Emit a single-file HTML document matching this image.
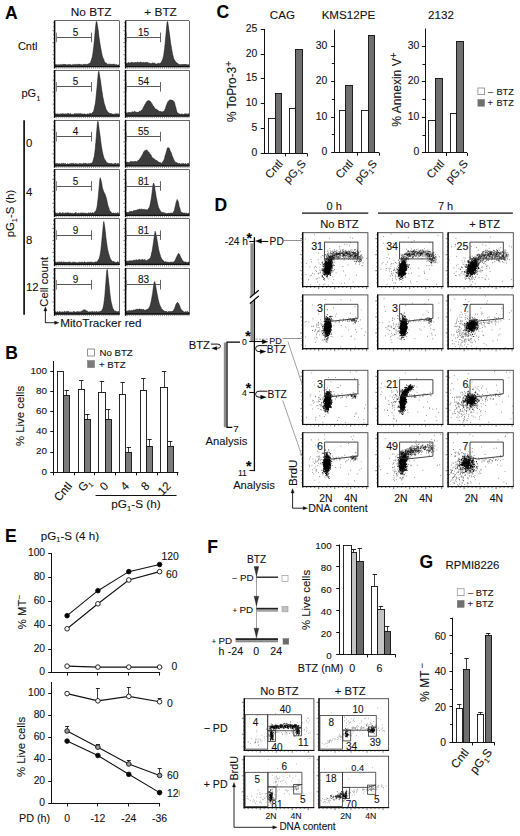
<!DOCTYPE html>
<html><head><meta charset="utf-8"><title>Figure</title>
<style>html,body{margin:0;padding:0;background:#fff;}svg{display:block;}text{font-family:"Liberation Sans", sans-serif;stroke:#111;stroke-width:0.1px;}</style>
</head><body>
<svg width="520" height="836" viewBox="0 0 520 836" font-family="Liberation Sans, sans-serif">
<rect x="0" y="0" width="520" height="836" fill="#fff"/>
<text x="5" y="18.7" font-size="17.5" font-weight="bold" fill="#000">A</text>
<text x="91.15" y="16.3" font-size="11.8" text-anchor="middle" fill="#111">No BTZ</text>
<text x="160.6" y="16.3" font-size="11.8" text-anchor="middle" fill="#111">+ BTZ</text>
<text x="27.7" y="50.2" font-size="11" text-anchor="middle" fill="#111">Cntl</text>
<text x="21.5" y="97.3" font-size="11" fill="#111">pG</text>
<text x="36.4" y="100.5" font-size="7" fill="#111">1</text>
<line x1="24.1" y1="120.2" x2="24.1" y2="314.8" stroke="#111" stroke-width="1.7"/>
<text x="25.9" y="147.2" font-size="11.4" fill="#111">0</text>
<text x="25.9" y="196.3" font-size="11.4" fill="#111">4</text>
<text x="25.9" y="244.4" font-size="11.4" fill="#111">8</text>
<text x="25.9" y="291.1" font-size="11.4" fill="#111">12</text>
<text transform="translate(14.4 213.5) rotate(-90)" font-size="11.3" text-anchor="middle" fill="#111">pG<tspan font-size="7.5" dy="2.6">1</tspan><tspan dy="-2.6">-S (h)</tspan></text>
<text transform="translate(48.2 281.8) rotate(-90)" font-size="11.2" text-anchor="middle" fill="#111">Cell count</text>
<path d="M45.4 323 L45.4 309.5" fill="none" stroke="#111" stroke-width="0.9"/>
<path d="M45.4 306.8 L43.8 311 L47 311 Z" fill="#111" stroke="#111" stroke-width="0.3"/>
<path d="M45.4 322.7 L56 322.7" fill="none" stroke="#111" stroke-width="0.9"/>
<path d="M59 322.7 L54.6 321 L54.6 324.4 Z" fill="#111" stroke="#111" stroke-width="0.3"/>
<text x="60.2" y="326.7" font-size="11.7" fill="#111">MitoTracker red</text>
<path d="M54.6 66.7 L54.6 64.7L55.1 64.9L55.6 64.4L56.1 65.0L56.6 64.5L57.1 64.7L57.6 65.0L58.1 64.5L58.6 65.1L59.1 64.6L59.6 65.0L60.1 65.0L60.6 64.6L61.1 64.2L61.6 65.0L62.1 64.9L62.6 64.4L63.1 64.1L63.6 64.5L64.1 64.7L64.6 64.0L65.1 65.0L65.7 64.2L66.2 64.8L66.7 64.9L67.2 65.0L67.7 64.8L68.2 64.2L68.7 64.9L69.2 64.5L69.7 64.4L70.2 64.7L70.7 64.5L71.2 65.0L71.7 65.0L72.2 64.9L72.7 64.4L73.2 64.6L73.7 64.8L74.2 64.5L74.7 64.6L75.2 64.8L75.7 64.2L76.2 64.3L76.7 64.8L77.2 64.5L77.7 64.5L78.2 64.1L78.7 64.3L79.2 64.8L79.7 64.0L80.2 65.0L80.7 64.6L81.2 64.3L81.7 64.9L82.2 64.6L82.7 65.1L83.2 64.4L83.7 64.3L84.2 64.5L84.7 64.1L85.2 64.7L85.7 64.3L86.2 64.4L86.7 64.4L87.3 64.5L87.8 63.9L88.3 63.7L88.8 64.0L89.3 63.5L89.8 63.7L90.3 62.4L90.8 61.6L91.3 60.0L91.8 58.5L92.3 56.9L92.8 53.9L93.3 50.1L93.8 46.5L94.3 41.0L94.8 35.8L95.3 30.0L95.8 24.7L96.3 21.4L96.8 21.7L97.3 24.4L97.8 27.7L98.3 31.0L98.8 35.7L99.3 39.1L99.8 42.5L100.3 45.5L100.8 48.5L101.3 51.1L101.8 54.0L102.3 55.8L102.8 57.5L103.3 58.4L103.8 59.5L104.3 61.3L104.8 62.1L105.3 62.6L105.8 63.1L106.3 63.2L106.8 63.4L107.3 64.0L107.8 64.5L108.3 64.2L108.9 64.4L109.4 64.2L109.9 63.9L110.4 64.2L110.9 64.4L111.4 64.4L111.9 64.3L112.4 65.0L112.9 64.1L113.4 64.2L113.9 64.1L114.4 64.2L114.9 64.7L115.4 64.7L115.9 65.0L116.4 64.4L116.9 65.0L117.4 65.0L117.9 64.9L118.4 64.9L118.9 64.7L119.4 65.0 L119.4 66.7 Z" fill="#3d3d3d" stroke="#111" stroke-width="0.5"/>
<line x1="54.6" y1="20.5" x2="119.4" y2="20.5" stroke="#555" stroke-width="0.9"/>
<line x1="119.5" y1="20.9" x2="119.5" y2="66.7" stroke="#555" stroke-width="0.9"/>
<line x1="54.6" y1="20.6" x2="54.6" y2="68.5" stroke="#000" stroke-width="1.5"/>
<line x1="54.1" y1="66.7" x2="119.9" y2="66.7" stroke="#111" stroke-width="1.3"/>
<path d="M53.2 62.7h1.4M53.2 58.7h1.4M52.4 54.7h2.2M53.2 50.7h1.4M53.2 46.7h1.4M52.4 42.7h2.2M53.2 38.7h1.4M53.2 34.7h1.4M52.4 30.7h2.2M53.2 26.7h1.4M53.2 22.7h1.4" stroke="#222" stroke-width="0.6"/>
<path d="M56.6 67.2v1.6M58.7 67.2v1.6M60.8 67.2v1.6M62.8 67.2v1.6M64.8 67.2v1.6M66.9 67.2v1.6M69.0 67.2v1.6M71.0 67.2v1.6M73.0 67.2v1.6M75.1 67.2v1.6M77.2 67.2v1.6M79.2 67.2v1.6M81.2 67.2v1.6M83.3 67.2v1.6M85.3 67.2v1.6M87.4 67.2v1.6M89.4 67.2v1.6M91.5 67.2v1.6M93.5 67.2v1.6M95.6 67.2v1.6M97.7 67.2v1.6M99.7 67.2v1.6M101.8 67.2v1.6M103.8 67.2v1.6M105.8 67.2v1.6M107.9 67.2v1.6M109.9 67.2v1.6M112.0 67.2v1.6M114.0 67.2v1.6M116.1 67.2v1.6M118.2 67.2v1.6" stroke="#444" stroke-width="0.55"/>
<line x1="56.4" y1="37.5" x2="91.5" y2="37.5" stroke="#444" stroke-width="0.9"/>
<line x1="56.5" y1="32.6" x2="56.5" y2="42.2" stroke="#777" stroke-width="0.9"/>
<line x1="91.5" y1="32.6" x2="91.5" y2="42.2" stroke="#555" stroke-width="0.9"/>
<text x="75.6" y="35.9" font-size="10" text-anchor="middle" fill="#111">5</text>
<path d="M125.6 66.7 L125.6 63.6L126.1 63.4L126.6 63.4L127.1 63.0L127.6 63.4L128.1 62.4L128.6 62.6L129.1 63.1L129.6 63.0L130.1 62.8L130.6 62.8L131.1 63.0L131.6 62.2L132.1 62.0L132.6 62.5L133.1 62.5L133.6 62.9L134.1 62.9L134.6 62.6L135.1 62.6L135.6 62.0L136.1 62.7L136.6 62.9L137.1 61.9L137.6 62.3L138.1 62.7L138.6 62.3L139.1 62.9L139.6 62.3L140.1 61.9L140.6 62.0L141.1 62.2L141.6 62.7L142.1 62.6L142.6 62.9L143.1 62.2L143.6 62.5L144.1 62.3L144.6 62.8L145.1 62.9L145.6 62.3L146.1 62.2L146.6 62.4L147.1 62.5L147.6 62.5L148.1 62.6L148.6 63.2L149.1 63.0L149.6 63.2L150.1 63.6L150.6 63.6L151.1 63.4L151.6 63.5L152.1 63.1L152.6 62.8L153.1 63.4L153.6 62.9L154.1 62.9L154.6 63.0L155.1 63.7L155.6 63.9L156.1 63.9L156.6 64.0L157.1 64.0L157.6 63.6L158.1 63.3L158.6 63.3L159.1 63.7L159.6 63.4L160.1 63.0L160.6 63.6L161.1 62.5L161.6 61.6L162.1 60.8L162.6 59.5L163.1 58.0L163.6 56.0L164.1 52.2L164.6 48.9L165.1 43.7L165.6 38.1L166.1 33.0L166.6 27.2L167.1 21.9L167.6 21.4L168.1 24.2L168.6 27.7L169.1 31.6L169.6 34.8L170.1 38.8L170.6 43.2L171.1 45.8L171.6 48.7L172.1 51.8L172.6 54.4L173.1 56.2L173.6 58.3L174.1 59.8L174.6 59.9L175.1 61.1L175.6 62.0L176.1 62.1L176.6 63.1L177.1 63.0L177.6 63.3L178.1 64.2L178.6 64.3L179.1 64.4L179.6 64.6L180.1 64.3L180.6 64.7L181.1 64.5L181.6 64.9L182.1 64.0L182.6 64.7L183.1 64.6L183.6 64.4L184.1 64.1L184.6 64.6L185.1 64.1L185.6 64.5L186.1 64.5L186.6 64.5L187.1 65.1L187.6 64.6L188.1 64.9L188.6 65.1L189.1 64.2 L189.1 66.7 Z" fill="#3d3d3d" stroke="#111" stroke-width="0.5"/>
<line x1="125.6" y1="20.5" x2="189.1" y2="20.5" stroke="#555" stroke-width="0.9"/>
<line x1="189.5" y1="20.9" x2="189.5" y2="66.7" stroke="#555" stroke-width="0.9"/>
<line x1="125.6" y1="20.6" x2="125.6" y2="68.5" stroke="#000" stroke-width="1.5"/>
<line x1="125.1" y1="66.7" x2="189.6" y2="66.7" stroke="#111" stroke-width="1.3"/>
<path d="M124.2 62.7h1.4M124.2 58.7h1.4M123.4 54.7h2.2M124.2 50.7h1.4M124.2 46.7h1.4M123.4 42.7h2.2M124.2 38.7h1.4M124.2 34.7h1.4M123.4 30.7h2.2M124.2 26.7h1.4M124.2 22.7h1.4" stroke="#222" stroke-width="0.6"/>
<path d="M127.6 67.2v1.6M129.7 67.2v1.6M131.8 67.2v1.6M133.8 67.2v1.6M135.8 67.2v1.6M137.9 67.2v1.6M139.9 67.2v1.6M142.0 67.2v1.6M144.0 67.2v1.6M146.1 67.2v1.6M148.1 67.2v1.6M150.2 67.2v1.6M152.2 67.2v1.6M154.3 67.2v1.6M156.3 67.2v1.6M158.4 67.2v1.6M160.4 67.2v1.6M162.5 67.2v1.6M164.5 67.2v1.6M166.6 67.2v1.6M168.6 67.2v1.6M170.7 67.2v1.6M172.8 67.2v1.6M174.8 67.2v1.6M176.8 67.2v1.6M178.9 67.2v1.6M180.9 67.2v1.6M183.0 67.2v1.6M185.0 67.2v1.6M187.1 67.2v1.6M189.1 67.2v1.6" stroke="#444" stroke-width="0.55"/>
<line x1="126.8" y1="37.5" x2="160.7" y2="37.5" stroke="#444" stroke-width="0.9"/>
<line x1="126.5" y1="32.6" x2="126.5" y2="42.2" stroke="#777" stroke-width="0.9"/>
<line x1="160.5" y1="32.6" x2="160.5" y2="42.2" stroke="#555" stroke-width="0.9"/>
<text x="143.6" y="35.9" font-size="10" text-anchor="middle" fill="#111">15</text>
<path d="M54.6 116.1 L54.6 114.3L55.1 114.0L55.6 113.7L56.1 113.9L56.6 114.1L57.1 113.9L57.6 113.9L58.1 113.6L58.6 114.4L59.1 113.9L59.6 114.2L60.1 114.2L60.6 113.7L61.1 113.9L61.6 113.9L62.1 113.7L62.6 113.5L63.1 114.0L63.6 113.8L64.1 113.9L64.6 113.9L65.1 113.7L65.7 114.0L66.2 113.9L66.7 114.0L67.2 113.5L67.7 113.7L68.2 113.5L68.7 113.5L69.2 114.2L69.7 113.9L70.2 113.5L70.7 113.6L71.2 114.3L71.7 114.4L72.2 114.0L72.7 114.4L73.2 114.2L73.7 114.4L74.2 113.8L74.7 113.6L75.2 113.5L75.7 114.3L76.2 113.7L76.7 113.8L77.2 114.3L77.7 113.5L78.2 113.4L78.7 114.3L79.2 113.5L79.7 114.1L80.2 114.0L80.7 113.4L81.2 113.6L81.7 114.3L82.2 114.0L82.7 113.9L83.2 114.1L83.7 114.3L84.2 114.1L84.7 113.7L85.2 114.5L85.7 113.9L86.2 114.0L86.7 114.5L87.3 114.1L87.8 113.8L88.3 113.9L88.8 114.4L89.3 113.4L89.8 113.5L90.3 113.3L90.8 114.1L91.3 113.8L91.8 113.8L92.3 112.6L92.8 112.6L93.3 112.0L93.8 110.5L94.3 108.3L94.8 106.1L95.3 103.8L95.8 100.1L96.3 94.6L96.8 89.5L97.3 83.4L97.8 78.1L98.3 73.0L98.8 71.2L99.3 73.6L99.8 76.9L100.3 79.4L100.8 83.2L101.3 86.6L101.8 90.8L102.3 93.1L102.8 96.9L103.3 98.7L103.8 101.5L104.3 103.7L104.8 105.3L105.3 106.4L105.8 108.5L106.3 109.7L106.8 110.2L107.3 111.3L107.8 112.0L108.3 112.5L108.9 113.0L109.4 113.2L109.9 113.3L110.4 113.5L110.9 113.2L111.4 113.8L111.9 113.7L112.4 114.1L112.9 114.0L113.4 114.4L113.9 114.1L114.4 114.4L114.9 113.6L115.4 113.9L115.9 114.3L116.4 114.0L116.9 113.5L117.4 114.4L117.9 113.6L118.4 114.0L118.9 114.0L119.4 113.6 L119.4 116.1 Z" fill="#3d3d3d" stroke="#111" stroke-width="0.5"/>
<line x1="54.6" y1="70.5" x2="119.4" y2="70.5" stroke="#555" stroke-width="0.9"/>
<line x1="119.5" y1="70.3" x2="119.5" y2="116.1" stroke="#555" stroke-width="0.9"/>
<line x1="54.6" y1="70" x2="54.6" y2="117.9" stroke="#000" stroke-width="1.5"/>
<line x1="54.1" y1="116.1" x2="119.9" y2="116.1" stroke="#111" stroke-width="1.3"/>
<path d="M53.2 112.1h1.4M53.2 108.1h1.4M52.4 104.1h2.2M53.2 100.1h1.4M53.2 96.1h1.4M52.4 92.1h2.2M53.2 88.1h1.4M53.2 84.1h1.4M52.4 80.1h2.2M53.2 76.1h1.4M53.2 72.1h1.4" stroke="#222" stroke-width="0.6"/>
<path d="M56.6 116.6v1.6M58.7 116.6v1.6M60.8 116.6v1.6M62.8 116.6v1.6M64.8 116.6v1.6M66.9 116.6v1.6M69.0 116.6v1.6M71.0 116.6v1.6M73.0 116.6v1.6M75.1 116.6v1.6M77.2 116.6v1.6M79.2 116.6v1.6M81.2 116.6v1.6M83.3 116.6v1.6M85.3 116.6v1.6M87.4 116.6v1.6M89.4 116.6v1.6M91.5 116.6v1.6M93.5 116.6v1.6M95.6 116.6v1.6M97.7 116.6v1.6M99.7 116.6v1.6M101.8 116.6v1.6M103.8 116.6v1.6M105.8 116.6v1.6M107.9 116.6v1.6M109.9 116.6v1.6M112.0 116.6v1.6M114.0 116.6v1.6M116.1 116.6v1.6M118.2 116.6v1.6" stroke="#444" stroke-width="0.55"/>
<line x1="56.4" y1="86.5" x2="91.5" y2="86.5" stroke="#444" stroke-width="0.9"/>
<line x1="56.5" y1="82" x2="56.5" y2="91.6" stroke="#777" stroke-width="0.9"/>
<line x1="91.5" y1="82" x2="91.5" y2="91.6" stroke="#555" stroke-width="0.9"/>
<text x="75.6" y="85.3" font-size="10" text-anchor="middle" fill="#111">5</text>
<path d="M125.6 116.1 L125.6 113.5L126.1 113.2L126.6 112.9L127.1 112.5L127.6 113.1L128.1 112.4L128.6 112.4L129.1 112.3L129.6 112.5L130.1 112.4L130.6 112.6L131.1 112.4L131.6 112.4L132.1 111.6L132.6 112.1L133.1 112.1L133.6 112.2L134.1 111.4L134.6 111.4L135.1 111.6L135.6 112.1L136.1 112.2L136.6 112.2L137.1 112.1L137.6 112.5L138.1 112.1L138.6 112.3L139.1 111.5L139.6 111.3L140.1 111.6L140.6 111.6L141.1 110.3L141.6 110.5L142.1 109.8L142.6 109.5L143.1 108.2L143.6 107.1L144.1 106.1L144.6 105.4L145.1 104.0L145.6 103.6L146.1 102.4L146.6 101.9L147.1 101.0L147.6 101.0L148.1 100.8L148.6 100.6L149.1 100.9L149.6 100.8L150.1 101.4L150.6 101.7L151.1 102.5L151.6 103.2L152.1 103.8L152.6 105.2L153.1 106.1L153.6 106.1L154.1 107.7L154.6 107.7L155.1 108.4L155.6 109.5L156.1 109.1L156.6 109.3L157.1 110.0L157.6 110.1L158.1 110.3L158.6 111.3L159.1 111.1L159.6 111.4L160.1 111.2L160.6 111.5L161.1 111.6L161.6 112.0L162.1 111.7L162.6 111.8L163.1 111.5L163.6 111.6L164.1 111.1L164.6 110.2L165.1 108.9L165.6 108.0L166.1 105.9L166.6 104.9L167.1 103.6L167.6 102.4L168.1 101.4L168.6 100.9L169.1 100.9L169.6 99.8L170.1 99.8L170.6 100.1L171.1 100.2L171.6 100.1L172.1 100.7L172.6 100.0L173.1 100.7L173.6 101.2L174.1 101.7L174.6 102.7L175.1 105.2L175.6 106.8L176.1 108.7L176.6 110.9L177.1 112.3L177.6 113.0L178.1 113.3L178.6 113.4L179.1 113.7L179.6 113.8L180.1 114.4L180.6 114.3L181.1 114.2L181.6 113.7L182.1 114.2L182.6 113.9L183.1 114.5L183.6 114.4L184.1 114.2L184.6 113.8L185.1 113.7L185.6 113.8L186.1 114.2L186.6 113.9L187.1 114.0L187.6 114.0L188.1 114.4L188.6 113.5L189.1 114.3 L189.1 116.1 Z" fill="#3d3d3d" stroke="#111" stroke-width="0.5"/>
<line x1="125.6" y1="70.5" x2="189.1" y2="70.5" stroke="#555" stroke-width="0.9"/>
<line x1="189.5" y1="70.3" x2="189.5" y2="116.1" stroke="#555" stroke-width="0.9"/>
<line x1="125.6" y1="70" x2="125.6" y2="117.9" stroke="#000" stroke-width="1.5"/>
<line x1="125.1" y1="116.1" x2="189.6" y2="116.1" stroke="#111" stroke-width="1.3"/>
<path d="M124.2 112.1h1.4M124.2 108.1h1.4M123.4 104.1h2.2M124.2 100.1h1.4M124.2 96.1h1.4M123.4 92.1h2.2M124.2 88.1h1.4M124.2 84.1h1.4M123.4 80.1h2.2M124.2 76.1h1.4M124.2 72.1h1.4" stroke="#222" stroke-width="0.6"/>
<path d="M127.6 116.6v1.6M129.7 116.6v1.6M131.8 116.6v1.6M133.8 116.6v1.6M135.8 116.6v1.6M137.9 116.6v1.6M139.9 116.6v1.6M142.0 116.6v1.6M144.0 116.6v1.6M146.1 116.6v1.6M148.1 116.6v1.6M150.2 116.6v1.6M152.2 116.6v1.6M154.3 116.6v1.6M156.3 116.6v1.6M158.4 116.6v1.6M160.4 116.6v1.6M162.5 116.6v1.6M164.5 116.6v1.6M166.6 116.6v1.6M168.6 116.6v1.6M170.7 116.6v1.6M172.8 116.6v1.6M174.8 116.6v1.6M176.8 116.6v1.6M178.9 116.6v1.6M180.9 116.6v1.6M183.0 116.6v1.6M185.0 116.6v1.6M187.1 116.6v1.6M189.1 116.6v1.6" stroke="#444" stroke-width="0.55"/>
<line x1="126.8" y1="86.5" x2="160.7" y2="86.5" stroke="#444" stroke-width="0.9"/>
<line x1="126.5" y1="82" x2="126.5" y2="91.6" stroke="#777" stroke-width="0.9"/>
<line x1="160.5" y1="82" x2="160.5" y2="91.6" stroke="#555" stroke-width="0.9"/>
<text x="143.6" y="85.3" font-size="10" text-anchor="middle" fill="#111">54</text>
<path d="M54.6 165.9 L54.6 163.2L55.1 163.3L55.6 164.3L56.1 163.8L56.6 163.4L57.1 163.2L57.6 163.8L58.1 164.0L58.6 164.1L59.1 163.3L59.6 164.1L60.1 163.7L60.6 164.1L61.1 163.7L61.6 163.3L62.1 164.2L62.6 163.4L63.1 163.7L63.6 163.3L64.1 163.5L64.6 164.0L65.1 163.3L65.7 163.8L66.2 164.3L66.7 164.3L67.2 163.8L67.7 163.8L68.2 164.0L68.7 164.1L69.2 163.9L69.7 164.0L70.2 163.4L70.7 164.3L71.2 163.5L71.7 163.4L72.2 164.2L72.7 163.3L73.2 163.5L73.7 163.3L74.2 164.0L74.7 163.9L75.2 163.9L75.7 163.2L76.2 163.7L76.7 163.9L77.2 163.8L77.7 164.0L78.2 164.2L78.7 164.2L79.2 163.4L79.7 164.0L80.2 163.3L80.7 164.0L81.2 164.0L81.7 163.7L82.2 164.1L82.7 163.9L83.2 163.2L83.7 163.3L84.2 163.4L84.7 163.6L85.2 163.3L85.7 163.3L86.2 163.7L86.7 163.5L87.3 164.2L87.8 163.5L88.3 163.8L88.8 163.4L89.3 163.5L89.8 163.9L90.3 164.1L90.8 163.0L91.3 163.6L91.8 162.9L92.3 162.5L92.8 161.7L93.3 160.0L93.8 158.0L94.3 156.2L94.8 152.4L95.3 148.4L95.8 142.7L96.3 136.5L96.8 130.1L97.3 124.0L97.8 121.2L98.3 122.7L98.8 126.4L99.3 130.5L99.8 133.7L100.3 137.5L100.8 141.8L101.3 145.6L101.8 148.6L102.3 151.4L102.8 153.5L103.3 155.8L103.8 157.3L104.3 158.7L104.8 159.5L105.3 160.1L105.8 161.0L106.3 161.9L106.8 162.4L107.3 162.6L107.8 163.1L108.3 163.3L108.9 163.8L109.4 163.7L109.9 163.0L110.4 164.0L110.9 163.6L111.4 163.5L111.9 163.3L112.4 164.0L112.9 164.0L113.4 164.0L113.9 163.8L114.4 163.8L114.9 163.2L115.4 163.4L115.9 163.3L116.4 164.3L116.9 164.3L117.4 163.5L117.9 163.3L118.4 163.8L118.9 163.7L119.4 164.3 L119.4 165.9 Z" fill="#3d3d3d" stroke="#111" stroke-width="0.5"/>
<line x1="54.6" y1="120.5" x2="119.4" y2="120.5" stroke="#555" stroke-width="0.9"/>
<line x1="119.5" y1="120.1" x2="119.5" y2="165.9" stroke="#555" stroke-width="0.9"/>
<line x1="54.6" y1="119.8" x2="54.6" y2="167.7" stroke="#000" stroke-width="1.5"/>
<line x1="54.1" y1="165.9" x2="119.9" y2="165.9" stroke="#111" stroke-width="1.3"/>
<path d="M53.2 161.9h1.4M53.2 157.9h1.4M52.4 153.9h2.2M53.2 149.9h1.4M53.2 145.9h1.4M52.4 141.9h2.2M53.2 137.9h1.4M53.2 133.9h1.4M52.4 129.9h2.2M53.2 125.9h1.4M53.2 121.9h1.4" stroke="#222" stroke-width="0.6"/>
<path d="M56.6 166.4v1.6M58.7 166.4v1.6M60.8 166.4v1.6M62.8 166.4v1.6M64.8 166.4v1.6M66.9 166.4v1.6M69.0 166.4v1.6M71.0 166.4v1.6M73.0 166.4v1.6M75.1 166.4v1.6M77.2 166.4v1.6M79.2 166.4v1.6M81.2 166.4v1.6M83.3 166.4v1.6M85.3 166.4v1.6M87.4 166.4v1.6M89.4 166.4v1.6M91.5 166.4v1.6M93.5 166.4v1.6M95.6 166.4v1.6M97.7 166.4v1.6M99.7 166.4v1.6M101.8 166.4v1.6M103.8 166.4v1.6M105.8 166.4v1.6M107.9 166.4v1.6M109.9 166.4v1.6M112.0 166.4v1.6M114.0 166.4v1.6M116.1 166.4v1.6M118.2 166.4v1.6" stroke="#444" stroke-width="0.55"/>
<line x1="56.4" y1="136.5" x2="91.5" y2="136.5" stroke="#444" stroke-width="0.9"/>
<line x1="56.5" y1="131.8" x2="56.5" y2="141.4" stroke="#777" stroke-width="0.9"/>
<line x1="91.5" y1="131.8" x2="91.5" y2="141.4" stroke="#555" stroke-width="0.9"/>
<text x="75.6" y="135.1" font-size="10" text-anchor="middle" fill="#111">4</text>
<path d="M125.6 165.9 L125.6 163.1L126.1 162.4L126.6 162.4L127.1 162.3L127.6 162.0L128.1 162.7L128.6 162.7L129.1 162.6L129.6 162.0L130.1 161.8L130.6 161.4L131.1 161.6L131.6 161.6L132.1 161.4L132.6 161.7L133.1 161.6L133.6 162.1L134.1 161.3L134.6 161.9L135.1 161.1L135.6 161.4L136.1 161.7L136.6 161.7L137.1 161.4L137.6 160.7L138.1 160.3L138.6 160.6L139.1 160.1L139.6 159.0L140.1 158.3L140.6 157.8L141.1 157.1L141.6 155.8L142.1 155.6L142.6 154.3L143.1 153.3L143.6 151.9L144.1 151.5L144.6 150.7L145.1 150.6L145.6 150.6L146.1 150.5L146.6 149.7L147.1 150.2L147.6 151.0L148.1 151.8L148.6 151.9L149.1 152.4L149.6 153.4L150.1 154.3L150.6 154.6L151.1 155.1L151.6 156.6L152.1 157.5L152.6 157.8L153.1 158.2L153.6 158.4L154.1 159.4L154.6 159.1L155.1 159.5L155.6 160.1L156.1 160.7L156.6 160.2L157.1 161.2L157.6 161.0L158.1 162.0L158.6 162.3L159.1 162.0L159.6 162.7L160.1 162.2L160.6 162.9L161.1 163.3L161.6 163.2L162.1 162.8L162.6 162.1L163.1 161.1L163.6 161.1L164.1 159.6L164.6 158.2L165.1 155.6L165.6 154.5L166.1 152.7L166.6 150.9L167.1 149.1L167.6 147.7L168.1 147.5L168.6 147.9L169.1 148.1L169.6 149.0L170.1 150.6L170.6 151.9L171.1 152.4L171.6 153.9L172.1 156.0L172.6 156.6L173.1 158.1L173.6 159.2L174.1 160.2L174.6 161.2L175.1 162.0L175.6 162.3L176.1 162.7L176.6 162.3L177.1 163.5L177.6 162.8L178.1 163.8L178.6 163.7L179.1 163.3L179.6 163.3L180.1 163.8L180.6 164.2L181.1 163.8L181.6 163.9L182.1 163.3L182.6 164.1L183.1 163.9L183.6 163.3L184.1 164.3L184.6 163.8L185.1 163.4L185.6 163.5L186.1 164.3L186.6 164.3L187.1 164.2L187.6 163.3L188.1 164.0L188.6 163.5L189.1 163.3 L189.1 165.9 Z" fill="#3d3d3d" stroke="#111" stroke-width="0.5"/>
<line x1="125.6" y1="120.5" x2="189.1" y2="120.5" stroke="#555" stroke-width="0.9"/>
<line x1="189.5" y1="120.1" x2="189.5" y2="165.9" stroke="#555" stroke-width="0.9"/>
<line x1="125.6" y1="119.8" x2="125.6" y2="167.7" stroke="#000" stroke-width="1.5"/>
<line x1="125.1" y1="165.9" x2="189.6" y2="165.9" stroke="#111" stroke-width="1.3"/>
<path d="M124.2 161.9h1.4M124.2 157.9h1.4M123.4 153.9h2.2M124.2 149.9h1.4M124.2 145.9h1.4M123.4 141.9h2.2M124.2 137.9h1.4M124.2 133.9h1.4M123.4 129.9h2.2M124.2 125.9h1.4M124.2 121.9h1.4" stroke="#222" stroke-width="0.6"/>
<path d="M127.6 166.4v1.6M129.7 166.4v1.6M131.8 166.4v1.6M133.8 166.4v1.6M135.8 166.4v1.6M137.9 166.4v1.6M139.9 166.4v1.6M142.0 166.4v1.6M144.0 166.4v1.6M146.1 166.4v1.6M148.1 166.4v1.6M150.2 166.4v1.6M152.2 166.4v1.6M154.3 166.4v1.6M156.3 166.4v1.6M158.4 166.4v1.6M160.4 166.4v1.6M162.5 166.4v1.6M164.5 166.4v1.6M166.6 166.4v1.6M168.6 166.4v1.6M170.7 166.4v1.6M172.8 166.4v1.6M174.8 166.4v1.6M176.8 166.4v1.6M178.9 166.4v1.6M180.9 166.4v1.6M183.0 166.4v1.6M185.0 166.4v1.6M187.1 166.4v1.6M189.1 166.4v1.6" stroke="#444" stroke-width="0.55"/>
<line x1="126.8" y1="136.5" x2="160.7" y2="136.5" stroke="#444" stroke-width="0.9"/>
<line x1="126.5" y1="131.8" x2="126.5" y2="141.4" stroke="#777" stroke-width="0.9"/>
<line x1="160.5" y1="131.8" x2="160.5" y2="141.4" stroke="#555" stroke-width="0.9"/>
<text x="143.6" y="135.1" font-size="10" text-anchor="middle" fill="#111">55</text>
<path d="M54.6 215.3 L54.6 213.3L55.1 213.4L55.6 212.6L56.1 213.0L56.6 213.4L57.1 212.9L57.6 213.4L58.1 213.4L58.6 213.7L59.1 212.9L59.6 212.7L60.1 213.0L60.6 212.7L61.1 213.7L61.6 213.4L62.1 213.2L62.6 212.6L63.1 212.7L63.6 213.3L64.1 213.4L64.6 213.2L65.1 213.2L65.7 212.7L66.2 213.5L66.7 212.8L67.2 212.9L67.7 212.8L68.2 212.8L68.7 213.0L69.2 213.3L69.7 213.3L70.2 213.3L70.7 212.8L71.2 213.6L71.7 213.5L72.2 212.9L72.7 213.4L73.2 213.6L73.7 213.7L74.2 213.1L74.7 213.3L75.2 212.6L75.7 212.7L76.2 212.6L76.7 213.4L77.2 213.6L77.7 213.6L78.2 213.2L78.7 212.9L79.2 213.2L79.7 213.4L80.2 213.2L80.7 213.0L81.2 213.0L81.7 212.9L82.2 212.8L82.7 213.0L83.2 213.6L83.7 212.8L84.2 213.4L84.7 213.1L85.2 213.3L85.7 212.9L86.2 213.5L86.7 213.4L87.3 213.4L87.8 213.5L88.3 212.7L88.8 213.1L89.3 213.3L89.8 213.3L90.3 212.6L90.8 213.1L91.3 213.4L91.8 212.8L92.3 212.9L92.8 212.5L93.3 213.4L93.8 212.9L94.3 212.3L94.8 211.9L95.3 211.2L95.8 211.3L96.3 209.7L96.8 207.9L97.3 205.1L97.8 200.7L98.3 196.5L98.8 190.8L99.3 185.5L99.8 179.6L100.3 177.7L100.8 179.7L101.3 181.5L101.8 184.0L102.3 187.3L102.8 188.9L103.3 190.5L103.8 192.1L104.3 192.8L104.8 193.9L105.3 195.0L105.8 196.6L106.3 198.1L106.8 200.1L107.3 202.7L107.8 205.1L108.3 206.7L108.9 208.0L109.4 210.0L109.9 210.9L110.4 211.8L110.9 211.7L111.4 212.4L111.9 213.2L112.4 213.3L112.9 213.1L113.4 213.0L113.9 212.9L114.4 213.5L114.9 213.5L115.4 212.9L115.9 213.2L116.4 213.4L116.9 213.4L117.4 212.6L117.9 213.4L118.4 213.1L118.9 213.3L119.4 213.2 L119.4 215.3 Z" fill="#3d3d3d" stroke="#111" stroke-width="0.5"/>
<line x1="54.6" y1="169.5" x2="119.4" y2="169.5" stroke="#555" stroke-width="0.9"/>
<line x1="119.5" y1="169.5" x2="119.5" y2="215.3" stroke="#555" stroke-width="0.9"/>
<line x1="54.6" y1="169.2" x2="54.6" y2="217.1" stroke="#000" stroke-width="1.5"/>
<line x1="54.1" y1="215.3" x2="119.9" y2="215.3" stroke="#111" stroke-width="1.3"/>
<path d="M53.2 211.3h1.4M53.2 207.3h1.4M52.4 203.3h2.2M53.2 199.3h1.4M53.2 195.3h1.4M52.4 191.3h2.2M53.2 187.3h1.4M53.2 183.3h1.4M52.4 179.3h2.2M53.2 175.3h1.4M53.2 171.3h1.4" stroke="#222" stroke-width="0.6"/>
<path d="M56.6 215.8v1.6M58.7 215.8v1.6M60.8 215.8v1.6M62.8 215.8v1.6M64.8 215.8v1.6M66.9 215.8v1.6M69.0 215.8v1.6M71.0 215.8v1.6M73.0 215.8v1.6M75.1 215.8v1.6M77.2 215.8v1.6M79.2 215.8v1.6M81.2 215.8v1.6M83.3 215.8v1.6M85.3 215.8v1.6M87.4 215.8v1.6M89.4 215.8v1.6M91.5 215.8v1.6M93.5 215.8v1.6M95.6 215.8v1.6M97.7 215.8v1.6M99.7 215.8v1.6M101.8 215.8v1.6M103.8 215.8v1.6M105.8 215.8v1.6M107.9 215.8v1.6M109.9 215.8v1.6M112.0 215.8v1.6M114.0 215.8v1.6M116.1 215.8v1.6M118.2 215.8v1.6" stroke="#444" stroke-width="0.55"/>
<line x1="56.4" y1="186.5" x2="91.5" y2="186.5" stroke="#444" stroke-width="0.9"/>
<line x1="56.5" y1="181.2" x2="56.5" y2="190.8" stroke="#777" stroke-width="0.9"/>
<line x1="91.5" y1="181.2" x2="91.5" y2="190.8" stroke="#555" stroke-width="0.9"/>
<text x="75.6" y="184.5" font-size="10" text-anchor="middle" fill="#111">5</text>
<path d="M125.6 215.3 L125.6 212.2L126.1 212.0L126.6 212.6L127.1 212.7L127.6 212.1L128.1 212.6L128.6 212.7L129.1 211.6L129.6 212.0L130.1 211.4L130.6 211.8L131.1 211.1L131.6 211.5L132.1 211.6L132.6 211.7L133.1 210.9L133.6 210.7L134.1 210.3L134.6 211.0L135.1 210.3L135.6 210.4L136.1 210.1L136.6 210.4L137.1 210.1L137.6 209.8L138.1 209.2L138.6 210.0L139.1 209.5L139.6 209.1L140.1 208.9L140.6 209.7L141.1 209.8L141.6 208.9L142.1 208.8L142.6 209.4L143.1 209.9L143.6 209.1L144.1 209.7L144.6 209.3L145.1 209.7L145.6 209.5L146.1 210.3L146.6 209.6L147.1 210.2L147.6 209.8L148.1 208.9L148.6 208.3L149.1 208.1L149.6 206.7L150.1 204.8L150.6 202.3L151.1 199.6L151.6 196.5L152.1 192.6L152.6 188.1L153.1 184.4L153.6 183.1L154.1 184.2L154.6 186.6L155.1 190.5L155.6 192.8L156.1 196.6L156.6 198.9L157.1 201.5L157.6 203.7L158.1 205.9L158.6 207.4L159.1 208.5L159.6 209.8L160.1 210.3L160.6 211.2L161.1 211.7L161.6 212.6L162.1 212.2L162.6 212.6L163.1 213.0L163.6 212.6L164.1 212.6L164.6 213.1L165.1 213.4L165.6 213.1L166.1 213.5L166.6 213.5L167.1 213.2L167.6 213.6L168.1 213.2L168.6 213.1L169.1 213.7L169.6 213.0L170.1 213.6L170.6 212.9L171.1 212.8L171.6 213.1L172.1 213.6L172.6 212.9L173.1 212.8L173.6 211.6L174.1 211.5L174.6 209.2L175.1 207.0L175.6 204.9L176.1 202.4L176.6 201.2L177.1 199.4L177.6 200.3L178.1 201.0L178.6 202.9L179.1 206.0L179.6 207.4L180.1 209.1L180.6 211.4L181.1 212.1L181.6 212.2L182.1 213.2L182.6 212.6L183.1 213.3L183.6 212.8L184.1 213.5L184.6 213.1L185.1 212.7L185.6 213.5L186.1 213.4L186.6 213.1L187.1 213.3L187.6 213.7L188.1 213.5L188.6 213.5L189.1 212.7 L189.1 215.3 Z" fill="#3d3d3d" stroke="#111" stroke-width="0.5"/>
<line x1="125.6" y1="169.5" x2="189.1" y2="169.5" stroke="#555" stroke-width="0.9"/>
<line x1="189.5" y1="169.5" x2="189.5" y2="215.3" stroke="#555" stroke-width="0.9"/>
<line x1="125.6" y1="169.2" x2="125.6" y2="217.1" stroke="#000" stroke-width="1.5"/>
<line x1="125.1" y1="215.3" x2="189.6" y2="215.3" stroke="#111" stroke-width="1.3"/>
<path d="M124.2 211.3h1.4M124.2 207.3h1.4M123.4 203.3h2.2M124.2 199.3h1.4M124.2 195.3h1.4M123.4 191.3h2.2M124.2 187.3h1.4M124.2 183.3h1.4M123.4 179.3h2.2M124.2 175.3h1.4M124.2 171.3h1.4" stroke="#222" stroke-width="0.6"/>
<path d="M127.6 215.8v1.6M129.7 215.8v1.6M131.8 215.8v1.6M133.8 215.8v1.6M135.8 215.8v1.6M137.9 215.8v1.6M139.9 215.8v1.6M142.0 215.8v1.6M144.0 215.8v1.6M146.1 215.8v1.6M148.1 215.8v1.6M150.2 215.8v1.6M152.2 215.8v1.6M154.3 215.8v1.6M156.3 215.8v1.6M158.4 215.8v1.6M160.4 215.8v1.6M162.5 215.8v1.6M164.5 215.8v1.6M166.6 215.8v1.6M168.6 215.8v1.6M170.7 215.8v1.6M172.8 215.8v1.6M174.8 215.8v1.6M176.8 215.8v1.6M178.9 215.8v1.6M180.9 215.8v1.6M183.0 215.8v1.6M185.0 215.8v1.6M187.1 215.8v1.6M189.1 215.8v1.6" stroke="#444" stroke-width="0.55"/>
<line x1="126.8" y1="186.5" x2="160.7" y2="186.5" stroke="#444" stroke-width="0.9"/>
<line x1="126.5" y1="181.2" x2="126.5" y2="190.8" stroke="#777" stroke-width="0.9"/>
<line x1="160.5" y1="181.2" x2="160.5" y2="190.8" stroke="#555" stroke-width="0.9"/>
<text x="143.6" y="184.5" font-size="10" text-anchor="middle" fill="#111">81</text>
<path d="M54.6 264.4 L54.6 262.1L55.1 261.8L55.6 262.6L56.1 261.9L56.6 262.7L57.1 262.2L57.6 262.1L58.1 262.4L58.6 261.8L59.1 262.2L59.6 262.2L60.1 261.8L60.6 262.7L61.1 261.7L61.6 262.1L62.1 262.4L62.6 261.9L63.1 262.5L63.6 261.7L64.1 262.2L64.6 262.4L65.1 262.0L65.7 262.3L66.2 262.6L66.7 262.0L67.2 262.7L67.7 261.9L68.2 262.5L68.7 262.1L69.2 261.7L69.7 262.2L70.2 262.1L70.7 262.5L71.2 262.8L71.7 262.8L72.2 262.6L72.7 262.1L73.2 262.3L73.7 262.2L74.2 261.8L74.7 262.7L75.2 262.6L75.7 262.1L76.2 262.8L76.7 262.8L77.2 262.4L77.7 262.7L78.2 262.4L78.7 262.6L79.2 262.2L79.7 262.2L80.2 262.6L80.7 262.1L81.2 262.3L81.7 262.7L82.2 261.8L82.7 262.5L83.2 262.6L83.7 262.7L84.2 262.1L84.7 261.8L85.2 261.9L85.7 262.4L86.2 262.5L86.7 262.8L87.3 262.1L87.8 262.2L88.3 262.4L88.8 262.1L89.3 262.3L89.8 261.8L90.3 262.0L90.8 262.5L91.3 261.8L91.8 262.7L92.3 262.2L92.8 262.3L93.3 262.5L93.8 262.7L94.3 261.9L94.8 262.7L95.3 262.1L95.8 261.6L96.3 262.3L96.8 262.1L97.3 261.3L97.8 261.0L98.3 260.1L98.8 259.0L99.3 258.3L99.8 256.2L100.3 253.7L100.8 250.7L101.3 245.7L101.8 240.9L102.3 235.5L102.8 230.5L103.3 224.4L103.8 221.5L104.3 224.0L104.8 227.3L105.3 231.7L105.8 236.2L106.3 240.4L106.8 244.0L107.3 247.6L107.8 250.2L108.3 252.3L108.9 254.4L109.4 256.0L109.9 257.5L110.4 259.1L110.9 259.6L111.4 260.4L111.9 260.6L112.4 261.2L112.9 261.8L113.4 261.6L113.9 261.4L114.4 262.3L114.9 261.7L115.4 262.7L115.9 262.4L116.4 262.5L116.9 261.9L117.4 261.7L117.9 262.0L118.4 262.4L118.9 261.8L119.4 262.4 L119.4 264.4 Z" fill="#3d3d3d" stroke="#111" stroke-width="0.5"/>
<line x1="54.6" y1="218.5" x2="119.4" y2="218.5" stroke="#555" stroke-width="0.9"/>
<line x1="119.5" y1="218.6" x2="119.5" y2="264.4" stroke="#555" stroke-width="0.9"/>
<line x1="54.6" y1="218.3" x2="54.6" y2="266.2" stroke="#000" stroke-width="1.5"/>
<line x1="54.1" y1="264.4" x2="119.9" y2="264.4" stroke="#111" stroke-width="1.3"/>
<path d="M53.2 260.4h1.4M53.2 256.4h1.4M52.4 252.4h2.2M53.2 248.4h1.4M53.2 244.4h1.4M52.4 240.4h2.2M53.2 236.4h1.4M53.2 232.4h1.4M52.4 228.4h2.2M53.2 224.4h1.4M53.2 220.4h1.4" stroke="#222" stroke-width="0.6"/>
<path d="M56.6 264.9v1.6M58.7 264.9v1.6M60.8 264.9v1.6M62.8 264.9v1.6M64.8 264.9v1.6M66.9 264.9v1.6M69.0 264.9v1.6M71.0 264.9v1.6M73.0 264.9v1.6M75.1 264.9v1.6M77.2 264.9v1.6M79.2 264.9v1.6M81.2 264.9v1.6M83.3 264.9v1.6M85.3 264.9v1.6M87.4 264.9v1.6M89.4 264.9v1.6M91.5 264.9v1.6M93.5 264.9v1.6M95.6 264.9v1.6M97.7 264.9v1.6M99.7 264.9v1.6M101.8 264.9v1.6M103.8 264.9v1.6M105.8 264.9v1.6M107.9 264.9v1.6M109.9 264.9v1.6M112.0 264.9v1.6M114.0 264.9v1.6M116.1 264.9v1.6M118.2 264.9v1.6" stroke="#444" stroke-width="0.55"/>
<line x1="56.4" y1="235.5" x2="91.5" y2="235.5" stroke="#444" stroke-width="0.9"/>
<line x1="56.5" y1="230.3" x2="56.5" y2="239.9" stroke="#777" stroke-width="0.9"/>
<line x1="91.5" y1="230.3" x2="91.5" y2="239.9" stroke="#555" stroke-width="0.9"/>
<text x="75.6" y="233.6" font-size="10" text-anchor="middle" fill="#111">9</text>
<path d="M125.6 264.4 L125.6 262.0L126.1 261.2L126.6 261.4L127.1 261.3L127.6 261.3L128.1 260.8L128.6 261.3L129.1 260.8L129.6 260.9L130.1 260.6L130.6 261.0L131.1 260.6L131.6 260.7L132.1 260.9L132.6 260.9L133.1 260.3L133.6 260.8L134.1 259.8L134.6 260.6L135.1 260.6L135.6 260.5L136.1 259.5L136.6 260.1L137.1 260.3L137.6 260.3L138.1 260.3L138.6 259.6L139.1 259.6L139.6 259.5L140.1 259.5L140.6 260.2L141.1 259.7L141.6 260.0L142.1 259.5L142.6 259.6L143.1 259.5L143.6 260.5L144.1 259.7L144.6 259.7L145.1 259.7L145.6 260.7L146.1 260.6L146.6 260.7L147.1 260.8L147.6 259.8L148.1 259.7L148.6 259.6L149.1 259.0L149.6 258.6L150.1 258.2L150.6 257.2L151.1 255.7L151.6 253.0L152.1 251.3L152.6 248.3L153.1 244.8L153.6 241.6L154.1 237.6L154.6 234.2L155.1 231.3L155.6 232.6L156.1 234.9L156.6 237.0L157.1 240.5L157.6 243.1L158.1 246.2L158.6 249.4L159.1 251.3L159.6 253.3L160.1 254.7L160.6 256.7L161.1 257.5L161.6 258.7L162.1 259.8L162.6 259.8L163.1 261.1L163.6 260.7L164.1 261.7L164.6 262.1L165.1 262.1L165.6 261.6L166.1 261.5L166.6 262.6L167.1 262.1L167.6 262.2L168.1 261.9L168.6 262.6L169.1 262.2L169.6 262.4L170.1 261.9L170.6 262.5L171.1 261.7L171.6 262.5L172.1 262.5L172.6 261.9L173.1 262.1L173.6 262.3L174.1 261.4L174.6 261.6L175.1 260.1L175.6 259.3L176.1 258.0L176.6 257.0L177.1 256.0L177.6 254.9L178.1 254.1L178.6 253.3L179.1 254.4L179.6 254.2L180.1 256.0L180.6 257.0L181.1 258.1L181.6 258.5L182.1 259.9L182.6 260.8L183.1 260.8L183.6 261.9L184.1 261.9L184.6 262.0L185.1 261.9L185.6 261.9L186.1 262.1L186.6 262.4L187.1 262.4L187.6 262.6L188.1 261.9L188.6 262.1L189.1 262.0 L189.1 264.4 Z" fill="#3d3d3d" stroke="#111" stroke-width="0.5"/>
<line x1="125.6" y1="218.5" x2="189.1" y2="218.5" stroke="#555" stroke-width="0.9"/>
<line x1="189.5" y1="218.6" x2="189.5" y2="264.4" stroke="#555" stroke-width="0.9"/>
<line x1="125.6" y1="218.3" x2="125.6" y2="266.2" stroke="#000" stroke-width="1.5"/>
<line x1="125.1" y1="264.4" x2="189.6" y2="264.4" stroke="#111" stroke-width="1.3"/>
<path d="M124.2 260.4h1.4M124.2 256.4h1.4M123.4 252.4h2.2M124.2 248.4h1.4M124.2 244.4h1.4M123.4 240.4h2.2M124.2 236.4h1.4M124.2 232.4h1.4M123.4 228.4h2.2M124.2 224.4h1.4M124.2 220.4h1.4" stroke="#222" stroke-width="0.6"/>
<path d="M127.6 264.9v1.6M129.7 264.9v1.6M131.8 264.9v1.6M133.8 264.9v1.6M135.8 264.9v1.6M137.9 264.9v1.6M139.9 264.9v1.6M142.0 264.9v1.6M144.0 264.9v1.6M146.1 264.9v1.6M148.1 264.9v1.6M150.2 264.9v1.6M152.2 264.9v1.6M154.3 264.9v1.6M156.3 264.9v1.6M158.4 264.9v1.6M160.4 264.9v1.6M162.5 264.9v1.6M164.5 264.9v1.6M166.6 264.9v1.6M168.6 264.9v1.6M170.7 264.9v1.6M172.8 264.9v1.6M174.8 264.9v1.6M176.8 264.9v1.6M178.9 264.9v1.6M180.9 264.9v1.6M183.0 264.9v1.6M185.0 264.9v1.6M187.1 264.9v1.6M189.1 264.9v1.6" stroke="#444" stroke-width="0.55"/>
<line x1="126.8" y1="235.5" x2="160.7" y2="235.5" stroke="#444" stroke-width="0.9"/>
<line x1="126.5" y1="230.3" x2="126.5" y2="239.9" stroke="#777" stroke-width="0.9"/>
<line x1="160.5" y1="230.3" x2="160.5" y2="239.9" stroke="#555" stroke-width="0.9"/>
<text x="143.6" y="233.6" font-size="10" text-anchor="middle" fill="#111">81</text>
<path d="M54.6 314 L54.6 312.2L55.1 311.9L55.6 311.5L56.1 311.8L56.6 312.3L57.1 311.9L57.6 311.4L58.1 312.1L58.6 312.2L59.1 312.1L59.6 311.6L60.1 311.5L60.6 312.2L61.1 312.2L61.6 312.1L62.1 312.0L62.6 311.8L63.1 312.2L63.6 312.0L64.1 312.2L64.6 311.3L65.1 311.6L65.7 312.3L66.2 311.3L66.7 312.3L67.2 312.0L67.7 311.3L68.2 311.5L68.7 311.6L69.2 311.9L69.7 312.2L70.2 311.7L70.7 312.3L71.2 312.2L71.7 312.0L72.2 312.4L72.7 312.0L73.2 311.5L73.7 311.6L74.2 311.8L74.7 311.7L75.2 311.9L75.7 312.2L76.2 311.7L76.7 312.0L77.2 311.6L77.7 311.4L78.2 311.9L78.7 311.8L79.2 311.6L79.7 311.9L80.2 312.1L80.7 311.5L81.2 311.3L81.7 311.2L82.2 311.0L82.7 310.5L83.2 310.2L83.7 309.8L84.2 309.8L84.7 309.9L85.2 309.7L85.7 310.6L86.2 310.7L86.7 310.8L87.3 311.2L87.8 311.5L88.3 312.0L88.8 311.9L89.3 311.9L89.8 311.7L90.3 311.9L90.8 311.7L91.3 311.4L91.8 312.2L92.3 311.7L92.8 311.5L93.3 312.0L93.8 311.9L94.3 311.3L94.8 312.4L95.3 311.8L95.8 312.2L96.3 311.5L96.8 311.4L97.3 311.8L97.8 312.3L98.3 311.7L98.8 311.8L99.3 311.5L99.8 311.7L100.3 311.5L100.8 311.1L101.3 311.1L101.8 310.7L102.3 309.3L102.8 308.9L103.3 306.6L103.8 304.3L104.3 300.3L104.8 296.3L105.3 289.4L105.8 283.3L106.3 276.5L106.8 270.2L107.3 269.4L107.8 273.7L108.3 278.2L108.9 283.5L109.4 288.2L109.9 293.2L110.4 297.3L110.9 300.7L111.4 302.9L111.9 304.9L112.4 307.1L112.9 308.7L113.4 309.1L113.9 310.2L114.4 311.0L114.9 311.4L115.4 311.0L115.9 311.1L116.4 311.5L116.9 311.7L117.4 311.7L117.9 312.1L118.4 311.3L118.9 312.0L119.4 311.7 L119.4 314 Z" fill="#3d3d3d" stroke="#111" stroke-width="0.5"/>
<line x1="54.6" y1="268.5" x2="119.4" y2="268.5" stroke="#555" stroke-width="0.9"/>
<line x1="119.5" y1="268.2" x2="119.5" y2="314" stroke="#555" stroke-width="0.9"/>
<line x1="54.6" y1="267.9" x2="54.6" y2="315.8" stroke="#000" stroke-width="1.5"/>
<line x1="54.1" y1="314" x2="119.9" y2="314" stroke="#111" stroke-width="1.3"/>
<path d="M53.2 310.0h1.4M53.2 306.0h1.4M52.4 302.0h2.2M53.2 298.0h1.4M53.2 294.0h1.4M52.4 290.0h2.2M53.2 286.0h1.4M53.2 282.0h1.4M52.4 278.0h2.2M53.2 274.0h1.4M53.2 270.0h1.4" stroke="#222" stroke-width="0.6"/>
<path d="M56.6 314.5v1.6M58.7 314.5v1.6M60.8 314.5v1.6M62.8 314.5v1.6M64.8 314.5v1.6M66.9 314.5v1.6M69.0 314.5v1.6M71.0 314.5v1.6M73.0 314.5v1.6M75.1 314.5v1.6M77.2 314.5v1.6M79.2 314.5v1.6M81.2 314.5v1.6M83.3 314.5v1.6M85.3 314.5v1.6M87.4 314.5v1.6M89.4 314.5v1.6M91.5 314.5v1.6M93.5 314.5v1.6M95.6 314.5v1.6M97.7 314.5v1.6M99.7 314.5v1.6M101.8 314.5v1.6M103.8 314.5v1.6M105.8 314.5v1.6M107.9 314.5v1.6M109.9 314.5v1.6M112.0 314.5v1.6M114.0 314.5v1.6M116.1 314.5v1.6M118.2 314.5v1.6" stroke="#444" stroke-width="0.55"/>
<line x1="56.4" y1="284.5" x2="91.5" y2="284.5" stroke="#444" stroke-width="0.9"/>
<line x1="56.5" y1="279.9" x2="56.5" y2="289.5" stroke="#777" stroke-width="0.9"/>
<line x1="91.5" y1="279.9" x2="91.5" y2="289.5" stroke="#555" stroke-width="0.9"/>
<text x="75.6" y="283.2" font-size="10" text-anchor="middle" fill="#111">9</text>
<path d="M125.6 314 L125.6 311.0L126.1 310.9L126.6 311.2L127.1 311.3L127.6 311.0L128.1 311.4L128.6 310.5L129.1 311.0L129.6 310.3L130.1 310.9L130.6 310.7L131.1 310.7L131.6 310.4L132.1 310.6L132.6 310.7L133.1 309.8L133.6 310.2L134.1 310.2L134.6 310.0L135.1 309.7L135.6 309.7L136.1 309.4L136.6 309.3L137.1 309.6L137.6 309.0L138.1 309.0L138.6 309.9L139.1 309.0L139.6 308.9L140.1 309.0L140.6 309.8L141.1 309.0L141.6 309.3L142.1 310.0L142.6 310.0L143.1 309.1L143.6 309.4L144.1 309.9L144.6 310.2L145.1 310.2L145.6 310.1L146.1 309.5L146.6 309.9L147.1 310.0L147.6 309.0L148.1 308.8L148.6 309.0L149.1 307.6L149.6 306.9L150.1 305.5L150.6 304.0L151.1 301.6L151.6 299.2L152.1 296.2L152.6 293.5L153.1 289.3L153.6 285.9L154.1 282.5L154.6 281.6L155.1 282.7L155.6 285.4L156.1 288.4L156.6 291.2L157.1 294.1L157.6 296.3L158.1 299.2L158.6 300.9L159.1 303.1L159.6 304.4L160.1 305.8L160.6 307.0L161.1 307.6L161.6 309.4L162.1 309.1L162.6 310.1L163.1 310.4L163.6 310.6L164.1 310.7L164.6 311.4L165.1 311.5L165.6 311.0L166.1 312.1L166.6 311.5L167.1 311.6L167.6 312.3L168.1 311.7L168.6 311.6L169.1 311.3L169.6 312.0L170.1 311.3L170.6 311.8L171.1 311.8L171.6 311.3L172.1 312.1L172.6 311.1L173.1 310.8L173.6 310.5L174.1 309.0L174.6 308.4L175.1 307.0L175.6 305.5L176.1 303.9L176.6 303.4L177.1 302.5L177.6 302.5L178.1 302.7L178.6 303.2L179.1 304.8L179.6 305.5L180.1 307.2L180.6 308.2L181.1 309.5L181.6 310.0L182.1 310.2L182.6 310.9L183.1 311.1L183.6 311.8L184.1 311.9L184.6 312.0L185.1 311.7L185.6 311.7L186.1 311.5L186.6 312.4L187.1 311.6L187.6 311.4L188.1 311.8L188.6 312.3L189.1 312.1 L189.1 314 Z" fill="#3d3d3d" stroke="#111" stroke-width="0.5"/>
<line x1="125.6" y1="268.5" x2="189.1" y2="268.5" stroke="#555" stroke-width="0.9"/>
<line x1="189.5" y1="268.2" x2="189.5" y2="314" stroke="#555" stroke-width="0.9"/>
<line x1="125.6" y1="267.9" x2="125.6" y2="315.8" stroke="#000" stroke-width="1.5"/>
<line x1="125.1" y1="314" x2="189.6" y2="314" stroke="#111" stroke-width="1.3"/>
<path d="M124.2 310.0h1.4M124.2 306.0h1.4M123.4 302.0h2.2M124.2 298.0h1.4M124.2 294.0h1.4M123.4 290.0h2.2M124.2 286.0h1.4M124.2 282.0h1.4M123.4 278.0h2.2M124.2 274.0h1.4M124.2 270.0h1.4" stroke="#222" stroke-width="0.6"/>
<path d="M127.6 314.5v1.6M129.7 314.5v1.6M131.8 314.5v1.6M133.8 314.5v1.6M135.8 314.5v1.6M137.9 314.5v1.6M139.9 314.5v1.6M142.0 314.5v1.6M144.0 314.5v1.6M146.1 314.5v1.6M148.1 314.5v1.6M150.2 314.5v1.6M152.2 314.5v1.6M154.3 314.5v1.6M156.3 314.5v1.6M158.4 314.5v1.6M160.4 314.5v1.6M162.5 314.5v1.6M164.5 314.5v1.6M166.6 314.5v1.6M168.6 314.5v1.6M170.7 314.5v1.6M172.8 314.5v1.6M174.8 314.5v1.6M176.8 314.5v1.6M178.9 314.5v1.6M180.9 314.5v1.6M183.0 314.5v1.6M185.0 314.5v1.6M187.1 314.5v1.6M189.1 314.5v1.6" stroke="#444" stroke-width="0.55"/>
<line x1="126.8" y1="284.5" x2="160.7" y2="284.5" stroke="#444" stroke-width="0.9"/>
<line x1="126.5" y1="279.9" x2="126.5" y2="289.5" stroke="#777" stroke-width="0.9"/>
<line x1="160.5" y1="279.9" x2="160.5" y2="289.5" stroke="#555" stroke-width="0.9"/>
<text x="143.6" y="283.2" font-size="10" text-anchor="middle" fill="#111">83</text>
<text x="5.2" y="358.7" font-size="17.5" font-weight="bold" fill="#000">B</text>
<line x1="53.5" y1="361" x2="53.5" y2="472.3" stroke="#111" stroke-width="1"/>
<line x1="50.3" y1="472.5" x2="53.3" y2="472.5" stroke="#111" stroke-width="1"/>
<text x="47" y="474.65" font-size="9.9" text-anchor="end" fill="#111">0</text>
<line x1="50.3" y1="452.5" x2="53.3" y2="452.5" stroke="#111" stroke-width="1"/>
<text x="47" y="454.43" font-size="9.9" text-anchor="end" fill="#111">20</text>
<line x1="50.3" y1="431.5" x2="53.3" y2="431.5" stroke="#111" stroke-width="1"/>
<text x="47" y="434.21" font-size="9.9" text-anchor="end" fill="#111">40</text>
<line x1="50.3" y1="411.5" x2="53.3" y2="411.5" stroke="#111" stroke-width="1"/>
<text x="47" y="413.99" font-size="9.9" text-anchor="end" fill="#111">60</text>
<line x1="50.3" y1="391.5" x2="53.3" y2="391.5" stroke="#111" stroke-width="1"/>
<text x="47" y="393.77" font-size="9.9" text-anchor="end" fill="#111">80</text>
<line x1="50.3" y1="371.5" x2="53.3" y2="371.5" stroke="#111" stroke-width="1"/>
<text x="47" y="373.55" font-size="9.9" text-anchor="end" fill="#111">100</text>
<text transform="translate(24.3 416) rotate(-90)" font-size="11.4" text-anchor="middle" fill="#111">% Live cells</text>
<line x1="53.3" y1="472.5" x2="178.4" y2="472.5" stroke="#111" stroke-width="1"/>
<line x1="53.5" y1="472.3" x2="53.5" y2="475.3" stroke="#111" stroke-width="1"/>
<line x1="74.5" y1="472.3" x2="74.5" y2="475.3" stroke="#111" stroke-width="1"/>
<line x1="94.5" y1="472.3" x2="94.5" y2="475.3" stroke="#111" stroke-width="1"/>
<line x1="115.5" y1="472.3" x2="115.5" y2="475.3" stroke="#111" stroke-width="1"/>
<line x1="136.5" y1="472.3" x2="136.5" y2="475.3" stroke="#111" stroke-width="1"/>
<line x1="157.5" y1="472.3" x2="157.5" y2="475.3" stroke="#111" stroke-width="1"/>
<line x1="177.5" y1="472.3" x2="177.5" y2="475.3" stroke="#111" stroke-width="1"/>
<rect x="57.5" y="371.5" width="6" height="101" fill="#fff" stroke="#111" stroke-width="0.9"/>
<rect x="63.5" y="395.5" width="6" height="77" fill="#7b7b7b" stroke="#111" stroke-width="0.9"/>
<line x1="66.5" y1="395.46" x2="66.5" y2="390.41" stroke="#111" stroke-width="0.8"/>
<line x1="64.5" y1="390.5" x2="68.9" y2="390.5" stroke="#111" stroke-width="0.9"/>
<rect x="78.5" y="389.5" width="6" height="83" fill="#fff" stroke="#111" stroke-width="0.9"/>
<rect x="84.5" y="419.5" width="6" height="53" fill="#7b7b7b" stroke="#111" stroke-width="0.9"/>
<line x1="81.5" y1="389.4" x2="81.5" y2="380.8" stroke="#111" stroke-width="0.8"/>
<line x1="79.05" y1="380.5" x2="83.45" y2="380.5" stroke="#111" stroke-width="0.9"/>
<line x1="87.5" y1="419.73" x2="87.5" y2="414.17" stroke="#111" stroke-width="0.8"/>
<line x1="85.2" y1="414.5" x2="89.6" y2="414.5" stroke="#111" stroke-width="0.9"/>
<rect x="98.5" y="392.5" width="7" height="80" fill="#fff" stroke="#111" stroke-width="0.9"/>
<rect x="105.5" y="419.5" width="6" height="53" fill="#7b7b7b" stroke="#111" stroke-width="0.9"/>
<line x1="101.5" y1="392.43" x2="101.5" y2="381.31" stroke="#111" stroke-width="0.8"/>
<line x1="99.75" y1="381.5" x2="104.15" y2="381.5" stroke="#111" stroke-width="0.9"/>
<line x1="108.5" y1="419.73" x2="108.5" y2="409.92" stroke="#111" stroke-width="0.8"/>
<line x1="105.9" y1="409.5" x2="110.3" y2="409.5" stroke="#111" stroke-width="0.9"/>
<rect x="119.5" y="394.5" width="6" height="78" fill="#fff" stroke="#111" stroke-width="0.9"/>
<rect x="125.5" y="452.5" width="6" height="20" fill="#7b7b7b" stroke="#111" stroke-width="0.9"/>
<line x1="122.5" y1="394.45" x2="122.5" y2="382.62" stroke="#111" stroke-width="0.8"/>
<line x1="120.45" y1="382.5" x2="124.85" y2="382.5" stroke="#111" stroke-width="0.9"/>
<line x1="128.5" y1="452.08" x2="128.5" y2="447.03" stroke="#111" stroke-width="0.8"/>
<line x1="126.6" y1="447.5" x2="131" y2="447.5" stroke="#111" stroke-width="0.9"/>
<rect x="140.5" y="390.5" width="6" height="82" fill="#fff" stroke="#111" stroke-width="0.9"/>
<rect x="146.5" y="446.5" width="6" height="26" fill="#7b7b7b" stroke="#111" stroke-width="0.9"/>
<line x1="143.5" y1="390.41" x2="143.5" y2="378.88" stroke="#111" stroke-width="0.8"/>
<line x1="141.15" y1="378.5" x2="145.55" y2="378.5" stroke="#111" stroke-width="0.9"/>
<line x1="149.5" y1="446.01" x2="149.5" y2="439.24" stroke="#111" stroke-width="0.8"/>
<line x1="147.3" y1="439.5" x2="151.7" y2="439.5" stroke="#111" stroke-width="0.9"/>
<rect x="160.5" y="387.5" width="7" height="85" fill="#fff" stroke="#111" stroke-width="0.9"/>
<rect x="167.5" y="446.5" width="6" height="26" fill="#7b7b7b" stroke="#111" stroke-width="0.9"/>
<line x1="164.5" y1="387.38" x2="164.5" y2="371.6" stroke="#111" stroke-width="0.8"/>
<line x1="161.85" y1="371.5" x2="166.25" y2="371.5" stroke="#111" stroke-width="0.9"/>
<line x1="170.5" y1="446.01" x2="170.5" y2="441.26" stroke="#111" stroke-width="0.8"/>
<line x1="168" y1="441.5" x2="172.4" y2="441.5" stroke="#111" stroke-width="0.9"/>
<rect x="87.6" y="349" width="6.9" height="7" fill="#fff" stroke="#777" stroke-width="0.8"/>
<rect x="87.6" y="360.6" width="6.9" height="7" fill="#7b7b7b" stroke="#777" stroke-width="0.6"/>
<text x="99.4" y="355.8" font-size="9.7" fill="#111">No BTZ</text>
<text x="99" y="367.7" font-size="9.7" fill="#111">+ BTZ</text>
<text transform="translate(72.6 486.3) rotate(-50)" font-size="11.6" text-anchor="end" fill="#111">Cntl</text>
<text transform="translate(92 483.1) rotate(-45)" font-size="11.6" text-anchor="end" fill="#111">G<tspan font-size="7" dy="2.5">1</tspan></text>
<text transform="translate(109 486.8) rotate(-45)" font-size="11.6" text-anchor="end" fill="#111">0</text>
<text transform="translate(129.7 486.8) rotate(-45)" font-size="11.6" text-anchor="end" fill="#111">4</text>
<text transform="translate(150.4 486.8) rotate(-45)" font-size="11.6" text-anchor="end" fill="#111">8</text>
<text transform="translate(171.6 486.8) rotate(-45)" font-size="11.6" text-anchor="end" fill="#111">12</text>
<line x1="95.6" y1="495.5" x2="176.5" y2="495.5" stroke="#111" stroke-width="1.1"/>
<text x="136" y="508.2" font-size="11.8" text-anchor="middle" fill="#111">pG<tspan font-size="7.5" dy="2.5">1</tspan><tspan dy="-2.5">-S (h)</tspan></text>
<text x="4.9" y="542" font-size="17.5" font-weight="bold" fill="#000">E</text>
<text x="40.8" y="539.8" font-size="11.6" fill="#111">pG<tspan font-size="7.5" dy="2.6">1</tspan><tspan dy="-2.6">-S (4 h)</tspan></text>
<line x1="51.5" y1="553" x2="51.5" y2="672.8" stroke="#111" stroke-width="1"/>
<line x1="48.2" y1="672.5" x2="51.2" y2="672.5" stroke="#111" stroke-width="1"/>
<text x="45.1" y="675.3" font-size="10.3" text-anchor="end" fill="#111">0</text>
<line x1="48.2" y1="649.5" x2="51.2" y2="649.5" stroke="#111" stroke-width="1"/>
<text x="45.1" y="651.5" font-size="10.3" text-anchor="end" fill="#111">20</text>
<line x1="48.2" y1="625.5" x2="51.2" y2="625.5" stroke="#111" stroke-width="1"/>
<text x="45.1" y="627.7" font-size="10.3" text-anchor="end" fill="#111">40</text>
<line x1="48.2" y1="601.5" x2="51.2" y2="601.5" stroke="#111" stroke-width="1"/>
<text x="45.1" y="603.9" font-size="10.3" text-anchor="end" fill="#111">60</text>
<line x1="48.2" y1="577.5" x2="51.2" y2="577.5" stroke="#111" stroke-width="1"/>
<text x="45.1" y="580.1" font-size="10.3" text-anchor="end" fill="#111">80</text>
<line x1="48.2" y1="553.5" x2="51.2" y2="553.5" stroke="#111" stroke-width="1"/>
<text x="45.1" y="556.3" font-size="10.3" text-anchor="end" fill="#111">100</text>
<line x1="51.2" y1="672.5" x2="160.1" y2="672.5" stroke="#111" stroke-width="1"/>
<line x1="67.5" y1="672.8" x2="67.5" y2="675.6" stroke="#111" stroke-width="1"/>
<line x1="97.5" y1="672.8" x2="97.5" y2="675.6" stroke="#111" stroke-width="1"/>
<line x1="128.5" y1="672.8" x2="128.5" y2="675.6" stroke="#111" stroke-width="1"/>
<line x1="159.5" y1="672.8" x2="159.5" y2="675.6" stroke="#111" stroke-width="1"/>
<text transform="translate(25.8 612) rotate(-90)" font-size="11.4" text-anchor="middle" fill="#111">% MT<tspan font-size="8" dy="-4">−</tspan></text>
<path d="M67.1 666.14 L97.9 667.09 L128.8 667.09 L159.6 667.09" fill="none" stroke="#111" stroke-width="1.1"/>
<circle cx="67.1" cy="666.14" r="2.3" fill="#fff" stroke="#111" stroke-width="0.9"/>
<circle cx="97.9" cy="667.09" r="2.3" fill="#fff" stroke="#111" stroke-width="0.9"/>
<circle cx="128.8" cy="667.09" r="2.3" fill="#fff" stroke="#111" stroke-width="0.9"/>
<circle cx="159.6" cy="667.09" r="2.3" fill="#fff" stroke="#111" stroke-width="0.9"/>
<path d="M67.1 628.77 L97.9 603.78 L128.8 579.98 L159.6 571.65" fill="none" stroke="#111" stroke-width="1.1"/>
<circle cx="67.1" cy="628.77" r="2.3" fill="#fff" stroke="#111" stroke-width="0.9"/>
<circle cx="97.9" cy="603.78" r="2.3" fill="#fff" stroke="#111" stroke-width="0.9"/>
<circle cx="128.8" cy="579.98" r="2.3" fill="#fff" stroke="#111" stroke-width="0.9"/>
<circle cx="159.6" cy="571.65" r="2.3" fill="#fff" stroke="#111" stroke-width="0.9"/>
<path d="M67.1 615.68 L97.9 590.69 L128.8 571.65 L159.6 564.51" fill="none" stroke="#111" stroke-width="1.1"/>
<circle cx="67.1" cy="615.68" r="2.3" fill="#000" stroke="#111" stroke-width="0.9"/>
<circle cx="97.9" cy="590.69" r="2.3" fill="#000" stroke="#111" stroke-width="0.9"/>
<circle cx="128.8" cy="571.65" r="2.3" fill="#000" stroke="#111" stroke-width="0.9"/>
<circle cx="159.6" cy="564.51" r="2.3" fill="#000" stroke="#111" stroke-width="0.9"/>
<text x="161.5" y="560.4" font-size="10.4" fill="#111">120</text>
<text x="166" y="578.4" font-size="10.4" fill="#111">60</text>
<text x="171.4" y="670" font-size="10.4" fill="#111">0</text>
<line x1="51.5" y1="682" x2="51.5" y2="803.6" stroke="#111" stroke-width="1"/>
<line x1="48.2" y1="803.5" x2="51.2" y2="803.5" stroke="#111" stroke-width="1"/>
<text x="45.1" y="806.1" font-size="10.3" text-anchor="end" fill="#111">0</text>
<line x1="48.2" y1="781.5" x2="51.2" y2="781.5" stroke="#111" stroke-width="1"/>
<text x="45.1" y="784.1" font-size="10.3" text-anchor="end" fill="#111">20</text>
<line x1="48.2" y1="759.5" x2="51.2" y2="759.5" stroke="#111" stroke-width="1"/>
<text x="45.1" y="762.1" font-size="10.3" text-anchor="end" fill="#111">40</text>
<line x1="48.2" y1="737.5" x2="51.2" y2="737.5" stroke="#111" stroke-width="1"/>
<text x="45.1" y="740.1" font-size="10.3" text-anchor="end" fill="#111">60</text>
<line x1="48.2" y1="715.5" x2="51.2" y2="715.5" stroke="#111" stroke-width="1"/>
<text x="45.1" y="718.1" font-size="10.3" text-anchor="end" fill="#111">80</text>
<line x1="48.2" y1="693.5" x2="51.2" y2="693.5" stroke="#111" stroke-width="1"/>
<text x="45.1" y="696.1" font-size="10.3" text-anchor="end" fill="#111">100</text>
<line x1="51.2" y1="803.5" x2="160.1" y2="803.5" stroke="#111" stroke-width="1"/>
<line x1="67.5" y1="803.6" x2="67.5" y2="806.4" stroke="#111" stroke-width="1"/>
<line x1="97.5" y1="803.6" x2="97.5" y2="806.4" stroke="#111" stroke-width="1"/>
<line x1="128.5" y1="803.6" x2="128.5" y2="806.4" stroke="#111" stroke-width="1"/>
<line x1="159.5" y1="803.6" x2="159.5" y2="806.4" stroke="#111" stroke-width="1"/>
<text transform="translate(25 747) rotate(-90)" font-size="11.4" text-anchor="middle" fill="#111">% Live cells</text>
<path d="M67.1 693.6 L97.9 700.86 L128.8 696.35 L159.6 701.74" fill="none" stroke="#111" stroke-width="1.1"/>
<line x1="97.5" y1="700.86" x2="97.5" y2="688.1" stroke="#111" stroke-width="0.8"/>
<line x1="95.9" y1="688.5" x2="99.9" y2="688.5" stroke="#111" stroke-width="0.9"/>
<line x1="128.5" y1="696.35" x2="128.5" y2="687.44" stroke="#111" stroke-width="0.8"/>
<line x1="126.8" y1="687.5" x2="130.8" y2="687.5" stroke="#111" stroke-width="0.9"/>
<line x1="159.5" y1="701.74" x2="159.5" y2="698.44" stroke="#111" stroke-width="0.8"/>
<line x1="157.6" y1="698.5" x2="161.6" y2="698.5" stroke="#111" stroke-width="0.9"/>
<circle cx="67.1" cy="693.6" r="2.3" fill="#fff" stroke="#111" stroke-width="0.9"/>
<circle cx="97.9" cy="700.86" r="2.3" fill="#fff" stroke="#111" stroke-width="0.9"/>
<circle cx="128.8" cy="696.35" r="2.3" fill="#fff" stroke="#111" stroke-width="0.9"/>
<circle cx="159.6" cy="701.74" r="2.3" fill="#fff" stroke="#111" stroke-width="0.9"/>
<path d="M67.1 731 L97.9 747.17 L128.8 764 L159.6 775.44" fill="none" stroke="#111" stroke-width="1.1"/>
<line x1="67.5" y1="731" x2="67.5" y2="726.6" stroke="#111" stroke-width="0.8"/>
<line x1="65.1" y1="726.5" x2="69.1" y2="726.5" stroke="#111" stroke-width="0.9"/>
<line x1="97.5" y1="747.17" x2="97.5" y2="744.75" stroke="#111" stroke-width="0.8"/>
<line x1="95.9" y1="744.5" x2="99.9" y2="744.5" stroke="#111" stroke-width="0.9"/>
<line x1="128.5" y1="764" x2="128.5" y2="760.37" stroke="#111" stroke-width="0.8"/>
<line x1="126.8" y1="760.5" x2="130.8" y2="760.5" stroke="#111" stroke-width="0.9"/>
<line x1="159.5" y1="775.44" x2="159.5" y2="768.84" stroke="#111" stroke-width="0.8"/>
<line x1="157.6" y1="768.5" x2="161.6" y2="768.5" stroke="#111" stroke-width="0.9"/>
<circle cx="67.1" cy="731" r="2.3" fill="#999" stroke="#111" stroke-width="0.9"/>
<circle cx="97.9" cy="747.17" r="2.3" fill="#999" stroke="#111" stroke-width="0.9"/>
<circle cx="128.8" cy="764" r="2.3" fill="#999" stroke="#111" stroke-width="0.9"/>
<circle cx="159.6" cy="775.44" r="2.3" fill="#999" stroke="#111" stroke-width="0.9"/>
<path d="M67.1 741.12 L97.9 755.53 L128.8 774.34 L159.6 792.6" fill="none" stroke="#111" stroke-width="1.1"/>
<circle cx="67.1" cy="741.12" r="2.3" fill="#000" stroke="#111" stroke-width="0.9"/>
<circle cx="97.9" cy="755.53" r="2.3" fill="#000" stroke="#111" stroke-width="0.9"/>
<circle cx="128.8" cy="774.34" r="2.3" fill="#000" stroke="#111" stroke-width="0.9"/>
<circle cx="159.6" cy="792.6" r="2.3" fill="#000" stroke="#111" stroke-width="0.9"/>
<text x="167" y="706.7" font-size="10.4" fill="#111">0</text>
<text x="167" y="779.4" font-size="10.4" fill="#111">60</text>
<svg x="0" y="0" width="179.5" height="836" overflow="hidden"><text x="167" y="796.6" font-size="10.4" fill="#111">120</text></svg>
<text x="19" y="822.3" font-size="10.8" fill="#111">PD (h)</text>
<text x="67.1" y="822.3" font-size="10.4" text-anchor="middle" fill="#111">0</text>
<text x="97.9" y="822.3" font-size="10.4" text-anchor="middle" fill="#111">-12</text>
<text x="128.8" y="822.3" font-size="10.4" text-anchor="middle" fill="#111">-24</text>
<text x="159.6" y="822.3" font-size="10.4" text-anchor="middle" fill="#111">-36</text>
<text x="216.4" y="17.6" font-size="17.5" font-weight="bold" fill="#000">C</text>
<line x1="264.5" y1="29" x2="264.5" y2="153.4" stroke="#111" stroke-width="1"/>
<line x1="260.8" y1="153.5" x2="264" y2="153.5" stroke="#111" stroke-width="1"/>
<text x="257.4" y="155.97" font-size="10.4" text-anchor="end" fill="#111">0</text>
<line x1="260.8" y1="128.5" x2="264" y2="128.5" stroke="#111" stroke-width="1"/>
<text x="257.4" y="131.12" font-size="10.4" text-anchor="end" fill="#111">5</text>
<line x1="260.8" y1="103.5" x2="264" y2="103.5" stroke="#111" stroke-width="1"/>
<text x="257.4" y="106.27" font-size="10.4" text-anchor="end" fill="#111">10</text>
<line x1="260.8" y1="78.5" x2="264" y2="78.5" stroke="#111" stroke-width="1"/>
<text x="257.4" y="81.42" font-size="10.4" text-anchor="end" fill="#111">15</text>
<line x1="260.8" y1="54.5" x2="264" y2="54.5" stroke="#111" stroke-width="1"/>
<text x="257.4" y="56.57" font-size="10.4" text-anchor="end" fill="#111">20</text>
<line x1="260.8" y1="29.5" x2="264" y2="29.5" stroke="#111" stroke-width="1"/>
<text x="257.4" y="31.72" font-size="10.4" text-anchor="end" fill="#111">25</text>
<line x1="264" y1="153.5" x2="307" y2="153.5" stroke="#111" stroke-width="1"/>
<line x1="285.5" y1="153.4" x2="285.5" y2="156.4" stroke="#111" stroke-width="1"/>
<line x1="307.5" y1="153.4" x2="307.5" y2="156.4" stroke="#111" stroke-width="1"/>
<rect x="268.5" y="118.5" width="7" height="35" fill="#fff" stroke="#111" stroke-width="0.9"/>
<rect x="275.5" y="93.5" width="6" height="60" fill="#6f6f6f" stroke="#111" stroke-width="0.9"/>
<rect x="289.5" y="108.5" width="6" height="45" fill="#fff" stroke="#111" stroke-width="0.9"/>
<rect x="295.5" y="49.5" width="7" height="104" fill="#6f6f6f" stroke="#111" stroke-width="0.9"/>
<text x="282.4" y="18.7" font-size="11.6" text-anchor="middle" fill="#111">CAG</text>
<line x1="334.5" y1="29.6" x2="334.5" y2="152.6" stroke="#111" stroke-width="1"/>
<line x1="331.2" y1="152.5" x2="334.4" y2="152.5" stroke="#111" stroke-width="1"/>
<text x="327.3" y="155.17" font-size="10.4" text-anchor="end" fill="#111">0</text>
<line x1="331.2" y1="117.5" x2="334.4" y2="117.5" stroke="#111" stroke-width="1"/>
<text x="327.3" y="119.72" font-size="10.4" text-anchor="end" fill="#111">10</text>
<line x1="331.2" y1="81.5" x2="334.4" y2="81.5" stroke="#111" stroke-width="1"/>
<text x="327.3" y="84.27" font-size="10.4" text-anchor="end" fill="#111">20</text>
<line x1="331.2" y1="46.5" x2="334.4" y2="46.5" stroke="#111" stroke-width="1"/>
<text x="327.3" y="48.82" font-size="10.4" text-anchor="end" fill="#111">30</text>
<line x1="331.8" y1="134.5" x2="334.4" y2="134.5" stroke="#111" stroke-width="1"/>
<line x1="331.8" y1="99.5" x2="334.4" y2="99.5" stroke="#111" stroke-width="1"/>
<line x1="331.8" y1="63.5" x2="334.4" y2="63.5" stroke="#111" stroke-width="1"/>
<line x1="334.4" y1="152.5" x2="379" y2="152.5" stroke="#111" stroke-width="1"/>
<line x1="357.5" y1="152.6" x2="357.5" y2="155.6" stroke="#111" stroke-width="1"/>
<line x1="379.5" y1="152.6" x2="379.5" y2="155.6" stroke="#111" stroke-width="1"/>
<rect x="339.5" y="110.5" width="6" height="42" fill="#fff" stroke="#111" stroke-width="0.9"/>
<rect x="345.5" y="85.5" width="7" height="67" fill="#6f6f6f" stroke="#111" stroke-width="0.9"/>
<rect x="361.5" y="110.5" width="7" height="42" fill="#fff" stroke="#111" stroke-width="0.9"/>
<rect x="368.5" y="35.5" width="6" height="117" fill="#6f6f6f" stroke="#111" stroke-width="0.9"/>
<text x="348.4" y="18.7" font-size="11.6" text-anchor="middle" fill="#111">KMS12PE</text>
<line x1="425.5" y1="28.5" x2="425.5" y2="152.9" stroke="#111" stroke-width="1"/>
<line x1="421.9" y1="152.5" x2="425.1" y2="152.5" stroke="#111" stroke-width="1"/>
<text x="419.4" y="155.47" font-size="10.4" text-anchor="end" fill="#111">0</text>
<line x1="421.9" y1="117.5" x2="425.1" y2="117.5" stroke="#111" stroke-width="1"/>
<text x="419.4" y="119.97" font-size="10.4" text-anchor="end" fill="#111">10</text>
<line x1="421.9" y1="81.5" x2="425.1" y2="81.5" stroke="#111" stroke-width="1"/>
<text x="419.4" y="84.47" font-size="10.4" text-anchor="end" fill="#111">20</text>
<line x1="421.9" y1="46.5" x2="425.1" y2="46.5" stroke="#111" stroke-width="1"/>
<text x="419.4" y="48.97" font-size="10.4" text-anchor="end" fill="#111">30</text>
<line x1="422.5" y1="135.5" x2="425.1" y2="135.5" stroke="#111" stroke-width="1"/>
<line x1="422.5" y1="99.5" x2="425.1" y2="99.5" stroke="#111" stroke-width="1"/>
<line x1="422.5" y1="64.5" x2="425.1" y2="64.5" stroke="#111" stroke-width="1"/>
<line x1="425.1" y1="152.5" x2="467" y2="152.5" stroke="#111" stroke-width="1"/>
<line x1="446.5" y1="152.9" x2="446.5" y2="155.9" stroke="#111" stroke-width="1"/>
<line x1="467.5" y1="152.9" x2="467.5" y2="155.9" stroke="#111" stroke-width="1"/>
<rect x="428.5" y="120.5" width="7" height="32" fill="#fff" stroke="#111" stroke-width="0.9"/>
<rect x="435.5" y="78.5" width="7" height="74" fill="#6f6f6f" stroke="#111" stroke-width="0.9"/>
<rect x="450.5" y="113.5" width="6" height="39" fill="#fff" stroke="#111" stroke-width="0.9"/>
<rect x="456.5" y="41.5" width="7" height="111" fill="#6f6f6f" stroke="#111" stroke-width="0.9"/>
<text x="441" y="18.7" font-size="11.6" text-anchor="middle" fill="#111">2132</text>
<text transform="translate(236.4 91.5) rotate(-90)" font-size="11.9" text-anchor="middle" fill="#111">% ToPro-3<tspan font-size="10" dy="-4.2">+</tspan></text>
<text transform="translate(401.4 89.6) rotate(-90)" font-size="12.1" text-anchor="middle" fill="#111">% Annexin V<tspan font-size="10" dy="-4.2">+</tspan></text>
<text transform="translate(283.5 164.2) rotate(-48)" font-size="11.3" text-anchor="end" fill="#111">Cntl</text>
<text transform="translate(306.5 164.2) rotate(-48)" font-size="11.3" text-anchor="end" fill="#111">pG<tspan font-size="7.5" dy="2.8">1</tspan><tspan dy="-2.8">S</tspan></text>
<text transform="translate(354 164.2) rotate(-48)" font-size="11.3" text-anchor="end" fill="#111">Cntl</text>
<text transform="translate(377.5 164.2) rotate(-48)" font-size="11.3" text-anchor="end" fill="#111">pG<tspan font-size="7.5" dy="2.8">1</tspan><tspan dy="-2.8">S</tspan></text>
<text transform="translate(445 164.2) rotate(-48)" font-size="11.3" text-anchor="end" fill="#111">Cntl</text>
<text transform="translate(468.5 164.2) rotate(-48)" font-size="11.3" text-anchor="end" fill="#111">pG<tspan font-size="7.5" dy="2.8">1</tspan><tspan dy="-2.8">S</tspan></text>
<rect x="477.9" y="88" width="6.6" height="6.6" fill="#fff" stroke="#888" stroke-width="0.8"/>
<rect x="477.9" y="99.6" width="6.6" height="6.6" fill="#6f6f6f" stroke="#777" stroke-width="0.6"/>
<text x="488" y="94.8" font-size="9.2" fill="#111">–</text>
<text x="496.4" y="94.8" font-size="9.2" fill="#111">BTZ</text>
<text x="487.6" y="106" font-size="9.2" fill="#111">+</text>
<text x="496.4" y="106" font-size="9.2" fill="#111">BTZ</text>
<text x="214.6" y="210.6" font-size="17.5" font-weight="bold" fill="#000">D</text>
<text x="334.2" y="209.6" font-size="11" text-anchor="middle" fill="#111">0 h</text>
<line x1="302" y1="213.1" x2="368.3" y2="213.1" stroke="#111" stroke-width="1.3"/>
<text x="445.6" y="209.6" font-size="11" text-anchor="middle" fill="#111">7 h</text>
<line x1="378" y1="213.1" x2="512.8" y2="213.1" stroke="#111" stroke-width="1.3"/>
<text x="339.4" y="228.1" font-size="11.2" text-anchor="middle" fill="#111">No BTZ</text>
<text x="414.8" y="228.1" font-size="11.2" text-anchor="middle" fill="#111">No BTZ</text>
<text x="484.6" y="228.1" font-size="11.2" text-anchor="middle" fill="#111">+ BTZ</text>
<path d="M362.4 265.6h.75M345.2 275.3h.75M361.6 265.7h.75M342.5 266.5h.75M347.7 264.9h.75M346.7 244.2h.75M345.8 257.4h.75M352.1 238.2h.75M314.1 234.7h.75M352.8 282.1h.75M345.1 252.6h.75M356.0 275.2h.75M339.0 246.6h.75M322.0 255.5h.75M323.1 256.0h.75M344.2 283.1h.75M305.9 263.3h.75M304.9 239.1h.75M355.2 263.8h.75M362.2 256.8h.75M340.9 283.3h.75M366.3 258.4h.75M329.2 238.2h.75M344.3 244.2h.75M310.3 284.9h.75M308.1 279.7h.75M349.2 245.8h.75M350.2 242.8h.75M305.6 274.5h.75M348.8 278.9h.75M349.9 237.3h.75M343.3 271.0h.75M332.4 283.0h.75M318.9 284.8h.75M322.0 265.0h.75M328.4 285.2h.75M332.4 276.7h.75M319.5 273.2h.75M322.1 276.6h.75M326.3 268.5h.75M326.1 263.8h.75M327.7 278.9h.75M319.9 272.5h.75M311.0 275.1h.75M328.3 261.8h.75M334.2 269.5h.75M310.6 259.4h.75M328.3 266.9h.75M329.8 258.2h.75M321.7 275.3h.75M317.7 273.3h.75M319.9 271.0h.75M324.5 283.9h.75M313.9 274.0h.75M331.3 261.1h.75M322.9 284.4h.75M329.5 248.5h.75M320.7 257.1h.75M324.4 263.8h.75M318.5 263.0h.75M324.3 265.5h.75M316.2 267.2h.75M325.1 262.9h.75M329.9 257.4h.75M325.1 266.1h.75M333.0 264.3h.75M317.8 259.6h.75M335.8 272.9h.75M314.9 266.4h.75M315.8 279.1h.75M325.2 254.9h.75M323.8 274.9h.75M322.3 271.9h.75M321.6 270.1h.75M323.8 263.9h.75M324.7 269.8h.75M322.1 264.1h.75M315.4 270.4h.75M327.9 252.3h.75M318.7 277.9h.75M328.6 263.9h.75M331.5 262.0h.75M317.0 281.9h.75M319.4 267.2h.75M311.1 261.8h.75M314.3 267.8h.75M309.8 275.9h.75M319.9 264.6h.75M318.0 273.8h.75M332.8 265.9h.75M333.3 279.7h.75M331.5 270.7h.75M312.2 273.3h.75M319.5 270.0h.75M309.5 266.8h.75M323.9 262.3h.75M324.3 280.1h.75M323.9 264.0h.75M338.6 254.0h.75M316.1 271.5h.75M318.3 253.1h.75M324.1 274.4h.75M316.9 278.7h.75M325.7 276.8h.75" stroke="#333" stroke-width="0.75" stroke-opacity="0.85"/>
<path d="M332.1 259.9h.9M327.5 261.4h.9M357.0 250.2h.9M329.4 262.8h.9M354.0 255.1h.9M333.6 255.2h.9M330.7 259.0h.9M359.5 258.4h.9M329.9 256.3h.9M353.4 257.5h.9M346.0 255.6h.9M346.1 253.2h.9M338.7 253.9h.9M352.6 256.0h.9M336.4 254.6h.9M342.2 255.8h.9M342.8 254.4h.9M347.2 253.6h.9M356.0 253.9h.9M350.7 255.7h.9M343.6 253.8h.9M339.1 254.9h.9M360.9 260.7h.9M358.0 261.2h.9M339.9 255.7h.9M333.0 252.9h.9M361.6 258.5h.9M336.2 251.9h.9M337.7 254.2h.9M355.0 252.4h.9M349.4 254.2h.9M349.0 252.1h.9M349.9 256.2h.9M347.6 252.5h.9M347.5 253.9h.9M348.0 259.3h.9M342.9 251.4h.9M343.7 255.5h.9M355.4 257.6h.9M346.0 252.6h.9M333.6 253.0h.9M351.8 250.0h.9M359.4 257.0h.9M356.7 254.4h.9M331.9 256.6h.9M340.0 251.6h.9M344.6 255.4h.9M356.9 258.2h.9M344.7 250.5h.9M330.8 253.6h.9M345.3 256.4h.9M338.2 254.5h.9M332.8 254.7h.9M332.4 253.5h.9M338.1 258.6h.9M327.3 253.6h.9M329.9 256.9h.9M348.2 254.8h.9M339.8 256.9h.9M334.1 256.0h.9M354.3 256.8h.9M348.6 253.5h.9M357.4 257.5h.9M350.0 255.2h.9M351.7 256.5h.9M347.4 252.0h.9M326.7 257.5h.9M344.3 252.2h.9M345.3 252.6h.9M339.8 253.9h.9M350.5 252.1h.9M327.9 255.9h.9M354.4 253.5h.9M338.0 256.8h.9M333.8 258.7h.9M350.0 255.4h.9M351.3 254.6h.9M348.7 256.0h.9M359.7 256.4h.9M330.2 258.0h.9M330.2 259.4h.9M335.0 256.0h.9M354.4 255.2h.9M343.3 254.8h.9M358.7 252.0h.9M335.7 255.1h.9M343.9 256.0h.9M342.1 253.1h.9M357.0 259.7h.9M348.3 254.8h.9M343.1 255.8h.9M337.3 258.3h.9M335.7 250.2h.9M342.6 255.7h.9M342.9 253.7h.9M341.5 253.6h.9M359.9 257.6h.9M335.4 253.9h.9M351.9 254.8h.9M350.3 255.9h.9M359.5 259.7h.9M334.6 255.6h.9M357.0 253.9h.9M350.0 259.4h.9M351.6 255.1h.9M355.8 255.6h.9M337.1 257.2h.9M336.5 253.7h.9M356.2 261.4h.9M333.8 249.4h.9M342.6 254.7h.9M350.0 257.2h.9M326.7 257.8h.9M341.3 253.2h.9M359.9 259.1h.9M360.4 259.5h.9M334.5 257.3h.9M345.2 253.8h.9M345.8 251.9h.9M346.9 254.9h.9M339.5 251.5h.9M335.0 254.5h.9M350.1 253.8h.9M357.6 258.1h.9M336.6 254.7h.9M355.0 258.2h.9M339.6 255.4h.9M326.5 255.6h.9M347.3 254.4h.9M347.6 256.1h.9M329.3 254.8h.9M339.1 253.0h.9M334.3 254.6h.9M358.4 253.9h.9M335.6 258.2h.9M328.0 256.3h.9M329.5 256.5h.9M343.5 254.1h.9M332.1 255.9h.9M331.3 260.6h.9M344.7 253.9h.9M354.0 258.9h.9M346.3 252.7h.9M354.6 256.1h.9M326.8 260.5h.9M337.5 253.6h.9M347.6 257.3h.9M354.6 253.9h.9M329.8 250.7h.9M326.6 256.1h.9M353.4 258.6h.9M343.3 254.0h.9M356.1 259.8h.9M330.3 260.9h.9M352.1 256.1h.9M331.9 257.2h.9M346.0 253.0h.9M352.4 255.0h.9M357.8 252.6h.9M350.4 257.4h.9M356.9 254.9h.9M351.5 255.6h.9M356.2 256.1h.9M333.8 251.0h.9M358.1 252.9h.9M353.3 253.5h.9M357.0 250.8h.9M339.7 253.5h.9M362.5 262.8h.9M354.8 259.1h.9M335.4 257.1h.9M329.8 254.9h.9M350.6 252.2h.9M355.7 251.3h.9M359.1 256.5h.9M327.7 253.6h.9M334.9 251.7h.9M357.8 254.8h.9M331.8 261.9h.9M339.4 252.6h.9M338.8 256.3h.9M355.2 254.5h.9M329.7 260.7h.9M340.0 250.7h.9M330.6 255.5h.9M356.7 257.0h.9M356.9 260.4h.9M354.1 253.8h.9M334.7 254.2h.9M346.1 254.1h.9M357.7 257.9h.9M330.8 264.6h.9M343.3 252.6h.9M341.3 255.9h.9M354.9 256.0h.9M360.8 256.0h.9M328.1 255.7h.9M355.8 261.8h.9M347.2 256.3h.9M353.1 252.9h.9M340.1 254.1h.9M355.1 252.9h.9M342.5 249.4h.9M352.8 253.9h.9M341.7 258.5h.9M359.8 259.3h.9M349.4 254.9h.9M352.3 253.1h.9M353.2 257.4h.9M344.8 253.7h.9M354.5 252.9h.9M357.1 255.9h.9M337.8 256.8h.9M356.6 253.3h.9M326.7 255.2h.9M332.1 254.0h.9M339.3 254.8h.9M345.8 253.0h.9M331.0 260.3h.9M332.3 257.3h.9M330.5 258.8h.9M341.9 253.8h.9M335.7 253.6h.9M353.8 252.6h.9M339.8 257.4h.9M340.1 253.0h.9M353.3 256.8h.9M356.3 257.4h.9M348.9 258.3h.9M330.5 255.9h.9M340.7 253.5h.9M337.6 255.8h.9M352.6 252.5h.9M357.1 256.2h.9M352.9 253.7h.9M351.8 252.2h.9M358.0 256.4h.9M341.2 252.2h.9M334.9 253.1h.9M342.7 249.9h.9M330.7 256.5h.9M336.7 254.1h.9M348.5 253.3h.9M346.4 258.6h.9M355.6 253.6h.9M350.7 251.7h.9M361.2 254.8h.9M353.1 251.5h.9M330.1 252.4h.9M348.4 255.1h.9M349.0 252.6h.9M334.1 255.9h.9M354.9 253.8h.9M338.9 253.4h.9M356.3 255.8h.9M350.3 255.7h.9M326.8 258.9h.9M359.7 256.0h.9M331.2 259.7h.9M337.1 256.8h.9M334.5 253.3h.9M357.5 253.0h.9M329.0 258.3h.9M343.8 254.6h.9M348.6 251.3h.9M337.6 254.0h.9M339.5 249.1h.9M357.4 254.4h.9M360.2 261.3h.9M327.9 256.8h.9M350.0 255.1h.9M331.6 256.2h.9M333.0 252.3h.9M343.3 257.6h.9M333.1 258.0h.9M355.5 253.8h.9M361.2 257.0h.9M353.8 255.1h.9M330.9 256.5h.9M349.0 256.5h.9M327.4 250.2h.9M338.6 254.6h.9M342.4 251.7h.9M343.6 254.9h.9M332.3 253.0h.9M361.3 258.2h.9M344.0 253.1h.9M328.1 255.4h.9M333.8 255.4h.9M356.9 252.0h.9M354.4 261.4h.9M341.8 250.1h.9M332.8 255.9h.9M347.3 254.4h.9M356.8 253.0h.9M331.4 256.6h.9M328.4 260.5h.9M354.5 257.1h.9M333.9 260.0h.9M342.5 256.1h.9M331.8 258.4h.9M345.1 251.5h.9M345.5 255.7h.9M327.1 258.5h.9M350.3 252.8h.9M348.9 251.9h.9M334.1 254.0h.9M330.1 264.6h.9M331.3 257.3h.9M353.5 252.5h.9M334.3 262.1h.9M356.1 255.0h.9M336.4 253.9h.9M353.6 253.0h.9M358.1 259.1h.9M328.7 258.1h.9M357.5 258.3h.9M357.0 257.3h.9M331.7 251.9h.9M362.7 257.7h.9M347.6 251.8h.9M345.3 252.0h.9M332.7 258.4h.9M336.5 254.4h.9M357.6 255.2h.9M354.5 255.3h.9M350.5 256.7h.9M333.5 256.0h.9M342.1 256.3h.9M357.3 255.1h.9M338.2 257.9h.9M326.7 251.6h.9M355.1 254.7h.9M329.7 253.5h.9M342.8 254.8h.9M345.4 250.2h.9M354.4 249.7h.9M356.3 255.1h.9M352.4 252.5h.9M359.9 261.6h.9M341.8 252.5h.9M335.9 255.9h.9M324.3 259.2h.9M353.6 252.8h.9M360.2 255.5h.9M336.1 256.6h.9M329.3 263.8h.9M356.3 261.3h.9M357.6 252.0h.9M348.9 256.8h.9M336.0 252.6h.9M347.1 253.9h.9M343.8 251.9h.9M353.8 261.2h.9M352.3 254.3h.9M332.8 259.8h.9M328.3 262.9h.9M358.9 262.5h.9M349.8 250.9h.9M353.7 256.4h.9M328.3 257.4h.9M338.8 253.7h.9M346.0 251.6h.9M351.2 255.3h.9M331.9 257.9h.9M333.5 257.4h.9M357.2 257.9h.9M354.7 255.6h.9M334.2 256.1h.9M342.2 253.2h.9M355.7 261.9h.9M329.7 257.3h.9M358.0 252.8h.9M337.7 254.3h.9M360.1 260.1h.9M346.8 253.0h.9M336.9 259.4h.9M338.4 251.8h.9M334.7 254.9h.9M360.9 260.3h.9M339.2 253.0h.9M354.9 256.9h.9M346.5 255.3h.9M354.7 256.9h.9M354.3 256.1h.9M332.5 256.3h.9M345.0 255.2h.9M327.1 254.5h.9M337.1 255.1h.9M327.3 257.2h.9M332.3 258.7h.9M332.9 257.8h.9M332.8 257.1h.9M345.9 253.1h.9M330.5 261.3h.9M350.7 249.9h.9M361.2 259.6h.9M345.4 255.6h.9M357.4 257.2h.9M338.1 253.2h.9M355.1 255.7h.9M338.6 257.5h.9M344.1 258.7h.9M343.8 254.5h.9M349.5 254.3h.9M343.1 251.4h.9M331.5 254.7h.9M352.4 257.6h.9M357.8 254.2h.9M340.7 253.4h.9M330.4 251.9h.9M330.2 257.9h.9M343.1 255.4h.9M348.8 251.9h.9M340.6 253.9h.9M358.3 261.4h.9M347.3 253.3h.9M356.6 259.3h.9M359.0 264.2h.9M343.6 260.0h.9M336.1 255.4h.9M352.8 254.7h.9M332.2 255.4h.9M348.2 256.8h.9M346.3 253.0h.9M339.2 258.6h.9M333.5 257.7h.9M347.9 253.7h.9M336.2 257.3h.9M338.6 256.8h.9M354.0 250.0h.9M338.1 253.5h.9M330.3 257.6h.9M328.2 261.0h.9M359.6 257.8h.9M347.9 250.8h.9M348.8 254.3h.9M333.4 252.0h.9M360.1 251.3h.9M337.6 257.4h.9M348.4 257.4h.9M335.6 256.6h.9M344.8 253.4h.9M351.4 252.7h.9M350.8 254.1h.9M341.9 250.9h.9M352.2 259.6h.9M355.1 257.1h.9M358.6 261.4h.9M359.3 258.3h.9M350.8 257.2h.9M355.3 255.8h.9M333.9 255.5h.9M329.2 257.0h.9M325.2 254.7h.9M345.0 257.0h.9M343.3 256.6h.9M328.0 258.0h.9M343.4 253.3h.9M354.3 253.1h.9M353.4 254.2h.9M353.6 256.3h.9M352.3 252.6h.9M356.2 255.7h.9M325.0 258.5h.9M336.2 254.4h.9M332.5 255.1h.9M334.2 258.3h.9M358.9 260.4h.9M359.4 258.1h.9M336.3 253.9h.9M339.6 254.4h.9M330.6 258.8h.9M327.7 254.5h.9M336.7 250.8h.9M337.1 254.3h.9M357.4 257.8h.9M331.1 253.4h.9M352.8 258.6h.9M357.9 256.5h.9M332.1 251.1h.9M355.2 255.7h.9M349.2 253.9h.9M332.3 254.6h.9M349.4 256.1h.9M337.9 253.4h.9M328.7 257.2h.9M334.4 251.5h.9M349.8 253.4h.9M336.5 252.7h.9M332.6 259.4h.9M354.9 249.7h.9M354.4 256.6h.9M355.4 255.6h.9M332.8 257.9h.9M336.1 253.6h.9M343.3 255.3h.9M342.5 253.9h.9M348.4 253.8h.9M332.6 257.6h.9M343.7 257.6h.9M333.2 257.2h.9M352.4 252.3h.9M347.2 251.8h.9M350.7 255.8h.9M349.3 255.0h.9M358.9 259.4h.9M341.7 252.9h.9M329.8 253.7h.9M344.0 255.4h.9M331.0 256.8h.9M336.7 253.0h.9M331.8 257.2h.9M346.2 253.0h.9M332.8 252.9h.9M339.7 255.4h.9M359.2 260.9h.9M357.1 251.4h.9M346.4 253.4h.9M333.1 255.0h.9" stroke="#000" stroke-width="0.9" stroke-opacity="0.55"/>
<path d="M330.1 268.1h.95M328.1 265.5h.95M325.1 272.9h.95M328.0 274.4h.95M326.8 267.0h.95M325.1 270.6h.95M324.5 268.8h.95M328.4 273.2h.95M324.9 271.1h.95M326.8 263.6h.95M324.1 271.3h.95M331.1 265.2h.95M326.4 265.3h.95M331.4 272.1h.95M328.0 259.4h.95M325.3 271.6h.95M331.2 266.6h.95M326.7 264.6h.95M323.3 270.0h.95M324.6 271.0h.95M325.4 261.1h.95M328.7 264.0h.95M329.0 267.3h.95M324.8 269.1h.95M330.7 259.4h.95M330.5 269.7h.95M330.5 259.6h.95M326.5 265.3h.95M330.7 261.4h.95M327.6 258.3h.95M326.8 268.3h.95M324.9 263.9h.95M327.2 273.7h.95M329.0 266.0h.95M326.1 262.7h.95M326.2 267.4h.95M326.0 273.8h.95M329.0 262.7h.95M329.6 271.5h.95M328.3 264.1h.95M324.9 262.1h.95M329.9 264.0h.95M324.9 267.3h.95M327.5 269.6h.95M327.6 273.0h.95M325.1 270.7h.95M325.1 269.5h.95M327.7 268.1h.95M329.3 267.3h.95M328.9 271.0h.95M328.3 264.7h.95M326.6 264.5h.95M327.2 266.8h.95M332.5 270.8h.95M329.7 263.7h.95M326.5 265.4h.95M328.7 262.8h.95M331.0 265.3h.95M331.5 257.8h.95M327.3 268.1h.95M327.4 269.5h.95M327.9 267.8h.95M324.6 263.3h.95M322.6 268.7h.95M328.3 266.3h.95M326.5 264.3h.95M329.5 274.8h.95M326.3 272.3h.95M326.2 258.4h.95M327.4 263.2h.95M326.3 267.6h.95M333.7 265.4h.95M327.4 268.2h.95M326.7 270.8h.95M331.9 262.6h.95M328.0 266.0h.95M329.5 260.8h.95M326.2 256.8h.95M328.3 268.0h.95M329.6 257.3h.95M327.5 263.8h.95M325.7 262.7h.95M328.4 269.5h.95M327.1 269.1h.95M326.3 267.1h.95M327.1 269.3h.95M327.5 266.4h.95M327.8 264.3h.95M331.3 270.0h.95M326.4 276.6h.95M331.4 261.1h.95M328.1 270.7h.95M329.9 273.1h.95M329.9 262.4h.95M325.7 267.8h.95M329.3 263.0h.95M327.1 265.2h.95M327.4 268.4h.95M328.0 261.8h.95M328.5 274.0h.95M326.5 271.2h.95M327.8 269.9h.95M329.1 264.0h.95M327.8 271.4h.95M324.2 274.8h.95M329.9 275.3h.95M330.6 270.8h.95M327.4 264.4h.95M325.9 267.2h.95M326.9 269.7h.95M321.8 275.8h.95M331.8 267.7h.95M328.4 269.2h.95M328.2 266.2h.95M328.0 263.6h.95M327.9 267.0h.95M328.8 263.6h.95M327.6 267.2h.95M329.5 262.9h.95M327.5 271.2h.95M328.9 265.7h.95M326.8 265.8h.95M327.6 273.7h.95M327.8 264.3h.95M328.1 268.0h.95M326.4 263.6h.95M326.8 269.7h.95M326.2 262.4h.95M329.5 262.1h.95M327.4 268.5h.95M328.2 262.8h.95M327.7 265.6h.95M328.9 263.7h.95M331.0 260.5h.95M327.2 267.0h.95M329.8 264.9h.95M329.0 264.9h.95M327.4 274.4h.95M326.4 268.7h.95M325.0 270.7h.95M329.8 267.6h.95M325.1 268.2h.95M328.8 271.9h.95M330.6 259.8h.95M325.1 272.6h.95M324.3 271.2h.95M330.4 270.8h.95M329.9 266.1h.95M325.3 266.1h.95M327.2 266.7h.95M328.9 266.7h.95M327.5 268.8h.95M326.0 274.6h.95M328.3 267.5h.95M327.7 264.3h.95M329.9 268.1h.95M326.0 264.3h.95M327.6 265.1h.95M330.5 262.6h.95M328.3 267.8h.95M325.3 266.8h.95M326.9 269.0h.95M326.4 268.1h.95M325.3 261.9h.95M328.1 271.6h.95M328.0 264.5h.95M331.3 258.8h.95M325.5 269.5h.95M329.6 263.0h.95M322.8 272.3h.95M328.6 263.4h.95M326.9 270.7h.95M321.8 270.6h.95M330.6 258.7h.95M330.4 260.0h.95M329.3 269.1h.95M332.2 265.3h.95M326.7 271.3h.95M326.9 263.9h.95M326.9 266.6h.95M325.1 268.6h.95M328.5 267.5h.95M331.0 266.3h.95M330.4 265.2h.95M330.5 259.3h.95M328.0 266.4h.95M327.1 264.3h.95M327.5 263.9h.95M323.9 263.7h.95M326.9 264.6h.95M325.7 266.0h.95M329.2 266.3h.95M325.5 272.4h.95M328.6 271.2h.95M329.9 266.1h.95M326.4 271.5h.95M326.6 266.3h.95M327.9 268.7h.95M326.2 270.9h.95M326.6 269.9h.95M329.0 270.1h.95M329.9 262.5h.95M325.6 264.0h.95M327.2 273.4h.95M325.0 267.8h.95M326.5 263.7h.95M326.4 269.7h.95M326.9 271.9h.95M324.9 270.3h.95M329.2 267.6h.95M328.9 264.9h.95M325.8 264.9h.95M323.9 278.7h.95M325.2 273.6h.95M327.6 268.4h.95M329.6 264.1h.95M328.9 268.9h.95M324.2 268.9h.95M328.2 269.1h.95M330.8 265.9h.95M327.9 270.3h.95M324.8 271.6h.95M325.9 261.1h.95M329.4 262.7h.95M328.7 260.2h.95M328.6 262.4h.95M329.4 260.8h.95M328.6 266.1h.95M327.7 266.7h.95M328.9 261.6h.95M322.7 266.2h.95M326.2 264.8h.95M330.0 259.0h.95M326.6 264.2h.95M325.3 267.9h.95M327.9 263.6h.95M325.0 270.0h.95M325.8 269.2h.95M329.9 259.4h.95M325.5 266.6h.95M327.5 270.3h.95M328.2 271.6h.95M327.0 266.0h.95M329.3 265.5h.95M330.8 260.9h.95M328.9 266.5h.95M323.0 270.3h.95M328.1 267.2h.95M325.9 264.7h.95M331.0 264.2h.95M321.8 262.2h.95M325.4 266.0h.95M327.6 263.1h.95M325.1 271.0h.95M323.2 274.5h.95M327.4 262.3h.95M328.5 269.6h.95M325.0 269.7h.95M324.9 262.5h.95M329.8 266.4h.95M324.7 268.6h.95M329.3 267.3h.95M324.4 264.9h.95M327.7 270.3h.95M331.2 266.7h.95M326.7 266.7h.95M330.6 263.6h.95M332.2 256.2h.95M329.6 264.5h.95M327.8 270.0h.95M325.4 266.2h.95M327.5 269.5h.95M326.6 262.6h.95M321.8 276.7h.95M327.4 266.0h.95M324.0 270.3h.95M325.3 272.7h.95M329.1 267.4h.95M329.8 262.7h.95M327.4 264.5h.95M325.1 266.6h.95M326.1 272.9h.95M321.8 263.0h.95M326.2 264.7h.95M328.0 268.8h.95M328.0 265.1h.95M328.1 268.7h.95M324.3 265.2h.95M326.0 261.6h.95M327.7 267.3h.95M328.5 263.4h.95M327.9 263.2h.95M327.7 270.0h.95M329.7 272.9h.95M326.4 264.8h.95M325.5 267.9h.95M330.6 270.7h.95M324.5 261.0h.95M324.7 268.6h.95M327.3 268.2h.95M331.5 264.3h.95M324.3 274.8h.95M328.8 263.9h.95M325.0 260.0h.95M322.9 266.4h.95M326.8 271.1h.95M327.8 264.1h.95M324.6 274.5h.95M324.1 267.0h.95M327.1 269.5h.95M326.4 268.9h.95M329.2 266.7h.95M326.8 266.1h.95M325.9 265.8h.95M326.8 267.8h.95M328.9 272.9h.95M326.2 269.3h.95M327.4 270.2h.95M327.3 268.1h.95M327.3 263.6h.95M328.1 272.7h.95M328.4 269.0h.95M328.4 265.2h.95M323.7 269.1h.95M328.4 264.8h.95M324.7 271.9h.95M322.7 273.6h.95M326.7 277.0h.95M326.2 266.6h.95M326.5 267.4h.95M327.8 263.8h.95M330.2 264.2h.95M326.1 269.1h.95M326.9 265.0h.95M328.5 265.6h.95M325.3 266.1h.95M325.7 273.9h.95M324.7 270.6h.95M326.4 265.2h.95M326.7 268.0h.95M327.7 274.5h.95M325.2 272.2h.95M328.7 270.7h.95M325.4 270.4h.95M327.0 268.4h.95M326.5 269.6h.95M328.7 272.1h.95M326.3 271.0h.95M331.0 263.7h.95M331.4 262.1h.95M328.0 269.6h.95M330.1 268.7h.95M327.3 263.5h.95M324.6 269.7h.95M327.7 264.0h.95M329.2 264.1h.95M327.1 264.9h.95M329.4 273.6h.95M328.5 260.5h.95M328.0 267.4h.95M327.7 269.5h.95M326.2 270.7h.95M328.9 268.2h.95M327.2 264.9h.95M329.7 262.7h.95M327.9 263.9h.95M324.4 269.0h.95M327.4 267.1h.95M330.4 261.2h.95M327.2 268.2h.95M330.0 262.8h.95M328.7 268.2h.95M329.1 272.2h.95M326.8 276.1h.95M327.9 265.3h.95M327.7 263.0h.95M329.0 259.3h.95M327.0 268.7h.95M329.7 265.9h.95M330.7 264.8h.95M328.8 259.2h.95M326.8 263.5h.95M329.8 269.7h.95M325.1 268.7h.95M328.6 266.2h.95M327.8 265.8h.95M328.0 259.7h.95M326.3 272.1h.95M330.4 266.4h.95M326.3 265.9h.95M328.9 268.7h.95M326.2 268.2h.95M326.7 269.0h.95M328.0 260.9h.95M327.0 270.1h.95M325.6 266.2h.95M329.4 265.8h.95M324.7 274.9h.95M328.2 271.4h.95M324.5 273.2h.95M324.9 264.3h.95M327.8 272.6h.95M326.4 264.0h.95M329.4 259.3h.95M328.2 269.5h.95M326.3 269.0h.95M328.7 268.5h.95M327.2 273.2h.95M326.5 267.5h.95M325.7 270.9h.95M326.4 268.7h.95M327.7 267.3h.95M330.7 267.3h.95M329.4 270.8h.95M330.0 266.8h.95M328.6 270.4h.95M326.2 267.8h.95M327.3 266.8h.95M330.4 264.6h.95M325.9 259.5h.95M327.2 264.3h.95M327.1 269.3h.95M330.4 268.9h.95M328.9 264.3h.95M327.5 272.6h.95M331.5 259.7h.95M327.9 273.6h.95M330.2 261.4h.95M326.5 269.2h.95M328.9 263.9h.95M325.2 270.5h.95M324.0 272.2h.95M327.3 268.2h.95M325.6 264.2h.95M329.9 261.4h.95M332.4 262.2h.95M325.3 266.7h.95M327.8 270.1h.95M327.0 266.0h.95M327.6 264.6h.95M322.1 269.9h.95M327.8 267.7h.95M326.2 267.8h.95M327.6 266.7h.95M330.9 260.6h.95M328.8 262.9h.95M325.8 272.8h.95M325.7 266.2h.95M325.7 270.5h.95M327.1 260.0h.95M328.7 265.8h.95M326.1 271.2h.95M326.2 265.2h.95M327.5 268.7h.95M325.8 270.9h.95M331.9 266.2h.95M332.6 259.3h.95M330.3 266.1h.95M328.0 265.7h.95M327.4 261.7h.95M325.8 272.0h.95M329.8 266.0h.95M327.1 264.0h.95M323.9 273.7h.95M328.6 267.7h.95M327.5 262.8h.95M329.3 270.6h.95M325.0 270.6h.95M325.0 269.1h.95M326.1 265.0h.95M328.1 268.9h.95M330.0 264.1h.95M329.3 272.9h.95M327.1 268.8h.95M326.3 266.1h.95M325.1 266.9h.95M326.8 272.4h.95M328.6 270.6h.95M327.1 266.0h.95M326.7 267.8h.95M323.5 269.3h.95M325.1 264.4h.95M328.0 265.0h.95M330.6 267.2h.95M329.4 272.2h.95M326.3 268.4h.95M330.1 266.2h.95M328.1 264.8h.95M327.9 265.6h.95M326.9 271.0h.95M329.9 268.0h.95M327.2 270.5h.95M327.9 262.7h.95M330.3 263.7h.95M330.0 263.5h.95M331.6 263.5h.95M327.8 273.2h.95M324.6 272.5h.95M327.5 259.7h.95M328.3 270.0h.95M329.2 256.9h.95M327.7 265.8h.95M327.1 265.7h.95M324.8 264.1h.95M329.5 273.8h.95M327.4 264.1h.95M327.4 271.3h.95M329.8 262.6h.95M327.7 267.6h.95M329.1 272.2h.95M327.5 272.0h.95M325.6 272.9h.95M326.4 268.4h.95M329.9 263.7h.95M327.7 259.8h.95M327.9 266.8h.95M326.5 268.9h.95M323.8 266.1h.95M327.9 266.0h.95M327.5 274.2h.95M327.5 263.1h.95M326.4 267.1h.95M329.3 263.8h.95M330.1 263.3h.95M328.7 269.0h.95M326.6 275.7h.95M327.2 266.3h.95M327.7 270.6h.95M324.9 267.6h.95M325.7 269.2h.95M329.9 267.7h.95M327.2 267.7h.95M321.6 269.0h.95M328.4 267.9h.95M327.4 264.0h.95M326.2 271.7h.95M326.3 272.3h.95M323.3 264.3h.95M328.0 267.0h.95M325.1 263.8h.95M330.8 262.3h.95M326.6 262.3h.95M326.0 269.3h.95M330.2 259.2h.95M330.6 265.2h.95M325.1 273.4h.95M328.4 262.1h.95M327.0 263.9h.95M326.0 265.3h.95M328.8 268.7h.95M322.8 277.5h.95M325.7 267.1h.95M327.0 270.0h.95M326.6 268.7h.95M331.2 268.1h.95M325.3 267.9h.95M326.4 265.2h.95M327.6 268.4h.95M326.3 270.2h.95M328.2 261.8h.95M329.4 265.9h.95M330.2 264.9h.95M328.3 268.5h.95M323.9 260.1h.95M324.4 272.2h.95M323.4 269.9h.95M329.1 269.4h.95M329.1 265.3h.95M327.3 267.9h.95M327.7 269.9h.95M327.7 264.2h.95M326.2 268.4h.95M325.6 261.4h.95M327.2 264.7h.95M329.2 256.4h.95M327.1 265.9h.95M330.5 259.5h.95M326.6 268.8h.95M327.4 271.9h.95M330.3 263.2h.95M328.9 265.9h.95M324.9 272.8h.95M327.1 263.4h.95M327.5 263.5h.95M329.0 268.9h.95M329.7 269.1h.95M325.6 270.9h.95M326.7 264.9h.95M327.2 267.1h.95M330.2 265.0h.95M328.2 267.0h.95M326.1 262.2h.95M326.8 268.5h.95M327.7 269.0h.95M328.0 265.2h.95M329.1 263.2h.95M325.4 265.2h.95M325.4 264.4h.95M326.6 264.5h.95M328.1 263.8h.95M328.1 260.1h.95M328.5 263.6h.95M330.5 255.9h.95M325.9 267.7h.95M323.4 264.7h.95M327.6 267.4h.95M324.7 267.4h.95M328.6 263.2h.95M328.9 267.1h.95M327.9 265.2h.95M328.4 267.6h.95M329.2 269.2h.95M326.6 265.9h.95M329.5 265.9h.95M327.8 269.2h.95M329.1 257.7h.95M327.6 267.9h.95M328.4 264.0h.95M329.8 266.9h.95M327.0 263.9h.95M329.1 262.8h.95M324.1 274.6h.95M329.0 271.7h.95M329.5 269.9h.95M323.5 271.1h.95M329.4 269.4h.95M323.0 271.2h.95M330.4 265.5h.95M327.1 270.1h.95M326.5 271.3h.95M327.1 269.8h.95M328.9 261.1h.95M323.2 279.3h.95M327.0 272.3h.95M328.2 274.3h.95M329.0 264.8h.95M329.1 259.3h.95M326.5 270.5h.95M323.5 267.0h.95M327.9 272.6h.95M326.4 264.1h.95M325.0 262.2h.95M326.8 275.5h.95M324.3 272.1h.95M328.7 265.2h.95M333.5 257.7h.95M327.2 267.9h.95M329.9 275.0h.95M331.5 268.4h.95M328.2 272.8h.95" stroke="#000" stroke-width="0.95" stroke-opacity="0.9"/>
<rect x="302.7" y="232.7" width="65.2" height="54" fill="none" stroke="#444" stroke-width="0.9"/>
<line x1="302.7" y1="232.3" x2="302.7" y2="287.5" stroke="#000" stroke-width="1.3"/>
<line x1="302.2" y1="286.5" x2="368.4" y2="286.5" stroke="#111" stroke-width="1.2"/>
<path d="M301.4 282.7h1.3M301.4 278.7h1.3M301.4 274.7h1.3M300.3 270.7h2.4M301.4 266.7h1.3M301.4 262.7h1.3M301.4 258.7h1.3M300.3 254.7h2.4M301.4 250.7h1.3M301.4 246.7h1.3M301.4 242.7h1.3M300.3 238.7h2.4M301.4 234.7h1.3M306.7 286.7v1.3M310.7 286.7v1.3M314.7 286.7v1.3M318.7 286.7v2.4M322.7 286.7v1.3M326.7 286.7v1.3M330.7 286.7v1.3M334.7 286.7v2.4M338.7 286.7v1.3M342.7 286.7v1.3M346.7 286.7v1.3M350.7 286.7v2.4M354.7 286.7v1.3M358.7 286.7v1.3M362.7 286.7v1.3M366.7 286.7v2.4" stroke="#222" stroke-width="0.6"/>
<rect x="324.6" y="242.1" width="33.3" height="16.8" fill="none" stroke="#333" stroke-width="0.9"/>
<text x="323" y="250" font-size="10.6" text-anchor="end" fill="#111">31</text>
<path d="M409.9 268.8h.75M386.7 284.4h.75M429.2 242.6h.75M436.7 262.5h.75M426.8 279.6h.75M400.9 282.6h.75M390.8 234.0h.75M410.1 281.2h.75M436.0 284.3h.75M410.6 283.1h.75M413.8 240.5h.75M418.5 276.1h.75M405.0 265.2h.75M394.2 247.6h.75M404.7 260.4h.75M407.9 237.7h.75M424.1 273.1h.75M392.8 246.5h.75M411.0 242.2h.75M416.6 281.5h.75M390.5 264.3h.75M424.3 273.2h.75M423.8 271.1h.75M395.1 278.0h.75M437.6 235.5h.75M438.9 256.6h.75M383.0 236.5h.75M429.3 269.3h.75M386.6 257.5h.75M399.2 274.1h.75M393.3 243.4h.75M387.8 254.8h.75M417.6 249.1h.75M387.9 244.5h.75M382.9 243.1h.75M397.9 259.9h.75M389.3 258.6h.75M393.7 260.4h.75M418.4 268.3h.75M397.8 265.2h.75M392.9 263.6h.75M402.4 267.3h.75M395.5 270.8h.75M389.1 271.1h.75M395.3 272.3h.75M394.0 269.9h.75M399.4 275.4h.75M392.2 275.5h.75M390.5 268.6h.75M397.1 270.6h.75M381.5 263.9h.75M395.2 275.2h.75M392.1 278.7h.75M385.6 270.2h.75M399.5 269.8h.75M397.9 275.2h.75M391.5 273.2h.75M402.6 268.3h.75M382.6 262.6h.75M391.3 263.4h.75M398.9 264.9h.75M411.0 273.1h.75M388.6 268.0h.75M405.4 273.7h.75M390.3 275.8h.75M393.5 282.8h.75M393.1 273.2h.75M399.7 267.1h.75M395.4 276.6h.75M399.3 269.3h.75M399.0 280.1h.75M401.9 272.5h.75M398.3 260.4h.75M397.1 266.8h.75M400.7 266.1h.75M399.0 263.5h.75M401.6 265.4h.75M396.2 273.1h.75M394.4 269.7h.75M402.6 280.2h.75M385.6 264.3h.75M400.3 275.3h.75M393.5 270.3h.75M395.2 283.2h.75M395.1 262.6h.75M387.1 262.1h.75M404.1 267.4h.75M407.9 273.5h.75M398.6 273.5h.75M401.0 275.2h.75M390.5 266.4h.75M393.1 270.3h.75M394.8 262.4h.75M392.2 280.3h.75M408.9 264.6h.75M398.6 269.5h.75M391.3 273.9h.75M395.9 279.6h.75M399.0 267.9h.75M380.6 269.1h.75M401.4 265.5h.75M401.6 273.7h.75M385.9 268.5h.75M398.2 274.2h.75M397.2 269.6h.75M394.3 268.0h.75M396.3 263.4h.75M400.1 267.8h.75M399.4 266.7h.75M398.8 270.5h.75M401.6 272.4h.75M401.9 268.7h.75M396.0 268.2h.75M388.9 269.0h.75M402.8 274.3h.75M391.3 271.5h.75M400.8 261.6h.75" stroke="#333" stroke-width="0.75" stroke-opacity="0.85"/>
<path d="M420.3 250.7h.9M429.1 255.2h.9M430.7 260.7h.9M410.9 248.9h.9M422.3 249.4h.9M427.7 255.7h.9M429.0 255.3h.9M424.4 251.9h.9M427.3 253.1h.9M403.1 256.8h.9M433.3 260.7h.9M429.4 254.4h.9M431.1 262.4h.9M419.4 253.7h.9M417.5 252.9h.9M432.3 254.4h.9M407.7 256.9h.9M413.2 251.5h.9M406.2 249.2h.9M407.1 255.5h.9M406.4 259.0h.9M429.7 251.6h.9M429.1 255.3h.9M401.7 262.3h.9M426.3 254.5h.9M411.8 253.7h.9M404.0 254.2h.9M425.1 255.2h.9M435.7 257.5h.9M405.8 257.9h.9M413.4 252.0h.9M431.9 261.5h.9M413.0 256.9h.9M422.4 255.7h.9M427.1 258.1h.9M422.2 253.2h.9M414.1 252.3h.9M429.0 259.8h.9M421.2 252.8h.9M432.9 260.9h.9M435.6 259.4h.9M401.0 257.5h.9M407.4 255.6h.9M424.4 253.4h.9M407.4 250.9h.9M431.4 254.5h.9M418.2 254.6h.9M431.8 258.1h.9M430.1 254.6h.9M404.8 254.2h.9M406.9 254.2h.9M421.6 252.9h.9M412.7 254.6h.9M410.1 251.0h.9M405.6 254.8h.9M406.8 252.9h.9M411.3 253.5h.9M412.4 254.8h.9M434.1 258.5h.9M427.1 251.8h.9M428.6 265.6h.9M430.2 262.6h.9M428.0 251.6h.9M409.9 256.5h.9M407.8 253.3h.9M407.6 251.5h.9M405.4 253.7h.9M412.5 254.7h.9M425.9 255.5h.9M407.2 257.2h.9M432.5 258.9h.9M431.8 255.9h.9M404.2 261.7h.9M430.2 259.2h.9M402.4 261.9h.9M429.3 251.7h.9M419.9 252.2h.9M413.8 255.2h.9M429.1 255.9h.9M412.1 251.5h.9M414.7 256.6h.9M428.6 261.3h.9M432.0 259.2h.9M400.9 257.8h.9M399.7 258.7h.9M415.2 256.1h.9M431.1 259.4h.9M424.2 248.8h.9M424.5 256.0h.9M408.1 254.5h.9M435.6 256.7h.9M419.2 253.1h.9M428.7 256.4h.9M415.9 253.5h.9M432.6 255.2h.9M432.0 259.9h.9M416.5 254.1h.9M430.3 254.7h.9M430.9 263.9h.9M411.6 251.4h.9M429.7 259.1h.9M406.9 258.8h.9M416.7 255.2h.9M414.2 255.2h.9M408.7 254.7h.9M419.3 254.0h.9M409.2 253.7h.9M429.2 261.4h.9M404.7 261.3h.9M431.2 254.1h.9M427.5 255.9h.9M421.1 253.5h.9M425.0 251.8h.9M432.2 258.0h.9M401.0 258.2h.9M410.4 255.5h.9M403.1 257.5h.9M408.6 254.3h.9M408.2 259.0h.9M416.6 251.5h.9M428.1 254.1h.9M413.3 253.0h.9M429.4 259.4h.9M426.1 254.6h.9M408.4 254.4h.9M419.2 250.7h.9M427.3 255.4h.9M426.2 257.1h.9M413.0 250.9h.9M432.9 255.9h.9M434.7 262.5h.9M401.3 260.0h.9M429.1 256.0h.9M426.7 254.0h.9M422.0 254.2h.9M407.7 254.9h.9M407.5 251.1h.9M421.3 254.7h.9M426.5 256.2h.9M422.8 251.9h.9M410.7 254.4h.9M412.4 250.9h.9M406.0 254.7h.9M429.7 254.9h.9M407.4 254.2h.9M433.6 257.7h.9M428.2 251.6h.9M414.1 252.6h.9M402.1 262.8h.9M403.0 257.2h.9M404.1 259.3h.9M404.3 260.2h.9M409.1 256.4h.9M405.4 258.7h.9M420.5 253.8h.9M420.5 250.0h.9M415.8 251.8h.9M419.6 253.5h.9M407.2 254.8h.9M408.3 256.1h.9M402.8 259.0h.9M421.4 251.6h.9M418.2 252.2h.9M418.8 256.2h.9M406.5 254.9h.9M410.7 254.7h.9M421.8 256.6h.9M401.4 255.2h.9M405.6 260.5h.9M419.5 252.6h.9M416.7 253.0h.9M431.8 260.5h.9M421.8 252.9h.9M432.3 253.7h.9M427.3 256.4h.9M405.2 254.6h.9M410.7 251.7h.9M433.8 255.5h.9M415.0 251.3h.9M430.0 258.5h.9M402.3 260.8h.9M431.1 255.5h.9M435.6 260.0h.9M403.2 255.4h.9M428.0 253.8h.9M413.3 251.3h.9M414.5 254.8h.9M410.8 254.3h.9M430.2 261.1h.9M407.7 254.4h.9M423.8 254.8h.9M433.2 260.7h.9M404.7 259.6h.9M432.8 258.1h.9M402.6 257.8h.9M420.1 255.3h.9M433.4 258.8h.9M415.6 255.0h.9M415.7 251.2h.9M429.4 258.4h.9M430.5 262.7h.9M411.6 254.6h.9M420.3 254.5h.9M420.7 251.1h.9M428.4 252.3h.9M429.0 256.6h.9M423.0 252.0h.9M414.3 250.2h.9M431.6 262.8h.9M404.0 254.3h.9M425.4 251.1h.9M424.2 251.8h.9M423.2 252.3h.9M428.3 253.8h.9M414.0 254.5h.9M420.1 254.8h.9M412.1 257.5h.9M407.6 258.7h.9M412.0 254.4h.9M413.6 253.9h.9M433.8 257.3h.9M417.2 254.0h.9M432.7 257.3h.9M407.9 250.7h.9M416.6 254.4h.9M433.1 252.4h.9M399.6 254.1h.9M426.5 254.3h.9M403.7 258.7h.9M429.5 253.8h.9M434.5 257.4h.9M402.6 256.8h.9M412.0 252.9h.9M405.1 259.1h.9M420.9 255.2h.9M432.2 259.1h.9M416.9 251.9h.9M411.1 253.0h.9M413.2 251.4h.9M413.6 253.8h.9M422.3 254.8h.9M425.8 251.9h.9M407.7 253.4h.9M430.9 256.4h.9M417.5 252.8h.9M407.8 256.5h.9M409.3 255.8h.9M413.0 253.8h.9M431.6 253.5h.9M431.4 265.5h.9M419.1 251.4h.9M412.6 257.2h.9M412.5 251.4h.9M420.4 254.6h.9M411.2 251.2h.9M402.2 259.4h.9M403.8 260.6h.9M429.3 255.7h.9M408.5 256.0h.9M413.7 250.0h.9M429.3 251.9h.9M405.9 257.8h.9M405.4 253.5h.9M421.0 253.9h.9M430.6 260.1h.9M405.1 259.8h.9M434.0 259.1h.9M414.5 252.4h.9M405.6 261.6h.9M428.6 259.4h.9M410.0 254.7h.9M433.3 262.9h.9M413.7 255.7h.9M431.3 261.3h.9M422.8 251.4h.9M407.1 254.9h.9M406.3 258.3h.9M414.8 252.3h.9M431.2 258.8h.9M433.1 256.8h.9M402.2 254.2h.9M403.8 260.9h.9M429.1 255.8h.9M429.3 256.1h.9M424.9 254.7h.9M404.9 256.5h.9M411.8 252.7h.9M415.3 252.6h.9M415.9 251.9h.9M431.7 257.1h.9M429.2 254.8h.9M412.7 256.7h.9M409.5 255.1h.9M403.4 254.4h.9M431.7 254.2h.9M405.4 253.1h.9M413.1 254.6h.9M427.6 257.5h.9M411.4 255.9h.9M430.3 252.8h.9M423.4 256.2h.9M427.5 253.7h.9M412.6 251.4h.9M412.2 254.4h.9M434.5 262.3h.9M417.7 252.4h.9M414.5 253.2h.9M432.4 260.4h.9M423.5 250.8h.9M427.4 253.6h.9M403.2 264.9h.9M401.9 255.4h.9M401.1 255.3h.9M427.0 255.6h.9M413.5 252.9h.9M425.1 257.0h.9M419.0 251.5h.9M431.1 256.1h.9M422.4 250.8h.9M435.3 261.4h.9M423.5 254.2h.9M403.5 259.0h.9M426.4 261.2h.9M426.0 253.9h.9M402.4 258.1h.9M408.6 254.4h.9M433.0 257.0h.9M415.7 256.1h.9M417.9 252.8h.9M428.5 253.3h.9M404.2 258.0h.9M419.8 253.1h.9M431.1 262.6h.9M403.0 261.5h.9M419.1 256.3h.9M420.0 252.2h.9M427.2 251.0h.9M416.1 253.8h.9M400.6 260.8h.9M409.4 252.2h.9M432.9 255.0h.9M405.8 259.1h.9M430.7 262.3h.9M411.3 255.9h.9M405.7 256.0h.9M430.8 260.8h.9M409.0 255.1h.9M433.6 257.4h.9M433.3 253.6h.9M399.1 263.3h.9M421.9 252.8h.9M404.7 260.2h.9M419.7 255.4h.9M435.3 258.8h.9M409.4 253.9h.9M417.1 252.9h.9M412.2 252.8h.9M426.9 253.2h.9M434.4 261.1h.9M413.3 254.3h.9M431.0 260.4h.9M435.0 254.5h.9M419.9 255.8h.9M430.1 258.9h.9M429.3 258.4h.9M433.1 261.1h.9M400.5 260.2h.9M407.2 255.2h.9M404.2 257.0h.9M417.0 253.5h.9M428.7 255.2h.9M433.5 252.5h.9M409.7 255.8h.9M422.7 253.6h.9M416.4 256.2h.9M430.8 262.8h.9M428.0 254.8h.9M418.3 253.3h.9M410.2 253.8h.9M414.4 251.7h.9M430.7 256.4h.9M419.6 254.8h.9M404.4 254.7h.9M415.7 255.6h.9M427.0 254.7h.9M424.8 252.4h.9M404.0 256.1h.9M434.5 258.7h.9M412.5 256.5h.9M428.6 257.3h.9M426.4 265.8h.9M414.0 250.0h.9M403.8 260.2h.9M403.0 261.5h.9M425.6 250.6h.9M426.6 253.7h.9M402.9 260.5h.9M419.1 252.2h.9M427.4 260.1h.9M411.3 251.8h.9M409.5 253.9h.9M407.1 258.3h.9M420.7 253.7h.9M423.8 252.4h.9M427.9 256.6h.9M409.8 255.9h.9M434.5 258.0h.9M427.4 254.3h.9M429.9 253.9h.9M410.8 258.4h.9M422.2 253.5h.9M418.1 256.0h.9M431.8 258.9h.9M418.2 255.7h.9M431.6 252.3h.9M405.7 257.3h.9M432.8 254.7h.9M409.1 253.8h.9M417.8 253.7h.9M416.0 249.7h.9M425.9 252.9h.9M432.2 259.7h.9M429.4 256.0h.9M413.3 253.6h.9M421.3 258.7h.9M418.0 250.9h.9M428.5 256.4h.9M427.6 249.9h.9M413.2 250.9h.9M419.7 254.7h.9M405.5 259.9h.9M408.0 258.1h.9M427.3 253.1h.9M429.3 251.4h.9M406.2 253.9h.9M412.1 257.4h.9M425.5 253.0h.9M408.7 254.0h.9M408.6 253.1h.9M429.0 257.9h.9M422.9 251.3h.9M406.5 261.2h.9M406.0 258.0h.9M425.7 254.0h.9M420.4 253.4h.9M414.2 253.7h.9M409.4 256.0h.9M414.3 254.9h.9M404.9 258.1h.9M420.2 253.4h.9M430.4 259.3h.9M431.8 255.5h.9M418.0 252.9h.9M409.3 251.5h.9M422.7 252.1h.9M407.9 259.6h.9M432.9 257.1h.9M430.6 256.4h.9M409.6 252.3h.9M427.7 260.0h.9M406.5 252.8h.9M407.6 255.3h.9M430.8 256.5h.9M408.1 251.5h.9M422.1 250.5h.9M406.2 254.8h.9M409.2 255.2h.9M415.2 251.6h.9M404.8 261.2h.9M421.1 253.4h.9M421.0 252.7h.9M429.9 257.6h.9M417.4 257.6h.9M412.4 254.7h.9M435.1 256.6h.9M419.9 250.3h.9M434.4 260.5h.9M405.7 254.0h.9M408.6 253.2h.9M425.2 254.1h.9" stroke="#000" stroke-width="0.9" stroke-opacity="0.55"/>
<path d="M397.1 272.0h.95M397.7 268.9h.95M400.9 269.0h.95M401.5 267.4h.95M402.3 270.1h.95M402.2 258.6h.95M400.4 270.6h.95M400.4 270.1h.95M402.0 264.9h.95M403.2 275.5h.95M402.0 268.5h.95M404.6 263.8h.95M399.9 272.9h.95M404.0 267.0h.95M400.6 269.9h.95M399.9 266.4h.95M403.2 259.0h.95M402.7 271.8h.95M404.9 263.4h.95M400.3 265.2h.95M398.6 276.4h.95M400.6 267.2h.95M402.2 270.5h.95M405.3 264.8h.95M403.6 269.5h.95M400.0 269.0h.95M398.7 274.7h.95M400.2 272.5h.95M404.8 266.6h.95M400.5 269.0h.95M399.7 272.0h.95M402.9 265.8h.95M400.5 271.4h.95M398.6 274.9h.95M400.9 267.7h.95M399.5 274.8h.95M402.8 274.0h.95M403.2 269.2h.95M404.7 271.8h.95M402.6 271.1h.95M403.3 270.0h.95M402.8 262.4h.95M406.5 264.1h.95M398.7 265.3h.95M404.8 274.0h.95M400.9 269.6h.95M403.3 260.9h.95M401.4 269.8h.95M404.9 264.3h.95M399.1 261.9h.95M402.7 269.1h.95M402.3 269.3h.95M402.3 263.2h.95M402.7 270.3h.95M402.4 273.8h.95M401.3 259.1h.95M397.7 276.7h.95M400.3 270.0h.95M401.7 271.6h.95M408.1 267.5h.95M402.2 266.3h.95M402.3 270.8h.95M399.6 273.6h.95M403.9 270.8h.95M402.1 267.7h.95M398.8 270.9h.95M400.7 266.5h.95M404.4 265.3h.95M400.7 272.0h.95M405.8 266.5h.95M404.5 266.4h.95M402.5 270.7h.95M399.5 272.4h.95M405.3 269.4h.95M403.3 264.1h.95M405.3 269.4h.95M399.4 271.4h.95M399.9 265.6h.95M397.5 273.6h.95M406.4 266.8h.95M401.3 266.2h.95M400.8 270.7h.95M405.3 265.1h.95M404.0 261.7h.95M404.9 268.8h.95M400.0 274.6h.95M401.1 274.1h.95M403.0 275.5h.95M400.7 268.7h.95M402.9 268.0h.95M405.3 266.3h.95M403.1 274.4h.95M399.2 264.3h.95M400.8 266.3h.95M402.9 268.1h.95M402.5 266.9h.95M401.7 270.6h.95M403.9 265.8h.95M402.4 265.7h.95M402.7 263.0h.95M403.4 271.6h.95M402.3 266.0h.95M401.7 265.9h.95M398.4 274.7h.95M408.7 264.7h.95M399.7 270.7h.95M404.1 262.6h.95M398.4 270.3h.95M397.7 273.8h.95M401.2 268.9h.95M402.5 266.5h.95M402.1 267.5h.95M404.4 268.7h.95M402.4 266.6h.95M401.4 265.6h.95M401.0 276.0h.95M404.0 269.9h.95M404.5 273.2h.95M402.6 268.1h.95M400.0 269.4h.95M402.5 262.3h.95M398.7 276.0h.95M402.2 270.7h.95M402.8 266.9h.95M402.3 273.1h.95M401.3 270.6h.95M404.2 267.1h.95M402.9 265.8h.95M403.4 267.4h.95M404.6 266.0h.95M405.3 267.9h.95M401.2 264.9h.95M403.8 265.5h.95M404.6 274.3h.95M403.9 263.2h.95M402.5 265.8h.95M398.6 269.9h.95M406.4 267.2h.95M402.8 274.0h.95M400.6 267.1h.95M402.3 270.6h.95M400.0 269.2h.95M401.4 272.4h.95M399.6 266.0h.95M401.4 267.3h.95M403.8 266.4h.95M407.4 266.6h.95M403.0 273.0h.95M404.0 268.2h.95M400.8 267.5h.95M403.2 269.4h.95M402.8 271.1h.95M401.1 264.8h.95M405.0 267.2h.95M398.2 275.6h.95M401.2 264.8h.95M404.5 264.5h.95M399.9 272.6h.95M399.2 278.4h.95M400.7 279.3h.95M402.3 269.0h.95M401.1 267.6h.95M401.2 268.5h.95M404.3 263.9h.95M401.7 260.2h.95M404.8 268.8h.95M402.1 268.5h.95M403.7 270.2h.95M403.7 268.3h.95M401.9 268.4h.95M398.2 272.5h.95M399.9 264.3h.95M403.3 269.1h.95M402.6 275.7h.95M404.6 274.7h.95M400.5 276.7h.95M400.6 268.1h.95M404.0 268.1h.95M402.1 267.3h.95M406.0 259.3h.95M403.8 273.2h.95M401.7 270.9h.95M399.7 272.8h.95M408.1 265.9h.95M404.6 268.9h.95M401.8 266.7h.95M402.5 263.7h.95M398.7 274.9h.95M401.8 270.9h.95M402.4 270.7h.95M400.0 264.5h.95M402.7 272.8h.95M400.4 266.1h.95M399.8 271.0h.95M402.7 268.9h.95M400.8 269.9h.95M402.6 265.8h.95M403.1 266.2h.95M403.4 271.4h.95M400.6 270.8h.95M402.7 265.9h.95M401.5 261.9h.95M399.9 269.8h.95M404.6 266.5h.95M402.2 270.1h.95M403.2 270.7h.95M403.9 272.1h.95M400.5 270.1h.95M398.1 267.4h.95M401.8 271.0h.95M401.1 271.9h.95M405.0 265.7h.95M401.0 269.6h.95M402.9 269.4h.95M404.3 264.2h.95M402.8 273.5h.95M403.8 270.7h.95M401.5 270.2h.95M402.9 262.4h.95M401.1 268.4h.95M401.8 264.9h.95M401.9 267.2h.95M402.3 268.5h.95M401.8 272.7h.95M402.1 270.3h.95M401.7 256.7h.95M401.0 271.3h.95M401.9 266.1h.95M399.4 271.9h.95M401.0 269.5h.95M403.8 271.1h.95M406.2 268.8h.95M403.4 271.7h.95M400.9 268.7h.95M401.7 264.5h.95M403.1 265.7h.95M405.6 266.2h.95M401.1 268.9h.95M401.2 268.8h.95M401.9 262.9h.95M398.6 262.9h.95M404.6 270.9h.95M402.7 266.9h.95M401.7 269.8h.95M400.1 265.2h.95M399.8 273.4h.95M399.5 273.1h.95M399.7 279.4h.95M402.0 268.8h.95M404.0 272.5h.95M404.4 264.7h.95M403.1 275.6h.95M402.2 266.8h.95M399.6 272.4h.95M402.6 268.8h.95M399.0 274.8h.95M403.7 268.9h.95M405.3 265.3h.95M404.3 265.0h.95M404.8 268.0h.95M404.6 267.4h.95M402.2 273.3h.95M400.5 268.8h.95M400.1 271.8h.95M401.3 267.1h.95M401.1 273.3h.95M400.3 268.3h.95M401.9 266.4h.95M400.8 267.9h.95M403.4 262.6h.95M403.2 264.1h.95M400.8 277.7h.95M400.4 268.2h.95M401.1 272.5h.95M402.3 261.5h.95M399.2 269.0h.95M401.9 273.0h.95M400.8 271.2h.95M399.5 273.5h.95M402.4 266.0h.95M401.4 275.6h.95M401.4 263.6h.95M401.0 263.9h.95M401.8 270.1h.95M401.7 269.4h.95M404.4 267.9h.95M401.3 259.3h.95M403.0 266.1h.95M401.4 270.3h.95M403.9 262.6h.95M400.4 268.7h.95M401.2 273.2h.95M402.5 260.4h.95M405.2 262.5h.95M400.2 270.0h.95M398.8 278.3h.95M402.2 270.9h.95M400.0 277.3h.95M403.5 266.0h.95M405.4 262.4h.95M400.9 269.7h.95M402.9 264.9h.95M404.1 274.9h.95M400.2 269.9h.95M401.3 266.8h.95M403.8 269.5h.95M401.9 269.1h.95M399.3 273.2h.95M400.0 273.7h.95M401.6 266.8h.95M404.7 269.9h.95M401.3 266.4h.95M402.1 276.3h.95M403.5 267.3h.95M400.5 265.7h.95M401.8 269.6h.95M400.2 273.6h.95M400.8 265.6h.95M402.7 270.7h.95M400.9 272.4h.95M398.6 274.8h.95M404.8 277.0h.95M401.2 276.5h.95M401.4 274.0h.95M401.7 269.4h.95M404.1 261.9h.95M400.7 275.4h.95M396.7 269.4h.95M403.6 270.2h.95M401.6 274.2h.95M403.9 261.3h.95M400.6 267.3h.95M402.6 267.0h.95M400.9 275.3h.95M396.2 272.5h.95M403.4 271.3h.95M402.1 269.0h.95M402.6 269.8h.95M400.4 271.6h.95M400.7 268.3h.95M402.2 264.1h.95M403.2 268.6h.95M400.1 268.1h.95M398.8 274.0h.95M401.9 276.7h.95M400.7 271.3h.95M400.9 265.1h.95M401.7 270.3h.95M403.9 267.9h.95M403.5 272.8h.95M400.7 267.8h.95M399.5 275.2h.95M400.6 272.0h.95M403.9 267.9h.95M401.1 269.9h.95M401.5 263.5h.95M400.2 269.8h.95M401.4 275.7h.95M398.6 270.2h.95M399.4 272.9h.95M403.3 269.4h.95M405.0 267.6h.95M401.8 264.4h.95M400.9 269.0h.95M402.6 273.9h.95M402.1 265.8h.95M401.8 266.9h.95M401.5 267.0h.95M400.6 268.3h.95M401.3 267.9h.95M399.6 268.9h.95M402.8 271.4h.95M401.8 264.1h.95M400.5 263.7h.95M401.2 267.3h.95M398.6 270.9h.95M399.8 265.6h.95M400.4 271.8h.95M405.6 267.8h.95M401.9 267.1h.95M401.9 268.0h.95M407.1 265.1h.95M402.4 265.6h.95M403.1 266.8h.95M403.8 264.6h.95M405.7 270.1h.95M398.6 271.0h.95M402.0 264.1h.95M403.2 266.8h.95M403.7 266.8h.95M403.6 269.5h.95M402.7 269.4h.95M401.7 267.2h.95M402.5 271.6h.95M400.1 277.3h.95M405.8 264.7h.95M404.1 268.7h.95M403.0 265.7h.95M405.5 265.9h.95M402.4 265.9h.95M404.8 274.1h.95M400.1 266.6h.95M403.0 267.1h.95M402.1 264.4h.95M403.2 264.5h.95M402.2 278.3h.95M400.6 275.0h.95M403.2 266.2h.95M402.1 264.9h.95M401.9 271.5h.95M403.9 267.9h.95M400.1 268.1h.95M404.9 270.2h.95M403.2 260.6h.95M401.0 270.7h.95M399.7 273.7h.95M401.6 265.2h.95M401.2 268.2h.95M404.2 266.8h.95M399.0 267.9h.95M402.1 274.8h.95M399.3 274.2h.95M403.0 270.7h.95M401.3 265.1h.95M399.9 272.1h.95M401.9 272.9h.95M405.3 269.3h.95M400.9 276.1h.95M400.1 266.6h.95M401.7 267.1h.95M402.9 265.5h.95M405.0 263.7h.95M401.7 261.9h.95M399.3 270.6h.95M403.3 268.1h.95M403.2 271.3h.95M401.1 268.4h.95M401.6 276.6h.95M401.1 270.0h.95M402.4 273.6h.95M402.2 273.0h.95M400.4 267.4h.95M398.8 268.0h.95M406.1 270.3h.95M402.1 269.8h.95M403.2 263.6h.95M401.0 267.9h.95M402.9 265.4h.95M402.4 265.9h.95M400.2 265.8h.95M400.2 271.8h.95M404.1 271.3h.95M402.1 266.5h.95M399.7 266.3h.95M404.2 273.6h.95M402.7 267.8h.95M401.9 270.4h.95M401.9 270.4h.95M400.7 268.7h.95M400.9 272.8h.95M399.2 273.4h.95M402.3 266.8h.95M402.1 269.2h.95M401.5 270.3h.95M402.1 262.0h.95M403.4 268.8h.95M404.8 270.7h.95M397.9 273.0h.95M400.6 270.7h.95M405.4 273.5h.95M400.3 268.1h.95M398.9 270.9h.95M403.7 264.9h.95M402.4 272.5h.95M403.9 266.4h.95M401.6 264.2h.95M399.7 269.6h.95M401.4 273.8h.95M402.8 267.6h.95M398.7 274.3h.95M402.4 268.7h.95M401.0 264.4h.95M403.8 265.2h.95M402.8 271.3h.95M402.4 262.4h.95M402.0 274.3h.95M401.4 263.7h.95M403.9 269.6h.95M400.3 273.3h.95M401.4 270.4h.95M401.9 265.7h.95M403.0 265.5h.95M399.3 266.2h.95M403.6 273.3h.95M405.3 273.1h.95M404.8 270.1h.95M401.1 270.4h.95M400.0 271.3h.95M401.2 269.6h.95M400.7 268.0h.95M404.0 268.2h.95M400.8 269.6h.95M403.8 268.3h.95M401.0 262.4h.95M399.2 272.5h.95M401.7 270.6h.95M403.8 270.1h.95M403.3 266.9h.95M398.9 270.7h.95M401.6 270.9h.95M400.3 267.9h.95M406.1 266.1h.95M401.5 273.8h.95M401.6 269.2h.95M398.0 271.2h.95M400.6 273.6h.95M402.2 267.3h.95M403.0 267.9h.95M400.3 274.5h.95M403.8 269.4h.95M403.1 272.1h.95M403.1 269.1h.95M402.0 270.3h.95M402.9 270.3h.95M401.2 268.3h.95M403.5 265.1h.95M401.7 271.6h.95M402.6 267.7h.95M402.4 266.9h.95M404.0 267.6h.95M399.9 263.7h.95M402.5 269.6h.95M402.0 263.6h.95M402.3 265.5h.95M401.0 268.6h.95M400.6 269.7h.95M401.1 266.8h.95M400.9 274.2h.95M404.3 272.8h.95M400.8 268.6h.95M403.2 272.1h.95M399.3 268.1h.95M400.4 271.4h.95M403.5 266.9h.95M406.0 268.3h.95M406.5 268.8h.95M400.9 275.9h.95M401.5 266.8h.95M404.7 269.0h.95M403.7 264.1h.95M404.7 273.0h.95M402.3 271.5h.95M401.5 266.8h.95M399.2 269.7h.95M403.8 272.3h.95M403.3 271.7h.95M401.3 263.6h.95M403.1 269.6h.95M404.0 268.0h.95M400.3 270.2h.95M402.1 262.4h.95M401.6 265.3h.95M400.5 266.4h.95M402.4 277.9h.95M405.4 267.7h.95M404.1 268.8h.95M403.2 266.3h.95M402.9 262.4h.95M405.7 266.4h.95M403.5 266.7h.95M403.3 264.4h.95M400.9 272.1h.95M404.3 261.6h.95M404.3 264.0h.95M402.3 270.8h.95M401.2 267.4h.95M401.5 270.2h.95M402.9 274.1h.95M401.6 276.4h.95M399.5 275.2h.95M401.2 271.6h.95M401.8 269.0h.95M400.3 270.0h.95M405.6 269.9h.95M402.1 268.8h.95M403.5 268.2h.95M402.0 269.6h.95M403.8 272.7h.95M400.6 266.1h.95M401.7 272.0h.95M403.9 268.2h.95M405.9 268.7h.95M403.8 274.5h.95M404.8 269.9h.95M404.0 263.2h.95M399.4 266.0h.95M402.8 273.0h.95M401.3 272.6h.95M402.3 274.6h.95M399.8 265.2h.95" stroke="#000" stroke-width="0.95" stroke-opacity="0.9"/>
<rect x="377.7" y="232.7" width="65.2" height="54" fill="none" stroke="#444" stroke-width="0.9"/>
<line x1="377.7" y1="232.3" x2="377.7" y2="287.5" stroke="#000" stroke-width="1.3"/>
<line x1="377.2" y1="286.5" x2="443.4" y2="286.5" stroke="#111" stroke-width="1.2"/>
<path d="M376.4 282.7h1.3M376.4 278.7h1.3M376.4 274.7h1.3M375.3 270.7h2.4M376.4 266.7h1.3M376.4 262.7h1.3M376.4 258.7h1.3M375.3 254.7h2.4M376.4 250.7h1.3M376.4 246.7h1.3M376.4 242.7h1.3M375.3 238.7h2.4M376.4 234.7h1.3M381.7 286.7v1.3M385.7 286.7v1.3M389.7 286.7v1.3M393.7 286.7v2.4M397.7 286.7v1.3M401.7 286.7v1.3M405.7 286.7v1.3M409.7 286.7v2.4M413.7 286.7v1.3M417.7 286.7v1.3M421.7 286.7v1.3M425.7 286.7v2.4M429.7 286.7v1.3M433.7 286.7v1.3M437.7 286.7v1.3M441.7 286.7v2.4" stroke="#222" stroke-width="0.6"/>
<rect x="399.6" y="242.1" width="33.3" height="16.8" fill="none" stroke="#333" stroke-width="0.9"/>
<text x="398" y="250" font-size="10.6" text-anchor="end" fill="#111">34</text>
<path d="M455.6 238.4h.75M451.1 246.9h.75M489.2 285.0h.75M510.9 279.4h.75M455.8 275.5h.75M497.4 258.2h.75M455.4 244.4h.75M456.2 265.7h.75M488.4 279.0h.75M511.1 246.9h.75M465.0 279.5h.75M455.0 275.5h.75M506.2 263.1h.75M487.3 265.8h.75M498.0 260.6h.75M455.2 244.7h.75M490.3 237.0h.75M454.7 246.2h.75M499.6 262.2h.75M471.0 284.7h.75M485.6 245.6h.75M484.6 278.9h.75M471.8 256.2h.75M489.4 242.5h.75M485.7 250.1h.75M478.6 271.2h.75M449.0 260.1h.75M468.2 265.0h.75M501.2 257.9h.75M488.8 248.3h.75M464.4 260.2h.75M482.4 244.8h.75M497.6 259.7h.75M470.9 246.4h.75M502.3 281.4h.75M508.9 246.1h.75M481.8 270.6h.75M480.6 270.1h.75M464.4 261.9h.75M474.9 283.6h.75M486.2 266.2h.75M491.2 259.9h.75M465.0 276.1h.75M459.7 275.9h.75M474.5 273.7h.75M462.2 271.7h.75M479.0 268.3h.75M479.6 268.9h.75M474.3 266.2h.75M461.0 267.4h.75M475.5 262.7h.75M456.3 256.4h.75M481.9 266.9h.75M465.6 278.6h.75M470.2 256.7h.75M468.2 261.7h.75M470.2 261.4h.75M472.1 272.3h.75M467.1 267.1h.75M470.4 275.3h.75M466.0 274.7h.75M481.4 267.2h.75M464.0 266.2h.75M457.7 264.4h.75M462.2 267.3h.75M468.7 272.8h.75M472.5 272.1h.75M471.2 270.9h.75M462.7 274.0h.75M481.8 277.6h.75M461.0 272.0h.75M458.8 274.7h.75M470.0 265.0h.75M465.7 266.8h.75M471.6 261.0h.75M472.1 270.8h.75M475.7 268.3h.75M479.5 271.3h.75M460.7 273.6h.75M476.1 247.5h.75M470.3 271.8h.75M471.9 269.5h.75M470.4 279.8h.75M474.6 266.4h.75M469.8 285.4h.75M464.8 264.5h.75M474.2 269.9h.75M474.0 279.5h.75M480.6 272.1h.75M472.0 268.2h.75M469.8 276.7h.75M461.7 260.4h.75M468.0 261.0h.75M465.8 278.3h.75M453.9 273.3h.75M461.3 266.8h.75M467.1 260.8h.75M459.9 269.3h.75M468.5 277.5h.75M486.2 266.4h.75M465.3 266.4h.75M475.3 276.2h.75M464.1 272.5h.75M471.4 277.8h.75M468.4 267.0h.75M464.9 258.1h.75M473.8 274.4h.75M480.5 270.8h.75M468.0 261.4h.75M462.5 262.9h.75M474.3 269.4h.75M453.5 267.9h.75M469.4 260.3h.75M471.5 272.9h.75M463.5 257.9h.75M469.1 270.8h.75M469.6 281.1h.75M472.8 260.7h.75M477.8 263.5h.75M477.1 269.5h.75M481.4 260.7h.75M477.3 272.1h.75M464.5 274.3h.75M489.6 271.6h.75M465.6 267.5h.75M481.9 270.7h.75M483.3 263.5h.75M482.0 256.1h.75M470.3 266.3h.75M467.8 278.5h.75M466.9 271.5h.75M486.3 275.3h.75M468.4 262.9h.75M455.8 271.7h.75M478.7 277.6h.75M477.8 250.2h.75M464.7 275.1h.75M468.5 275.4h.75M492.0 262.6h.75M489.2 268.1h.75M460.0 269.5h.75M478.8 264.1h.75M484.2 261.7h.75M470.1 276.1h.75M470.0 264.2h.75M471.5 273.9h.75M485.4 279.6h.75M486.5 268.5h.75M458.5 268.4h.75M468.4 260.7h.75M467.6 268.2h.75M472.1 276.0h.75M464.4 277.9h.75M472.0 274.6h.75M481.6 258.8h.75M484.4 263.0h.75M474.9 277.4h.75M479.0 256.2h.75M473.0 277.8h.75M470.7 268.1h.75M472.3 281.8h.75M467.4 261.2h.75M462.9 264.5h.75" stroke="#333" stroke-width="0.75" stroke-opacity="0.85"/>
<path d="M475.5 259.8h.9M492.5 255.8h.9M493.7 253.7h.9M493.6 252.6h.9M488.0 255.4h.9M485.2 261.5h.9M485.5 252.5h.9M496.0 254.9h.9M502.0 256.4h.9M470.3 262.5h.9M506.6 255.7h.9M491.6 257.3h.9M491.7 259.1h.9M474.8 264.3h.9M506.8 259.1h.9M495.8 259.7h.9M473.3 264.4h.9M503.8 257.5h.9M506.6 254.8h.9M472.3 261.7h.9M476.1 263.8h.9M492.5 255.8h.9M478.2 259.2h.9M494.2 253.2h.9M478.3 259.6h.9M490.5 252.3h.9M496.1 254.2h.9M495.3 253.5h.9M490.6 258.0h.9M488.0 252.0h.9M501.5 255.3h.9M505.6 255.0h.9M476.2 259.8h.9M506.7 254.7h.9M500.9 254.1h.9M492.1 255.2h.9M495.9 254.7h.9M490.4 256.3h.9M498.7 252.7h.9M497.2 256.0h.9M483.3 258.5h.9M500.9 259.3h.9M482.5 258.0h.9M494.4 261.7h.9M494.4 257.9h.9M504.2 259.5h.9M485.7 257.5h.9M487.4 254.2h.9M471.6 258.3h.9M491.5 256.9h.9M473.4 262.6h.9M488.6 254.1h.9M490.1 254.6h.9M505.2 256.3h.9M490.9 253.6h.9M496.8 250.6h.9M496.0 253.1h.9M497.5 260.1h.9M502.9 253.9h.9M480.3 254.9h.9M471.1 260.5h.9M494.4 257.0h.9M494.1 256.8h.9M500.7 258.0h.9M488.9 253.1h.9M478.2 259.2h.9M479.7 258.6h.9M496.2 254.5h.9M483.5 255.2h.9M502.7 255.9h.9M473.5 264.3h.9M495.1 256.4h.9M477.0 255.6h.9M489.1 251.1h.9M473.3 258.3h.9M499.8 253.6h.9M501.3 258.9h.9M474.0 260.1h.9M484.4 255.0h.9M477.9 254.4h.9M473.4 267.1h.9M480.1 260.1h.9M490.7 253.5h.9M476.4 261.1h.9M485.7 258.7h.9M502.6 255.8h.9M475.2 261.2h.9M483.4 258.2h.9M507.2 256.7h.9M495.9 256.4h.9M503.1 254.6h.9M480.3 256.4h.9M501.0 255.9h.9M472.9 257.7h.9M486.3 256.5h.9M503.9 256.0h.9M485.0 250.3h.9M485.3 264.2h.9M483.9 255.9h.9M499.3 253.8h.9M498.9 256.8h.9M503.3 254.1h.9M498.4 249.0h.9M501.8 256.3h.9M470.5 262.1h.9M474.8 262.6h.9M505.9 256.6h.9M496.8 251.4h.9M492.0 257.4h.9M494.6 254.9h.9M496.4 255.0h.9M487.6 250.8h.9M483.1 253.9h.9M490.8 257.4h.9M504.3 254.1h.9M480.2 257.5h.9M468.0 260.3h.9M476.9 259.1h.9M504.9 253.7h.9M496.4 255.0h.9M503.9 252.5h.9M475.7 257.8h.9M480.9 256.1h.9M500.3 252.4h.9M504.8 259.7h.9M481.7 253.9h.9M495.8 257.9h.9M484.5 253.0h.9M495.6 253.8h.9M475.2 260.7h.9M496.2 249.3h.9M486.9 255.5h.9M497.7 252.1h.9M484.1 256.9h.9M485.8 254.6h.9M506.1 254.4h.9M492.2 257.9h.9M499.6 257.5h.9M478.8 262.7h.9M490.2 255.0h.9M480.0 258.3h.9M492.4 257.1h.9M482.1 260.5h.9M483.4 251.8h.9M488.8 256.7h.9M487.0 252.6h.9M490.5 254.3h.9M502.8 255.4h.9M505.5 253.8h.9M471.1 260.7h.9M491.7 253.1h.9M500.0 257.0h.9M475.2 263.0h.9M490.9 254.0h.9M478.7 259.4h.9M482.7 254.8h.9M470.3 259.7h.9M479.8 260.6h.9M477.8 259.4h.9M476.3 259.3h.9M472.0 264.7h.9M503.0 252.3h.9M487.8 254.0h.9M484.5 257.6h.9M478.4 258.8h.9M503.1 259.2h.9M485.6 257.7h.9M499.8 257.4h.9M477.2 254.9h.9M474.2 260.0h.9M492.9 252.3h.9M478.4 259.7h.9M505.5 252.5h.9M483.1 256.0h.9M488.1 254.6h.9M486.4 260.1h.9M480.8 256.8h.9M490.8 253.5h.9M496.3 252.2h.9M479.2 256.9h.9M503.2 253.6h.9M486.4 257.4h.9M499.0 255.3h.9M490.7 254.6h.9M490.4 254.8h.9M479.0 255.7h.9M488.3 251.5h.9M499.7 257.9h.9M489.6 254.2h.9M498.2 255.4h.9M497.2 253.9h.9M493.0 250.4h.9M473.4 262.6h.9M493.4 254.5h.9M477.7 262.2h.9M486.5 255.1h.9M489.4 255.7h.9M475.7 263.4h.9M475.7 259.0h.9M498.4 252.7h.9M475.6 260.7h.9M493.9 251.0h.9M504.7 258.8h.9M506.7 252.9h.9M481.3 254.8h.9M484.2 256.4h.9M481.9 262.4h.9M477.8 262.0h.9M494.2 254.3h.9M482.2 261.8h.9M487.6 254.9h.9M474.7 261.0h.9M497.0 253.6h.9M493.8 258.2h.9M496.0 252.4h.9M482.7 252.0h.9M497.8 254.4h.9M498.2 255.5h.9M473.3 260.7h.9M493.7 259.4h.9M495.4 254.9h.9M482.0 252.1h.9M502.1 256.1h.9M493.0 250.4h.9M500.6 251.6h.9M504.1 259.3h.9M495.7 254.6h.9M491.5 259.4h.9M477.9 257.3h.9M502.1 261.5h.9M490.9 251.6h.9M502.0 252.4h.9M474.5 265.2h.9M474.4 258.1h.9M486.6 251.3h.9M494.3 255.4h.9M508.3 255.9h.9M475.4 260.3h.9M474.9 258.5h.9M496.9 253.0h.9M506.5 255.8h.9M506.0 254.7h.9M503.5 253.6h.9M472.2 263.5h.9M485.2 258.3h.9M475.3 259.5h.9M497.9 259.9h.9M473.1 257.5h.9M475.9 255.8h.9M493.7 256.7h.9M499.0 253.9h.9M483.3 255.7h.9M485.0 254.6h.9M476.5 265.6h.9M486.1 257.6h.9M478.2 263.7h.9M498.4 256.5h.9M473.5 263.6h.9M492.6 254.2h.9M504.9 257.4h.9M475.7 258.3h.9M503.4 256.0h.9M502.9 259.4h.9M493.6 255.7h.9M483.5 251.5h.9M496.6 256.4h.9M504.2 258.1h.9M493.2 254.0h.9M492.3 254.6h.9M503.3 257.1h.9M482.2 252.6h.9M487.9 258.7h.9M491.8 252.3h.9M504.2 260.5h.9M498.8 260.2h.9M485.2 255.7h.9M508.1 254.3h.9M480.7 256.7h.9M494.7 257.5h.9M477.3 257.6h.9M477.1 259.3h.9M489.1 252.6h.9M495.4 253.7h.9M474.7 261.1h.9M477.7 257.7h.9M489.2 256.8h.9M504.7 249.8h.9M498.6 261.4h.9M497.4 256.7h.9M490.0 253.6h.9M500.7 252.7h.9M483.3 257.1h.9M492.4 255.5h.9M502.2 255.7h.9M505.5 260.8h.9M485.2 255.8h.9M485.2 254.7h.9M471.8 267.4h.9M497.3 256.9h.9M485.0 253.3h.9M481.6 256.0h.9M485.9 252.2h.9M472.3 264.0h.9M476.8 259.7h.9M485.8 260.6h.9M475.3 260.5h.9M487.9 253.7h.9M494.6 252.5h.9M475.9 266.1h.9M492.1 251.7h.9M481.2 253.4h.9M504.3 257.9h.9M497.6 252.3h.9M501.4 257.0h.9M481.8 254.4h.9M477.2 262.2h.9M498.2 252.7h.9M475.1 259.3h.9M493.5 254.3h.9M474.1 266.1h.9M490.4 251.9h.9M489.8 254.5h.9M484.1 255.3h.9M503.6 258.1h.9M478.5 259.0h.9M482.9 260.1h.9M498.9 257.2h.9M475.9 262.1h.9M478.3 256.3h.9M472.3 258.7h.9M478.4 259.4h.9M502.7 252.8h.9M471.6 264.6h.9M483.4 257.4h.9M471.5 258.7h.9M471.4 262.4h.9M478.0 256.8h.9M488.6 255.9h.9M500.2 247.7h.9M480.4 256.8h.9M498.9 258.2h.9M475.5 257.9h.9M498.9 260.6h.9M489.1 257.0h.9M501.9 251.9h.9M489.8 253.4h.9M497.9 252.3h.9M481.9 253.6h.9M486.5 256.3h.9M496.9 250.5h.9M489.6 254.2h.9M491.9 254.9h.9M477.5 258.6h.9M487.4 255.1h.9M471.7 263.3h.9M490.2 256.8h.9M501.5 256.3h.9M474.4 260.0h.9M487.5 255.3h.9M473.3 262.2h.9M479.1 257.0h.9M476.7 254.9h.9M506.9 258.6h.9M475.0 261.9h.9M474.2 260.1h.9M498.9 250.2h.9M469.1 259.6h.9M491.1 252.3h.9M497.6 254.5h.9M486.7 255.0h.9M496.5 250.6h.9M469.4 264.8h.9M472.4 259.4h.9M489.5 254.9h.9M497.4 256.9h.9M489.1 253.4h.9M504.8 252.1h.9M477.2 255.8h.9M494.8 251.5h.9M501.5 257.7h.9M499.2 258.4h.9M483.7 255.4h.9M474.4 258.7h.9M487.6 258.9h.9M496.4 253.0h.9M473.0 261.0h.9M490.6 252.4h.9M497.1 251.1h.9M488.5 255.5h.9M493.9 250.9h.9M483.5 256.2h.9M488.0 260.5h.9M503.5 250.1h.9M487.8 257.5h.9M484.8 257.6h.9M481.5 257.1h.9M481.9 255.3h.9M496.1 256.7h.9M487.5 259.6h.9M505.2 255.8h.9M469.5 263.6h.9M497.3 252.6h.9M494.8 256.3h.9M471.1 263.7h.9M483.3 259.4h.9M501.8 254.7h.9M486.6 259.7h.9M480.7 257.0h.9M474.8 259.0h.9M478.3 255.8h.9M480.9 254.4h.9M496.4 253.7h.9M490.3 251.9h.9M475.2 260.8h.9M473.4 259.3h.9M487.5 254.0h.9M475.9 258.9h.9M495.0 255.1h.9M499.3 256.6h.9M486.4 252.4h.9M500.5 253.9h.9M488.8 251.7h.9M486.2 257.1h.9M502.4 256.1h.9M470.2 257.9h.9M479.9 255.6h.9M495.4 257.4h.9M502.9 255.6h.9M489.4 256.7h.9M490.3 252.8h.9M475.0 264.5h.9M485.4 251.4h.9M482.6 255.1h.9M491.3 252.6h.9M498.7 258.9h.9M493.5 252.7h.9M478.3 254.4h.9M482.7 251.8h.9M496.2 260.1h.9M497.7 258.2h.9M504.5 258.9h.9M478.2 257.5h.9M479.4 257.1h.9M489.2 256.2h.9M478.4 257.5h.9M474.6 260.5h.9M483.6 255.8h.9M491.6 256.5h.9M503.8 251.4h.9M503.2 256.8h.9M474.3 257.0h.9M483.5 254.2h.9M491.1 254.8h.9M500.1 258.7h.9M495.2 255.5h.9M480.8 260.9h.9M481.7 254.9h.9M482.6 260.8h.9M489.0 259.3h.9M477.0 260.4h.9M490.7 253.8h.9M502.0 251.7h.9M484.6 255.6h.9M481.7 255.7h.9M505.5 250.8h.9M472.2 261.5h.9M481.9 257.1h.9M488.0 254.0h.9M479.1 256.1h.9M500.4 252.8h.9M474.3 258.6h.9M474.7 257.1h.9M480.6 261.1h.9M501.2 258.7h.9M475.6 258.5h.9M479.2 254.8h.9M475.7 263.4h.9M473.4 258.2h.9M495.5 251.7h.9M501.9 257.9h.9M499.6 253.7h.9M488.9 255.0h.9M486.8 250.5h.9M496.4 255.0h.9M486.6 256.1h.9M490.2 252.7h.9M473.1 260.5h.9M499.7 254.7h.9M489.5 252.8h.9M505.6 257.3h.9M490.3 251.1h.9M503.6 256.9h.9M488.3 256.5h.9M486.3 254.1h.9M493.5 253.0h.9M502.9 258.0h.9M476.7 254.4h.9M486.2 258.2h.9M479.3 255.1h.9M477.1 264.0h.9M503.0 256.3h.9M486.9 253.3h.9M508.9 259.8h.9M468.8 257.3h.9M498.4 252.9h.9M505.9 255.7h.9M499.6 253.7h.9M485.1 252.3h.9M500.7 257.2h.9M476.4 263.7h.9M483.8 254.5h.9M490.9 254.4h.9M478.8 254.3h.9M503.4 262.7h.9M482.6 259.1h.9M498.9 253.1h.9M476.3 261.9h.9M475.9 257.2h.9M480.4 256.1h.9M475.9 262.8h.9" stroke="#000" stroke-width="0.9" stroke-opacity="0.55"/>
<path d="M473.1 271.3h.95M475.1 271.0h.95M472.4 264.4h.95M467.6 268.0h.95M471.2 271.1h.95M475.2 262.9h.95M471.2 266.4h.95M470.5 270.5h.95M474.0 270.3h.95M469.3 261.8h.95M468.6 262.6h.95M468.7 267.2h.95M469.1 271.3h.95M474.7 267.4h.95M473.6 268.8h.95M470.0 272.9h.95M469.4 266.2h.95M476.3 266.8h.95M471.8 268.4h.95M473.2 262.7h.95M472.0 263.5h.95M473.4 269.8h.95M475.3 264.4h.95M472.4 268.8h.95M475.2 266.4h.95M470.7 273.3h.95M477.1 266.6h.95M472.0 261.4h.95M472.5 270.8h.95M474.0 265.1h.95M471.2 274.7h.95M471.8 267.2h.95M473.1 270.8h.95M475.2 267.8h.95M473.0 266.9h.95M471.0 266.0h.95M470.1 269.1h.95M470.9 267.6h.95M472.2 262.6h.95M476.4 265.9h.95M473.6 273.0h.95M468.1 262.9h.95M470.7 267.3h.95M472.4 265.4h.95M474.5 268.7h.95M474.9 266.4h.95M467.7 271.5h.95M473.1 263.6h.95M469.3 271.1h.95M472.6 265.1h.95M471.1 271.8h.95M471.8 266.4h.95M465.8 276.6h.95M468.0 273.5h.95M470.6 268.9h.95M467.1 266.0h.95M472.3 266.7h.95M473.3 262.6h.95M468.2 266.6h.95M470.5 266.7h.95M472.2 265.8h.95M466.6 273.3h.95M470.3 264.7h.95M473.2 263.4h.95M468.0 269.6h.95M473.3 269.2h.95M476.8 274.2h.95M475.7 266.3h.95M470.7 274.7h.95M467.4 273.5h.95M472.1 262.9h.95M473.0 264.9h.95M475.0 264.6h.95M475.5 261.1h.95M469.6 271.3h.95M470.5 268.5h.95M476.0 265.2h.95M468.8 266.5h.95M472.7 267.1h.95M467.3 270.8h.95M469.7 265.5h.95M470.2 270.1h.95M472.2 264.4h.95M477.4 267.1h.95M473.6 268.1h.95M470.7 267.0h.95M470.5 268.5h.95M466.4 264.7h.95M473.6 264.5h.95M466.4 275.3h.95M474.3 272.0h.95M472.7 266.9h.95M475.4 267.7h.95M468.6 269.1h.95M471.1 263.9h.95M477.6 263.8h.95M471.3 268.0h.95M474.9 263.0h.95M471.8 266.3h.95M473.7 273.3h.95M468.4 269.8h.95M473.2 268.1h.95M471.6 266.5h.95M469.6 263.8h.95M470.9 273.7h.95M476.2 268.5h.95M477.4 260.2h.95M473.4 263.1h.95M476.4 263.0h.95M471.5 262.7h.95M470.9 271.0h.95M466.3 272.8h.95M473.5 265.0h.95M472.4 268.1h.95M472.7 269.8h.95M474.0 274.2h.95M468.8 269.7h.95M475.1 265.1h.95M471.6 264.1h.95M465.3 267.1h.95M468.9 271.7h.95M470.3 267.3h.95M471.3 271.8h.95M474.2 264.5h.95M474.6 273.2h.95M471.4 274.8h.95M473.8 270.7h.95M471.4 270.4h.95M467.0 268.8h.95M468.8 268.0h.95M468.2 269.0h.95M466.0 275.7h.95M471.1 269.7h.95M470.3 265.7h.95M472.1 266.7h.95M472.4 264.2h.95M473.9 267.3h.95M469.3 268.0h.95M470.3 266.2h.95M472.3 264.0h.95M472.7 264.6h.95M468.4 267.5h.95M473.8 262.4h.95M470.5 267.9h.95M471.8 269.5h.95M471.0 270.0h.95M472.1 264.4h.95M473.7 267.0h.95M470.4 270.0h.95M471.3 273.0h.95M470.9 265.7h.95M475.5 263.4h.95M467.9 268.4h.95M472.1 263.9h.95M472.3 270.4h.95M474.2 267.6h.95M471.7 266.2h.95M476.0 261.1h.95M468.9 269.3h.95M470.1 266.6h.95M470.9 269.6h.95M472.8 263.3h.95M478.2 268.1h.95M478.5 263.6h.95M472.2 267.2h.95M471.8 276.8h.95M475.6 265.4h.95M471.4 264.2h.95M470.1 268.0h.95M470.5 266.0h.95M472.0 274.3h.95M469.6 262.4h.95M468.5 271.7h.95M467.4 273.9h.95M469.7 273.0h.95M470.4 265.7h.95M472.7 270.8h.95M468.3 264.7h.95M470.8 270.1h.95M467.1 272.9h.95M469.3 272.8h.95M472.3 268.5h.95M473.2 263.4h.95M472.0 271.3h.95M474.3 267.5h.95M470.3 265.3h.95M471.0 267.3h.95M475.4 265.7h.95M469.4 269.5h.95M469.4 276.3h.95M474.3 265.4h.95M471.0 263.8h.95M471.3 268.7h.95M472.6 265.6h.95M471.4 267.2h.95M472.7 268.7h.95M472.1 262.8h.95M474.9 269.1h.95M471.3 267.4h.95M474.6 267.9h.95M472.4 267.1h.95M474.7 264.9h.95M470.2 271.4h.95M472.9 271.2h.95M469.3 273.4h.95M470.5 273.3h.95M471.2 262.6h.95M473.8 267.7h.95M472.5 264.0h.95M476.9 265.3h.95M474.5 263.1h.95M467.1 275.2h.95M477.6 268.8h.95M466.5 272.1h.95M473.2 260.7h.95M474.4 264.4h.95M466.6 269.9h.95M472.1 263.3h.95M472.3 267.3h.95M473.8 269.3h.95M472.8 273.4h.95M473.2 273.5h.95M470.8 269.7h.95M474.6 262.5h.95M467.8 268.9h.95M468.3 262.3h.95M469.1 266.1h.95M469.0 267.4h.95M472.1 265.9h.95M474.0 259.2h.95M474.2 263.4h.95M470.4 268.7h.95M472.5 271.3h.95M477.3 264.6h.95M470.1 273.8h.95M474.5 264.4h.95M473.4 266.4h.95M468.3 270.6h.95M473.4 263.7h.95M466.6 273.6h.95M468.7 269.1h.95M469.9 271.9h.95M472.8 264.2h.95M472.2 263.5h.95M476.6 271.3h.95M468.7 271.6h.95M473.3 267.8h.95M472.4 269.3h.95M470.9 274.6h.95M471.1 267.3h.95M469.0 271.7h.95M471.0 270.8h.95M474.7 266.6h.95M469.4 272.6h.95M472.1 271.5h.95M471.7 266.2h.95M470.4 265.8h.95M474.2 262.8h.95M475.5 266.4h.95M471.1 270.1h.95M473.9 261.0h.95M472.9 270.2h.95M469.0 271.3h.95M475.3 265.5h.95M474.8 261.7h.95M468.5 272.2h.95M468.4 269.6h.95M469.1 265.0h.95M470.4 274.6h.95M471.2 270.8h.95M479.7 261.4h.95M464.6 272.2h.95M475.6 272.5h.95M471.3 268.7h.95M472.9 265.7h.95M471.9 267.3h.95M471.8 270.8h.95M472.6 270.8h.95M467.1 271.4h.95M465.9 265.1h.95M473.3 266.3h.95M477.5 266.1h.95M470.2 264.7h.95M471.0 270.9h.95M470.6 270.1h.95M471.3 264.9h.95M474.4 263.3h.95M472.8 266.6h.95M474.9 265.1h.95M471.6 265.2h.95M472.8 263.9h.95M473.6 262.9h.95M471.5 270.6h.95M472.0 267.1h.95M471.6 263.5h.95M472.9 264.4h.95M468.9 267.0h.95M472.4 266.3h.95M470.1 266.6h.95M471.0 265.5h.95M470.7 270.4h.95M474.3 266.5h.95M476.3 265.2h.95M468.9 272.0h.95M476.3 270.8h.95M471.6 266.1h.95M469.4 265.9h.95M472.2 264.7h.95M475.5 266.4h.95M473.6 272.5h.95M474.1 266.4h.95M474.3 260.4h.95M472.7 267.1h.95M473.7 265.9h.95M475.4 263.2h.95M466.3 266.9h.95M479.7 258.3h.95M474.9 268.0h.95M474.2 262.3h.95M468.3 269.0h.95M470.2 266.8h.95M467.7 274.3h.95M475.9 264.2h.95M472.8 263.3h.95M470.1 263.9h.95M473.8 269.1h.95M473.3 268.0h.95M470.6 267.5h.95M467.9 274.2h.95M474.6 271.0h.95M476.6 261.6h.95M467.0 275.7h.95M468.5 269.6h.95M474.9 267.7h.95M472.0 265.9h.95M473.2 268.7h.95M472.5 273.4h.95M466.8 276.5h.95M472.2 265.3h.95M472.8 264.5h.95M470.9 267.0h.95M476.4 263.3h.95M470.2 263.5h.95M470.2 268.9h.95M467.3 272.0h.95M471.0 266.4h.95M469.6 271.8h.95M472.2 268.1h.95M470.2 267.7h.95M473.1 267.0h.95M475.0 261.4h.95M468.4 271.1h.95M474.7 269.1h.95M463.9 271.6h.95M466.5 276.3h.95M468.9 270.7h.95M467.8 271.7h.95M476.0 265.4h.95M469.0 278.9h.95M473.4 263.4h.95M473.0 266.7h.95M470.6 262.5h.95M475.0 262.8h.95M473.0 270.4h.95M468.7 272.3h.95M468.5 269.0h.95M469.5 265.1h.95M473.9 266.6h.95M470.2 269.8h.95M472.3 273.8h.95M473.1 267.3h.95M465.5 272.0h.95M479.5 262.5h.95M473.5 268.5h.95M472.5 269.6h.95M471.3 267.5h.95M469.4 271.6h.95M472.1 265.6h.95M471.8 270.6h.95M472.0 269.2h.95M472.6 273.1h.95M472.5 267.2h.95M476.5 262.1h.95M471.9 264.7h.95M472.7 266.6h.95M475.3 273.0h.95M468.3 275.8h.95M472.2 266.6h.95M472.6 271.9h.95M471.3 272.9h.95M472.1 265.1h.95M470.0 267.3h.95M475.6 265.2h.95M473.1 262.6h.95M474.2 272.7h.95M474.4 263.8h.95M470.8 264.4h.95M474.1 263.4h.95M468.9 271.6h.95M471.5 268.1h.95M467.9 264.5h.95M472.6 265.2h.95M469.0 265.9h.95M470.6 264.7h.95M468.6 265.6h.95M475.1 265.8h.95M475.1 262.9h.95M471.8 270.2h.95M469.2 270.3h.95M469.8 266.9h.95M475.1 269.5h.95M467.2 270.4h.95M473.2 267.4h.95M471.5 259.3h.95M465.8 271.1h.95M473.8 265.1h.95M471.2 274.0h.95M469.0 268.4h.95M467.6 267.2h.95M478.0 264.9h.95M472.9 265.6h.95M471.3 267.9h.95M470.5 271.1h.95M470.7 271.9h.95M471.6 272.6h.95M469.5 268.4h.95M472.5 264.4h.95M475.1 270.9h.95M475.7 260.6h.95M469.7 270.1h.95M472.3 265.6h.95M475.2 268.3h.95M471.2 267.0h.95M469.2 271.1h.95M472.9 268.1h.95M471.3 266.5h.95M475.6 268.5h.95M475.9 263.0h.95M471.0 270.4h.95M473.6 270.2h.95M472.2 269.5h.95M470.0 275.9h.95M473.6 265.1h.95M473.1 268.0h.95M471.5 271.1h.95M472.8 266.4h.95M474.6 263.8h.95M473.9 265.0h.95M472.3 268.6h.95M473.5 263.4h.95M473.0 265.4h.95M470.1 269.9h.95M476.0 264.4h.95M471.0 273.4h.95M473.4 269.9h.95M468.2 273.6h.95M473.9 262.1h.95M471.3 268.8h.95M471.8 262.4h.95M475.4 270.3h.95M474.3 266.6h.95M468.9 265.4h.95M475.6 266.9h.95M468.4 265.1h.95M471.1 267.5h.95M470.1 265.5h.95M468.9 270.1h.95M470.3 270.9h.95M475.5 260.3h.95M466.7 267.4h.95M471.8 271.7h.95M474.8 261.5h.95M469.9 268.6h.95M475.1 268.1h.95M472.0 264.4h.95M472.1 271.8h.95M465.7 269.9h.95M472.5 261.7h.95M469.8 263.5h.95M471.5 279.0h.95M470.4 264.0h.95M471.2 269.3h.95M473.7 261.8h.95M472.1 264.9h.95M467.8 266.2h.95M471.9 260.2h.95M472.9 272.6h.95M474.3 269.7h.95M471.0 267.0h.95M467.5 268.8h.95M472.8 267.0h.95M468.1 265.3h.95M472.2 274.5h.95M474.1 267.5h.95M470.9 269.8h.95M470.1 271.5h.95M474.7 259.0h.95M468.5 261.9h.95M467.6 268.5h.95M473.8 268.9h.95M472.6 268.6h.95M472.9 266.3h.95M468.6 271.3h.95M471.2 267.3h.95M472.2 272.4h.95M470.4 268.2h.95M469.4 267.1h.95M472.3 268.1h.95M471.3 269.1h.95M468.1 262.1h.95M472.7 266.1h.95M470.1 265.8h.95M475.3 268.7h.95M471.2 265.4h.95M468.3 268.1h.95M468.0 269.8h.95M472.4 270.7h.95M473.9 268.6h.95M468.2 265.6h.95M475.8 263.1h.95M467.1 270.1h.95M470.0 272.8h.95M472.9 268.7h.95M470.9 271.1h.95M472.0 267.0h.95M472.9 267.0h.95M478.0 267.7h.95M471.0 261.6h.95M474.5 267.5h.95M472.4 267.2h.95M474.9 263.0h.95M472.9 265.8h.95M472.7 271.0h.95M470.9 263.0h.95M470.6 272.4h.95M473.5 268.0h.95M478.3 260.9h.95M472.4 263.8h.95M468.5 268.5h.95M471.7 269.0h.95M470.2 269.7h.95M474.3 266.6h.95M475.3 265.6h.95M477.7 265.2h.95M473.1 263.7h.95M469.3 272.3h.95M466.8 273.0h.95M473.8 270.6h.95M468.8 270.2h.95M467.3 261.9h.95M473.7 268.6h.95M478.0 268.2h.95M469.4 265.5h.95M469.6 274.2h.95M467.8 266.3h.95M475.5 266.8h.95M473.0 263.0h.95M471.7 271.4h.95M472.4 269.2h.95M473.9 268.4h.95" stroke="#000" stroke-width="0.95" stroke-opacity="0.9"/>
<rect x="448.1" y="232.7" width="65.2" height="54" fill="none" stroke="#444" stroke-width="0.9"/>
<line x1="448.1" y1="232.3" x2="448.1" y2="287.5" stroke="#000" stroke-width="1.3"/>
<line x1="447.6" y1="286.5" x2="513.8" y2="286.5" stroke="#111" stroke-width="1.2"/>
<path d="M446.8 282.7h1.3M446.8 278.7h1.3M446.8 274.7h1.3M445.7 270.7h2.4M446.8 266.7h1.3M446.8 262.7h1.3M446.8 258.7h1.3M445.7 254.7h2.4M446.8 250.7h1.3M446.8 246.7h1.3M446.8 242.7h1.3M445.7 238.7h2.4M446.8 234.7h1.3M452.1 286.7v1.3M456.1 286.7v1.3M460.1 286.7v1.3M464.1 286.7v2.4M468.1 286.7v1.3M472.1 286.7v1.3M476.1 286.7v1.3M480.1 286.7v2.4M484.1 286.7v1.3M488.1 286.7v1.3M492.1 286.7v1.3M496.1 286.7v2.4M500.1 286.7v1.3M504.1 286.7v1.3M508.1 286.7v1.3M512.1 286.7v2.4" stroke="#222" stroke-width="0.6"/>
<rect x="470" y="242.1" width="33.3" height="16.8" fill="none" stroke="#333" stroke-width="0.9"/>
<text x="468.4" y="250" font-size="10.6" text-anchor="end" fill="#111">25</text>
<path d="M324.9 299.5h.75M350.7 336.6h.75M330.7 336.5h.75M356.3 332.2h.75M355.0 347.1h.75M304.9 345.8h.75M331.8 336.9h.75M350.4 300.2h.75M340.6 299.7h.75M350.0 313.2h.75M326.9 309.6h.75M355.1 329.5h.75M321.8 334.9h.75M314.4 338.2h.75M341.7 336.3h.75M347.6 319.9h.75M340.8 325.5h.75M320.9 311.4h.75M354.4 339.1h.75M365.3 332.0h.75M335.2 316.2h.75M348.3 329.9h.75M363.8 335.3h.75M327.3 309.9h.75M305.3 337.0h.75M330.2 316.2h.75M305.8 321.6h.75M360.9 309.9h.75M350.8 335.9h.75M345.4 327.1h.75M318.6 331.3h.75M340.4 347.1h.75M335.9 314.0h.75M361.4 328.6h.75M324.6 330.0h.75M312.3 305.1h.75M360.0 319.9h.75M354.6 306.5h.75M333.0 307.7h.75M331.2 318.8h.75M327.2 333.0h.75M319.2 327.9h.75M319.0 334.8h.75M314.3 331.2h.75M328.8 331.0h.75M318.2 325.2h.75M308.5 322.0h.75M327.7 322.4h.75M311.3 326.4h.75M312.2 330.4h.75M315.9 333.2h.75M320.4 319.8h.75M316.5 324.1h.75M316.1 334.8h.75M315.1 329.9h.75M317.6 331.1h.75M312.6 318.9h.75M324.2 335.9h.75M312.8 326.0h.75M318.1 322.5h.75M326.9 328.1h.75M312.8 326.6h.75M329.1 323.8h.75M318.0 323.1h.75M322.1 324.7h.75M326.5 323.1h.75M312.4 330.4h.75M322.8 329.2h.75M317.7 325.3h.75M316.3 326.8h.75M318.4 330.9h.75M321.2 330.9h.75M330.9 326.3h.75M319.4 329.9h.75M333.7 325.8h.75M331.2 334.5h.75M304.7 322.2h.75M315.3 330.0h.75M329.1 328.1h.75M322.1 340.1h.75M323.3 340.0h.75M315.8 337.1h.75M318.1 314.1h.75M316.2 325.1h.75M320.9 332.1h.75M325.3 330.8h.75M316.7 337.9h.75M328.3 328.0h.75M317.7 327.5h.75M319.8 323.9h.75M321.1 324.0h.75M325.0 324.1h.75M324.1 329.6h.75M322.1 330.8h.75M315.0 342.4h.75M317.0 332.0h.75M321.3 325.3h.75M333.1 320.2h.75M335.4 322.3h.75M353.5 319.9h.75M342.2 321.4h.75M338.8 322.4h.75M331.4 321.9h.75M332.5 320.6h.75M347.0 321.0h.75M351.6 319.6h.75M350.9 320.1h.75M346.9 321.5h.75M351.3 320.2h.75M343.2 320.2h.75M348.7 321.0h.75M335.6 321.4h.75M339.7 319.5h.75M347.1 320.1h.75M337.4 320.9h.75M339.1 321.3h.75M354.9 317.0h.75M338.6 321.0h.75M343.0 318.9h.75M353.4 318.5h.75M330.8 321.0h.75M353.1 318.8h.75M349.6 318.7h.75M343.1 320.1h.75M345.2 320.4h.75M348.8 319.7h.75M331.8 319.8h.75" stroke="#333" stroke-width="0.75" stroke-opacity="0.85"/>
<path d="M355.0 323.3h.9M354.4 320.3h.9M351.3 319.8h.9M352.8 321.0h.9M352.8 324.0h.9M355.6 317.3h.9M351.1 320.4h.9M355.0 321.0h.9M348.3 318.1h.9M355.7 321.3h.9M357.9 321.6h.9M354.1 322.6h.9M352.4 319.6h.9M351.4 320.8h.9M354.0 321.8h.9M355.9 321.3h.9M355.5 320.1h.9M351.5 321.5h.9M355.1 322.3h.9M352.9 319.7h.9M352.6 320.9h.9M353.2 320.2h.9M353.7 320.0h.9M353.9 319.6h.9M350.5 320.0h.9M356.7 319.3h.9M354.9 322.3h.9M352.3 320.8h.9M349.1 321.2h.9M356.0 320.7h.9M349.7 319.6h.9M351.9 320.6h.9M353.8 319.8h.9M352.7 319.2h.9M354.3 320.7h.9M353.9 319.7h.9M354.1 320.0h.9M353.8 320.2h.9M352.0 318.8h.9M349.9 318.5h.9" stroke="#000" stroke-width="0.9" stroke-opacity="0.55"/>
<path d="M328.1 321.8h.95M325.7 329.8h.95M327.2 330.1h.95M326.8 323.7h.95M328.2 329.9h.95M322.4 330.7h.95M325.7 330.0h.95M329.7 326.1h.95M325.5 328.2h.95M327.1 329.6h.95M324.8 328.1h.95M328.4 330.3h.95M327.8 332.4h.95M325.5 332.4h.95M327.7 322.9h.95M326.6 328.3h.95M327.3 333.0h.95M327.6 325.0h.95M330.7 326.0h.95M325.6 331.1h.95M326.7 323.8h.95M325.1 332.2h.95M325.4 327.5h.95M326.4 326.3h.95M325.8 327.8h.95M327.8 331.8h.95M326.8 322.2h.95M324.7 327.1h.95M322.8 332.7h.95M327.1 327.7h.95M325.1 324.3h.95M325.8 330.0h.95M326.3 329.8h.95M328.4 319.0h.95M326.4 332.6h.95M326.3 327.7h.95M327.2 321.9h.95M330.7 326.9h.95M328.3 325.4h.95M329.1 332.3h.95M328.8 331.4h.95M327.9 333.3h.95M327.7 327.8h.95M328.7 323.5h.95M322.8 330.5h.95M327.5 324.2h.95M326.9 323.1h.95M325.7 328.0h.95M327.1 330.8h.95M326.8 329.9h.95M328.4 324.3h.95M324.6 324.1h.95M326.9 324.9h.95M330.8 324.5h.95M328.1 324.0h.95M328.6 321.9h.95M328.6 328.1h.95M326.8 322.1h.95M329.9 324.9h.95M330.1 317.0h.95M324.7 334.9h.95M330.0 327.5h.95M328.6 329.9h.95M326.5 327.8h.95M325.6 321.4h.95M327.1 330.4h.95M327.7 322.0h.95M328.5 327.7h.95M328.4 326.1h.95M326.4 331.7h.95M329.6 322.2h.95M325.1 331.3h.95M327.7 327.5h.95M325.3 331.5h.95M327.4 328.2h.95M327.9 325.0h.95M327.7 327.9h.95M328.2 328.9h.95M325.3 324.1h.95M326.4 332.2h.95M325.8 332.0h.95M328.6 331.1h.95M330.7 327.4h.95M327.3 332.5h.95M327.5 331.6h.95M326.5 333.3h.95M328.2 319.1h.95M328.9 326.5h.95M325.8 325.9h.95M326.4 332.1h.95M327.7 327.0h.95M327.3 323.4h.95M326.2 325.2h.95M327.1 322.2h.95M326.2 331.5h.95M327.8 327.3h.95M327.7 326.3h.95M325.0 330.9h.95M330.6 329.7h.95M327.6 337.9h.95M325.0 329.4h.95M326.6 326.0h.95M324.5 326.8h.95M328.2 320.5h.95M326.9 325.1h.95M325.4 329.9h.95M329.6 329.2h.95M328.6 330.6h.95M326.9 329.7h.95M329.4 325.6h.95M327.2 321.4h.95M324.3 323.6h.95M328.5 328.9h.95M327.2 332.9h.95M323.9 333.0h.95M327.1 330.6h.95M329.5 323.9h.95M325.6 328.9h.95M327.2 324.8h.95M327.1 324.2h.95M327.4 325.6h.95M330.1 323.0h.95M328.0 327.6h.95M329.9 323.3h.95M325.9 334.6h.95M326.2 325.6h.95M326.7 323.1h.95M328.7 333.8h.95M327.1 324.0h.95M324.8 329.9h.95M326.1 329.5h.95M323.4 325.2h.95M328.0 329.1h.95M322.5 328.2h.95M327.3 327.2h.95M326.7 325.3h.95M327.2 329.4h.95M322.1 326.9h.95M328.7 326.4h.95M329.3 323.4h.95M329.9 331.5h.95M325.8 338.9h.95M329.0 334.1h.95M325.2 326.7h.95M327.6 331.8h.95M327.6 321.7h.95M329.1 326.7h.95M327.9 325.9h.95M327.3 321.4h.95M328.4 324.7h.95M324.2 328.8h.95M326.8 331.3h.95M328.7 322.2h.95M326.8 327.2h.95M327.5 322.8h.95M327.0 331.4h.95M328.7 333.6h.95M329.0 316.6h.95M326.8 324.9h.95M322.1 333.5h.95M328.6 327.3h.95M327.6 329.4h.95M326.4 333.1h.95M329.8 330.9h.95M326.2 328.3h.95M328.5 330.4h.95M325.8 331.2h.95M328.1 329.8h.95M326.5 327.1h.95M324.1 326.9h.95M326.5 325.9h.95M326.8 325.9h.95M327.2 327.7h.95M326.2 326.6h.95M326.9 329.3h.95M327.9 325.8h.95M326.2 320.2h.95M325.0 328.9h.95M325.2 334.0h.95M327.0 325.6h.95M327.0 324.9h.95M326.1 327.5h.95M324.8 327.7h.95M327.2 323.4h.95M328.7 328.9h.95M329.0 324.5h.95M325.4 322.1h.95M325.1 319.1h.95M329.8 325.4h.95M327.6 325.0h.95M326.5 333.9h.95M324.6 322.9h.95M327.6 323.4h.95M327.9 332.8h.95M328.4 330.5h.95M326.6 331.5h.95M326.1 322.1h.95M326.8 326.2h.95M329.3 323.2h.95M329.2 324.1h.95M325.5 319.9h.95M327.4 321.1h.95M327.5 327.5h.95M327.0 319.0h.95M326.2 329.1h.95M324.1 330.0h.95M327.3 324.9h.95M327.3 330.0h.95M327.3 323.9h.95M328.6 324.4h.95M327.5 331.4h.95M328.8 334.1h.95M328.7 327.9h.95M326.8 328.0h.95M327.2 340.0h.95M328.4 323.8h.95M330.0 320.6h.95M329.1 321.9h.95M325.5 325.0h.95M327.0 321.5h.95M328.1 326.8h.95M329.5 323.0h.95M324.0 330.0h.95M326.5 331.3h.95M323.7 321.7h.95M326.8 335.5h.95M325.6 319.0h.95M326.0 333.2h.95M330.0 321.6h.95M326.6 319.4h.95M326.0 323.1h.95M327.5 332.1h.95M331.0 325.9h.95M328.4 328.2h.95M326.8 335.4h.95M327.9 333.9h.95M327.4 330.9h.95M328.0 326.9h.95M326.1 325.4h.95M327.2 325.6h.95M326.8 324.2h.95M328.6 326.3h.95M327.0 326.3h.95M329.4 325.1h.95M329.6 323.7h.95M329.4 330.0h.95M326.2 329.1h.95M329.2 323.3h.95M326.7 328.5h.95M326.9 326.0h.95M327.1 328.6h.95M328.0 333.6h.95M325.9 339.7h.95M326.1 334.7h.95M327.3 321.0h.95M326.5 325.7h.95M329.4 318.8h.95M326.1 326.6h.95M328.1 329.0h.95M328.5 326.6h.95M326.4 332.3h.95M329.8 329.0h.95M327.6 323.6h.95M330.4 329.1h.95M328.5 320.5h.95M327.5 337.6h.95M326.9 326.3h.95M329.6 326.6h.95M328.0 335.5h.95M325.5 323.6h.95M328.2 327.8h.95M327.2 326.5h.95M327.2 328.7h.95M326.4 326.0h.95M327.8 322.6h.95M328.4 317.9h.95M328.2 326.8h.95M324.9 332.8h.95M324.7 335.9h.95M325.7 332.3h.95M326.6 334.1h.95M326.5 331.6h.95M327.1 319.2h.95M327.6 329.3h.95M327.3 334.4h.95M326.3 321.1h.95M327.7 324.3h.95M327.0 327.2h.95M325.5 331.8h.95M326.5 334.8h.95M327.3 331.7h.95M326.8 324.4h.95M326.5 323.4h.95M327.8 327.9h.95M325.8 320.6h.95M326.2 319.4h.95M326.1 320.7h.95M328.5 322.4h.95M326.2 326.6h.95M327.1 329.0h.95M328.2 330.0h.95M326.3 332.5h.95M327.9 324.2h.95M329.8 322.3h.95M327.6 332.6h.95M327.2 328.7h.95M327.2 330.1h.95M327.5 327.3h.95M328.7 319.2h.95M327.6 326.0h.95M330.2 328.6h.95M325.9 329.9h.95M326.8 322.1h.95M326.6 329.3h.95M328.7 331.8h.95M327.5 326.6h.95M327.1 332.4h.95M326.6 332.1h.95M325.9 327.1h.95M328.2 330.3h.95M327.6 325.0h.95M324.4 325.2h.95M325.9 325.4h.95M329.8 324.1h.95M328.5 327.2h.95M325.4 327.6h.95M328.6 322.2h.95M325.4 325.5h.95M328.4 324.7h.95M327.7 329.2h.95M327.0 329.1h.95M329.2 326.5h.95M327.9 322.7h.95M326.0 326.7h.95M328.6 324.4h.95M324.7 331.0h.95M331.5 316.5h.95M325.4 327.6h.95M328.1 323.2h.95M327.4 331.9h.95M326.5 330.3h.95M327.6 323.3h.95M326.3 324.6h.95M328.9 332.2h.95M327.9 320.6h.95M326.5 325.5h.95M324.1 326.9h.95M327.9 321.6h.95M326.6 325.2h.95M329.9 330.2h.95M328.3 327.6h.95M324.9 331.0h.95M326.6 319.0h.95M328.4 325.8h.95M327.0 329.4h.95M326.7 328.9h.95M329.2 326.0h.95M326.6 327.2h.95M328.2 325.6h.95M327.4 324.3h.95M326.9 329.5h.95M325.9 326.4h.95M325.0 324.1h.95M327.1 329.5h.95M325.5 326.7h.95M325.6 328.5h.95M327.4 329.1h.95M327.2 321.2h.95M326.6 321.5h.95M326.1 326.9h.95M329.0 324.6h.95M325.9 328.0h.95M323.4 335.4h.95M324.5 331.4h.95M328.4 331.4h.95M326.8 330.3h.95M326.3 331.2h.95M326.3 323.7h.95M327.8 325.3h.95M328.4 323.6h.95M327.8 323.1h.95M326.4 336.3h.95M325.8 321.9h.95M324.7 326.1h.95M329.8 325.5h.95M328.6 326.5h.95M325.6 335.6h.95M329.3 319.5h.95M325.5 328.9h.95M328.2 326.3h.95M327.5 329.5h.95M326.3 331.4h.95M325.6 330.3h.95M328.5 328.1h.95M326.6 327.1h.95M323.6 328.1h.95M325.4 318.6h.95M328.5 323.4h.95M327.7 327.4h.95M324.6 323.2h.95M326.6 329.2h.95M327.6 321.9h.95M326.3 327.6h.95M325.3 325.2h.95M326.8 318.2h.95M329.6 331.1h.95M326.2 331.2h.95M325.1 333.6h.95M326.5 327.8h.95M326.2 327.5h.95M327.6 327.4h.95M325.7 330.3h.95M328.0 327.3h.95M328.9 324.2h.95M329.1 326.7h.95M329.6 325.5h.95M326.7 328.1h.95M328.5 333.4h.95M326.6 324.1h.95M328.0 332.5h.95M328.3 325.9h.95M329.1 327.2h.95M327.2 329.8h.95M326.8 317.6h.95M327.3 330.3h.95M327.7 329.5h.95M327.1 331.6h.95M326.9 333.5h.95M327.0 330.6h.95M326.2 328.4h.95M327.7 327.8h.95M329.5 327.5h.95M328.8 328.8h.95M329.0 323.5h.95M326.3 331.3h.95M325.8 328.8h.95M328.0 328.1h.95M327.7 329.5h.95M326.7 328.9h.95M326.4 325.2h.95M324.7 326.6h.95M324.5 327.2h.95M327.7 322.6h.95M327.2 328.4h.95M326.8 323.3h.95M326.9 328.9h.95M328.1 335.5h.95M324.0 328.5h.95M328.0 324.6h.95M327.1 336.1h.95M327.0 333.0h.95M328.9 325.4h.95M323.3 331.9h.95M330.0 319.9h.95M327.0 324.2h.95M327.4 327.5h.95M329.0 324.8h.95M330.5 320.2h.95M326.8 338.6h.95M326.8 329.9h.95M325.6 341.1h.95M328.6 325.8h.95M324.1 327.9h.95M328.8 318.6h.95M326.2 329.5h.95M323.5 326.2h.95M325.0 321.4h.95M327.5 332.1h.95M329.1 324.5h.95M328.4 319.7h.95M324.7 329.4h.95M326.8 322.8h.95M324.3 326.0h.95M331.1 318.9h.95M325.2 331.9h.95M324.3 324.4h.95M326.9 332.0h.95M326.5 334.9h.95M327.1 326.7h.95M327.7 328.7h.95M325.0 323.0h.95M326.7 328.6h.95M325.4 324.1h.95M325.9 328.6h.95M326.3 329.7h.95M328.0 323.4h.95M327.0 321.9h.95M327.1 330.7h.95M326.0 319.6h.95M328.0 326.0h.95M327.0 329.2h.95M327.5 331.2h.95M327.0 317.8h.95M326.4 325.9h.95M326.4 328.8h.95M326.4 332.7h.95M326.1 327.1h.95M326.0 336.2h.95M325.9 322.9h.95M326.3 330.4h.95M327.2 326.5h.95M325.4 318.2h.95M326.9 326.2h.95M329.8 329.0h.95M327.5 331.4h.95M326.1 321.9h.95M326.2 333.5h.95M328.8 324.8h.95M325.0 331.0h.95M329.1 322.6h.95M329.8 324.1h.95M328.3 326.4h.95M326.8 324.6h.95M328.0 329.9h.95M328.5 326.1h.95M325.3 336.3h.95M329.8 326.5h.95M325.0 333.5h.95M327.3 327.5h.95M328.4 328.8h.95M326.8 335.7h.95M324.0 329.8h.95M325.6 327.4h.95M326.8 328.3h.95M323.2 329.9h.95M330.9 325.7h.95M328.4 330.0h.95M327.7 325.1h.95M328.0 328.4h.95M329.2 330.9h.95M326.8 314.7h.95M329.4 329.4h.95M327.6 324.6h.95M330.7 333.2h.95M327.4 325.6h.95M327.7 333.1h.95M327.7 331.3h.95M327.4 328.7h.95M325.1 327.6h.95M327.2 326.9h.95M326.7 328.5h.95M326.3 326.3h.95M324.5 337.0h.95M326.0 322.0h.95M326.4 325.4h.95M326.1 316.7h.95M329.4 331.7h.95M326.4 329.6h.95M325.8 320.2h.95M327.5 329.7h.95M326.0 327.1h.95M322.3 326.4h.95M328.7 328.0h.95M327.3 329.7h.95M324.2 321.5h.95M325.1 328.1h.95M326.6 319.1h.95M328.6 326.5h.95M328.2 335.9h.95M324.8 321.6h.95M328.5 333.3h.95M327.7 328.8h.95M328.1 330.1h.95M324.9 330.3h.95M328.8 325.6h.95M325.8 325.0h.95M326.1 329.4h.95M328.3 327.4h.95M327.1 319.6h.95M326.7 322.9h.95M326.2 328.6h.95M326.5 342.2h.95M325.9 324.8h.95M325.4 326.0h.95M326.4 331.5h.95M323.8 330.9h.95M328.3 325.0h.95M326.0 328.0h.95M328.0 326.6h.95M326.9 327.3h.95M325.3 328.3h.95M328.0 327.5h.95M325.3 327.1h.95M326.9 328.5h.95M326.2 330.7h.95M328.6 330.8h.95M327.2 332.4h.95M327.1 326.5h.95M324.8 327.1h.95M329.3 323.3h.95M328.7 321.9h.95M327.1 335.0h.95M327.5 322.2h.95M327.6 326.6h.95M328.5 325.1h.95M324.5 325.0h.95M327.8 331.6h.95M327.6 327.3h.95M328.3 326.4h.95M326.3 328.1h.95M329.0 325.2h.95M328.1 324.5h.95M325.9 327.9h.95M325.2 323.5h.95M325.4 324.6h.95M325.1 337.0h.95M328.1 327.6h.95M325.6 317.1h.95M328.0 324.6h.95M328.9 325.6h.95M325.2 324.4h.95M325.1 321.1h.95M328.4 325.0h.95M328.3 324.9h.95M326.9 324.9h.95M326.4 324.4h.95M329.5 327.1h.95M323.6 334.2h.95M328.8 332.0h.95M327.0 326.5h.95M326.3 327.7h.95M327.9 327.2h.95M326.1 323.1h.95M329.3 334.5h.95M325.3 324.4h.95M326.9 329.7h.95M326.9 328.2h.95M327.4 332.0h.95M324.8 331.7h.95M327.7 329.5h.95M324.8 326.1h.95M326.5 329.9h.95M328.0 330.2h.95M324.7 332.3h.95M327.0 331.1h.95M327.3 324.3h.95M331.1 330.2h.95M328.4 325.4h.95M326.5 331.8h.95M327.4 334.6h.95M329.3 322.8h.95M324.4 331.9h.95M328.1 326.2h.95M326.8 324.9h.95M330.0 326.7h.95M324.7 330.9h.95M326.9 328.7h.95M326.5 327.0h.95M324.0 329.3h.95M326.1 325.6h.95M327.3 332.6h.95M323.7 326.5h.95M327.7 331.5h.95M325.6 328.5h.95M327.5 331.1h.95M326.2 326.4h.95M326.0 331.9h.95M328.9 325.5h.95M326.8 328.1h.95M325.7 326.7h.95M328.3 330.5h.95M326.2 324.5h.95M327.3 321.1h.95M327.6 327.8h.95M325.0 326.1h.95M326.1 326.0h.95M325.4 332.8h.95M325.4 330.3h.95M327.1 333.2h.95M327.0 327.2h.95M327.7 319.5h.95M331.0 326.6h.95M326.9 322.6h.95M326.5 333.8h.95M325.8 329.0h.95M328.5 331.2h.95M326.9 320.0h.95M327.6 329.6h.95M326.7 325.4h.95M330.3 320.9h.95M326.4 324.7h.95M324.8 324.3h.95M325.5 332.3h.95M324.7 321.4h.95M327.9 320.9h.95M324.1 324.5h.95M325.4 323.1h.95M326.7 329.1h.95M326.1 326.1h.95M328.3 326.7h.95M328.4 324.9h.95M327.6 332.5h.95M324.2 339.3h.95M326.7 325.8h.95M326.7 329.1h.95M325.2 327.3h.95M325.8 333.0h.95M324.2 329.7h.95M326.8 324.2h.95M327.4 326.3h.95M327.1 328.2h.95M329.1 325.7h.95M330.4 316.4h.95M329.7 332.4h.95M329.5 328.2h.95M327.8 323.1h.95M329.5 322.7h.95M325.8 327.2h.95M327.4 328.7h.95M325.3 325.7h.95M327.6 332.1h.95M328.2 329.0h.95M326.8 325.0h.95M326.3 326.8h.95M328.1 325.3h.95M330.6 323.4h.95M328.4 326.5h.95M327.0 325.7h.95M329.6 326.2h.95M327.9 327.8h.95M328.1 329.7h.95M329.9 324.4h.95M325.4 334.1h.95M329.1 327.7h.95M326.6 328.3h.95M329.4 324.3h.95M329.4 327.2h.95M326.6 325.6h.95M323.7 328.4h.95M325.1 324.9h.95M325.6 328.1h.95M328.2 327.5h.95M327.3 328.9h.95M329.5 329.8h.95M329.6 327.2h.95M327.8 324.7h.95M328.2 323.8h.95M328.0 324.7h.95M326.2 332.2h.95M327.1 330.5h.95M327.2 319.7h.95M329.5 326.7h.95M325.8 331.0h.95M325.5 324.1h.95M329.1 324.6h.95M329.0 326.1h.95M326.7 327.5h.95M326.0 331.6h.95M328.8 327.6h.95M327.9 329.5h.95" stroke="#000" stroke-width="0.95" stroke-opacity="0.9"/>
<rect x="302.7" y="294.9" width="65.2" height="54" fill="none" stroke="#444" stroke-width="0.9"/>
<line x1="302.7" y1="294.5" x2="302.7" y2="349.7" stroke="#000" stroke-width="1.3"/>
<line x1="302.2" y1="348.5" x2="368.4" y2="348.5" stroke="#111" stroke-width="1.2"/>
<path d="M301.4 344.9h1.3M301.4 340.9h1.3M301.4 336.9h1.3M300.3 332.9h2.4M301.4 328.9h1.3M301.4 324.9h1.3M301.4 320.9h1.3M300.3 316.9h2.4M301.4 312.9h1.3M301.4 308.9h1.3M301.4 304.9h1.3M300.3 300.9h2.4M301.4 296.9h1.3M306.7 348.9v1.3M310.7 348.9v1.3M314.7 348.9v1.3M318.7 348.9v2.4M322.7 348.9v1.3M326.7 348.9v1.3M330.7 348.9v1.3M334.7 348.9v2.4M338.7 348.9v1.3M342.7 348.9v1.3M346.7 348.9v1.3M350.7 348.9v2.4M354.7 348.9v1.3M358.7 348.9v1.3M362.7 348.9v1.3M366.7 348.9v2.4" stroke="#222" stroke-width="0.6"/>
<path d="M324.6 304.3 L357.9 304.3 L357.9 318.4 L331.7 321.2 L328.7 320.5 L324.6 320.5 Z" fill="none" stroke="#333" stroke-width="0.9"/>
<text x="323" y="312.2" font-size="10.6" text-anchor="end" fill="#111">3</text>
<path d="M414.5 338.6h.75M424.3 320.3h.75M391.5 342.4h.75M435.0 335.3h.75M424.4 304.0h.75M431.4 333.5h.75M383.7 298.6h.75M383.9 306.7h.75M427.2 336.3h.75M422.6 314.8h.75M438.5 303.1h.75M392.2 318.7h.75M394.3 334.6h.75M431.7 335.1h.75M398.4 326.2h.75M397.9 324.5h.75M411.9 303.1h.75M432.4 338.8h.75M428.0 299.8h.75M392.6 335.4h.75M430.0 328.2h.75M438.2 317.9h.75M392.1 320.5h.75M397.0 315.5h.75M428.3 312.4h.75M423.8 326.9h.75M378.7 322.5h.75M433.9 329.9h.75M432.8 329.4h.75M405.1 305.6h.75M426.6 310.8h.75M420.7 330.3h.75M378.4 328.1h.75M398.8 308.6h.75M419.4 329.0h.75M391.3 333.3h.75M382.4 322.8h.75M393.2 325.0h.75M406.2 336.6h.75M396.9 331.3h.75M387.5 326.0h.75M395.2 326.9h.75M398.7 318.9h.75M390.8 339.8h.75M386.7 328.0h.75M401.2 330.5h.75M397.3 318.6h.75M394.2 318.9h.75M408.6 329.7h.75M401.2 328.9h.75M394.6 334.4h.75M402.2 331.3h.75M400.4 331.9h.75M395.3 330.1h.75M397.4 326.3h.75M400.8 339.8h.75M384.9 335.8h.75M394.4 334.5h.75M390.9 326.7h.75M403.0 327.3h.75M399.0 320.9h.75M390.2 337.1h.75M397.9 327.2h.75M388.8 321.9h.75M390.8 327.4h.75M396.3 324.3h.75M393.0 328.3h.75M403.9 319.8h.75M388.5 334.1h.75M388.5 325.4h.75M397.6 338.0h.75M384.9 311.3h.75M396.5 333.8h.75M397.8 323.1h.75M398.1 316.1h.75M401.8 336.1h.75M395.7 332.3h.75M390.7 336.1h.75M393.1 323.2h.75M392.4 317.7h.75M400.9 339.0h.75M388.5 326.6h.75M399.6 324.5h.75M387.7 329.6h.75M402.9 328.3h.75M390.6 326.0h.75M385.5 327.4h.75M404.1 334.0h.75M396.4 330.2h.75M393.9 328.4h.75M393.4 328.6h.75M393.9 328.8h.75M401.0 327.6h.75M389.3 330.5h.75M395.5 324.9h.75M400.3 323.0h.75M406.1 321.4h.75M414.3 319.8h.75M427.5 319.0h.75M405.8 321.4h.75M415.5 321.8h.75M408.8 321.7h.75M428.3 320.7h.75M420.9 318.6h.75M419.9 319.3h.75M425.3 319.8h.75M430.1 319.5h.75M407.2 319.8h.75M409.2 320.2h.75M426.9 320.2h.75M416.6 319.6h.75M418.3 321.4h.75M408.0 321.6h.75M423.0 320.8h.75M429.4 318.7h.75M427.1 318.2h.75M428.8 319.0h.75M406.6 321.5h.75M419.4 320.2h.75M407.9 321.4h.75M428.8 318.9h.75M420.5 321.1h.75M413.4 321.5h.75M410.2 321.8h.75M419.4 319.7h.75M405.2 320.5h.75" stroke="#333" stroke-width="0.75" stroke-opacity="0.85"/>
<path d="M428.7 321.9h.9M430.5 319.7h.9M428.1 320.0h.9M425.6 319.8h.9M430.3 318.5h.9M433.3 321.8h.9M431.3 320.7h.9M424.2 321.0h.9M431.1 319.6h.9M430.5 321.5h.9M429.6 321.5h.9M429.3 321.3h.9M430.4 321.0h.9M429.4 321.0h.9M428.5 319.2h.9M425.1 319.0h.9M426.1 318.3h.9M429.5 319.9h.9M430.5 324.8h.9M429.6 319.7h.9M428.9 320.1h.9M428.8 323.4h.9M431.1 322.2h.9M428.8 322.9h.9M429.7 321.7h.9M426.2 319.5h.9M428.6 320.1h.9M427.3 317.6h.9M426.9 320.3h.9M428.8 318.9h.9M428.0 323.0h.9M428.5 317.6h.9M427.9 320.4h.9M430.5 320.7h.9M430.7 320.9h.9M430.3 322.3h.9M431.0 320.7h.9M429.4 326.0h.9M426.1 320.7h.9M429.1 319.4h.9" stroke="#000" stroke-width="0.9" stroke-opacity="0.55"/>
<path d="M403.3 327.9h.95M406.0 321.0h.95M408.0 322.9h.95M403.0 321.6h.95M400.9 326.1h.95M407.0 323.5h.95M401.8 328.3h.95M401.3 326.0h.95M404.7 318.2h.95M402.4 326.0h.95M402.0 326.7h.95M400.1 325.2h.95M402.2 322.9h.95M404.3 335.6h.95M404.3 323.7h.95M405.0 329.4h.95M401.4 329.6h.95M401.8 329.5h.95M404.0 332.1h.95M401.2 326.6h.95M403.1 322.1h.95M403.3 330.1h.95M400.8 324.8h.95M401.4 321.8h.95M400.8 332.8h.95M401.9 325.5h.95M404.1 331.6h.95M405.6 318.7h.95M404.5 320.0h.95M401.9 325.4h.95M401.4 335.3h.95M402.3 332.1h.95M402.6 326.9h.95M403.5 329.1h.95M404.1 320.0h.95M403.6 328.6h.95M403.8 327.0h.95M403.8 321.8h.95M404.9 322.3h.95M404.8 331.6h.95M402.8 326.0h.95M404.1 326.0h.95M400.9 328.2h.95M401.0 325.2h.95M405.5 330.7h.95M402.1 326.9h.95M401.8 327.1h.95M400.3 329.9h.95M403.0 324.7h.95M401.2 338.1h.95M402.2 325.2h.95M402.0 325.1h.95M404.7 330.2h.95M403.4 328.8h.95M401.6 317.0h.95M405.1 330.3h.95M403.1 328.4h.95M403.1 327.3h.95M403.0 317.9h.95M403.7 327.5h.95M404.3 328.6h.95M402.2 329.7h.95M403.2 325.4h.95M402.3 325.4h.95M402.5 325.3h.95M403.7 339.5h.95M402.4 331.9h.95M400.5 313.5h.95M402.1 326.5h.95M402.0 321.4h.95M401.6 325.0h.95M403.2 325.8h.95M401.0 325.5h.95M405.5 323.7h.95M402.7 331.4h.95M401.7 324.7h.95M407.1 332.6h.95M401.9 327.8h.95M402.9 327.8h.95M403.6 326.0h.95M399.5 323.0h.95M403.4 321.5h.95M401.9 333.4h.95M403.4 324.5h.95M402.8 331.6h.95M400.4 321.8h.95M401.9 325.3h.95M402.8 324.8h.95M403.0 327.6h.95M401.1 324.5h.95M400.8 328.3h.95M403.1 330.0h.95M401.6 324.9h.95M399.3 327.0h.95M400.2 328.5h.95M404.4 329.2h.95M403.8 328.2h.95M403.2 331.2h.95M404.3 335.7h.95M402.2 330.6h.95M404.1 329.1h.95M403.6 322.0h.95M404.8 323.6h.95M402.0 323.6h.95M404.0 323.2h.95M403.4 329.6h.95M403.1 325.8h.95M403.4 332.7h.95M402.4 322.8h.95M402.1 323.5h.95M402.5 326.5h.95M398.8 333.1h.95M401.6 325.3h.95M400.2 318.8h.95M401.1 328.1h.95M404.6 319.7h.95M402.8 333.5h.95M402.1 331.0h.95M403.6 323.4h.95M404.6 324.8h.95M403.5 325.6h.95M402.4 327.8h.95M405.4 320.3h.95M401.0 327.5h.95M404.4 326.5h.95M402.4 329.4h.95M405.6 323.6h.95M400.4 325.9h.95M404.4 321.8h.95M404.4 331.2h.95M404.3 323.8h.95M400.6 329.8h.95M403.1 330.1h.95M401.4 314.8h.95M404.4 331.5h.95M402.4 327.1h.95M403.4 330.4h.95M402.7 325.0h.95M401.0 331.4h.95M403.8 313.0h.95M403.5 324.9h.95M400.9 324.9h.95M400.9 325.2h.95M401.8 329.3h.95M401.7 319.5h.95M402.2 321.4h.95M404.1 326.4h.95M400.4 323.4h.95M402.8 327.0h.95M399.9 326.5h.95M403.0 331.3h.95M404.6 326.8h.95M400.8 325.5h.95M404.1 323.4h.95M405.1 323.3h.95M400.8 330.5h.95M402.6 328.5h.95M402.3 327.3h.95M401.4 335.0h.95M403.9 326.7h.95M403.4 330.7h.95M401.9 327.9h.95M403.3 324.9h.95M401.6 326.3h.95M402.4 325.5h.95M399.7 327.3h.95M403.8 327.6h.95M405.3 330.9h.95M402.4 324.4h.95M403.7 325.7h.95M400.2 327.5h.95M402.4 326.2h.95M403.8 328.1h.95M406.2 324.3h.95M402.6 328.5h.95M402.3 325.0h.95M406.0 321.3h.95M403.8 319.9h.95M403.8 319.3h.95M400.7 331.8h.95M405.2 327.9h.95M398.2 331.1h.95M403.5 322.6h.95M402.6 321.7h.95M402.7 326.8h.95M402.8 330.5h.95M402.3 318.0h.95M401.3 321.9h.95M402.3 325.3h.95M402.4 332.9h.95M403.1 322.7h.95M402.6 323.5h.95M402.3 329.6h.95M400.8 330.0h.95M405.3 333.7h.95M405.4 327.7h.95M400.2 335.4h.95M402.7 328.1h.95M402.5 323.3h.95M404.2 321.5h.95M400.5 329.3h.95M402.4 323.7h.95M403.3 333.1h.95M402.4 326.6h.95M403.5 331.1h.95M404.3 330.1h.95M401.6 329.3h.95M403.3 320.2h.95M404.6 329.7h.95M405.0 327.1h.95M404.0 327.0h.95M402.9 331.0h.95M402.8 329.7h.95M402.5 332.3h.95M404.3 320.4h.95M405.4 329.2h.95M402.2 324.6h.95M406.0 327.8h.95M403.5 329.7h.95M401.4 334.4h.95M406.4 324.2h.95M405.0 320.6h.95M402.3 327.4h.95M402.8 329.6h.95M403.4 328.8h.95M402.5 328.4h.95M401.5 335.3h.95M402.6 332.3h.95M403.0 326.6h.95M402.9 321.9h.95M406.0 329.1h.95M403.1 325.3h.95M404.9 326.0h.95M402.2 324.9h.95M405.2 328.6h.95M402.8 324.5h.95M404.8 328.5h.95M402.1 330.9h.95M404.5 323.2h.95M404.4 331.8h.95M402.8 321.7h.95M404.6 325.9h.95M402.6 326.0h.95M402.2 330.6h.95M401.0 329.3h.95M404.4 331.7h.95M403.9 328.4h.95M402.6 326.7h.95M401.0 334.0h.95M402.9 323.1h.95M403.8 333.5h.95M403.4 325.9h.95M400.9 329.7h.95M402.6 324.5h.95M404.1 322.0h.95M404.6 317.3h.95M402.2 321.3h.95M402.3 330.5h.95M400.4 332.7h.95M401.9 325.2h.95M404.6 324.3h.95M405.2 326.5h.95M402.9 323.3h.95M404.7 327.1h.95M402.3 323.3h.95M401.9 326.8h.95M401.5 330.4h.95M402.9 324.7h.95M403.2 333.1h.95M399.5 328.5h.95M404.5 327.9h.95M404.5 321.0h.95M401.4 331.3h.95M402.7 327.5h.95M403.7 328.8h.95M403.7 325.2h.95M402.1 332.5h.95M402.4 321.3h.95M402.1 330.8h.95M405.6 328.0h.95M401.7 329.6h.95M403.0 332.1h.95M403.5 330.3h.95M403.5 329.0h.95M401.5 326.5h.95M405.0 332.8h.95M404.3 328.9h.95M402.6 328.6h.95M402.1 331.6h.95M402.5 324.1h.95M400.0 333.4h.95M401.9 323.6h.95M403.0 334.6h.95M404.0 325.9h.95M403.9 323.9h.95M402.5 327.3h.95M402.7 330.4h.95M403.2 334.9h.95M404.2 326.1h.95M403.5 323.8h.95M402.0 325.8h.95M404.6 324.5h.95M400.7 323.0h.95M401.0 326.4h.95M402.7 322.4h.95M401.7 325.5h.95M403.3 329.7h.95M405.0 326.3h.95M403.8 327.6h.95M401.3 324.5h.95M406.3 326.8h.95M405.2 330.7h.95M405.5 326.6h.95M404.4 326.1h.95M401.4 322.4h.95M403.9 320.7h.95M403.7 323.7h.95M403.8 321.7h.95M404.3 326.4h.95M400.9 321.2h.95M403.4 320.6h.95M403.3 329.2h.95M401.5 332.8h.95M405.0 328.6h.95M403.5 329.2h.95M402.2 332.5h.95M402.7 317.0h.95M402.8 329.0h.95M404.4 322.8h.95M405.2 324.0h.95M403.7 330.2h.95M402.9 331.8h.95M401.6 335.5h.95M403.7 325.6h.95M406.9 327.4h.95M400.0 332.8h.95M405.4 325.0h.95M401.1 331.7h.95M403.2 323.3h.95M402.1 327.4h.95M404.0 333.7h.95M401.6 333.4h.95M400.4 330.0h.95M402.6 329.0h.95M402.4 324.3h.95M403.1 331.8h.95M399.5 327.2h.95M402.5 322.8h.95M400.7 329.2h.95M403.6 329.9h.95M400.2 320.8h.95M402.0 325.4h.95M405.7 325.8h.95M402.8 331.3h.95M405.4 328.9h.95M402.9 335.1h.95M402.7 319.9h.95M401.8 325.9h.95M404.8 328.6h.95M404.7 327.7h.95M403.1 324.9h.95M400.9 329.2h.95M403.3 329.6h.95M402.2 325.5h.95M403.3 329.7h.95M406.2 323.9h.95M404.2 330.9h.95M402.5 327.7h.95M402.4 333.4h.95M406.7 328.8h.95M402.3 331.1h.95M403.7 326.5h.95M403.8 330.8h.95M402.1 330.6h.95M399.7 321.8h.95M402.4 327.8h.95M400.3 333.1h.95M402.3 327.8h.95M402.6 330.3h.95M401.8 330.2h.95M402.0 321.1h.95M403.6 327.9h.95M404.7 319.4h.95M403.2 324.6h.95M402.7 325.6h.95M402.5 324.5h.95M404.9 320.3h.95M400.2 328.5h.95M406.2 324.3h.95M401.8 322.4h.95M401.0 332.2h.95M403.7 330.9h.95M403.4 328.2h.95M402.2 323.2h.95M403.2 337.4h.95M402.0 332.3h.95M401.8 327.3h.95M405.5 327.1h.95M404.0 325.0h.95M406.1 322.4h.95M403.8 326.3h.95M403.1 328.7h.95M404.7 330.9h.95M404.4 328.8h.95M400.9 332.6h.95M405.1 329.3h.95M404.2 326.3h.95M400.4 331.1h.95M401.3 334.9h.95M404.0 327.2h.95M401.9 327.6h.95M401.4 325.6h.95M405.4 326.2h.95M405.8 327.0h.95M403.8 323.5h.95M402.5 325.4h.95M400.3 335.0h.95M403.8 326.9h.95M401.2 327.2h.95M401.5 323.2h.95M402.1 336.0h.95M400.1 329.3h.95M402.8 315.3h.95M400.7 326.5h.95M403.2 324.1h.95M405.5 329.6h.95M402.3 320.4h.95M403.3 324.5h.95M404.7 323.0h.95M404.8 325.4h.95M403.3 326.1h.95M403.6 332.0h.95M402.3 323.5h.95M405.6 331.3h.95M405.6 331.3h.95M402.7 333.9h.95M402.0 325.4h.95M402.1 330.0h.95M401.6 326.4h.95M401.6 326.2h.95M404.3 331.9h.95M401.9 337.6h.95M401.7 329.0h.95M402.7 318.1h.95M400.7 332.2h.95M399.6 339.0h.95M402.6 328.3h.95M404.8 327.5h.95M402.0 324.7h.95M401.3 329.4h.95M402.0 329.3h.95M400.7 325.3h.95M406.0 328.9h.95M402.4 332.1h.95M402.9 333.5h.95M400.9 330.2h.95M401.1 329.9h.95M406.3 333.7h.95M401.4 328.9h.95M403.8 324.3h.95M403.5 322.9h.95M404.2 331.0h.95M402.5 330.0h.95M406.6 326.8h.95M399.9 328.4h.95M402.4 324.0h.95M404.0 331.4h.95M403.4 334.0h.95M402.0 325.4h.95M404.2 316.2h.95M398.5 328.4h.95M402.5 327.4h.95M401.3 328.1h.95M404.7 324.7h.95M403.8 326.6h.95M402.6 327.7h.95M405.1 329.5h.95M403.9 327.9h.95M399.3 330.9h.95M402.8 327.6h.95M402.5 320.8h.95M404.7 334.9h.95M405.8 319.8h.95M404.0 322.4h.95M402.7 325.1h.95M402.1 324.0h.95M401.9 330.3h.95M405.1 331.2h.95M402.9 326.6h.95M402.5 327.1h.95M401.9 326.4h.95M404.2 326.4h.95M401.6 326.6h.95M403.0 326.9h.95M402.3 330.1h.95M403.0 323.1h.95M403.9 324.3h.95M403.9 330.6h.95M403.5 328.5h.95M400.8 326.3h.95M402.9 329.8h.95M401.1 326.5h.95M400.4 327.8h.95M402.9 327.7h.95M405.3 330.4h.95M402.7 324.8h.95M402.0 330.4h.95M404.4 325.2h.95M402.8 325.4h.95M403.9 328.1h.95M401.9 323.5h.95M405.2 321.6h.95M400.8 314.4h.95M406.2 325.2h.95M404.1 329.6h.95M403.9 332.0h.95M402.1 327.1h.95M404.3 329.6h.95M401.9 324.0h.95M400.5 328.1h.95M402.4 320.8h.95M401.9 328.5h.95M403.2 326.3h.95M402.9 329.9h.95M401.2 323.7h.95M404.2 330.3h.95M400.8 324.1h.95M404.9 330.4h.95M402.4 331.4h.95M404.7 333.1h.95M401.0 321.8h.95M402.1 327.0h.95M402.2 328.2h.95M404.9 331.9h.95M404.4 327.3h.95M405.3 329.2h.95M403.2 327.2h.95M399.4 335.9h.95M402.6 330.9h.95M406.5 326.6h.95M400.8 331.3h.95M403.5 323.4h.95M404.4 327.4h.95M402.0 316.7h.95M401.2 328.7h.95M401.0 331.1h.95M406.2 328.7h.95M403.2 326.9h.95M404.2 327.4h.95M404.1 333.1h.95M404.4 323.3h.95M404.0 326.2h.95M403.1 331.2h.95M401.8 328.0h.95M405.4 323.9h.95M402.4 330.2h.95M402.2 331.4h.95M401.6 321.0h.95M403.5 326.7h.95M403.1 331.2h.95M404.6 325.9h.95M402.7 319.2h.95M401.3 328.1h.95M403.6 321.2h.95M404.1 327.1h.95M404.7 325.9h.95M404.6 322.8h.95M400.1 323.7h.95M403.9 329.0h.95M399.8 327.6h.95M403.5 334.1h.95M404.0 329.4h.95M400.3 328.6h.95M399.8 325.8h.95M402.5 323.2h.95M401.3 326.5h.95M403.9 324.6h.95M403.2 330.1h.95M402.3 335.0h.95M402.5 324.2h.95M399.6 331.4h.95M404.0 326.5h.95M403.4 326.7h.95M404.2 327.3h.95M403.2 326.9h.95M402.0 318.1h.95M404.0 322.2h.95M403.3 329.9h.95M406.0 324.4h.95M402.9 331.1h.95M401.9 324.8h.95M403.1 335.7h.95M404.3 331.2h.95M401.2 329.8h.95M405.0 322.2h.95M402.9 326.4h.95M404.3 320.2h.95M404.0 327.3h.95M402.9 318.6h.95M399.7 324.8h.95M403.8 329.0h.95M404.5 320.4h.95M402.8 332.7h.95M400.2 329.7h.95M401.6 329.4h.95M403.4 320.6h.95M400.9 332.3h.95M402.4 332.2h.95M403.2 330.9h.95M402.2 328.1h.95M402.0 330.9h.95M401.7 331.7h.95M405.6 322.4h.95M402.4 329.4h.95M405.4 332.1h.95M403.4 320.2h.95M404.3 324.9h.95M403.1 328.9h.95M400.4 331.4h.95M404.2 329.6h.95M403.7 328.7h.95M400.8 325.0h.95M404.2 325.9h.95M402.8 328.7h.95M402.9 328.3h.95M403.6 327.3h.95M401.2 326.0h.95M404.5 324.6h.95M403.5 328.5h.95M402.1 315.7h.95M403.0 324.1h.95M401.6 330.9h.95M401.6 328.6h.95M403.0 328.0h.95M406.5 319.4h.95M404.4 326.7h.95M402.6 324.5h.95M402.9 327.4h.95M401.0 333.8h.95M401.7 326.6h.95M400.8 327.7h.95M403.1 331.6h.95M404.5 325.3h.95M405.4 326.9h.95M404.9 334.3h.95M402.5 322.8h.95M403.4 333.1h.95M403.2 331.7h.95M403.6 330.9h.95M405.0 326.1h.95M400.6 326.6h.95M401.9 322.3h.95M402.4 330.1h.95M400.3 320.9h.95M404.3 323.7h.95M401.9 332.6h.95M404.5 328.8h.95M404.4 316.3h.95M403.6 328.8h.95M400.6 327.8h.95M403.6 326.8h.95M403.9 330.9h.95M403.0 326.2h.95M400.7 331.7h.95M401.9 328.4h.95M405.1 330.5h.95M400.9 326.7h.95M402.1 320.5h.95M401.4 329.5h.95M403.4 326.4h.95M403.4 322.5h.95M401.7 326.5h.95M404.2 326.0h.95M402.5 328.5h.95M405.5 322.2h.95M403.6 328.0h.95M402.7 328.2h.95M399.7 327.1h.95M402.8 322.2h.95M404.2 326.8h.95M402.1 330.2h.95M401.6 324.2h.95M403.9 330.8h.95M406.1 325.5h.95M400.9 321.1h.95M400.9 327.5h.95M402.6 324.5h.95M401.4 324.3h.95M402.0 332.0h.95M403.5 332.8h.95M403.9 330.4h.95M404.6 329.1h.95M405.0 331.9h.95M405.6 328.3h.95M401.0 337.3h.95M402.3 329.3h.95M402.4 324.4h.95M403.8 322.7h.95M402.2 332.9h.95M402.8 330.5h.95M403.8 328.8h.95M402.9 329.7h.95M401.2 329.5h.95M401.3 324.1h.95M402.2 321.8h.95M399.6 328.6h.95M403.5 329.9h.95M406.3 328.1h.95M404.2 324.3h.95M404.2 322.7h.95M406.2 323.5h.95M402.0 330.2h.95M399.1 332.4h.95M401.3 327.9h.95M404.3 327.9h.95M404.4 325.3h.95M404.3 318.5h.95M405.4 324.7h.95M401.5 327.2h.95M405.7 324.5h.95M402.9 325.7h.95M401.7 321.8h.95M403.6 330.1h.95M401.6 328.1h.95M403.4 328.8h.95M402.6 327.4h.95M403.5 322.9h.95M402.4 330.4h.95M401.6 332.5h.95M402.7 322.7h.95M402.7 321.7h.95M404.2 320.8h.95M402.9 326.3h.95M402.3 328.9h.95M403.4 325.0h.95M404.2 325.5h.95M403.9 332.7h.95M403.2 331.0h.95M400.6 329.4h.95M400.5 326.4h.95M404.6 316.4h.95M401.8 324.0h.95M401.3 327.2h.95M404.1 322.6h.95M402.3 319.6h.95M402.2 318.7h.95M400.3 329.0h.95M404.4 324.0h.95M403.6 324.1h.95M404.1 334.4h.95" stroke="#000" stroke-width="0.95" stroke-opacity="0.9"/>
<rect x="377.7" y="294.9" width="65.2" height="54" fill="none" stroke="#444" stroke-width="0.9"/>
<line x1="377.7" y1="294.5" x2="377.7" y2="349.7" stroke="#000" stroke-width="1.3"/>
<line x1="377.2" y1="348.5" x2="443.4" y2="348.5" stroke="#111" stroke-width="1.2"/>
<path d="M376.4 344.9h1.3M376.4 340.9h1.3M376.4 336.9h1.3M375.3 332.9h2.4M376.4 328.9h1.3M376.4 324.9h1.3M376.4 320.9h1.3M375.3 316.9h2.4M376.4 312.9h1.3M376.4 308.9h1.3M376.4 304.9h1.3M375.3 300.9h2.4M376.4 296.9h1.3M381.7 348.9v1.3M385.7 348.9v1.3M389.7 348.9v1.3M393.7 348.9v2.4M397.7 348.9v1.3M401.7 348.9v1.3M405.7 348.9v1.3M409.7 348.9v2.4M413.7 348.9v1.3M417.7 348.9v1.3M421.7 348.9v1.3M425.7 348.9v2.4M429.7 348.9v1.3M433.7 348.9v1.3M437.7 348.9v1.3M441.7 348.9v2.4" stroke="#222" stroke-width="0.6"/>
<path d="M399.6 304.3 L432.9 304.3 L432.9 318.4 L406.7 321.2 L403.7 320.5 L399.6 320.5 Z" fill="none" stroke="#333" stroke-width="0.9"/>
<text x="398" y="312.2" font-size="10.6" text-anchor="end" fill="#111">3</text>
<path d="M511.1 310.8h.75M450.1 310.0h.75M471.7 327.1h.75M452.1 343.8h.75M498.4 335.2h.75M492.5 341.1h.75M459.4 317.1h.75M460.7 344.9h.75M478.4 339.7h.75M464.2 327.4h.75M496.4 313.4h.75M465.2 299.5h.75M488.7 317.0h.75M460.8 312.2h.75M468.5 301.6h.75M486.4 303.3h.75M461.8 314.4h.75M461.6 340.5h.75M508.9 312.7h.75M499.7 328.9h.75M483.8 343.7h.75M491.5 329.9h.75M508.8 319.5h.75M494.9 320.3h.75M504.9 347.4h.75M464.3 305.7h.75M485.1 296.0h.75M454.3 298.9h.75M467.1 318.7h.75M460.5 332.0h.75M497.2 339.9h.75M483.4 335.6h.75M499.6 334.2h.75M468.4 326.0h.75M501.5 308.2h.75M486.9 301.1h.75M473.3 326.9h.75M468.9 340.6h.75M465.3 333.8h.75M469.4 321.8h.75M468.5 327.3h.75M464.6 334.2h.75M471.1 323.0h.75M464.6 328.9h.75M459.6 333.7h.75M465.0 324.6h.75M473.2 329.9h.75M458.1 329.8h.75M465.1 333.0h.75M482.6 335.2h.75M476.8 329.1h.75M469.8 334.7h.75M465.7 332.6h.75M463.2 336.4h.75M459.9 345.0h.75M465.5 333.6h.75M467.5 316.9h.75M469.5 323.1h.75M467.9 327.0h.75M464.5 317.8h.75M457.0 325.9h.75M458.8 332.6h.75M456.4 332.4h.75M470.4 324.3h.75M459.5 327.6h.75M472.1 342.3h.75M481.9 331.3h.75M470.9 332.2h.75M466.3 321.5h.75M463.9 340.0h.75M476.3 325.5h.75M454.8 346.5h.75M466.6 334.4h.75M465.2 315.4h.75M468.7 322.4h.75M464.4 325.3h.75M477.2 314.1h.75M455.3 326.3h.75M461.6 337.1h.75M477.7 324.4h.75M470.5 328.8h.75M452.2 340.5h.75M479.0 323.6h.75M470.9 326.2h.75M465.7 326.7h.75M465.4 330.9h.75M462.0 332.9h.75M457.1 337.4h.75M459.6 314.9h.75M472.4 327.7h.75M462.6 338.3h.75M466.2 347.0h.75M469.5 318.5h.75M462.8 324.9h.75M464.3 344.8h.75M485.9 345.0h.75M469.7 335.2h.75M467.6 311.9h.75M476.4 347.3h.75M462.7 330.3h.75M461.3 328.8h.75M460.2 321.0h.75M475.1 314.2h.75M473.8 320.9h.75M464.6 313.6h.75M471.1 322.1h.75M484.3 322.7h.75M468.2 336.1h.75M459.4 323.6h.75M458.7 335.3h.75M468.6 339.1h.75M456.1 322.7h.75M465.6 326.8h.75M468.7 340.1h.75M467.4 323.8h.75M466.1 324.5h.75M461.7 346.2h.75M471.3 346.0h.75M464.9 330.0h.75M457.3 332.6h.75M471.7 336.4h.75M458.1 331.5h.75M473.1 326.6h.75M471.5 326.3h.75M466.4 325.7h.75M455.8 323.5h.75M467.7 328.1h.75M466.4 325.7h.75M472.8 329.1h.75M469.3 326.5h.75M475.8 329.7h.75M469.5 317.4h.75M461.6 333.3h.75M457.0 318.1h.75M465.6 317.3h.75M474.2 334.2h.75M464.2 340.8h.75M461.6 320.6h.75M472.9 330.7h.75M464.8 339.3h.75M465.5 336.0h.75M468.0 340.3h.75M470.4 326.6h.75M477.3 327.6h.75M478.9 319.9h.75M466.8 311.7h.75M470.2 341.9h.75M463.6 334.6h.75M464.8 342.7h.75M468.9 333.6h.75M474.3 317.7h.75M471.4 331.7h.75M475.8 330.8h.75M470.8 330.1h.75M459.4 326.3h.75M465.2 319.4h.75M466.1 326.6h.75M479.6 328.5h.75M467.4 331.4h.75M471.5 317.0h.75M453.9 343.9h.75M460.5 323.1h.75M474.9 333.1h.75M460.7 336.9h.75M458.3 344.3h.75M464.2 333.4h.75M466.4 346.8h.75M459.6 329.8h.75M481.9 313.4h.75M463.0 332.9h.75M464.9 334.3h.75M474.8 321.0h.75M461.8 341.7h.75M480.5 308.1h.75M470.4 339.0h.75M461.6 323.3h.75M458.4 328.9h.75M458.3 336.6h.75M461.6 335.0h.75M455.2 338.1h.75M471.3 338.5h.75M473.5 331.0h.75M478.0 327.6h.75M467.6 344.4h.75M463.2 330.6h.75M468.3 332.2h.75M464.8 339.1h.75M482.0 327.3h.75M456.0 326.7h.75M456.6 319.9h.75M459.1 339.5h.75M467.6 336.6h.75M465.7 339.2h.75M463.6 341.6h.75M472.9 332.4h.75M456.0 321.3h.75M468.4 321.8h.75M465.3 329.2h.75M476.4 324.9h.75M467.5 326.7h.75M461.1 334.3h.75M473.5 318.6h.75M467.6 335.0h.75M459.1 327.2h.75M468.7 329.9h.75M476.4 323.2h.75M464.8 335.0h.75M466.0 328.5h.75M465.7 334.0h.75M471.9 321.7h.75M460.0 321.1h.75M469.7 315.0h.75M484.1 326.0h.75M466.5 334.8h.75M465.2 328.5h.75M481.3 314.1h.75M468.4 324.4h.75M464.1 330.1h.75M453.3 335.8h.75M468.0 335.3h.75M462.3 336.9h.75M463.2 337.1h.75M476.2 335.9h.75M456.2 331.2h.75M459.1 347.0h.75M468.0 319.9h.75M455.6 341.7h.75M459.4 334.1h.75M464.2 329.4h.75M463.4 330.7h.75M478.1 323.3h.75M470.3 334.7h.75M461.7 321.4h.75M460.2 335.5h.75M467.7 339.2h.75M469.2 331.6h.75M466.7 332.6h.75M466.9 336.2h.75M460.4 339.6h.75M478.2 329.9h.75M470.6 320.8h.75M467.3 318.6h.75M473.7 331.0h.75M474.3 340.1h.75M461.3 337.4h.75M465.8 335.2h.75M462.0 336.0h.75M470.9 342.8h.75M465.5 331.1h.75M470.1 329.2h.75M481.4 312.1h.75M454.3 326.4h.75M471.5 330.8h.75M469.6 318.0h.75M470.8 335.2h.75M478.3 337.5h.75M462.1 324.5h.75M458.4 326.6h.75M465.9 341.1h.75M478.5 331.3h.75M470.9 329.3h.75M457.3 335.1h.75M461.3 317.2h.75M460.6 343.1h.75M458.3 342.0h.75M456.7 330.1h.75M470.2 327.3h.75M459.6 330.7h.75M478.6 336.2h.75M468.0 335.4h.75M475.1 341.7h.75M464.6 323.3h.75M459.5 331.2h.75M464.4 330.7h.75M461.6 342.5h.75M460.4 324.1h.75M458.1 321.6h.75M454.8 323.8h.75M464.8 336.4h.75M453.7 334.3h.75M465.7 330.6h.75M451.0 334.7h.75M471.4 340.2h.75M464.5 341.0h.75M467.1 323.0h.75M470.3 338.8h.75M468.3 330.4h.75M482.7 325.0h.75M493.4 319.8h.75M476.7 322.4h.75M488.3 323.4h.75M490.7 321.7h.75M485.3 326.9h.75M494.9 320.9h.75M481.4 323.2h.75M485.7 322.7h.75M492.5 321.1h.75M496.4 321.9h.75M488.5 321.8h.75M475.8 323.2h.75M490.8 322.0h.75M472.7 326.7h.75M494.9 323.0h.75M487.8 323.3h.75M478.5 325.7h.75M483.2 322.5h.75M487.3 323.0h.75M480.9 320.3h.75M481.3 319.8h.75M497.7 319.3h.75M499.7 319.7h.75M495.2 324.8h.75M487.1 317.8h.75M484.3 323.8h.75M500.6 321.0h.75M496.0 318.6h.75M503.5 319.3h.75M480.6 322.6h.75M484.0 319.7h.75M488.7 322.0h.75M494.7 321.6h.75M495.5 318.1h.75M480.4 323.6h.75M489.1 321.0h.75M498.3 322.2h.75M494.3 317.5h.75M481.1 324.8h.75M496.6 319.2h.75M498.2 317.5h.75M483.0 322.0h.75M491.7 322.9h.75M489.3 323.5h.75" stroke="#333" stroke-width="0.75" stroke-opacity="0.85"/>
<path d="M469.8 325.4h.95M472.9 331.0h.95M465.7 329.8h.95M473.1 322.1h.95M468.1 324.2h.95M472.8 324.4h.95M470.0 324.2h.95M471.1 327.6h.95M475.8 320.5h.95M469.8 325.6h.95M471.2 328.0h.95M466.2 327.7h.95M469.2 323.8h.95M471.1 323.9h.95M468.7 326.7h.95M472.7 327.4h.95M469.6 322.6h.95M470.8 326.5h.95M470.6 324.3h.95M477.0 328.8h.95M474.1 319.3h.95M467.7 328.7h.95M474.8 323.7h.95M472.9 327.0h.95M468.7 326.6h.95M470.6 324.2h.95M471.2 326.2h.95M470.1 325.8h.95M471.2 326.1h.95M473.1 324.5h.95M468.6 323.9h.95M473.6 327.9h.95M472.9 324.1h.95M470.7 321.3h.95M470.0 323.7h.95M468.3 323.6h.95M467.2 325.4h.95M473.7 321.3h.95M470.0 325.6h.95M471.2 328.0h.95M470.9 324.9h.95M470.2 326.7h.95M470.2 324.4h.95M472.2 325.0h.95M467.4 327.7h.95M473.7 324.0h.95M476.6 326.1h.95M470.1 323.7h.95M470.6 329.9h.95M473.6 328.6h.95M470.7 327.3h.95M470.7 323.0h.95M472.3 326.7h.95M473.3 323.4h.95M473.9 322.4h.95M473.4 326.7h.95M470.7 323.8h.95M473.2 336.5h.95M468.2 328.1h.95M463.8 325.0h.95M471.2 326.3h.95M471.2 321.4h.95M472.5 324.8h.95M471.1 328.8h.95M470.5 326.8h.95M471.5 326.4h.95M470.0 325.6h.95M472.3 326.3h.95M472.4 321.6h.95M467.1 328.2h.95M473.2 327.5h.95M472.3 325.6h.95M471.6 328.8h.95M470.5 326.1h.95M475.6 322.9h.95M470.2 323.2h.95M469.6 323.2h.95M470.2 323.7h.95M474.0 323.3h.95M469.8 329.1h.95M473.5 322.9h.95M468.6 327.8h.95M471.7 323.8h.95M474.1 324.8h.95M468.3 325.8h.95M472.4 324.1h.95M471.0 328.9h.95M473.6 327.1h.95M471.8 327.4h.95M466.1 328.0h.95M470.8 323.5h.95M471.0 322.4h.95M473.8 326.9h.95M472.7 320.5h.95M471.9 325.7h.95M469.4 324.2h.95M466.7 325.1h.95M468.2 325.4h.95M474.5 320.6h.95M470.0 322.8h.95M472.3 328.0h.95M470.6 330.4h.95M471.5 324.1h.95M468.9 321.0h.95M473.8 324.3h.95M468.3 326.9h.95M464.4 326.2h.95M476.6 322.8h.95M472.5 326.2h.95M473.8 325.9h.95M469.3 328.9h.95M469.7 326.0h.95M472.9 326.1h.95M472.6 327.9h.95M475.5 322.5h.95M468.9 325.2h.95M472.0 330.5h.95M472.5 323.9h.95M471.7 319.7h.95M469.6 326.5h.95M473.3 322.0h.95M471.2 325.7h.95M468.0 328.3h.95M470.9 328.8h.95M473.0 323.4h.95M472.3 329.6h.95M472.0 321.8h.95M473.9 325.2h.95M469.1 324.1h.95M473.6 324.5h.95M470.2 328.1h.95M475.1 322.7h.95M470.6 330.8h.95M473.5 326.5h.95M474.3 322.3h.95M470.9 323.7h.95M475.8 328.0h.95M467.2 328.6h.95M476.2 323.1h.95M473.3 321.3h.95M476.7 321.3h.95M476.8 325.2h.95M466.5 329.6h.95M472.1 327.1h.95M474.6 324.2h.95M473.7 326.0h.95M472.2 326.8h.95M476.1 324.1h.95M467.7 325.6h.95M475.7 329.7h.95M470.2 327.1h.95M468.8 324.5h.95M467.8 324.0h.95M470.7 330.6h.95M469.2 327.3h.95M475.7 324.7h.95M473.3 320.8h.95M469.0 325.7h.95M467.6 322.6h.95M471.1 330.0h.95M465.7 323.7h.95M473.2 319.4h.95M468.5 325.9h.95M470.5 327.3h.95M469.9 326.9h.95M470.7 322.2h.95M473.4 321.2h.95M474.4 326.5h.95M470.5 322.4h.95M469.3 324.8h.95M469.5 327.3h.95M469.1 324.2h.95M468.9 322.8h.95M474.5 326.9h.95M473.4 326.5h.95M470.3 322.3h.95M468.6 325.2h.95M468.0 333.1h.95M473.8 329.6h.95M469.3 324.8h.95M466.4 330.3h.95M468.4 327.7h.95M467.6 326.0h.95M469.5 323.1h.95M471.6 326.2h.95M471.4 325.4h.95M469.8 324.4h.95M472.6 323.3h.95M472.4 326.7h.95M468.1 328.0h.95M472.8 320.4h.95M474.6 326.2h.95M473.9 328.4h.95M468.1 327.4h.95M471.2 328.4h.95M469.5 329.5h.95M473.8 325.9h.95M468.4 323.8h.95M472.9 323.3h.95M469.0 329.1h.95M469.0 327.9h.95M470.8 322.2h.95M473.6 326.3h.95M470.5 328.4h.95M476.5 324.5h.95M472.4 326.9h.95M469.4 330.2h.95M471.7 323.9h.95M475.2 321.3h.95M473.4 323.9h.95M473.1 324.2h.95M472.8 325.6h.95M469.2 326.1h.95M475.2 322.6h.95M469.1 323.5h.95M468.9 328.4h.95M474.1 328.6h.95M474.2 326.1h.95M468.2 324.8h.95M465.6 327.6h.95M470.4 328.8h.95M472.3 321.0h.95M470.4 326.6h.95M471.7 324.1h.95M471.9 325.3h.95M476.1 324.0h.95M466.9 322.9h.95M474.1 322.2h.95M470.8 326.7h.95M471.7 326.8h.95M471.8 321.2h.95M473.9 325.9h.95M466.5 327.9h.95M476.8 319.6h.95M476.7 329.0h.95M466.8 326.1h.95M470.5 329.1h.95M473.7 321.6h.95M471.7 324.4h.95M472.3 325.5h.95M474.3 323.3h.95M471.0 323.7h.95M474.6 321.9h.95M468.2 331.5h.95M466.3 326.1h.95M470.3 328.2h.95M471.2 326.3h.95M471.6 327.2h.95M469.1 323.9h.95M473.4 331.2h.95M470.9 322.3h.95M469.7 328.0h.95M474.2 325.2h.95M466.5 322.8h.95M466.3 326.7h.95M473.7 329.0h.95M471.9 327.7h.95M473.8 330.4h.95M476.0 324.5h.95M470.4 325.0h.95M467.1 322.4h.95M471.5 325.4h.95M477.0 328.0h.95M471.2 325.1h.95M472.6 321.7h.95M473.8 327.0h.95M472.1 326.1h.95M471.9 320.8h.95M470.1 326.6h.95M470.2 327.3h.95M470.2 324.0h.95M471.9 325.5h.95M469.9 329.3h.95M470.4 325.5h.95M469.3 326.2h.95M472.9 324.1h.95M470.9 321.5h.95M470.6 325.7h.95M470.5 324.8h.95M468.6 331.5h.95M470.8 332.7h.95M471.4 326.3h.95M475.0 328.8h.95M473.5 325.1h.95M469.2 326.9h.95M471.1 323.3h.95M467.9 324.6h.95M470.5 326.8h.95M471.3 321.6h.95M473.7 326.9h.95M474.6 323.7h.95M472.1 317.9h.95M470.7 328.4h.95M471.8 331.5h.95M469.1 320.8h.95M471.4 323.1h.95M472.1 323.4h.95M468.4 323.8h.95M472.7 323.9h.95M473.2 322.5h.95M471.2 324.4h.95M470.6 324.9h.95M470.6 320.9h.95M468.7 326.5h.95M470.7 322.2h.95M475.9 327.3h.95M471.8 323.0h.95M473.8 328.6h.95M469.8 329.8h.95M471.2 320.1h.95M473.2 327.9h.95M469.3 327.0h.95M468.6 330.3h.95M468.3 325.0h.95M472.3 328.9h.95M471.2 324.2h.95M469.6 326.8h.95M470.8 324.8h.95M473.7 326.5h.95M472.1 325.6h.95M474.4 320.2h.95M469.0 325.4h.95M470.9 323.4h.95M468.5 331.3h.95M471.1 322.4h.95M467.0 324.7h.95M472.4 323.5h.95M469.2 327.5h.95M473.1 327.7h.95M472.5 329.4h.95M469.4 327.0h.95M470.7 327.7h.95M469.1 331.2h.95M468.3 325.0h.95M466.0 330.1h.95M470.8 324.1h.95M471.4 325.5h.95M475.1 327.4h.95M470.5 328.5h.95M475.9 325.0h.95M473.9 322.7h.95M470.6 329.7h.95M470.7 324.3h.95M473.3 328.1h.95M473.7 325.4h.95M471.3 324.3h.95M476.7 323.7h.95M468.2 328.9h.95M472.8 322.8h.95M472.2 325.3h.95M470.5 326.7h.95M475.1 322.8h.95M469.8 329.5h.95M468.7 323.8h.95M468.1 325.9h.95M470.1 323.8h.95M469.9 326.2h.95M470.5 320.6h.95M470.0 329.2h.95M469.8 326.0h.95M471.8 326.2h.95M472.1 324.2h.95M469.3 328.3h.95M470.6 329.3h.95M469.7 325.1h.95M471.9 321.6h.95M473.7 325.9h.95M473.8 322.4h.95M471.1 325.0h.95M469.2 327.7h.95M472.2 326.5h.95M472.5 324.8h.95M470.3 324.1h.95M469.5 324.0h.95M469.7 328.3h.95M467.2 331.1h.95M470.1 325.3h.95M472.2 324.0h.95M473.7 321.1h.95M474.6 325.4h.95M473.8 321.1h.95M474.4 323.1h.95M475.7 324.6h.95M469.0 326.4h.95M476.8 322.1h.95M465.7 327.7h.95M474.4 322.3h.95M469.5 326.8h.95M468.5 328.9h.95M469.7 325.2h.95M471.8 330.6h.95M471.1 327.3h.95M470.8 325.0h.95M469.7 325.9h.95M474.6 324.1h.95M468.9 324.4h.95M475.3 328.5h.95M471.7 325.6h.95M468.9 321.9h.95M477.5 322.1h.95M476.8 324.7h.95M472.1 334.5h.95M474.8 327.0h.95M473.4 324.9h.95M470.2 325.6h.95M464.0 323.4h.95M472.2 322.5h.95M469.9 326.9h.95M469.3 325.6h.95M468.5 324.3h.95M467.9 326.2h.95M468.4 325.9h.95M467.0 323.7h.95M474.9 324.8h.95M472.7 323.5h.95M471.4 328.0h.95M472.0 330.2h.95M475.1 325.3h.95M470.9 327.0h.95M473.6 322.5h.95M472.2 334.3h.95M475.1 319.1h.95M475.5 327.2h.95M477.6 325.6h.95M471.4 328.2h.95M468.8 323.1h.95M471.5 327.8h.95M475.8 319.5h.95M465.9 323.8h.95M476.9 323.6h.95M471.0 328.4h.95M471.5 320.5h.95M472.6 324.8h.95M471.5 325.0h.95M470.7 326.2h.95M470.3 324.9h.95M471.4 322.7h.95M473.3 323.9h.95M472.6 326.1h.95M472.9 328.3h.95M467.2 323.2h.95M472.6 326.6h.95M470.0 328.4h.95M474.7 323.0h.95M470.2 328.2h.95M473.5 322.5h.95M472.2 328.0h.95M473.6 327.3h.95M470.5 327.9h.95M466.7 328.6h.95M471.9 326.6h.95M471.9 328.4h.95M465.5 325.4h.95M472.3 323.5h.95M472.0 329.0h.95M473.1 324.4h.95M472.9 323.3h.95M477.6 326.8h.95M471.0 330.7h.95M470.3 323.2h.95M467.0 322.4h.95M468.4 324.4h.95M470.9 325.4h.95M472.1 324.4h.95M471.7 325.5h.95M470.3 324.0h.95M472.0 321.7h.95M473.9 320.8h.95M472.6 326.1h.95M470.2 328.7h.95" stroke="#000" stroke-width="0.95" stroke-opacity="0.9"/>
<rect x="448.1" y="294.9" width="65.2" height="54" fill="none" stroke="#444" stroke-width="0.9"/>
<line x1="448.1" y1="294.5" x2="448.1" y2="349.7" stroke="#000" stroke-width="1.3"/>
<line x1="447.6" y1="348.5" x2="513.8" y2="348.5" stroke="#111" stroke-width="1.2"/>
<path d="M446.8 344.9h1.3M446.8 340.9h1.3M446.8 336.9h1.3M445.7 332.9h2.4M446.8 328.9h1.3M446.8 324.9h1.3M446.8 320.9h1.3M445.7 316.9h2.4M446.8 312.9h1.3M446.8 308.9h1.3M446.8 304.9h1.3M445.7 300.9h2.4M446.8 296.9h1.3M452.1 348.9v1.3M456.1 348.9v1.3M460.1 348.9v1.3M464.1 348.9v2.4M468.1 348.9v1.3M472.1 348.9v1.3M476.1 348.9v1.3M480.1 348.9v2.4M484.1 348.9v1.3M488.1 348.9v1.3M492.1 348.9v1.3M496.1 348.9v2.4M500.1 348.9v1.3M504.1 348.9v1.3M508.1 348.9v1.3M512.1 348.9v2.4" stroke="#222" stroke-width="0.6"/>
<path d="M470 304.3 L503.3 304.3 L503.3 318.4 L477.1 321.2 L474.1 320.5 L470 320.5 Z" fill="none" stroke="#333" stroke-width="0.9"/>
<text x="468.4" y="312.2" font-size="10.6" text-anchor="end" fill="#111">7</text>
<path d="M335.1 377.6h.75M319.2 404.7h.75M315.1 419.9h.75M336.8 387.6h.75M313.8 385.2h.75M328.2 377.6h.75M322.5 422.3h.75M363.4 419.6h.75M364.2 408.2h.75M365.3 404.9h.75M329.0 379.4h.75M344.9 422.4h.75M363.5 422.9h.75M331.2 407.3h.75M358.1 417.3h.75M338.6 417.5h.75M325.4 414.9h.75M330.6 381.9h.75M356.3 413.1h.75M343.8 395.7h.75M319.4 415.8h.75M345.7 406.5h.75M355.8 371.7h.75M354.1 416.4h.75M311.4 372.9h.75M358.7 384.4h.75M337.2 420.5h.75M314.9 397.0h.75M306.2 417.4h.75M358.4 393.9h.75M354.0 378.4h.75M354.9 414.0h.75M349.9 372.1h.75M321.8 406.1h.75M356.6 396.9h.75M347.1 394.9h.75M340.3 385.7h.75M315.4 417.3h.75M338.4 387.6h.75M320.3 409.5h.75M317.6 405.7h.75M323.9 416.5h.75M326.2 400.7h.75M319.0 401.5h.75M323.5 397.5h.75M323.8 398.2h.75M312.1 400.9h.75M310.5 394.3h.75M320.5 394.9h.75M316.6 405.5h.75M310.5 404.9h.75M326.2 402.6h.75M320.3 399.0h.75M322.9 396.4h.75M324.5 398.8h.75M322.9 390.0h.75M317.7 408.6h.75M323.5 387.6h.75M309.8 396.0h.75M333.5 391.6h.75M323.1 408.1h.75M315.0 396.3h.75M327.5 406.4h.75M327.8 398.1h.75M323.4 406.4h.75M326.5 398.3h.75M325.5 404.2h.75M318.0 400.1h.75M314.3 402.1h.75M318.7 397.5h.75M323.8 407.9h.75M324.4 408.7h.75M312.0 409.0h.75M324.2 408.5h.75M320.6 404.9h.75M326.3 407.5h.75M313.0 400.7h.75M320.2 399.5h.75M335.1 399.1h.75M321.0 405.3h.75M321.9 399.3h.75M318.0 397.7h.75M324.4 401.0h.75M318.1 401.9h.75M327.8 408.6h.75M322.0 398.3h.75M324.6 401.6h.75M319.9 406.1h.75M321.0 409.8h.75M332.1 402.5h.75M327.2 388.0h.75M319.3 399.1h.75M320.5 404.8h.75M328.7 398.3h.75M319.0 391.7h.75M321.3 385.9h.75M323.6 406.9h.75M313.1 403.1h.75M316.7 401.7h.75M338.1 395.7h.75M351.9 395.7h.75M352.7 396.0h.75M336.6 397.0h.75M350.9 396.0h.75M337.6 394.2h.75M334.7 395.4h.75M341.6 397.7h.75M336.0 397.2h.75M339.4 395.4h.75M348.1 395.9h.75M336.2 396.1h.75M348.7 394.9h.75M335.8 397.1h.75M340.4 397.9h.75M345.7 397.1h.75M346.6 396.2h.75M346.2 397.8h.75M338.9 395.7h.75M342.2 395.9h.75M342.0 397.0h.75M339.8 395.5h.75M334.2 394.1h.75M347.9 395.5h.75M353.5 393.2h.75M341.6 393.6h.75M336.2 396.4h.75M333.5 395.1h.75M355.9 395.1h.75M331.8 395.8h.75" stroke="#333" stroke-width="0.75" stroke-opacity="0.85"/>
<path d="M354.2 396.4h.9M355.2 398.4h.9M355.7 394.7h.9M352.7 394.3h.9M353.6 396.7h.9M353.9 396.1h.9M352.8 397.7h.9M355.3 396.6h.9M351.7 395.8h.9M354.9 396.5h.9M355.0 393.8h.9M352.9 394.6h.9M354.7 398.1h.9M355.0 396.7h.9M352.5 396.6h.9M354.7 396.2h.9M351.3 395.0h.9M354.3 393.8h.9M354.5 395.6h.9M352.7 397.1h.9M354.2 396.8h.9M351.5 395.8h.9M352.4 398.3h.9M352.7 392.4h.9M351.0 395.3h.9M349.9 393.9h.9M351.6 398.4h.9M350.2 395.7h.9M353.6 394.6h.9M351.6 394.9h.9M354.2 397.1h.9M354.8 395.4h.9M355.1 397.5h.9M350.8 396.2h.9M354.8 397.1h.9M351.0 396.4h.9M351.0 396.1h.9M354.1 395.7h.9M354.8 396.3h.9M353.6 396.1h.9" stroke="#000" stroke-width="0.9" stroke-opacity="0.55"/>
<path d="M326.5 404.9h.95M326.2 400.9h.95M325.6 402.3h.95M325.8 403.8h.95M330.2 403.9h.95M325.9 407.9h.95M328.7 399.9h.95M325.4 406.4h.95M329.1 399.4h.95M326.8 399.5h.95M326.2 405.5h.95M326.4 397.7h.95M327.4 393.0h.95M326.8 406.5h.95M328.1 403.5h.95M324.7 397.2h.95M327.7 408.5h.95M325.9 394.3h.95M328.8 403.4h.95M328.5 407.1h.95M326.8 398.4h.95M330.6 400.8h.95M326.1 403.1h.95M327.6 397.4h.95M328.1 398.6h.95M328.2 398.1h.95M326.1 399.2h.95M326.8 400.1h.95M326.0 404.2h.95M325.0 396.9h.95M323.2 401.4h.95M328.2 407.1h.95M326.1 402.9h.95M326.1 404.7h.95M325.3 401.5h.95M328.3 393.9h.95M324.7 405.4h.95M326.8 400.5h.95M329.2 393.4h.95M326.2 397.2h.95M331.3 394.9h.95M326.7 400.5h.95M326.1 400.8h.95M324.9 402.3h.95M327.1 402.8h.95M324.7 401.3h.95M324.3 399.8h.95M331.4 401.3h.95M326.0 405.2h.95M326.2 399.7h.95M329.8 398.6h.95M328.7 400.4h.95M325.2 401.0h.95M328.0 403.2h.95M325.6 392.9h.95M328.4 402.8h.95M325.5 400.8h.95M326.9 403.8h.95M326.8 402.6h.95M326.9 402.7h.95M329.1 397.1h.95M325.7 401.2h.95M326.7 397.6h.95M329.2 394.2h.95M327.0 406.4h.95M323.6 410.3h.95M327.1 402.4h.95M327.2 411.3h.95M325.5 396.3h.95M324.6 401.5h.95M325.2 403.4h.95M325.8 394.9h.95M329.4 399.1h.95M327.7 399.0h.95M327.6 410.3h.95M328.6 403.2h.95M326.9 406.6h.95M325.5 409.9h.95M329.2 406.2h.95M328.8 400.1h.95M328.2 395.7h.95M327.1 406.4h.95M327.9 403.9h.95M328.0 402.5h.95M328.8 397.9h.95M328.5 397.7h.95M326.2 405.8h.95M323.8 410.0h.95M328.1 401.9h.95M327.2 406.2h.95M326.4 402.6h.95M324.9 395.4h.95M325.8 400.0h.95M325.9 401.1h.95M328.4 402.3h.95M324.8 406.1h.95M324.1 405.8h.95M328.0 403.8h.95M328.0 408.0h.95M327.9 406.0h.95M324.5 400.8h.95M325.9 400.6h.95M329.0 399.7h.95M327.9 405.9h.95M326.4 401.0h.95M328.9 402.6h.95M327.1 397.2h.95M326.5 398.5h.95M327.2 393.6h.95M323.7 399.0h.95M325.7 403.4h.95M328.7 401.5h.95M327.8 393.9h.95M325.4 403.1h.95M326.8 400.3h.95M324.1 399.9h.95M327.5 402.5h.95M324.9 401.2h.95M325.7 404.2h.95M332.1 396.1h.95M328.1 400.9h.95M326.4 404.2h.95M329.2 398.0h.95M326.5 400.5h.95M329.0 390.0h.95M327.1 404.7h.95M330.2 402.0h.95M327.1 403.8h.95M329.1 396.6h.95M325.9 402.2h.95M328.6 400.2h.95M327.3 395.1h.95M323.4 408.5h.95M326.0 402.8h.95M327.1 402.3h.95M323.4 404.0h.95M327.2 397.3h.95M325.7 408.5h.95M327.9 397.9h.95M326.9 404.6h.95M328.1 396.7h.95M326.4 395.4h.95M328.0 396.1h.95M329.4 402.3h.95M326.8 409.6h.95M325.2 397.8h.95M326.4 393.4h.95M329.1 392.5h.95M327.9 398.3h.95M327.3 397.2h.95M327.5 395.7h.95M326.5 400.3h.95M327.3 403.3h.95M329.4 406.4h.95M328.5 399.1h.95M325.0 402.6h.95M327.0 399.5h.95M327.5 401.0h.95M328.8 405.8h.95M325.7 406.5h.95M325.5 399.3h.95M324.3 400.1h.95M324.6 405.2h.95M324.6 396.3h.95M328.0 403.5h.95M327.5 401.4h.95M325.5 399.8h.95M327.4 403.5h.95M327.6 409.9h.95M325.7 399.4h.95M325.7 399.2h.95M326.5 401.2h.95M329.3 400.7h.95M327.1 392.1h.95M327.5 402.1h.95M327.1 403.8h.95M327.4 405.3h.95M328.5 396.2h.95M327.1 396.2h.95M330.3 397.4h.95M328.5 406.0h.95M330.1 399.0h.95M325.7 399.7h.95M328.1 403.1h.95M327.6 402.1h.95M327.8 396.2h.95M325.1 406.1h.95M325.1 409.8h.95M327.1 404.0h.95M327.2 411.7h.95M328.0 399.3h.95M327.5 400.7h.95M326.8 396.7h.95M327.1 406.9h.95M327.1 406.4h.95M327.3 396.7h.95M330.2 396.1h.95M327.4 403.9h.95M328.6 401.6h.95M328.2 402.9h.95M328.2 404.7h.95M326.4 411.0h.95M327.8 397.4h.95M326.5 400.8h.95M329.7 404.4h.95M328.3 403.4h.95M327.0 404.1h.95M327.2 404.2h.95M328.3 400.0h.95M326.6 398.6h.95M330.4 397.6h.95M323.3 400.3h.95M327.1 392.1h.95M326.5 400.9h.95M329.6 405.1h.95M328.8 400.2h.95M330.1 395.3h.95M325.7 407.8h.95M327.9 394.9h.95M327.1 402.6h.95M326.3 404.1h.95M325.7 400.6h.95M325.9 403.3h.95M327.8 403.9h.95M326.7 398.1h.95M330.0 396.0h.95M325.8 402.0h.95M325.7 393.7h.95M327.7 398.5h.95M327.2 402.5h.95M328.4 400.0h.95M324.7 405.6h.95M326.1 407.8h.95M328.7 401.8h.95M330.0 402.7h.95M326.0 408.8h.95M327.3 399.1h.95M325.8 408.4h.95M326.7 397.1h.95M327.7 403.2h.95M325.8 405.2h.95M325.7 394.0h.95M326.7 396.1h.95M325.0 400.0h.95M327.6 401.6h.95M325.6 399.9h.95M328.0 398.9h.95M326.3 403.8h.95M325.9 394.7h.95M328.3 403.8h.95M326.4 394.8h.95M327.4 398.7h.95M327.1 396.6h.95M328.0 399.4h.95M329.5 393.2h.95M326.5 399.5h.95M326.0 404.5h.95M328.0 399.5h.95M325.7 403.2h.95M324.7 399.7h.95M328.2 401.9h.95M328.6 403.8h.95M325.8 395.1h.95M327.1 398.7h.95M327.4 401.2h.95M327.6 406.9h.95M326.4 397.8h.95M326.6 396.9h.95M326.4 404.6h.95M326.4 402.0h.95M327.1 398.6h.95M324.2 396.3h.95M328.7 394.0h.95M327.8 408.4h.95M328.2 401.5h.95M326.4 407.6h.95M328.2 400.9h.95M325.8 401.1h.95M327.1 400.6h.95M328.4 399.3h.95M328.0 408.5h.95M327.2 393.7h.95M328.6 398.0h.95M324.4 404.3h.95M325.9 401.2h.95M326.0 398.1h.95M327.9 392.5h.95M327.4 399.6h.95M325.6 399.6h.95M328.3 402.3h.95M329.6 401.6h.95M327.2 403.8h.95M328.1 398.7h.95M326.6 395.3h.95M326.8 399.9h.95M327.3 409.1h.95M325.9 403.5h.95M326.7 401.2h.95M326.9 394.0h.95M328.5 400.5h.95M326.3 391.7h.95M328.5 397.6h.95M329.1 399.8h.95M325.3 398.9h.95M327.5 405.2h.95M324.3 400.9h.95M325.8 399.6h.95M327.8 400.9h.95M327.6 404.8h.95M328.9 400.7h.95M324.4 405.7h.95M327.0 408.9h.95M328.9 404.0h.95M329.3 399.2h.95M327.0 404.2h.95M327.7 398.1h.95M328.8 399.4h.95M329.0 405.4h.95M327.3 394.8h.95M328.6 401.6h.95M323.6 401.6h.95M328.4 403.8h.95M325.5 406.0h.95M325.7 402.2h.95M325.1 401.6h.95M328.4 402.2h.95M326.9 404.7h.95M326.2 403.8h.95M325.2 405.9h.95M326.9 411.8h.95M328.2 403.0h.95M327.2 395.0h.95M326.5 404.5h.95M327.0 397.1h.95M328.8 392.5h.95M328.2 406.5h.95M327.0 406.7h.95M329.1 397.6h.95M328.3 398.5h.95M326.4 406.4h.95M325.6 405.2h.95M326.9 404.1h.95M326.6 399.8h.95M327.1 403.1h.95M326.9 398.8h.95M326.2 409.5h.95M325.4 400.4h.95M325.9 405.7h.95M327.6 397.2h.95M327.7 403.3h.95M326.9 396.5h.95M328.2 400.0h.95M327.0 397.0h.95M326.2 407.9h.95M326.5 403.9h.95M325.4 402.5h.95M330.7 407.7h.95M325.8 403.5h.95M327.6 403.0h.95M327.3 402.7h.95M325.0 399.2h.95M328.0 398.5h.95M328.4 394.5h.95M328.1 402.3h.95M327.6 409.5h.95M327.2 399.6h.95M327.0 403.8h.95M326.1 397.9h.95M330.2 398.5h.95M326.6 404.5h.95M325.5 401.1h.95M327.6 398.5h.95M328.8 397.0h.95M323.4 408.0h.95M325.2 407.1h.95M330.5 399.3h.95M328.9 400.8h.95M328.1 393.2h.95M326.3 405.7h.95M329.8 397.8h.95M325.8 408.1h.95M328.1 404.1h.95M326.0 399.5h.95M329.2 401.7h.95M325.6 396.9h.95M327.3 402.6h.95M329.0 402.8h.95M328.1 401.9h.95M325.6 401.1h.95M326.9 399.1h.95M325.5 400.6h.95M327.8 410.1h.95M331.2 396.9h.95M327.1 402.2h.95M326.5 392.4h.95M326.2 404.1h.95M328.1 396.1h.95M325.2 397.4h.95M324.3 400.0h.95M324.8 398.6h.95M328.9 401.6h.95M328.8 398.5h.95M326.7 396.2h.95M327.7 400.5h.95M326.8 403.7h.95M330.6 392.9h.95M327.4 404.5h.95M326.8 407.1h.95M327.0 398.0h.95M328.2 397.1h.95M325.6 401.2h.95M326.7 401.5h.95M331.0 404.2h.95M326.5 405.1h.95M328.5 400.8h.95M329.5 406.1h.95M325.0 404.8h.95M326.7 403.3h.95M327.2 408.4h.95M324.9 399.5h.95M327.2 395.6h.95M326.8 398.6h.95M327.6 405.5h.95M327.9 398.7h.95M328.1 393.3h.95M327.2 399.1h.95M328.8 407.0h.95M327.1 402.1h.95M325.2 397.7h.95M328.6 395.2h.95M326.0 398.8h.95M328.3 399.8h.95M326.3 401.8h.95M325.1 398.1h.95M325.6 400.7h.95M329.2 403.0h.95M329.6 403.3h.95M325.1 395.3h.95M326.1 395.0h.95M325.8 411.2h.95M325.6 398.3h.95M324.5 406.6h.95M326.0 397.1h.95M325.3 396.2h.95M328.2 401.1h.95M328.4 400.4h.95M324.6 403.8h.95M327.9 397.6h.95M326.1 406.1h.95M325.5 401.7h.95M327.0 401.8h.95M328.6 399.6h.95M329.2 398.2h.95M327.8 403.0h.95M326.3 403.2h.95M329.0 405.8h.95M326.2 401.3h.95M324.8 400.4h.95M328.2 397.3h.95M327.2 402.4h.95M325.6 398.3h.95M328.3 401.2h.95M328.9 403.1h.95M326.9 398.2h.95M326.8 403.9h.95M328.6 396.6h.95M326.7 405.2h.95M327.1 402.1h.95M328.8 394.9h.95M326.3 404.8h.95M328.3 399.8h.95M326.6 392.0h.95M325.8 408.2h.95M324.6 412.0h.95M327.6 403.3h.95M326.9 397.4h.95M324.0 403.3h.95M327.6 403.8h.95M326.4 399.0h.95M326.0 402.0h.95M325.9 396.4h.95M329.7 403.6h.95M328.5 399.9h.95M327.7 397.6h.95M330.7 395.1h.95M326.9 396.9h.95M326.4 403.4h.95M330.3 394.6h.95M326.7 391.9h.95M326.7 402.7h.95M321.1 402.9h.95M324.9 396.5h.95M326.4 397.6h.95M325.9 401.4h.95M323.6 407.9h.95M329.2 398.5h.95M327.0 397.5h.95M325.4 393.8h.95M330.7 406.8h.95M327.3 402.4h.95M328.7 401.9h.95M327.2 398.0h.95M329.8 398.8h.95M328.6 407.0h.95M327.3 407.8h.95M329.7 403.7h.95M325.4 406.4h.95M328.7 403.4h.95M326.4 402.7h.95M323.0 406.3h.95M331.0 403.9h.95M325.2 407.6h.95M328.3 396.0h.95M324.5 393.4h.95M324.2 403.7h.95M325.7 401.5h.95M328.0 401.2h.95M329.8 399.3h.95M328.2 409.3h.95M329.5 403.0h.95M329.9 399.6h.95M329.5 398.1h.95M327.2 391.9h.95M328.6 399.5h.95M327.6 405.0h.95M329.5 407.0h.95M322.9 406.0h.95M328.3 404.3h.95M326.1 398.6h.95M327.0 397.9h.95M330.3 403.1h.95M325.8 400.2h.95M327.4 399.3h.95M326.2 405.9h.95M328.7 396.8h.95M324.9 402.5h.95M328.6 399.6h.95M327.6 406.2h.95M327.8 403.7h.95M326.4 397.2h.95M327.2 401.4h.95M330.2 400.0h.95M326.0 397.0h.95M322.9 402.5h.95M331.0 400.8h.95M326.0 396.1h.95M328.2 399.9h.95M325.0 401.3h.95M325.9 406.3h.95M324.3 396.2h.95M325.5 402.1h.95M327.0 401.1h.95M327.5 401.4h.95M329.8 395.4h.95M327.4 397.9h.95M326.5 399.5h.95M325.3 399.8h.95M326.9 399.2h.95M329.2 398.8h.95M327.8 401.2h.95M327.2 393.3h.95M328.3 401.1h.95M325.1 409.2h.95M327.0 399.2h.95M326.2 398.9h.95M327.5 399.3h.95M327.1 396.9h.95M327.6 404.0h.95M328.9 391.4h.95M327.6 401.0h.95M329.0 397.2h.95M326.7 401.9h.95M327.0 396.0h.95M327.2 406.4h.95M330.2 406.4h.95M329.0 395.6h.95M328.1 401.1h.95M323.1 402.0h.95M329.2 397.8h.95M328.4 404.5h.95M325.4 399.3h.95M326.7 404.1h.95M326.6 404.2h.95M328.1 400.6h.95M327.6 413.0h.95M327.4 402.0h.95M325.3 404.5h.95M325.8 393.9h.95M327.4 400.8h.95M327.7 398.4h.95M325.1 396.0h.95M328.3 405.0h.95M328.7 399.4h.95M325.7 395.5h.95M326.5 402.7h.95M327.1 400.3h.95M328.9 399.1h.95M326.3 400.4h.95M325.5 400.1h.95M326.8 399.6h.95M326.4 406.4h.95M327.8 395.0h.95M330.8 403.1h.95M325.1 404.8h.95M330.2 400.6h.95M326.2 403.7h.95M325.3 400.8h.95M328.3 405.7h.95M327.8 399.0h.95M325.9 397.5h.95M327.4 409.5h.95M328.6 407.0h.95M329.9 405.4h.95M326.4 407.7h.95M326.2 395.6h.95M327.5 397.8h.95M325.0 403.2h.95M327.0 396.9h.95M325.5 405.9h.95M328.6 404.2h.95M324.9 404.9h.95M326.8 402.5h.95M326.9 397.6h.95M327.5 401.8h.95M329.0 399.7h.95M327.4 402.4h.95M325.6 399.5h.95M328.9 402.9h.95M325.0 400.8h.95M327.2 401.5h.95M327.1 401.0h.95M325.6 400.9h.95M328.7 397.3h.95M327.5 403.2h.95M327.8 398.4h.95M326.0 398.9h.95M326.4 405.0h.95M326.2 398.4h.95M326.1 404.6h.95M330.2 391.8h.95M327.8 394.0h.95M325.0 405.8h.95M325.6 389.8h.95M327.1 401.5h.95M324.7 400.5h.95M324.7 411.6h.95M327.5 407.1h.95M330.5 391.4h.95M324.9 405.6h.95M328.1 405.2h.95M328.6 406.9h.95M326.6 400.9h.95M329.0 400.5h.95M329.8 393.7h.95M325.8 398.7h.95M326.6 396.6h.95M327.1 401.4h.95M328.0 391.7h.95M327.0 396.0h.95M328.1 398.0h.95M326.1 408.6h.95M328.9 397.6h.95M325.0 400.0h.95M325.7 404.0h.95M328.9 403.7h.95M327.9 397.5h.95M326.8 394.5h.95M326.9 398.7h.95M325.0 403.0h.95M327.4 400.6h.95M327.9 402.9h.95M327.5 398.8h.95M325.9 400.3h.95M326.8 396.9h.95M326.5 406.4h.95M329.9 396.0h.95M324.7 399.6h.95M329.5 398.2h.95M325.4 396.1h.95M328.5 404.9h.95M326.7 406.2h.95M328.1 403.1h.95M324.3 400.2h.95M331.5 400.0h.95M325.4 395.6h.95M326.4 402.5h.95M325.9 407.2h.95M326.5 400.3h.95M327.2 407.6h.95M328.8 399.6h.95M323.8 399.9h.95M327.4 394.8h.95M324.4 398.9h.95M326.8 402.5h.95M328.4 395.2h.95M329.8 407.4h.95M325.3 402.2h.95M327.9 402.4h.95M328.4 395.0h.95M325.5 398.8h.95M325.0 407.0h.95M327.8 401.0h.95M326.4 408.5h.95M326.5 394.2h.95M328.0 404.6h.95M326.8 401.3h.95M326.3 400.1h.95M324.4 401.1h.95M329.9 406.9h.95M327.3 397.1h.95M328.9 405.0h.95M321.9 406.9h.95M324.9 402.2h.95M326.5 403.2h.95M326.1 402.8h.95M325.9 401.0h.95M327.1 392.8h.95M326.7 398.0h.95M329.5 403.7h.95M323.2 407.9h.95M328.5 405.4h.95M328.2 398.4h.95M326.0 403.2h.95M331.1 402.5h.95M324.4 405.8h.95M330.5 401.7h.95M324.1 401.6h.95M326.6 404.1h.95M325.5 402.2h.95M326.5 403.5h.95M327.4 401.4h.95M327.6 403.5h.95M328.6 395.8h.95M326.6 400.5h.95M325.0 410.8h.95M330.2 395.7h.95M325.4 405.9h.95M326.7 407.4h.95M325.1 399.9h.95M328.2 402.3h.95M326.4 406.3h.95M326.3 405.0h.95M325.1 401.2h.95M326.0 404.2h.95M325.3 398.4h.95M327.3 395.2h.95M328.0 404.0h.95M325.8 395.9h.95M329.5 397.5h.95M325.5 397.7h.95" stroke="#000" stroke-width="0.95" stroke-opacity="0.9"/>
<rect x="302.7" y="370.3" width="65.2" height="54" fill="none" stroke="#444" stroke-width="0.9"/>
<line x1="302.7" y1="369.9" x2="302.7" y2="425.1" stroke="#000" stroke-width="1.3"/>
<line x1="302.2" y1="424.5" x2="368.4" y2="424.5" stroke="#111" stroke-width="1.2"/>
<path d="M301.4 420.3h1.3M301.4 416.3h1.3M301.4 412.3h1.3M300.3 408.3h2.4M301.4 404.3h1.3M301.4 400.3h1.3M301.4 396.3h1.3M300.3 392.3h2.4M301.4 388.3h1.3M301.4 384.3h1.3M301.4 380.3h1.3M300.3 376.3h2.4M301.4 372.3h1.3M306.7 424.3v1.3M310.7 424.3v1.3M314.7 424.3v1.3M318.7 424.3v2.4M322.7 424.3v1.3M326.7 424.3v1.3M330.7 424.3v1.3M334.7 424.3v2.4M338.7 424.3v1.3M342.7 424.3v1.3M346.7 424.3v1.3M350.7 424.3v2.4M354.7 424.3v1.3M358.7 424.3v1.3M362.7 424.3v1.3M366.7 424.3v2.4" stroke="#222" stroke-width="0.6"/>
<path d="M324.6 379.7 L357.9 379.7 L357.9 393.8 L331.7 396.6 L328.7 395.9 L324.6 395.9 Z" fill="none" stroke="#333" stroke-width="0.9"/>
<text x="323" y="387.6" font-size="10.6" text-anchor="end" fill="#111">3</text>
<path d="M426.1 415.4h.75M391.1 390.8h.75M402.7 398.8h.75M390.5 388.5h.75M423.3 407.1h.75M429.2 408.0h.75M399.1 377.7h.75M378.4 406.3h.75M429.3 408.2h.75M416.7 392.4h.75M380.4 394.5h.75M384.6 386.2h.75M427.2 401.9h.75M435.6 416.8h.75M424.4 420.8h.75M387.3 410.3h.75M418.6 400.0h.75M385.2 397.3h.75M436.3 408.9h.75M438.0 412.4h.75M381.6 391.9h.75M432.4 409.2h.75M409.3 394.9h.75M402.9 390.2h.75M400.4 395.7h.75M415.9 378.6h.75M388.4 404.4h.75M414.7 396.8h.75M411.3 389.4h.75M412.0 386.4h.75M416.6 386.8h.75M404.9 372.9h.75M399.5 394.8h.75M417.5 412.0h.75M380.6 387.7h.75M393.1 395.2h.75M436.5 420.5h.75M392.9 402.0h.75M384.1 409.9h.75M392.0 406.2h.75M394.8 401.6h.75M388.0 415.6h.75M399.5 404.1h.75M393.8 407.3h.75M403.3 405.4h.75M395.3 402.3h.75M395.0 394.6h.75M393.3 399.5h.75M381.1 383.9h.75M400.9 399.2h.75M402.0 404.2h.75M396.7 396.1h.75M389.6 396.2h.75M392.5 405.3h.75M396.3 395.4h.75M390.9 402.4h.75M388.4 400.6h.75M400.8 393.7h.75M385.3 398.9h.75M397.4 391.3h.75M407.6 412.5h.75M391.8 405.0h.75M396.3 399.0h.75M394.9 401.7h.75M391.6 392.4h.75M395.2 394.7h.75M397.1 398.6h.75M388.8 404.7h.75M393.8 419.0h.75M403.3 399.5h.75M401.6 404.0h.75M395.4 394.8h.75M394.8 394.5h.75M399.6 390.0h.75M403.0 400.7h.75M396.0 390.2h.75M396.1 420.1h.75M401.6 407.9h.75M407.3 410.0h.75M396.2 401.0h.75M391.6 412.7h.75M397.1 407.7h.75M394.0 409.8h.75M391.8 403.2h.75M393.0 418.3h.75M400.1 404.7h.75M398.2 411.2h.75M392.0 397.0h.75M402.8 400.6h.75M398.7 405.5h.75M394.2 401.5h.75M397.0 392.4h.75M396.0 421.2h.75M401.9 402.0h.75M400.4 409.5h.75M393.6 415.8h.75M401.1 409.2h.75M387.0 410.4h.75M393.9 405.3h.75M402.6 404.1h.75M391.9 408.2h.75M395.7 396.9h.75M393.5 402.7h.75M402.6 403.7h.75M394.3 397.6h.75M398.6 402.4h.75M399.7 406.7h.75M412.9 396.4h.75M430.0 395.3h.75M427.3 394.4h.75M424.5 393.6h.75M423.2 396.0h.75M423.2 394.2h.75M418.6 395.0h.75M413.8 397.0h.75M414.8 397.4h.75M430.8 395.9h.75M414.6 396.4h.75M430.3 392.2h.75M422.1 395.2h.75M422.3 396.2h.75M414.0 395.6h.75M427.2 394.6h.75M414.0 394.6h.75M414.2 395.9h.75M413.8 397.5h.75M411.2 394.8h.75M409.5 394.4h.75M426.0 394.8h.75M424.7 394.7h.75M407.5 395.9h.75M411.0 396.9h.75M415.6 397.4h.75M415.4 396.0h.75M414.0 395.7h.75M419.6 396.9h.75M411.8 396.1h.75" stroke="#333" stroke-width="0.75" stroke-opacity="0.85"/>
<path d="M402.3 391.2h.95M400.3 401.7h.95M403.4 407.4h.95M401.7 407.6h.95M402.1 407.3h.95M399.6 407.4h.95M399.9 400.5h.95M401.8 407.2h.95M401.1 401.0h.95M402.0 402.3h.95M402.8 405.2h.95M401.8 396.3h.95M402.2 399.8h.95M402.2 412.2h.95M402.7 404.0h.95M400.9 400.0h.95M404.5 395.4h.95M401.1 399.2h.95M398.1 406.2h.95M403.2 405.3h.95M402.8 395.0h.95M404.0 406.7h.95M404.5 398.6h.95M403.1 410.5h.95M402.3 402.5h.95M402.0 395.1h.95M402.9 396.3h.95M402.5 402.4h.95M401.2 395.5h.95M400.5 408.1h.95M400.9 405.2h.95M401.8 395.3h.95M401.9 399.8h.95M401.8 394.3h.95M402.6 395.3h.95M401.5 399.8h.95M406.0 401.7h.95M401.7 408.5h.95M402.6 396.6h.95M401.7 405.9h.95M403.2 408.8h.95M397.1 399.4h.95M402.4 414.5h.95M401.5 397.1h.95M402.6 402.9h.95M401.5 401.8h.95M401.7 399.3h.95M404.2 398.8h.95M404.7 404.7h.95M402.0 398.9h.95M400.5 406.6h.95M403.5 399.0h.95M404.0 391.7h.95M404.2 400.0h.95M402.6 400.2h.95M402.1 393.0h.95M400.2 409.0h.95M400.2 408.7h.95M401.1 406.9h.95M401.8 400.2h.95M403.2 404.0h.95M400.2 404.4h.95M405.6 399.4h.95M403.5 407.0h.95M402.5 403.0h.95M404.3 407.7h.95M402.1 396.4h.95M400.7 398.7h.95M403.3 405.1h.95M402.6 401.2h.95M402.2 400.1h.95M401.4 401.1h.95M402.6 402.6h.95M398.5 407.1h.95M402.9 405.8h.95M401.5 405.9h.95M402.2 406.3h.95M403.0 401.5h.95M403.9 394.7h.95M400.0 403.4h.95M398.4 397.1h.95M404.3 404.4h.95M403.5 395.8h.95M402.7 401.6h.95M400.8 396.8h.95M403.6 404.4h.95M403.5 395.6h.95M400.0 407.4h.95M403.2 400.2h.95M401.7 410.3h.95M402.6 396.9h.95M406.1 401.3h.95M401.2 399.2h.95M402.4 402.2h.95M400.9 404.8h.95M403.0 403.5h.95M404.1 396.2h.95M401.7 403.5h.95M405.2 397.8h.95M402.8 394.9h.95M402.0 398.4h.95M402.1 401.7h.95M401.7 404.4h.95M403.7 406.6h.95M401.0 403.1h.95M403.0 395.4h.95M401.4 392.9h.95M402.6 406.4h.95M404.1 405.1h.95M402.3 400.6h.95M401.8 403.3h.95M403.3 396.1h.95M401.8 408.9h.95M405.1 398.1h.95M402.0 402.4h.95M401.3 404.4h.95M402.1 397.8h.95M403.1 398.8h.95M405.1 395.4h.95M401.9 401.5h.95M403.4 393.1h.95M403.4 407.4h.95M403.1 404.1h.95M401.9 404.4h.95M400.3 391.1h.95M398.9 401.4h.95M402.0 404.2h.95M401.2 410.1h.95M401.4 405.5h.95M403.8 397.3h.95M399.6 407.3h.95M402.7 404.2h.95M401.2 398.1h.95M401.7 394.0h.95M402.0 399.2h.95M402.3 398.5h.95M403.1 404.0h.95M400.8 405.3h.95M403.4 406.3h.95M398.6 411.1h.95M399.5 402.7h.95M403.3 396.0h.95M402.0 400.1h.95M405.7 395.5h.95M402.8 400.9h.95M402.3 405.7h.95M402.5 405.0h.95M403.5 405.4h.95M403.3 398.9h.95M404.1 394.0h.95M400.0 397.5h.95M401.8 408.1h.95M402.2 401.5h.95M403.3 401.6h.95M399.8 400.7h.95M401.5 402.1h.95M405.1 401.4h.95M401.0 401.9h.95M403.4 402.0h.95M404.6 401.0h.95M403.1 407.2h.95M403.5 404.6h.95M402.6 401.5h.95M398.6 401.5h.95M403.3 404.8h.95M403.6 393.5h.95M400.5 400.4h.95M400.3 399.9h.95M404.3 401.0h.95M402.2 405.1h.95M400.1 402.1h.95M402.7 398.3h.95M402.3 403.7h.95M402.3 400.7h.95M403.7 402.2h.95M404.3 389.8h.95M401.8 406.0h.95M402.7 403.4h.95M402.6 409.5h.95M402.1 394.9h.95M402.6 398.8h.95M404.0 400.8h.95M401.5 410.1h.95M402.2 402.7h.95M402.4 399.4h.95M404.9 401.5h.95M399.8 412.0h.95M400.9 398.6h.95M401.0 411.4h.95M401.5 399.3h.95M401.6 405.4h.95M400.1 411.2h.95M400.7 398.7h.95M402.3 400.1h.95M400.6 396.8h.95M404.7 407.2h.95M402.0 401.8h.95M403.7 401.1h.95M404.7 390.6h.95M403.3 402.6h.95M401.0 401.9h.95M402.2 397.5h.95M400.8 402.4h.95M402.9 396.2h.95M399.7 407.8h.95M397.8 406.9h.95M402.6 403.3h.95M401.8 392.7h.95M403.4 403.2h.95M402.4 394.5h.95M400.4 399.3h.95M403.8 397.5h.95M401.4 403.9h.95M400.5 409.0h.95M403.3 398.5h.95M401.8 414.5h.95M403.4 403.4h.95M400.2 405.6h.95M404.2 403.6h.95M403.1 402.6h.95M399.8 404.4h.95M402.6 408.1h.95M403.0 402.2h.95M401.9 403.5h.95M403.2 396.2h.95M403.2 397.3h.95M401.9 401.4h.95M403.4 400.3h.95M400.9 394.7h.95M401.0 404.1h.95M402.9 393.5h.95M403.6 399.4h.95M401.1 406.4h.95M400.7 397.8h.95M403.5 396.2h.95M401.7 409.7h.95M403.2 393.2h.95M403.2 404.6h.95M403.3 398.2h.95M402.4 402.9h.95M402.2 400.7h.95M401.1 405.9h.95M402.7 406.3h.95M402.3 400.0h.95M400.9 407.8h.95M401.2 397.7h.95M401.7 406.0h.95M403.8 399.7h.95M401.5 406.8h.95M403.3 405.9h.95M404.3 399.5h.95M404.9 402.2h.95M402.3 403.0h.95M401.6 407.4h.95M406.4 402.3h.95M402.0 402.1h.95M401.3 390.1h.95M403.0 402.2h.95M403.0 404.8h.95M401.9 402.6h.95M404.7 400.1h.95M401.4 408.1h.95M399.7 402.7h.95M401.7 413.2h.95M402.4 395.4h.95M400.5 399.0h.95M405.0 403.4h.95M401.3 402.0h.95M400.5 407.4h.95M402.6 398.7h.95M398.5 410.7h.95M403.4 403.7h.95M404.5 399.8h.95M400.7 401.1h.95M404.1 405.2h.95M401.8 403.3h.95M402.8 401.4h.95M400.0 403.1h.95M400.9 400.5h.95M402.4 398.4h.95M402.1 397.2h.95M405.0 400.0h.95M402.2 411.4h.95M400.9 403.2h.95M402.6 404.1h.95M403.1 402.6h.95M400.3 406.2h.95M404.2 398.0h.95M405.7 399.5h.95M403.2 399.0h.95M403.9 403.6h.95M399.0 411.2h.95M405.5 403.7h.95M401.4 408.6h.95M402.3 396.6h.95M403.1 393.1h.95M403.7 407.8h.95M404.9 401.2h.95M400.8 398.3h.95M403.5 405.3h.95M401.7 405.0h.95M403.3 400.4h.95M402.6 410.5h.95M399.6 399.6h.95M403.1 410.7h.95M399.4 406.3h.95M401.4 399.1h.95M401.7 403.5h.95M401.7 401.2h.95M403.2 399.9h.95M401.4 405.9h.95M399.0 403.1h.95M403.3 403.9h.95M400.7 400.3h.95M403.7 397.8h.95M401.6 395.8h.95M401.0 405.3h.95M402.3 404.0h.95M404.4 400.2h.95M403.9 407.9h.95M400.9 404.3h.95M402.7 398.1h.95M401.7 394.4h.95M402.0 399.4h.95M403.6 407.2h.95M401.4 399.0h.95M404.0 399.7h.95M403.1 401.6h.95M404.8 390.3h.95M402.5 404.5h.95M401.0 402.4h.95M401.7 400.6h.95M402.8 402.3h.95M403.0 404.5h.95M403.0 395.9h.95M402.9 407.2h.95M405.8 400.9h.95M403.3 407.3h.95M404.3 406.6h.95M401.0 407.5h.95M403.7 399.3h.95M401.9 403.2h.95M401.6 395.7h.95M402.1 400.0h.95M401.4 404.9h.95M402.5 403.7h.95M402.1 410.8h.95M403.8 397.2h.95M401.5 405.5h.95M402.9 400.4h.95M404.3 409.3h.95M401.0 413.1h.95M401.9 403.8h.95M400.5 410.0h.95M403.7 397.0h.95M400.8 400.8h.95M399.8 410.7h.95M401.6 403.1h.95M401.2 399.4h.95M400.3 411.8h.95M401.7 397.3h.95M403.1 400.5h.95M403.2 413.1h.95M403.7 406.8h.95M401.9 403.9h.95M404.5 399.5h.95M401.6 404.6h.95M402.2 394.3h.95M402.0 403.0h.95M400.9 406.3h.95M401.0 409.2h.95M401.2 402.3h.95M401.5 401.1h.95M402.0 389.7h.95M402.2 404.6h.95M401.4 400.1h.95M403.3 405.4h.95M402.7 408.2h.95M401.2 401.6h.95M403.9 398.7h.95M403.3 394.0h.95M402.0 405.1h.95M401.5 407.1h.95M402.3 399.5h.95M402.2 402.6h.95M403.8 391.8h.95M400.9 398.4h.95M401.0 403.5h.95M402.2 401.9h.95M402.1 407.0h.95M400.9 407.1h.95M402.8 405.5h.95M403.2 400.5h.95M402.3 401.8h.95M406.0 399.7h.95M406.7 394.2h.95M403.9 401.1h.95M402.7 399.2h.95M402.7 399.3h.95M404.1 395.8h.95M401.7 394.5h.95M400.6 409.1h.95M404.2 398.8h.95M402.0 398.7h.95M400.2 405.9h.95M400.9 398.7h.95M402.4 402.4h.95M399.6 402.7h.95M403.0 401.7h.95M403.4 401.4h.95M403.7 401.1h.95M403.1 396.2h.95M402.0 400.5h.95M403.8 409.4h.95M403.9 404.1h.95M404.2 399.9h.95M400.5 398.4h.95M402.7 398.1h.95M403.0 404.4h.95M401.7 399.4h.95M401.0 405.8h.95M400.8 407.3h.95M404.0 399.7h.95M402.7 398.6h.95M404.7 396.3h.95M402.4 402.3h.95M401.2 403.4h.95M403.1 402.0h.95M403.2 397.0h.95M401.4 397.6h.95M404.9 410.3h.95M403.7 400.0h.95M404.4 400.5h.95M401.5 402.9h.95M402.6 401.7h.95M401.0 403.7h.95M402.3 397.3h.95M403.4 403.4h.95M404.0 403.0h.95M404.3 399.2h.95M404.1 400.4h.95M400.6 399.6h.95M403.4 402.5h.95M400.4 402.9h.95M404.2 397.7h.95M399.4 413.0h.95M401.9 400.6h.95M401.1 401.2h.95M400.4 405.4h.95M403.8 395.7h.95M404.1 400.0h.95M403.4 405.8h.95M403.3 399.0h.95M402.8 401.5h.95M401.6 399.6h.95M401.5 400.0h.95M401.4 401.2h.95M405.3 397.3h.95M401.4 401.5h.95M401.4 400.8h.95M404.9 397.9h.95M402.7 403.6h.95M401.7 399.0h.95M402.7 403.8h.95M404.8 404.2h.95M402.5 403.2h.95M402.1 402.8h.95M403.2 394.2h.95M398.5 398.8h.95M404.0 399.1h.95M403.1 408.3h.95M405.7 402.5h.95M403.1 395.1h.95M403.7 407.8h.95M403.6 391.2h.95M400.9 403.6h.95M403.5 398.5h.95M401.5 394.9h.95M402.4 407.5h.95M404.4 389.7h.95M402.0 406.0h.95M401.4 402.4h.95M404.3 402.0h.95M402.4 397.0h.95M402.9 405.4h.95M403.4 406.3h.95M403.2 403.3h.95M403.7 403.7h.95M404.3 398.5h.95M402.7 403.6h.95M402.0 400.1h.95M401.9 401.1h.95M404.2 407.5h.95M401.1 404.1h.95M404.2 404.2h.95M400.3 399.2h.95M403.2 404.4h.95M402.1 402.3h.95M400.5 404.0h.95M400.0 401.7h.95M400.6 403.3h.95M402.6 406.1h.95M402.1 406.6h.95M401.6 397.4h.95M402.1 409.4h.95M403.6 408.4h.95M403.0 399.8h.95M402.7 407.2h.95M403.8 403.2h.95M399.7 402.1h.95M402.7 408.9h.95M403.6 404.5h.95M400.9 403.8h.95M400.9 402.2h.95M402.0 395.2h.95M403.7 402.0h.95M401.2 408.2h.95M403.8 394.9h.95M405.2 395.8h.95M402.0 401.5h.95M402.1 392.6h.95M403.6 399.3h.95M403.2 405.6h.95M402.7 405.0h.95M402.9 409.9h.95M404.9 400.1h.95M400.1 396.7h.95M403.6 399.4h.95M401.2 404.4h.95M402.7 409.7h.95M401.4 406.0h.95M403.7 397.1h.95M404.0 403.5h.95M403.4 405.0h.95M401.8 409.8h.95M401.0 399.6h.95M403.0 391.9h.95M400.1 405.2h.95M403.7 411.1h.95M403.8 405.1h.95M401.7 403.1h.95M403.0 405.2h.95M403.0 406.4h.95M404.6 401.6h.95M403.5 398.4h.95M402.3 403.0h.95M401.0 399.8h.95M401.9 398.2h.95M401.4 408.2h.95M403.7 399.2h.95M402.3 400.8h.95M399.4 401.1h.95M404.5 403.2h.95M401.6 402.5h.95M400.3 392.0h.95M401.6 403.5h.95M401.8 401.5h.95M404.2 400.9h.95M401.7 402.0h.95M402.2 401.8h.95M402.3 395.7h.95M405.4 391.0h.95M409.4 386.0h.95M404.1 396.5h.95M403.5 392.7h.95M405.9 396.2h.95M410.8 387.7h.95M405.6 391.5h.95M406.4 390.3h.95M408.9 387.1h.95M412.9 387.5h.95M403.1 397.4h.95M402.5 394.3h.95M407.4 389.7h.95M406.0 394.3h.95M412.2 386.1h.95M406.1 394.5h.95M404.8 393.0h.95M405.0 393.3h.95M404.9 391.5h.95M402.4 394.3h.95M402.1 396.5h.95M408.3 390.8h.95M406.8 390.3h.95M408.5 387.7h.95M406.5 391.7h.95M411.2 386.8h.95M402.2 395.3h.95M404.5 395.0h.95M409.2 389.3h.95M404.0 395.2h.95M401.6 399.0h.95M399.9 397.8h.95M410.3 384.8h.95M406.6 389.9h.95M406.2 391.2h.95M407.0 390.1h.95M407.1 392.3h.95M410.5 387.4h.95M402.5 394.5h.95M409.9 385.7h.95M402.9 393.7h.95M408.7 389.1h.95M403.1 393.9h.95M407.8 388.1h.95M405.3 391.1h.95M404.8 389.5h.95M407.4 388.7h.95M404.1 395.0h.95M408.4 389.3h.95M402.8 398.7h.95M409.7 384.8h.95M410.4 390.1h.95M402.8 394.8h.95M402.4 397.7h.95M408.2 390.0h.95M408.8 385.7h.95M411.5 387.1h.95M409.5 387.0h.95M408.5 387.0h.95M407.9 387.5h.95M406.3 391.1h.95M404.1 392.7h.95M409.9 387.0h.95M404.7 395.1h.95M406.4 389.2h.95M408.8 386.6h.95M401.6 391.5h.95M404.0 397.1h.95M405.5 388.9h.95M406.4 391.8h.95M403.9 393.8h.95M409.6 388.2h.95M402.9 395.8h.95M406.2 392.8h.95M403.5 398.9h.95M400.6 396.6h.95M409.0 389.3h.95M406.0 387.5h.95M406.4 390.9h.95M407.1 389.6h.95M407.6 388.9h.95M402.8 394.8h.95M402.9 395.3h.95M407.2 389.8h.95M405.2 395.0h.95M408.6 387.2h.95M402.8 392.6h.95M405.1 395.1h.95M409.5 389.5h.95M404.2 395.1h.95M401.7 395.9h.95M405.0 390.0h.95M405.7 391.3h.95M408.1 391.8h.95M401.9 393.9h.95M404.5 397.1h.95M407.2 391.0h.95M410.0 386.6h.95M406.8 390.2h.95M403.8 394.0h.95M403.7 392.0h.95M406.2 394.6h.95M403.1 398.8h.95M405.0 392.5h.95M411.2 387.0h.95M406.1 385.0h.95M402.5 393.7h.95M412.4 386.1h.95M404.2 393.8h.95M409.1 388.4h.95M404.2 391.8h.95M407.7 387.8h.95M407.9 389.6h.95M406.9 393.3h.95M408.2 386.9h.95M404.4 396.2h.95M407.8 388.8h.95M405.3 387.3h.95M412.4 387.5h.95M404.7 393.3h.95M406.4 392.8h.95M404.5 397.5h.95M406.2 395.5h.95M406.7 387.9h.95M407.0 389.7h.95M402.5 395.8h.95M406.4 388.7h.95M405.5 393.1h.95M405.0 391.6h.95M405.6 390.1h.95M404.6 389.9h.95M407.2 393.9h.95M406.0 393.1h.95M402.2 392.7h.95M410.4 388.5h.95M402.2 396.0h.95M402.3 390.8h.95M402.4 394.4h.95M406.0 391.1h.95M405.6 392.7h.95M411.5 387.2h.95M411.6 388.4h.95M404.6 396.1h.95M409.5 387.6h.95M406.1 394.4h.95M405.5 391.9h.95M403.2 399.3h.95M406.6 389.9h.95M407.1 390.5h.95M403.5 396.9h.95M403.9 395.6h.95M403.6 391.7h.95M403.3 394.1h.95M403.3 394.4h.95M410.4 385.3h.95M405.9 391.3h.95M409.2 387.6h.95M408.5 389.4h.95M401.9 395.0h.95M403.4 394.7h.95M411.3 387.4h.95M405.6 391.8h.95M407.7 388.5h.95M407.2 389.7h.95M404.9 398.6h.95M403.1 400.5h.95M409.4 389.3h.95M411.1 389.1h.95M401.3 395.4h.95M404.2 390.8h.95M411.5 387.0h.95M403.0 396.5h.95M405.3 395.2h.95M410.9 388.7h.95M405.2 388.0h.95M403.9 396.1h.95M403.7 393.6h.95M404.3 393.9h.95M406.3 391.5h.95M410.6 386.7h.95M403.3 391.0h.95M406.5 392.6h.95M404.0 387.7h.95M409.2 389.4h.95M403.6 394.9h.95M409.1 390.7h.95M407.6 388.2h.95M403.5 392.6h.95M405.4 390.6h.95M402.7 396.0h.95M406.9 391.4h.95M407.6 389.0h.95M407.9 392.0h.95M409.8 388.8h.95M404.5 392.1h.95M403.0 394.9h.95M404.5 394.7h.95M402.8 395.5h.95M402.5 397.4h.95M403.6 395.4h.95M403.8 395.2h.95M404.5 391.3h.95M405.1 388.0h.95M409.1 386.4h.95M404.5 395.5h.95M406.4 390.4h.95M404.5 395.0h.95M406.0 391.3h.95M403.2 393.9h.95M406.7 389.5h.95M407.5 385.7h.95M407.1 395.2h.95M405.9 391.1h.95M407.6 390.2h.95M406.2 392.0h.95M409.5 386.0h.95M405.2 394.2h.95M401.4 396.4h.95M412.6 389.7h.95M408.2 389.9h.95M404.8 394.2h.95M411.2 388.0h.95M410.2 388.7h.95M407.5 389.1h.95M405.5 394.8h.95M407.8 389.7h.95M405.2 391.1h.95M408.1 387.0h.95M405.8 390.8h.95M404.7 390.7h.95M402.7 396.9h.95M411.1 388.2h.95M407.7 388.8h.95M402.9 395.2h.95M409.8 391.1h.95M407.6 390.5h.95M408.0 392.6h.95M402.8 394.1h.95M409.9 388.3h.95M406.3 391.4h.95M404.5 391.6h.95M403.0 394.8h.95M402.6 398.6h.95M405.7 391.9h.95M410.3 389.0h.95M407.7 389.7h.95M403.9 393.3h.95M413.8 385.9h.95M405.7 389.7h.95M410.0 387.2h.95M404.8 394.0h.95M409.2 389.8h.95M403.2 395.8h.95M406.7 389.9h.95M402.7 394.7h.95M411.3 388.7h.95M403.7 391.4h.95M405.4 390.2h.95M404.5 395.8h.95" stroke="#000" stroke-width="0.95" stroke-opacity="0.9"/>
<rect x="377.7" y="370.3" width="65.2" height="54" fill="none" stroke="#444" stroke-width="0.9"/>
<line x1="377.7" y1="369.9" x2="377.7" y2="425.1" stroke="#000" stroke-width="1.3"/>
<line x1="377.2" y1="424.5" x2="443.4" y2="424.5" stroke="#111" stroke-width="1.2"/>
<path d="M376.4 420.3h1.3M376.4 416.3h1.3M376.4 412.3h1.3M375.3 408.3h2.4M376.4 404.3h1.3M376.4 400.3h1.3M376.4 396.3h1.3M375.3 392.3h2.4M376.4 388.3h1.3M376.4 384.3h1.3M376.4 380.3h1.3M375.3 376.3h2.4M376.4 372.3h1.3M381.7 424.3v1.3M385.7 424.3v1.3M389.7 424.3v1.3M393.7 424.3v2.4M397.7 424.3v1.3M401.7 424.3v1.3M405.7 424.3v1.3M409.7 424.3v2.4M413.7 424.3v1.3M417.7 424.3v1.3M421.7 424.3v1.3M425.7 424.3v2.4M429.7 424.3v1.3M433.7 424.3v1.3M437.7 424.3v1.3M441.7 424.3v2.4" stroke="#222" stroke-width="0.6"/>
<path d="M399.6 379.7 L432.9 379.7 L432.9 393.8 L406.7 396.6 L403.7 395.9 L399.6 395.9 Z" fill="none" stroke="#333" stroke-width="0.9"/>
<text x="398" y="387.6" font-size="10.6" text-anchor="end" fill="#111">21</text>
<path d="M508.5 377.7h.75M480.6 403.7h.75M449.1 377.6h.75M462.0 392.6h.75M476.7 413.2h.75M510.5 418.8h.75M454.0 375.3h.75M484.6 398.3h.75M455.9 397.7h.75M508.3 396.2h.75M476.7 388.3h.75M488.4 422.2h.75M486.0 389.0h.75M492.9 399.3h.75M487.3 392.1h.75M454.0 411.4h.75M467.9 373.8h.75M471.6 382.0h.75M494.1 371.5h.75M502.1 402.0h.75M454.4 409.9h.75M474.2 402.5h.75M467.0 378.4h.75M469.5 402.1h.75M511.9 406.2h.75M480.5 410.7h.75M496.9 390.9h.75M450.7 417.5h.75M457.3 379.3h.75M467.7 408.0h.75M475.4 392.7h.75M458.0 412.3h.75M495.8 404.2h.75M506.2 372.3h.75M501.1 412.2h.75M478.8 390.8h.75M511.9 413.0h.75M509.6 372.3h.75M496.2 385.1h.75M460.3 410.4h.75M458.6 397.7h.75M473.1 409.8h.75M471.6 401.9h.75M450.0 390.2h.75M479.4 419.3h.75M461.3 414.1h.75M463.6 411.9h.75M455.5 409.4h.75M462.8 403.8h.75M464.4 396.0h.75M472.2 409.3h.75M476.6 399.9h.75M471.3 401.7h.75M467.6 407.3h.75M470.0 422.6h.75M476.9 408.5h.75M466.4 405.5h.75M478.0 401.4h.75M470.1 400.7h.75M474.7 417.3h.75M466.3 398.7h.75M462.7 394.0h.75M485.1 411.5h.75M471.5 415.6h.75M462.7 414.4h.75M466.9 401.0h.75M464.4 414.1h.75M461.0 416.4h.75M474.2 392.7h.75M459.6 397.5h.75M462.6 399.3h.75M464.5 400.2h.75M477.3 399.0h.75M465.3 395.7h.75M459.1 400.0h.75M464.2 402.3h.75M458.1 404.9h.75M468.1 402.8h.75M477.9 389.8h.75M471.7 403.5h.75M464.5 410.0h.75M469.0 392.4h.75M467.5 418.4h.75M465.8 420.2h.75M480.2 411.9h.75M452.1 413.9h.75M462.0 404.8h.75M467.3 391.9h.75M470.0 406.1h.75M470.8 412.0h.75M456.3 401.9h.75M473.3 400.5h.75M454.7 401.9h.75M482.1 400.2h.75M458.6 403.6h.75M469.3 408.4h.75M468.5 414.3h.75M463.0 402.9h.75M450.6 402.9h.75M476.9 394.0h.75M470.0 396.9h.75M462.9 405.4h.75M473.6 403.6h.75M480.8 406.8h.75M465.4 392.8h.75M466.4 408.4h.75M461.4 402.4h.75M454.5 402.1h.75M456.5 417.1h.75M481.2 388.3h.75M474.2 407.5h.75M465.6 397.5h.75M465.3 400.7h.75M463.5 407.5h.75M461.5 403.6h.75M450.2 403.8h.75M477.2 402.6h.75M463.2 396.9h.75M460.3 396.8h.75M460.2 409.7h.75M464.7 405.5h.75M464.9 393.7h.75M459.3 416.9h.75M465.2 395.7h.75M462.6 404.2h.75M479.2 409.4h.75M463.5 418.8h.75M455.3 413.6h.75M467.7 403.0h.75M470.6 412.8h.75M466.7 405.9h.75M463.1 407.2h.75M478.5 398.2h.75M476.1 407.3h.75M465.3 401.8h.75M471.0 406.3h.75M466.1 401.0h.75M472.8 416.3h.75M456.8 407.8h.75M468.8 408.0h.75M459.0 412.0h.75M453.8 413.6h.75M464.1 391.8h.75M462.1 398.8h.75M461.3 402.0h.75M472.0 400.7h.75M456.5 396.3h.75M465.1 400.8h.75M471.7 407.2h.75M459.4 404.0h.75M464.2 419.4h.75M469.2 409.4h.75M462.3 406.1h.75M470.6 395.0h.75M470.8 401.3h.75M457.2 404.2h.75M469.9 397.9h.75M453.4 389.0h.75M463.0 406.5h.75M464.1 398.9h.75M451.5 383.5h.75M469.2 402.6h.75M480.6 415.4h.75M462.3 410.9h.75M460.0 404.7h.75M461.2 402.2h.75M468.4 387.4h.75M474.7 387.2h.75M466.0 413.1h.75M463.3 406.8h.75M461.5 404.8h.75M468.6 401.4h.75M466.3 410.9h.75M464.0 395.3h.75M462.4 415.6h.75M452.0 397.3h.75M472.7 412.7h.75M465.7 410.5h.75M478.0 399.9h.75M467.3 420.6h.75M467.7 410.1h.75M475.1 396.5h.75M462.5 422.7h.75M463.3 401.4h.75M472.5 401.1h.75M466.5 404.5h.75M471.1 402.7h.75M472.5 397.5h.75M473.3 406.4h.75M449.6 410.2h.75M464.8 401.9h.75M464.6 396.1h.75M470.6 412.0h.75M455.9 407.6h.75M472.6 393.7h.75M454.2 397.5h.75M465.9 398.0h.75M479.0 416.9h.75M465.0 399.5h.75M458.3 402.8h.75M464.2 409.3h.75M465.2 398.7h.75M472.5 408.9h.75M458.8 420.5h.75M466.5 407.7h.75M474.2 402.8h.75M463.5 421.0h.75M458.5 406.5h.75M455.5 405.8h.75M485.3 405.5h.75M456.0 408.5h.75M469.7 393.8h.75M477.2 406.9h.75M460.7 413.8h.75M466.5 401.6h.75M469.2 409.8h.75M475.6 404.6h.75M454.0 399.9h.75M486.1 396.4h.75M473.8 405.0h.75M477.5 405.6h.75M466.5 407.9h.75M449.5 404.7h.75M473.8 410.8h.75M471.0 396.5h.75M480.9 397.5h.75M470.4 408.9h.75M465.1 400.2h.75M455.3 405.3h.75M472.0 409.5h.75M482.4 386.1h.75M462.8 405.4h.75M467.4 407.6h.75M460.1 393.0h.75M457.0 411.6h.75M471.9 405.1h.75M456.6 403.0h.75M466.4 410.8h.75M467.8 395.4h.75M472.0 402.3h.75M457.6 415.0h.75M468.2 394.2h.75M477.3 404.0h.75M459.1 407.0h.75M474.5 401.9h.75M465.7 404.8h.75M457.2 403.2h.75M469.8 400.6h.75M456.9 397.7h.75M467.6 392.3h.75M460.8 405.5h.75M468.1 416.3h.75M476.5 405.5h.75M468.0 399.9h.75M462.9 400.7h.75M476.9 402.4h.75M471.4 402.6h.75M476.9 408.3h.75M476.6 394.1h.75M469.9 403.3h.75M449.9 393.4h.75M462.4 408.7h.75M461.5 392.1h.75M468.1 390.9h.75M483.3 404.0h.75M463.6 398.1h.75M462.8 405.7h.75M459.8 409.5h.75M457.6 417.8h.75M472.8 409.1h.75M461.7 411.4h.75M461.9 395.0h.75M475.4 395.6h.75M467.8 387.3h.75M475.1 400.9h.75M466.1 411.4h.75M458.5 396.5h.75M464.8 404.7h.75M464.4 417.3h.75M464.0 416.7h.75M467.4 405.5h.75M463.1 420.8h.75M460.4 411.6h.75M477.7 386.5h.75M472.1 389.5h.75M458.1 402.9h.75M463.2 407.6h.75M464.8 405.9h.75M458.3 406.8h.75M475.4 406.3h.75M458.7 413.4h.75M500.0 394.3h.75M495.4 396.2h.75M480.7 399.1h.75M499.2 394.5h.75M499.3 394.4h.75M487.2 400.2h.75M501.3 394.0h.75M474.9 400.6h.75M490.9 396.3h.75M481.2 397.6h.75M495.0 394.9h.75M485.8 397.2h.75M478.4 394.8h.75M492.5 399.1h.75M477.4 399.6h.75M476.8 397.9h.75M486.6 399.1h.75M485.2 401.2h.75M490.0 399.1h.75M475.5 396.2h.75M489.9 394.6h.75M499.7 395.8h.75M497.8 395.7h.75M475.9 397.6h.75M487.4 396.7h.75M499.4 392.3h.75M474.2 400.2h.75M495.0 395.5h.75M498.8 396.6h.75M478.9 400.3h.75M485.0 399.3h.75M478.6 399.7h.75M495.5 393.7h.75M493.1 395.5h.75M475.5 397.6h.75M472.3 398.8h.75M486.1 397.7h.75M497.6 395.6h.75M493.0 398.7h.75M489.7 398.3h.75M479.1 395.9h.75M495.9 394.0h.75M484.9 399.7h.75M479.9 397.4h.75M482.1 394.5h.75" stroke="#333" stroke-width="0.75" stroke-opacity="0.85"/>
<path d="M474.4 403.7h.95M475.6 399.0h.95M468.3 397.7h.95M472.4 404.1h.95M467.1 404.7h.95M471.6 401.9h.95M468.6 403.5h.95M468.5 402.3h.95M469.3 399.6h.95M470.3 399.9h.95M467.0 400.2h.95M470.3 400.0h.95M466.1 396.7h.95M468.6 401.1h.95M475.4 396.9h.95M473.2 397.9h.95M470.2 401.8h.95M470.4 398.7h.95M470.7 398.7h.95M466.8 399.9h.95M470.5 397.8h.95M468.1 394.9h.95M472.5 397.4h.95M471.5 401.1h.95M470.6 401.0h.95M471.1 396.0h.95M475.5 405.6h.95M465.0 399.1h.95M469.9 404.8h.95M475.0 400.5h.95M466.3 406.0h.95M468.3 402.2h.95M468.7 399.4h.95M473.8 399.3h.95M471.7 402.6h.95M474.0 394.5h.95M473.4 404.0h.95M470.9 400.2h.95M466.6 396.0h.95M469.4 393.6h.95M471.3 398.1h.95M473.7 398.7h.95M471.5 403.1h.95M475.3 403.7h.95M475.2 403.7h.95M470.7 401.5h.95M470.9 396.4h.95M469.0 398.8h.95M467.9 401.2h.95M474.2 399.9h.95M474.2 399.0h.95M469.4 401.2h.95M467.4 398.1h.95M472.7 401.9h.95M470.9 397.9h.95M474.1 401.3h.95M471.7 398.5h.95M473.0 398.7h.95M471.3 403.4h.95M470.2 403.6h.95M473.5 399.9h.95M469.5 405.1h.95M467.3 402.2h.95M472.4 398.6h.95M470.2 401.7h.95M470.7 399.2h.95M471.8 400.3h.95M475.2 397.8h.95M475.1 392.8h.95M466.5 401.8h.95M470.7 400.2h.95M468.0 397.3h.95M468.9 402.0h.95M471.0 401.0h.95M470.7 401.3h.95M472.5 401.8h.95M467.2 398.0h.95M471.4 407.0h.95M473.6 398.6h.95M472.0 403.7h.95M471.9 401.1h.95M469.9 397.8h.95M474.6 400.1h.95M471.6 394.5h.95M468.3 399.0h.95M470.6 398.9h.95M470.6 401.7h.95M473.3 396.8h.95M469.9 406.5h.95M470.9 402.3h.95M466.5 403.3h.95M467.7 391.5h.95M473.0 395.4h.95M472.5 395.5h.95M465.5 396.0h.95M472.3 396.9h.95M469.8 397.1h.95M466.9 402.5h.95M474.3 397.8h.95M472.4 402.4h.95M462.6 401.0h.95M469.0 402.1h.95M471.1 400.9h.95M468.0 401.8h.95M470.2 399.7h.95M475.9 401.0h.95M470.5 403.6h.95M471.2 398.9h.95M469.9 402.4h.95M467.6 397.1h.95M472.7 398.3h.95M471.7 401.1h.95M469.5 400.8h.95M467.1 404.4h.95M468.6 399.5h.95M465.4 400.8h.95M474.5 402.0h.95M473.0 405.0h.95M473.7 399.3h.95M470.7 404.8h.95M477.2 394.7h.95M472.5 398.9h.95M470.5 407.6h.95M474.8 398.5h.95M471.6 401.4h.95M467.1 394.2h.95M472.3 396.6h.95M469.5 397.4h.95M473.6 398.6h.95M473.7 399.5h.95M462.9 397.9h.95M470.7 397.0h.95M473.1 401.8h.95M469.6 403.3h.95M472.6 402.4h.95M465.8 402.2h.95M466.8 403.4h.95M469.0 396.9h.95M474.9 395.5h.95M471.1 402.7h.95M473.3 402.8h.95M472.2 402.1h.95M473.6 399.8h.95M468.5 400.7h.95M473.1 397.5h.95M465.8 398.3h.95M470.7 400.9h.95M475.6 399.2h.95M473.2 395.3h.95M469.8 399.6h.95M469.8 405.0h.95M471.3 404.2h.95M464.3 401.4h.95M472.3 397.9h.95M471.6 403.8h.95M470.6 399.5h.95M469.3 399.8h.95M466.8 403.4h.95M472.0 400.2h.95M467.6 402.1h.95M476.5 400.8h.95M471.9 399.0h.95M473.1 396.3h.95M472.7 402.3h.95M469.3 399.4h.95M470.8 403.4h.95M472.8 401.5h.95M469.0 399.1h.95M466.2 396.8h.95M468.1 399.6h.95M471.4 394.0h.95M472.0 405.6h.95M476.9 399.4h.95M469.7 406.7h.95M468.4 401.9h.95M467.2 404.5h.95M470.4 398.7h.95M467.9 403.1h.95M474.1 397.9h.95M470.8 397.7h.95M474.3 398.4h.95M469.9 398.1h.95M469.4 398.2h.95M464.1 401.7h.95M468.9 400.1h.95M468.7 400.5h.95M471.3 398.3h.95M471.7 397.0h.95M467.0 400.6h.95M474.2 401.5h.95M470.0 402.9h.95M471.1 404.5h.95M471.7 400.2h.95M469.9 401.6h.95M466.8 397.0h.95M471.0 405.9h.95M467.3 401.0h.95M468.3 394.0h.95M478.4 401.0h.95M467.4 394.1h.95M473.3 397.2h.95M469.7 398.1h.95M470.8 403.6h.95M470.6 400.5h.95M472.6 400.3h.95M473.8 401.1h.95M469.1 403.0h.95M472.2 403.6h.95M470.6 400.4h.95M469.7 403.3h.95M472.7 400.1h.95M473.3 398.4h.95M468.2 401.8h.95M468.8 399.0h.95M469.3 395.7h.95M473.6 399.5h.95M470.0 398.9h.95M466.2 397.0h.95M470.5 401.5h.95M472.5 401.4h.95M467.3 401.5h.95M462.7 402.4h.95M467.5 395.6h.95M469.8 402.4h.95M470.5 400.1h.95M471.4 397.7h.95M471.8 396.8h.95M472.4 399.2h.95M478.5 400.8h.95M467.1 400.8h.95M473.7 402.1h.95M465.9 400.6h.95M472.9 396.0h.95M471.2 400.5h.95M467.2 402.5h.95M473.2 400.0h.95M474.2 395.8h.95M466.9 398.6h.95M472.9 396.3h.95M471.6 399.8h.95M471.5 399.7h.95M469.6 397.9h.95M466.7 397.0h.95M468.4 403.1h.95M472.6 397.0h.95M468.4 397.3h.95M471.8 400.7h.95M465.6 400.2h.95M474.1 403.6h.95M469.1 401.1h.95M473.2 396.3h.95M472.7 395.6h.95M475.2 391.9h.95M471.7 399.8h.95M472.6 403.9h.95M468.5 401.8h.95M472.8 400.1h.95M463.4 401.0h.95M471.0 396.2h.95M469.5 405.7h.95M463.7 401.4h.95M468.0 401.4h.95M464.6 400.8h.95M472.6 396.5h.95M471.9 401.4h.95M466.8 403.0h.95M468.3 401.7h.95M470.2 400.3h.95M472.7 398.6h.95M476.5 401.7h.95M469.1 396.9h.95M471.1 399.3h.95M474.0 401.9h.95M468.1 396.9h.95M468.3 395.6h.95M468.8 398.9h.95M470.5 402.8h.95M468.3 401.0h.95M468.2 397.5h.95M467.9 402.1h.95M472.7 389.2h.95M470.5 401.4h.95M471.7 395.1h.95M472.0 397.8h.95M472.1 402.6h.95M472.4 399.0h.95M470.8 397.5h.95M471.2 400.2h.95M469.9 398.1h.95M472.1 396.7h.95M462.5 400.8h.95M466.9 399.5h.95M470.3 397.8h.95M467.7 394.2h.95M473.4 401.4h.95M469.7 396.1h.95M471.5 402.5h.95M467.7 395.5h.95M465.7 400.2h.95M468.0 395.8h.95M473.2 400.3h.95M469.9 400.5h.95M473.2 397.5h.95M471.9 399.8h.95M465.5 399.5h.95M469.8 404.0h.95M475.5 398.5h.95M469.9 403.5h.95M467.8 401.4h.95M473.8 405.5h.95M467.3 396.0h.95M470.8 399.2h.95M469.2 401.1h.95M467.1 404.1h.95M471.1 399.8h.95M471.1 399.6h.95M475.5 403.7h.95M472.3 403.8h.95M471.5 399.6h.95M472.9 398.6h.95M475.2 397.6h.95M467.2 399.1h.95M469.5 400.3h.95M469.1 396.7h.95M472.5 403.0h.95M469.3 403.0h.95M470.0 398.1h.95M470.1 400.7h.95M472.4 395.1h.95M473.4 401.6h.95" stroke="#000" stroke-width="0.95" stroke-opacity="0.9"/>
<rect x="448.1" y="370.3" width="65.2" height="54" fill="none" stroke="#444" stroke-width="0.9"/>
<line x1="448.1" y1="369.9" x2="448.1" y2="425.1" stroke="#000" stroke-width="1.3"/>
<line x1="447.6" y1="424.5" x2="513.8" y2="424.5" stroke="#111" stroke-width="1.2"/>
<path d="M446.8 420.3h1.3M446.8 416.3h1.3M446.8 412.3h1.3M445.7 408.3h2.4M446.8 404.3h1.3M446.8 400.3h1.3M446.8 396.3h1.3M445.7 392.3h2.4M446.8 388.3h1.3M446.8 384.3h1.3M446.8 380.3h1.3M445.7 376.3h2.4M446.8 372.3h1.3M452.1 424.3v1.3M456.1 424.3v1.3M460.1 424.3v1.3M464.1 424.3v2.4M468.1 424.3v1.3M472.1 424.3v1.3M476.1 424.3v1.3M480.1 424.3v2.4M484.1 424.3v1.3M488.1 424.3v1.3M492.1 424.3v1.3M496.1 424.3v2.4M500.1 424.3v1.3M504.1 424.3v1.3M508.1 424.3v1.3M512.1 424.3v2.4" stroke="#222" stroke-width="0.6"/>
<path d="M470 379.7 L503.3 379.7 L503.3 393.8 L477.1 396.6 L474.1 395.9 L470 395.9 Z" fill="none" stroke="#333" stroke-width="0.9"/>
<text x="468.4" y="387.6" font-size="10.6" text-anchor="end" fill="#111">6</text>
<path d="M314.4 480.3h.75M360.9 461.8h.75M345.2 461.9h.75M360.9 468.3h.75M359.4 470.0h.75M347.7 483.9h.75M340.5 446.3h.75M356.8 473.8h.75M318.6 458.5h.75M313.4 474.0h.75M350.3 470.0h.75M318.2 439.9h.75M337.9 457.0h.75M318.7 482.0h.75M344.0 455.2h.75M348.2 443.5h.75M352.3 439.7h.75M340.2 467.6h.75M327.5 484.8h.75M315.4 445.2h.75M354.9 452.5h.75M327.2 460.6h.75M324.4 439.1h.75M323.1 453.1h.75M324.2 434.9h.75M354.2 480.9h.75M312.3 472.4h.75M348.3 474.1h.75M355.7 453.1h.75M324.5 477.3h.75M350.2 456.9h.75M331.9 465.5h.75M311.2 439.9h.75M340.5 464.8h.75M350.8 436.8h.75M353.4 435.9h.75M318.0 463.2h.75M319.8 463.1h.75M314.1 463.5h.75M308.9 465.3h.75M318.6 456.4h.75M311.6 465.6h.75M317.8 460.6h.75M317.2 465.7h.75M326.5 461.8h.75M309.2 459.1h.75M314.9 466.9h.75M326.9 466.5h.75M315.5 470.0h.75M317.8 457.3h.75M319.3 476.5h.75M320.3 460.2h.75M324.8 459.7h.75M327.1 468.6h.75M312.8 461.9h.75M318.3 459.6h.75M322.5 462.9h.75M330.4 466.0h.75M326.0 470.1h.75M323.0 469.2h.75M316.4 470.3h.75M326.2 470.7h.75M317.2 461.1h.75M327.2 463.9h.75M335.3 467.4h.75M313.7 468.2h.75M321.9 453.1h.75M317.0 451.3h.75M335.8 457.4h.75M315.6 462.4h.75M315.8 471.6h.75M318.9 456.0h.75M324.9 466.4h.75M312.2 469.9h.75M312.7 459.0h.75M329.0 461.4h.75M320.8 459.4h.75M318.7 452.3h.75M318.7 459.7h.75M325.9 461.7h.75M315.5 461.5h.75M309.3 466.7h.75M310.1 457.0h.75M322.0 462.4h.75M332.3 456.1h.75M322.5 474.9h.75M316.7 456.6h.75M326.4 475.3h.75M315.9 469.3h.75M324.4 465.0h.75M325.3 462.7h.75M324.2 462.8h.75M319.5 457.9h.75M320.2 463.7h.75M315.2 460.0h.75M318.2 472.6h.75M334.1 459.0h.75M348.2 459.6h.75M355.2 459.0h.75M329.9 457.2h.75M349.8 457.2h.75M351.0 456.6h.75M339.2 459.9h.75M332.8 457.5h.75M340.5 458.7h.75M338.8 458.5h.75M336.1 458.2h.75M330.2 458.8h.75M339.6 458.8h.75M352.5 457.6h.75M334.0 459.1h.75M341.6 456.9h.75M354.5 457.1h.75M336.4 460.0h.75M354.9 455.6h.75M335.1 458.6h.75M346.1 457.3h.75M334.3 458.7h.75M333.4 459.9h.75M339.6 459.0h.75M351.1 456.8h.75M351.6 457.5h.75M343.7 459.2h.75M331.3 459.3h.75M351.0 456.4h.75M330.8 461.0h.75" stroke="#333" stroke-width="0.75" stroke-opacity="0.85"/>
<path d="M354.4 459.3h.9M353.1 459.0h.9M355.4 460.0h.9M351.8 458.5h.9M353.9 456.6h.9M352.6 457.5h.9M354.8 458.3h.9M356.7 459.0h.9M352.5 458.6h.9M353.4 457.0h.9M353.9 456.2h.9M353.6 457.5h.9M353.4 457.2h.9M356.3 457.2h.9M354.6 458.3h.9M355.3 457.2h.9M351.0 459.2h.9M355.1 459.2h.9M346.6 460.7h.9M355.8 458.3h.9M351.7 459.0h.9M350.3 457.8h.9M354.3 460.2h.9M352.6 457.9h.9M350.9 458.0h.9M352.0 458.2h.9M351.9 458.9h.9M353.1 457.2h.9M354.3 459.0h.9M352.8 457.9h.9M354.7 458.9h.9M353.0 461.0h.9M352.4 456.3h.9M352.1 458.5h.9M350.2 461.0h.9M354.8 456.8h.9M353.9 456.4h.9M353.2 457.9h.9M355.9 455.5h.9M352.4 455.5h.9" stroke="#000" stroke-width="0.9" stroke-opacity="0.55"/>
<path d="M327.1 469.4h.95M326.9 455.0h.95M329.1 457.4h.95M326.5 469.0h.95M327.1 469.6h.95M325.9 473.4h.95M327.7 456.7h.95M327.7 462.5h.95M328.4 460.9h.95M328.1 458.3h.95M326.0 463.3h.95M328.5 460.4h.95M326.7 468.7h.95M323.1 470.4h.95M326.2 464.7h.95M329.6 463.8h.95M327.3 469.3h.95M328.5 469.3h.95M325.4 465.4h.95M324.4 458.3h.95M326.0 462.4h.95M325.7 460.4h.95M329.5 458.3h.95M327.6 458.4h.95M327.2 460.2h.95M324.2 454.9h.95M328.0 469.3h.95M326.0 463.0h.95M327.4 457.1h.95M326.7 476.8h.95M326.1 456.6h.95M325.5 463.8h.95M325.5 471.3h.95M327.6 461.4h.95M326.9 461.9h.95M324.8 470.4h.95M326.3 461.3h.95M328.8 462.7h.95M328.8 452.4h.95M327.8 459.0h.95M325.6 467.7h.95M329.9 454.0h.95M328.7 462.6h.95M325.4 468.3h.95M326.4 461.3h.95M326.1 462.8h.95M325.3 468.5h.95M329.4 460.0h.95M325.4 463.1h.95M325.2 464.1h.95M326.7 463.8h.95M325.2 465.0h.95M324.5 462.0h.95M326.2 464.0h.95M327.8 463.1h.95M324.7 465.5h.95M326.0 467.2h.95M328.7 470.6h.95M326.6 459.5h.95M326.8 463.0h.95M325.6 457.0h.95M328.5 459.6h.95M327.8 468.5h.95M324.8 465.5h.95M326.7 457.4h.95M325.4 464.3h.95M328.2 460.7h.95M325.8 468.3h.95M325.9 460.8h.95M323.8 465.5h.95M325.5 459.5h.95M325.9 460.4h.95M331.3 461.6h.95M328.0 458.2h.95M327.7 465.4h.95M325.2 473.5h.95M325.2 458.9h.95M322.4 453.3h.95M325.3 463.4h.95M327.7 463.5h.95M325.4 459.4h.95M329.2 461.9h.95M329.3 463.5h.95M325.9 462.1h.95M327.0 467.3h.95M325.7 465.9h.95M324.8 456.5h.95M324.0 461.5h.95M325.2 466.8h.95M326.0 461.8h.95M326.3 457.3h.95M323.9 472.0h.95M327.7 457.5h.95M324.3 465.2h.95M323.5 453.5h.95M325.8 461.2h.95M327.9 459.1h.95M324.2 465.5h.95M324.8 464.3h.95M323.5 461.9h.95M329.7 457.7h.95M326.3 463.2h.95M326.7 463.1h.95M327.8 460.9h.95M324.8 464.5h.95M327.3 455.9h.95M327.7 462.1h.95M328.0 463.8h.95M324.5 462.0h.95M327.2 468.3h.95M326.0 466.5h.95M328.5 465.1h.95M328.6 466.7h.95M325.2 458.2h.95M324.6 471.1h.95M328.5 459.9h.95M325.8 472.8h.95M325.1 463.7h.95M325.6 467.5h.95M323.3 465.0h.95M326.4 468.8h.95M327.0 465.5h.95M324.8 464.9h.95M325.1 471.6h.95M326.9 464.0h.95M326.6 464.1h.95M325.6 466.6h.95M326.6 459.9h.95M327.7 467.2h.95M328.3 462.1h.95M327.5 470.5h.95M327.4 465.6h.95M326.8 457.0h.95M324.8 463.4h.95M328.0 466.2h.95M325.5 464.7h.95M326.4 460.6h.95M326.1 467.5h.95M324.7 461.9h.95M326.6 459.4h.95M324.8 465.7h.95M329.8 464.4h.95M325.2 470.7h.95M327.2 455.6h.95M326.1 455.3h.95M325.5 470.2h.95M328.8 478.4h.95M328.1 462.5h.95M325.5 462.1h.95M324.9 459.7h.95M327.0 464.5h.95M326.8 463.2h.95M323.9 466.2h.95M326.2 467.4h.95M326.9 459.5h.95M327.7 467.4h.95M325.8 467.0h.95M327.3 461.9h.95M327.0 460.6h.95M328.7 462.1h.95M327.5 471.8h.95M326.4 466.8h.95M329.3 455.9h.95M329.7 466.7h.95M324.5 464.5h.95M329.8 464.6h.95M328.4 468.7h.95M325.3 465.4h.95M329.4 460.7h.95M326.7 461.5h.95M325.6 463.0h.95M323.2 460.9h.95M324.0 459.6h.95M325.2 468.4h.95M324.5 467.6h.95M326.0 460.5h.95M323.7 464.4h.95M326.1 467.3h.95M326.0 454.8h.95M327.0 469.8h.95M326.4 464.5h.95M327.2 465.1h.95M330.6 463.7h.95M327.0 467.9h.95M327.7 456.6h.95M327.2 462.5h.95M324.6 467.9h.95M325.3 465.6h.95M325.2 466.5h.95M328.8 460.4h.95M324.9 467.9h.95M324.7 468.5h.95M327.3 460.0h.95M325.2 469.6h.95M327.7 464.7h.95M326.5 468.7h.95M325.4 465.4h.95M326.8 469.8h.95M325.9 463.1h.95M326.9 463.1h.95M325.9 466.4h.95M325.7 462.7h.95M326.8 464.5h.95M325.9 463.6h.95M324.7 460.6h.95M325.6 459.2h.95M328.3 473.3h.95M326.1 463.6h.95M326.3 462.4h.95M325.3 467.9h.95M327.6 458.4h.95M327.0 460.4h.95M327.6 460.7h.95M327.1 460.8h.95M326.0 465.5h.95M327.9 458.1h.95M325.8 460.4h.95M323.7 464.9h.95M326.2 462.7h.95M324.7 471.6h.95M325.7 452.6h.95M325.8 465.2h.95M324.7 463.3h.95M322.8 462.6h.95M326.8 459.9h.95M325.0 459.3h.95M325.3 468.5h.95M326.7 461.3h.95M325.4 467.3h.95M325.6 460.0h.95M327.6 464.0h.95M328.6 463.0h.95M325.8 465.8h.95M326.7 464.1h.95M325.1 461.0h.95M325.3 461.7h.95M328.7 460.1h.95M327.0 465.9h.95M323.7 468.2h.95M326.7 465.6h.95M326.5 468.2h.95M327.2 461.1h.95M325.6 460.2h.95M325.4 460.2h.95M326.5 468.1h.95M325.8 468.3h.95M328.0 467.0h.95M324.5 452.6h.95M328.0 466.1h.95M324.4 460.6h.95M326.8 463.9h.95M324.4 463.6h.95M324.1 462.7h.95M327.3 465.1h.95M325.3 466.6h.95M329.6 462.9h.95M327.0 457.7h.95M328.1 457.0h.95M325.8 467.8h.95M328.2 449.9h.95M325.8 453.4h.95M326.3 457.5h.95M329.7 469.2h.95M324.9 462.5h.95M326.3 468.1h.95M328.5 466.9h.95M325.2 450.1h.95M324.3 458.7h.95M328.0 458.2h.95M328.3 467.4h.95M326.3 467.5h.95M325.0 468.3h.95M326.7 461.3h.95M325.7 454.8h.95M325.8 466.1h.95M325.9 461.9h.95M328.4 476.5h.95M323.9 469.1h.95M326.4 463.8h.95M325.2 462.6h.95M326.8 465.7h.95M325.6 461.5h.95M327.1 470.4h.95M325.6 466.1h.95M327.5 465.5h.95M324.9 463.9h.95M326.8 459.0h.95M326.5 463.8h.95M324.9 470.9h.95M327.1 460.2h.95M328.4 462.7h.95M325.1 458.6h.95M328.4 458.8h.95M326.8 465.9h.95M325.3 467.0h.95M328.1 463.7h.95M326.3 466.8h.95M326.2 469.6h.95M327.6 464.3h.95M326.9 462.2h.95M327.7 460.8h.95M326.7 458.4h.95M330.2 465.4h.95M326.4 465.9h.95M323.4 470.0h.95M323.6 466.4h.95M325.6 467.1h.95M327.4 465.0h.95M328.1 462.6h.95M326.9 462.5h.95M325.6 459.1h.95M326.6 471.3h.95M325.2 461.6h.95M325.2 465.5h.95M323.2 464.4h.95M325.5 459.4h.95M326.8 464.7h.95M326.6 469.2h.95M323.9 468.6h.95M326.7 474.5h.95M328.5 466.2h.95M323.3 464.8h.95M328.7 467.6h.95M326.6 458.5h.95M326.9 457.5h.95M325.3 462.0h.95M327.3 461.1h.95M326.3 463.7h.95M326.7 466.5h.95M327.3 462.7h.95M326.9 461.1h.95M324.6 461.2h.95M326.9 455.0h.95M327.6 465.5h.95M324.2 459.2h.95M325.6 453.8h.95M323.5 465.5h.95M322.6 473.3h.95M328.3 470.8h.95M326.9 469.0h.95M328.8 459.7h.95M329.2 460.5h.95M326.6 452.3h.95M326.4 456.3h.95M330.0 465.7h.95M328.0 461.8h.95M327.8 466.3h.95M325.7 466.2h.95M326.1 458.1h.95M323.6 456.5h.95M326.9 472.5h.95M325.8 461.1h.95M328.6 463.3h.95M327.0 463.9h.95M322.9 457.6h.95M326.9 464.3h.95M326.3 457.9h.95M326.7 462.6h.95M324.9 462.7h.95M326.3 473.3h.95M328.5 459.9h.95M328.1 457.0h.95M322.8 460.1h.95M329.4 467.3h.95M325.2 465.5h.95M323.1 462.7h.95M325.2 458.2h.95M326.0 460.2h.95M327.3 458.3h.95M326.9 465.8h.95M327.6 466.7h.95M327.3 468.5h.95M328.2 468.7h.95M328.7 458.1h.95M325.6 470.3h.95M325.3 467.0h.95M327.8 469.9h.95M325.4 464.8h.95M326.0 466.7h.95M323.3 463.3h.95M328.4 463.9h.95M327.7 470.3h.95M326.8 462.0h.95M325.8 458.4h.95M325.8 462.9h.95M328.2 460.9h.95M325.3 463.5h.95M325.7 469.4h.95M326.1 470.1h.95M327.3 452.2h.95M326.4 458.8h.95M326.7 459.7h.95M328.0 462.7h.95M325.3 473.1h.95M326.0 461.7h.95M325.7 467.1h.95M326.8 464.0h.95M328.5 461.3h.95M327.4 467.6h.95M327.1 461.6h.95M325.9 468.8h.95M321.6 470.3h.95M324.7 467.9h.95M327.2 465.8h.95M327.4 461.7h.95M329.1 464.2h.95M327.8 463.0h.95M325.6 468.6h.95M324.9 463.6h.95M325.5 456.6h.95M328.0 464.0h.95M323.5 463.3h.95M330.0 468.8h.95M326.0 465.4h.95M325.9 464.8h.95M326.2 464.7h.95M325.5 467.6h.95M325.0 456.1h.95M323.9 460.6h.95M326.5 466.4h.95M328.1 457.1h.95M323.7 466.5h.95M329.2 466.8h.95M326.0 468.4h.95M328.9 468.4h.95M326.9 462.5h.95M325.7 461.8h.95M324.4 465.3h.95M328.2 462.6h.95M327.5 466.9h.95M326.3 463.6h.95M329.1 460.6h.95M325.4 461.9h.95M325.1 466.3h.95M327.5 462.7h.95M328.0 455.9h.95M326.0 474.4h.95M328.3 459.4h.95M328.1 461.0h.95M327.3 467.0h.95M323.6 471.9h.95M324.3 461.7h.95M327.4 466.7h.95M326.9 462.4h.95M327.7 465.6h.95M325.6 468.8h.95M329.2 461.4h.95M326.1 459.1h.95M324.4 464.6h.95M328.4 457.6h.95M326.0 465.3h.95M325.3 467.7h.95M327.5 463.7h.95M328.3 465.6h.95M328.1 466.7h.95M325.6 470.6h.95M325.3 465.5h.95M326.2 460.2h.95M324.0 469.0h.95M328.4 468.9h.95M323.1 466.6h.95M326.5 466.6h.95M326.7 466.6h.95M326.9 468.8h.95M326.9 461.5h.95M322.8 465.1h.95M323.2 461.1h.95M326.5 463.3h.95M324.8 471.7h.95M323.8 469.2h.95M326.0 463.3h.95M326.4 466.0h.95M323.5 466.0h.95M326.2 463.8h.95M326.5 463.4h.95M328.5 460.1h.95M325.1 466.1h.95M325.9 468.0h.95M321.9 462.5h.95M326.1 471.8h.95M328.4 459.9h.95M328.4 460.3h.95M327.1 462.3h.95M324.0 467.4h.95M327.5 462.5h.95M325.3 460.4h.95M325.9 468.8h.95M325.7 463.6h.95M326.1 458.4h.95M326.0 461.0h.95M328.3 464.8h.95M328.6 463.7h.95M326.4 470.1h.95M327.2 464.3h.95M327.2 465.5h.95M328.5 461.3h.95M325.9 459.9h.95M328.2 466.9h.95M325.8 466.4h.95M329.3 467.6h.95M326.6 459.7h.95M326.7 475.5h.95M328.5 462.7h.95M323.7 468.1h.95M325.2 462.0h.95M330.1 462.3h.95M325.4 475.6h.95M329.8 453.6h.95M327.8 462.9h.95M326.9 461.2h.95M326.8 466.8h.95M325.8 467.4h.95M328.0 458.8h.95M329.3 464.8h.95M327.5 470.3h.95M325.8 474.6h.95M325.3 459.1h.95M325.4 472.0h.95M328.8 467.7h.95M325.0 462.1h.95M326.1 464.3h.95M324.6 463.9h.95M325.6 465.8h.95M325.0 461.4h.95M326.5 466.8h.95M326.5 464.6h.95M326.4 461.1h.95M326.0 460.0h.95M327.2 465.7h.95M326.4 460.0h.95M325.8 463.1h.95M328.2 462.4h.95M327.0 461.0h.95M327.6 462.7h.95M325.6 455.3h.95M326.0 462.2h.95M328.7 458.4h.95M325.8 458.3h.95M327.6 465.1h.95M325.7 466.5h.95M326.8 461.7h.95M326.2 466.4h.95M327.5 471.6h.95M326.9 464.1h.95M326.8 460.2h.95M326.0 466.3h.95M325.9 462.5h.95M324.2 466.3h.95M328.1 463.9h.95M326.7 464.7h.95M326.6 462.9h.95M327.4 473.7h.95M328.0 465.2h.95M326.2 458.4h.95M328.1 463.0h.95M327.5 461.6h.95M321.9 472.7h.95M324.3 466.3h.95M328.7 456.7h.95M326.8 463.4h.95M323.5 471.3h.95M325.5 466.1h.95M326.0 472.1h.95M325.1 462.0h.95M326.7 467.0h.95M326.1 468.8h.95M328.2 465.7h.95M324.5 459.6h.95M324.0 461.6h.95M327.5 471.0h.95M326.5 467.7h.95M325.9 462.5h.95M328.0 456.7h.95M326.4 460.0h.95M326.7 466.4h.95M326.4 469.8h.95M326.3 469.3h.95M327.4 455.0h.95M326.6 460.0h.95M326.5 453.4h.95M326.1 462.3h.95M324.7 462.7h.95M327.7 464.2h.95M327.8 460.0h.95M329.4 460.0h.95M324.4 464.6h.95M327.0 469.6h.95M327.4 468.1h.95M323.9 464.5h.95M326.0 454.4h.95M329.1 458.8h.95M327.2 467.6h.95M326.2 459.5h.95M328.6 464.0h.95M326.7 464.4h.95M326.8 466.5h.95M326.5 468.1h.95M326.7 457.9h.95M325.0 466.2h.95M324.9 464.7h.95M327.8 461.1h.95M326.7 458.3h.95M324.3 465.8h.95M327.1 459.0h.95M325.9 460.8h.95M326.1 461.0h.95M325.0 473.5h.95M326.0 458.0h.95M325.5 469.1h.95M325.9 466.7h.95M326.0 462.0h.95M328.7 465.1h.95M325.3 466.8h.95M324.6 457.2h.95M326.1 461.9h.95M326.9 458.4h.95M327.2 463.0h.95M325.9 465.2h.95M325.6 468.3h.95M325.0 465.0h.95M326.8 453.9h.95M325.0 461.5h.95M327.5 458.2h.95M325.6 461.6h.95M324.3 461.3h.95M327.7 467.9h.95M325.0 460.3h.95M325.8 454.4h.95M330.2 460.7h.95M327.0 461.6h.95M326.3 457.1h.95M324.7 462.9h.95M325.1 466.6h.95M325.4 465.4h.95M327.5 458.6h.95M328.4 463.0h.95M330.4 461.5h.95M327.8 467.0h.95M324.4 456.8h.95M323.8 467.2h.95M326.2 467.8h.95M324.4 467.0h.95M326.2 466.3h.95M327.4 464.3h.95M328.9 457.8h.95M325.5 468.2h.95M324.6 466.9h.95M326.4 465.0h.95M322.8 459.7h.95M327.8 458.7h.95M327.5 466.9h.95M321.7 464.0h.95M324.9 459.0h.95M323.8 464.9h.95M327.7 474.8h.95M328.8 461.8h.95M323.5 468.2h.95M327.6 464.1h.95M324.5 458.4h.95M325.6 470.3h.95M329.1 459.8h.95M323.6 463.1h.95M327.9 460.5h.95M326.3 467.7h.95M323.2 471.5h.95M328.6 464.2h.95M326.7 466.2h.95M325.0 467.0h.95M326.7 460.5h.95M326.3 462.5h.95M325.4 466.8h.95M327.4 468.0h.95M325.5 466.6h.95M325.5 471.1h.95M324.4 468.2h.95M326.0 456.2h.95M327.9 458.1h.95M325.0 463.4h.95M327.1 463.3h.95M326.9 465.0h.95M323.4 469.0h.95M328.8 461.4h.95M327.6 462.6h.95M325.1 462.5h.95M323.4 460.8h.95M327.2 468.2h.95M327.1 464.9h.95M325.1 467.9h.95M329.3 465.5h.95M329.1 464.5h.95M325.8 467.7h.95M326.6 462.8h.95M325.5 464.3h.95M326.8 456.8h.95M326.7 471.3h.95M326.8 465.9h.95M327.0 467.7h.95M327.7 462.5h.95M324.5 465.7h.95M327.2 461.5h.95M325.8 465.8h.95M329.0 461.4h.95M324.9 463.7h.95M325.3 461.6h.95M324.6 468.8h.95M327.1 464.6h.95M328.1 477.7h.95M327.1 467.6h.95M324.7 466.2h.95M325.8 457.3h.95M327.2 461.4h.95M328.8 462.8h.95M326.2 460.1h.95M326.2 463.5h.95M327.6 460.6h.95M325.5 459.2h.95M325.4 462.0h.95M326.3 461.0h.95M328.0 460.8h.95M326.8 463.2h.95M327.0 464.2h.95M325.7 463.7h.95M325.6 463.2h.95M328.0 467.6h.95M328.7 460.4h.95M328.2 465.8h.95M327.5 462.7h.95M329.4 460.2h.95M327.1 458.1h.95M325.9 465.5h.95M326.7 465.1h.95M328.7 459.5h.95M323.4 468.1h.95M324.1 462.4h.95M329.9 467.2h.95M326.0 467.8h.95M324.9 466.9h.95M326.0 460.9h.95M325.0 461.2h.95M326.3 471.6h.95M327.6 467.9h.95M325.8 471.1h.95M325.9 470.0h.95M324.3 466.3h.95M324.8 462.4h.95M326.6 456.1h.95M327.0 464.2h.95M323.8 463.2h.95M326.6 457.1h.95M325.1 468.2h.95" stroke="#000" stroke-width="0.95" stroke-opacity="0.9"/>
<rect x="302.7" y="432.7" width="65.2" height="54" fill="none" stroke="#444" stroke-width="0.9"/>
<line x1="302.7" y1="432.3" x2="302.7" y2="487.5" stroke="#000" stroke-width="1.3"/>
<line x1="302.2" y1="486.5" x2="368.4" y2="486.5" stroke="#111" stroke-width="1.2"/>
<path d="M301.4 482.7h1.3M301.4 478.7h1.3M301.4 474.7h1.3M300.3 470.7h2.4M301.4 466.7h1.3M301.4 462.7h1.3M301.4 458.7h1.3M300.3 454.7h2.4M301.4 450.7h1.3M301.4 446.7h1.3M301.4 442.7h1.3M300.3 438.7h2.4M301.4 434.7h1.3M306.7 486.7v1.3M310.7 486.7v1.3M314.7 486.7v1.3M318.7 486.7v2.4M322.7 486.7v1.3M326.7 486.7v1.3M330.7 486.7v1.3M334.7 486.7v2.4M338.7 486.7v1.3M342.7 486.7v1.3M346.7 486.7v1.3M350.7 486.7v2.4M354.7 486.7v1.3M358.7 486.7v1.3M362.7 486.7v1.3M366.7 486.7v2.4" stroke="#222" stroke-width="0.6"/>
<path d="M324.6 442.1 L357.9 442.1 L357.9 456.2 L331.7 459 L328.7 458.3 L324.6 458.3 Z" fill="none" stroke="#333" stroke-width="0.9"/>
<text x="323" y="450" font-size="10.6" text-anchor="end" fill="#111">6</text>
<path d="M415.8 440.6h.75M393.7 454.1h.75M415.5 454.9h.75M409.6 452.0h.75M416.8 465.3h.75M422.6 470.2h.75M440.3 475.5h.75M433.8 435.4h.75M424.8 447.0h.75M434.2 441.0h.75M401.4 460.7h.75M380.3 469.7h.75M436.7 441.1h.75M392.0 444.5h.75M393.4 462.9h.75M379.1 466.2h.75M428.9 448.3h.75M420.0 446.2h.75M422.3 451.4h.75M384.8 438.6h.75M394.7 471.0h.75M440.3 434.3h.75M429.4 441.5h.75M433.5 458.2h.75M393.9 477.9h.75M428.9 455.4h.75M401.7 470.4h.75M402.5 483.8h.75M439.1 464.9h.75M431.4 439.4h.75M405.5 454.1h.75M402.5 450.1h.75M431.3 443.4h.75M419.4 434.6h.75M437.0 465.4h.75M392.2 453.9h.75M434.2 440.1h.75M412.3 458.4h.75M401.1 479.1h.75M396.8 472.7h.75M393.4 475.6h.75M389.3 458.4h.75M394.2 480.7h.75M401.4 480.0h.75M403.7 457.0h.75M399.6 469.6h.75M396.2 473.5h.75M403.7 465.8h.75M396.6 459.9h.75M414.3 477.4h.75M399.6 470.1h.75M400.5 468.3h.75M398.6 466.0h.75M399.0 461.9h.75M395.9 479.6h.75M405.9 476.2h.75M410.5 465.0h.75M398.4 470.8h.75M400.6 464.3h.75M393.6 473.8h.75M402.8 458.2h.75M394.1 466.9h.75M396.5 455.9h.75M401.9 459.7h.75M399.9 459.7h.75M403.9 474.6h.75M402.6 467.9h.75M404.9 466.6h.75M413.8 460.7h.75M393.1 479.4h.75M409.1 461.0h.75M397.6 474.2h.75M395.2 456.8h.75M405.0 462.8h.75M399.0 464.3h.75M402.5 462.1h.75M399.1 465.5h.75M393.7 471.2h.75M392.1 467.5h.75M410.9 465.7h.75M397.8 468.4h.75M402.4 479.0h.75M397.7 458.3h.75M399.0 462.0h.75M392.7 467.9h.75M395.9 473.6h.75M404.9 473.1h.75M394.8 459.7h.75M401.9 453.4h.75M395.2 460.7h.75M395.7 471.5h.75M401.3 465.6h.75M403.0 472.0h.75M402.8 476.1h.75M408.2 464.4h.75M392.4 464.2h.75M394.0 472.2h.75M398.0 460.6h.75M400.3 471.1h.75M407.0 468.3h.75M397.7 462.6h.75M393.3 463.1h.75M401.4 469.6h.75M400.9 451.1h.75M397.2 475.7h.75M392.6 470.2h.75M396.1 474.3h.75M401.9 471.1h.75M402.9 474.0h.75M393.5 460.6h.75M396.1 475.9h.75M386.8 473.5h.75M397.3 469.7h.75M394.6 469.2h.75M403.8 456.5h.75M405.9 464.3h.75M400.1 456.6h.75M401.5 468.2h.75" stroke="#333" stroke-width="0.75" stroke-opacity="0.85"/>
<path d="M411.3 452.8h.9M413.4 451.9h.9M403.4 455.4h.9M413.7 447.0h.9M405.9 456.1h.9M407.5 457.6h.9M407.8 454.2h.9M400.5 454.1h.9M407.8 453.4h.9M408.6 453.3h.9M411.1 450.9h.9M404.9 451.0h.9M410.7 450.4h.9M404.5 455.2h.9M405.7 450.1h.9M400.5 455.9h.9M412.6 446.9h.9M411.6 448.3h.9M413.0 452.3h.9M405.4 450.2h.9M406.1 453.4h.9M405.1 453.0h.9M410.3 452.8h.9M408.9 451.4h.9M403.7 453.4h.9M410.4 453.3h.9M404.3 454.8h.9M404.7 455.9h.9M409.7 457.0h.9M418.1 448.8h.9M405.7 449.4h.9M409.2 452.3h.9M408.4 448.9h.9M409.9 454.0h.9M416.0 448.8h.9M413.8 454.0h.9M418.1 450.4h.9M408.1 456.5h.9M404.7 456.0h.9M407.5 454.7h.9M414.6 452.2h.9M420.1 448.6h.9M413.6 449.2h.9M419.7 447.2h.9M407.7 456.9h.9M405.3 455.9h.9M410.2 450.7h.9M413.8 454.7h.9M402.4 450.8h.9M409.6 452.0h.9M412.3 450.3h.9M410.4 454.3h.9M409.3 450.6h.9M410.0 454.5h.9M402.8 458.9h.9M412.1 452.1h.9M404.6 462.5h.9M403.4 452.5h.9M403.8 452.1h.9M417.9 450.7h.9M408.2 450.8h.9M408.0 451.3h.9M404.0 460.2h.9M408.6 452.4h.9M409.9 453.0h.9M402.2 454.2h.9M415.7 452.7h.9M408.9 448.7h.9M405.5 455.6h.9M403.7 458.2h.9M407.0 451.6h.9M415.2 454.2h.9M410.0 449.0h.9M402.7 457.0h.9M404.8 457.4h.9M402.3 460.7h.9M403.5 456.7h.9M406.6 453.6h.9M407.9 450.1h.9M415.1 450.5h.9M406.8 448.6h.9M413.7 450.3h.9M407.9 453.8h.9M405.5 458.7h.9M411.2 449.4h.9M403.0 455.8h.9M407.3 452.8h.9M406.5 453.8h.9M416.5 450.3h.9M410.1 448.2h.9M411.5 446.4h.9M406.9 451.3h.9M407.0 451.6h.9M404.9 457.5h.9M414.8 448.9h.9M413.1 451.5h.9M404.6 454.6h.9M402.2 455.0h.9M408.3 455.9h.9M415.1 451.4h.9M408.2 450.9h.9M415.7 448.5h.9M413.7 448.7h.9M409.6 451.6h.9M404.0 455.4h.9M400.6 455.1h.9M406.2 453.3h.9M402.5 452.9h.9M415.3 448.5h.9M412.5 450.4h.9M407.3 459.7h.9M402.7 458.9h.9M412.1 451.5h.9M415.9 451.8h.9M406.1 453.3h.9M412.5 454.6h.9M417.6 447.9h.9M416.3 448.2h.9M406.2 452.9h.9M410.3 450.3h.9M410.2 447.0h.9M413.8 449.1h.9M410.1 449.4h.9M403.5 456.5h.9M405.3 450.1h.9M404.4 455.7h.9M412.3 450.7h.9M405.3 455.6h.9M408.8 454.9h.9M417.9 451.6h.9M416.7 449.0h.9M401.9 457.3h.9M401.7 453.6h.9M411.1 449.9h.9M407.0 456.9h.9M417.0 451.2h.9M410.6 455.8h.9M404.4 454.1h.9M415.4 450.7h.9M405.5 452.5h.9M408.0 451.5h.9M408.3 451.3h.9M413.1 451.3h.9M399.8 461.4h.9M407.7 456.1h.9M406.3 453.5h.9M406.8 456.4h.9M405.2 453.0h.9M409.7 452.5h.9M408.8 452.5h.9M407.7 452.2h.9M407.5 452.3h.9M404.8 452.0h.9M405.7 452.8h.9M406.8 451.1h.9M404.5 449.8h.9M406.6 456.2h.9M411.7 451.7h.9M402.0 460.9h.9M412.4 450.4h.9M402.4 453.9h.9M407.9 454.6h.9M407.1 452.2h.9M406.8 450.3h.9M399.8 457.1h.9M401.6 451.4h.9M403.4 461.2h.9M405.4 451.0h.9M401.1 452.5h.9M415.1 451.1h.9M400.2 456.3h.9M402.5 454.0h.9M409.7 451.7h.9M414.1 447.1h.9M414.6 454.1h.9M412.5 450.7h.9M415.1 450.0h.9M412.3 450.1h.9M400.5 454.0h.9M411.1 455.2h.9M404.2 455.5h.9M406.6 450.3h.9M416.8 451.0h.9M410.9 454.7h.9M410.6 451.8h.9M403.5 453.8h.9M404.3 461.2h.9M417.4 451.5h.9M405.7 454.6h.9M409.2 458.1h.9M408.6 449.3h.9M405.3 454.4h.9M405.9 457.1h.9M403.3 456.0h.9M414.4 454.1h.9M405.2 451.9h.9M400.2 458.1h.9M401.5 455.6h.9M414.3 452.8h.9M406.4 454.7h.9M408.5 453.9h.9M413.7 445.8h.9M412.9 450.6h.9M400.7 452.8h.9M411.8 453.3h.9M410.5 447.3h.9M402.5 452.3h.9M410.0 449.1h.9M403.0 452.0h.9M410.8 451.8h.9M407.6 449.1h.9M416.9 447.4h.9M401.4 453.2h.9M406.8 458.3h.9M415.4 443.8h.9M411.4 448.2h.9M410.5 450.6h.9M412.7 448.3h.9M406.3 460.3h.9M413.5 448.5h.9M403.9 454.8h.9M403.8 456.9h.9M406.7 459.8h.9M416.4 450.3h.9M405.3 453.7h.9M407.4 454.9h.9M411.4 450.0h.9M415.9 450.1h.9M407.4 454.5h.9M417.9 453.8h.9M414.0 454.8h.9M397.5 460.5h.9M407.1 451.9h.9M414.7 449.4h.9M403.8 453.2h.9M411.0 449.6h.9M405.4 455.9h.9M417.7 448.2h.9M405.8 458.8h.9M411.4 450.2h.9M405.2 457.2h.9M405.2 455.5h.9M410.8 451.2h.9M412.2 452.3h.9M406.3 451.4h.9M413.7 451.9h.9M403.0 457.1h.9M410.9 452.0h.9M409.8 454.5h.9M397.6 454.6h.9M404.5 455.7h.9M404.5 455.1h.9M414.1 450.1h.9M405.3 456.5h.9M417.4 451.1h.9M412.5 449.1h.9M416.4 451.1h.9M408.6 450.9h.9M407.2 452.7h.9M403.4 454.1h.9M417.1 446.4h.9M414.9 449.0h.9M410.0 452.5h.9M413.9 450.0h.9M411.7 445.4h.9M410.9 448.0h.9M418.6 450.4h.9M411.0 453.1h.9M406.7 456.5h.9M408.0 454.3h.9M411.9 452.5h.9M409.5 449.0h.9M407.7 454.5h.9M411.3 448.0h.9M417.7 453.1h.9M402.5 457.3h.9M406.1 458.8h.9M409.5 451.1h.9M402.7 459.6h.9M417.9 447.7h.9M416.7 447.4h.9M412.8 453.2h.9M413.6 450.7h.9M407.6 453.0h.9M406.8 457.3h.9M406.2 457.6h.9M400.0 452.6h.9M402.6 456.6h.9M412.8 452.4h.9M410.1 449.3h.9M406.0 454.8h.9M406.5 450.9h.9M409.4 454.2h.9M410.0 451.0h.9M405.3 455.9h.9M405.2 451.0h.9M402.3 458.6h.9M411.8 454.7h.9M409.1 447.8h.9M409.7 447.7h.9M416.3 444.7h.9M417.7 452.1h.9M432.4 451.1h.9M423.5 447.4h.9M424.5 447.0h.9M432.0 448.0h.9M431.7 449.5h.9M428.1 448.2h.9M418.2 446.7h.9M422.6 447.8h.9M417.9 446.5h.9M422.2 448.3h.9M420.7 447.7h.9M417.7 447.8h.9M418.3 450.5h.9M428.6 450.3h.9M415.2 446.5h.9M420.6 454.4h.9M428.7 449.4h.9M430.6 449.3h.9M424.9 446.5h.9M415.0 455.2h.9M427.0 449.9h.9M419.0 452.5h.9M420.8 446.5h.9M417.9 449.3h.9M429.5 445.4h.9M428.2 447.7h.9M418.7 451.1h.9M431.7 446.0h.9M429.2 451.3h.9M427.0 444.4h.9M428.4 453.1h.9M430.1 446.5h.9M421.0 452.5h.9M422.3 444.4h.9M420.3 448.1h.9M418.9 448.4h.9M416.5 448.0h.9M418.1 444.6h.9M429.0 446.9h.9M423.9 449.3h.9M430.9 451.9h.9M420.8 450.0h.9M425.1 445.8h.9M429.0 445.5h.9M422.6 447.0h.9M433.3 451.7h.9M431.7 450.4h.9M431.0 447.4h.9M423.2 448.2h.9M428.5 445.0h.9M432.0 449.7h.9M429.7 451.0h.9M425.1 449.2h.9M429.6 450.8h.9M433.4 451.0h.9M425.0 447.0h.9M425.2 447.2h.9M419.5 451.3h.9M428.0 452.1h.9M427.5 450.5h.9M420.1 450.7h.9M430.5 448.0h.9M431.3 448.8h.9M429.1 443.7h.9M420.3 448.1h.9M431.2 447.9h.9M421.6 446.0h.9M422.6 445.6h.9M426.1 450.9h.9M428.0 452.0h.9M427.8 451.0h.9M421.3 447.7h.9M429.6 447.3h.9M431.3 448.0h.9M425.5 446.9h.9M436.5 449.9h.9M430.7 446.3h.9M424.2 449.6h.9M426.1 450.1h.9M424.8 448.8h.9M421.6 445.5h.9M431.1 452.6h.9M422.1 445.9h.9M413.9 448.8h.9M416.9 450.1h.9M420.8 446.9h.9M423.4 447.7h.9M431.5 448.2h.9M427.4 444.9h.9M430.1 444.0h.9M424.2 447.4h.9M423.7 446.6h.9M429.9 446.9h.9M430.8 445.5h.9M424.7 449.0h.9M421.2 450.9h.9M423.0 448.1h.9M430.8 448.0h.9M427.4 449.8h.9M426.6 446.2h.9M418.7 444.0h.9M431.3 449.4h.9M418.4 452.2h.9M418.8 450.2h.9M423.8 449.4h.9M433.7 448.7h.9M427.5 447.0h.9M423.3 447.8h.9M428.6 447.2h.9M420.2 448.5h.9M415.5 451.8h.9M430.1 450.0h.9M427.4 445.0h.9M423.7 449.1h.9M415.8 449.4h.9M424.8 446.1h.9M416.2 446.4h.9M426.2 453.1h.9M417.6 446.9h.9M425.5 447.3h.9M434.4 445.8h.9M433.3 447.2h.9M424.1 449.7h.9M420.2 451.2h.9M431.7 445.3h.9M431.8 448.5h.9M426.6 447.2h.9M425.7 447.5h.9M432.0 447.2h.9M419.3 449.9h.9M429.0 450.9h.9M428.6 450.9h.9M427.6 446.0h.9M430.0 448.7h.9M416.6 445.8h.9M429.4 450.2h.9M425.1 448.4h.9M428.5 450.6h.9" stroke="#000" stroke-width="0.9" stroke-opacity="0.55"/>
<path d="M398.8 460.9h.95M401.6 469.0h.95M402.9 467.9h.95M402.9 464.3h.95M399.6 460.4h.95M401.8 462.8h.95M400.6 456.3h.95M402.7 462.1h.95M402.3 462.2h.95M402.3 458.2h.95M403.6 465.1h.95M401.4 470.7h.95M400.5 466.7h.95M402.1 463.3h.95M403.8 463.4h.95M402.7 458.0h.95M402.6 465.0h.95M401.9 458.0h.95M403.9 464.0h.95M404.4 463.1h.95M407.4 458.4h.95M403.5 463.9h.95M402.8 462.4h.95M402.9 467.0h.95M402.8 458.8h.95M403.6 467.7h.95M400.0 464.1h.95M404.7 466.2h.95M401.2 464.3h.95M403.3 458.6h.95M401.9 461.8h.95M401.0 468.9h.95M399.4 458.5h.95M400.4 468.5h.95M402.2 462.1h.95M401.1 469.9h.95M405.6 464.6h.95M400.6 461.9h.95M398.6 466.9h.95M401.4 468.0h.95M401.5 459.9h.95M398.2 463.9h.95M405.1 454.2h.95M400.3 462.7h.95M403.3 471.5h.95M405.1 464.7h.95M400.0 459.4h.95M403.1 463.4h.95M400.8 462.7h.95M401.5 472.9h.95M401.4 465.6h.95M402.4 466.5h.95M400.3 469.5h.95M404.4 465.7h.95M400.7 458.4h.95M401.9 462.7h.95M400.7 462.5h.95M399.4 462.1h.95M399.6 464.2h.95M398.0 459.6h.95M402.0 456.9h.95M401.5 462.3h.95M404.3 466.4h.95M401.1 466.6h.95M401.7 466.7h.95M401.3 464.3h.95M401.2 467.2h.95M404.7 470.4h.95M404.8 462.8h.95M405.2 462.3h.95M402.5 459.4h.95M404.6 456.4h.95M401.8 466.2h.95M399.9 465.1h.95M400.4 461.6h.95M402.2 469.3h.95M406.4 459.3h.95M399.5 459.7h.95M402.7 462.8h.95M400.2 459.2h.95M402.6 463.4h.95M406.4 458.6h.95M399.7 478.0h.95M399.5 467.7h.95M401.2 463.6h.95M404.7 461.0h.95M401.7 463.3h.95M401.5 470.5h.95M405.1 460.7h.95M405.2 456.9h.95M401.3 460.0h.95M401.0 463.8h.95M403.1 459.4h.95M403.2 460.4h.95M403.0 464.5h.95M400.5 459.1h.95M404.0 463.0h.95M402.9 461.8h.95M404.8 465.4h.95M400.8 464.0h.95M400.4 461.2h.95M402.0 458.7h.95M400.2 467.6h.95M400.7 462.0h.95M399.4 468.3h.95M400.1 466.2h.95M403.1 465.6h.95M402.2 453.7h.95M400.7 462.0h.95M400.1 457.9h.95M402.8 463.2h.95M403.9 465.3h.95M404.4 464.6h.95M401.9 463.9h.95M403.4 467.4h.95M403.6 461.2h.95M399.9 467.2h.95M404.5 459.0h.95M402.7 459.0h.95M401.4 472.3h.95M401.7 461.3h.95M402.3 461.2h.95M403.6 456.5h.95M403.9 460.0h.95M401.2 473.8h.95M404.4 464.2h.95M401.7 465.2h.95M402.5 477.7h.95M405.2 469.8h.95M400.1 469.3h.95M401.8 463.9h.95M401.7 461.6h.95M403.2 464.1h.95M403.8 461.1h.95M400.8 461.2h.95M401.6 464.7h.95M405.5 464.1h.95M400.7 473.9h.95M405.1 467.4h.95M404.8 455.8h.95M401.6 463.0h.95M403.1 454.8h.95M402.0 471.0h.95M404.6 464.6h.95M403.2 463.3h.95M398.1 465.1h.95M404.6 457.2h.95M406.1 467.0h.95M402.5 469.5h.95M400.5 462.6h.95M399.1 467.0h.95M402.1 473.1h.95M403.8 461.6h.95M398.7 461.4h.95M401.6 462.9h.95M401.4 461.7h.95M402.7 460.6h.95M400.8 462.1h.95M400.4 453.1h.95M402.5 458.9h.95M399.6 462.3h.95M401.7 468.6h.95M401.2 463.0h.95M402.1 460.4h.95M400.6 454.6h.95M399.3 458.1h.95M400.8 460.7h.95M398.7 463.9h.95M403.4 457.9h.95M401.1 461.1h.95M402.8 468.3h.95M403.0 466.2h.95M404.2 466.3h.95M402.4 465.5h.95M403.9 464.0h.95M404.3 461.0h.95M400.2 462.8h.95M402.3 472.1h.95M402.3 458.7h.95M399.3 458.9h.95M401.8 461.3h.95M402.8 463.3h.95M400.0 473.8h.95M401.3 461.9h.95M400.2 460.2h.95M403.4 455.7h.95M401.9 459.8h.95M402.1 465.7h.95M401.6 467.2h.95M401.1 464.5h.95M401.2 455.9h.95M400.4 461.7h.95M402.3 471.1h.95M402.7 465.9h.95M399.9 470.3h.95M401.1 462.5h.95M405.3 467.5h.95M406.4 461.0h.95M403.5 457.9h.95M403.2 460.5h.95M404.4 465.7h.95M399.2 461.2h.95M400.7 463.4h.95M404.6 458.1h.95M401.5 466.0h.95M400.7 461.1h.95M400.5 467.5h.95M404.1 458.4h.95M403.5 470.3h.95M401.5 464.5h.95M403.0 466.3h.95M406.2 464.0h.95M401.5 464.1h.95M402.8 455.2h.95M403.7 464.6h.95M401.0 459.2h.95M399.2 463.6h.95M402.7 463.9h.95M404.1 462.2h.95M400.1 463.2h.95M404.5 469.3h.95M401.4 471.3h.95M400.7 460.5h.95M400.6 471.9h.95M396.7 463.9h.95M402.7 459.2h.95M403.8 454.6h.95M403.1 459.0h.95M400.7 464.2h.95M402.2 460.9h.95M402.6 460.0h.95M404.4 464.9h.95M402.2 469.3h.95M406.3 457.0h.95M403.0 457.9h.95M403.6 460.8h.95M401.1 461.8h.95M404.7 459.2h.95M403.0 462.0h.95M401.6 463.6h.95M405.6 461.6h.95M402.4 464.9h.95M399.5 461.7h.95M403.1 464.8h.95M402.8 458.9h.95M401.3 465.6h.95M400.5 467.1h.95M402.3 470.2h.95M399.3 462.7h.95M399.8 458.0h.95M405.5 466.6h.95M403.3 458.6h.95M402.1 465.2h.95M405.5 454.7h.95M402.6 458.1h.95M405.5 470.4h.95M402.4 461.8h.95M404.2 470.6h.95M401.0 467.2h.95M402.7 464.2h.95M398.6 471.9h.95M402.5 458.5h.95M399.1 469.5h.95M402.3 467.3h.95M403.0 457.2h.95M402.2 459.7h.95M400.2 463.6h.95M400.7 464.4h.95M402.7 461.0h.95M400.7 461.9h.95M403.7 468.0h.95M404.8 459.7h.95M400.5 464.0h.95M401.9 466.0h.95M403.6 457.0h.95M402.0 469.7h.95M402.0 462.9h.95M403.0 456.3h.95M403.3 465.1h.95M404.0 460.9h.95M401.4 458.4h.95M402.0 463.0h.95M403.7 459.1h.95M401.4 458.0h.95M400.9 466.8h.95M403.8 463.4h.95M404.1 465.2h.95M401.1 465.9h.95M400.2 459.8h.95M402.6 463.2h.95M401.2 461.6h.95M400.6 459.5h.95M406.9 466.2h.95M403.4 468.6h.95M399.1 466.1h.95M401.5 456.8h.95M401.2 463.5h.95M403.7 468.1h.95M401.9 468.5h.95M398.6 462.2h.95M402.3 473.9h.95M400.4 451.9h.95M401.9 461.9h.95M403.3 462.3h.95M400.7 461.0h.95M401.6 474.0h.95M397.5 457.4h.95M402.0 461.0h.95M399.6 460.7h.95M401.1 463.6h.95M403.4 461.4h.95M403.6 459.9h.95M401.0 464.4h.95M401.2 466.1h.95M404.0 460.6h.95M405.8 466.5h.95M401.6 457.8h.95M401.9 463.2h.95M403.2 464.6h.95M404.0 456.7h.95M401.2 462.7h.95M403.7 462.7h.95M403.1 458.8h.95M404.3 463.6h.95M399.9 461.6h.95M401.7 463.7h.95M406.3 458.2h.95M405.2 457.9h.95M402.5 458.1h.95M401.6 467.9h.95M405.0 467.3h.95M401.6 466.7h.95M399.5 462.1h.95M401.8 453.7h.95M402.2 457.4h.95M404.8 459.3h.95M404.5 462.2h.95M403.9 466.0h.95M405.1 459.4h.95M399.8 463.6h.95M406.0 468.9h.95M401.9 467.8h.95M402.1 464.0h.95M404.3 464.7h.95M402.0 463.5h.95M403.8 469.0h.95M404.8 465.4h.95M400.0 466.7h.95M402.0 459.5h.95M402.4 459.9h.95M399.9 463.2h.95M400.1 466.8h.95M403.4 457.7h.95M402.9 464.9h.95M399.7 466.4h.95M401.6 461.8h.95M404.5 453.8h.95M400.9 466.1h.95M402.3 469.4h.95M403.2 463.5h.95M404.4 462.7h.95M404.8 452.0h.95M399.1 467.5h.95M404.0 465.6h.95M404.9 455.7h.95M403.6 457.3h.95M401.6 459.5h.95M404.6 459.8h.95M403.7 466.6h.95M402.7 465.0h.95M404.4 464.3h.95M403.3 465.5h.95M398.3 471.2h.95M403.3 462.9h.95M403.8 459.1h.95M402.5 457.9h.95M401.5 467.8h.95M400.3 458.4h.95M403.5 460.3h.95M407.4 459.7h.95M404.3 463.5h.95M402.6 467.8h.95M405.3 469.4h.95M403.6 462.8h.95M403.3 467.0h.95M402.5 459.3h.95M401.2 456.7h.95M402.4 468.0h.95M403.4 462.3h.95M400.0 464.9h.95M406.7 470.6h.95M401.5 469.4h.95M402.3 463.1h.95M403.1 457.3h.95M405.4 461.5h.95M402.4 464.3h.95M403.7 459.8h.95M401.1 461.8h.95M400.9 459.2h.95M403.8 462.0h.95M403.5 462.0h.95M403.2 460.3h.95M405.3 460.8h.95M402.4 471.2h.95M405.4 460.4h.95M400.9 464.2h.95M402.2 468.8h.95M401.2 465.6h.95M402.2 460.5h.95M404.3 469.9h.95M403.3 464.7h.95M400.8 471.1h.95M400.1 468.1h.95M400.8 465.9h.95M402.7 461.6h.95M401.8 464.2h.95M401.8 460.0h.95M405.2 460.0h.95M403.0 458.2h.95M400.2 460.7h.95M406.2 464.4h.95M403.3 467.1h.95M400.8 458.9h.95M401.7 467.6h.95M403.1 457.9h.95M402.8 456.1h.95M403.4 457.3h.95M401.4 454.8h.95M401.1 460.3h.95M404.0 461.4h.95M402.0 460.8h.95M402.6 461.4h.95M400.2 461.8h.95M404.1 456.0h.95M398.3 466.3h.95M402.4 459.3h.95M399.6 461.6h.95M404.5 460.5h.95M401.6 473.2h.95M403.6 462.7h.95M399.6 468.3h.95M404.2 461.9h.95M403.5 465.8h.95M404.9 467.5h.95M402.1 466.6h.95M402.4 458.5h.95M401.9 461.1h.95M404.5 463.8h.95M403.6 459.7h.95M403.9 460.8h.95M399.2 465.6h.95M402.1 469.4h.95M405.4 463.4h.95M400.8 453.3h.95M402.9 457.2h.95M404.5 465.7h.95M400.9 454.4h.95M404.6 468.3h.95M403.5 470.1h.95M403.6 460.1h.95M402.7 463.3h.95M401.2 462.5h.95M397.6 457.5h.95M402.8 453.0h.95M402.9 460.3h.95M406.2 469.9h.95M404.1 462.4h.95M399.1 457.7h.95M401.1 467.4h.95M398.4 461.9h.95M404.3 465.9h.95M400.4 462.2h.95M402.5 467.9h.95M401.5 461.9h.95M402.4 458.0h.95M400.8 466.2h.95M401.7 460.6h.95M401.2 459.3h.95M403.5 464.6h.95M403.0 464.0h.95M402.1 466.0h.95M401.1 461.4h.95M399.6 468.4h.95M403.6 463.6h.95M402.7 466.3h.95M403.3 466.0h.95M402.3 462.7h.95M403.8 466.5h.95M402.5 468.2h.95M400.8 463.1h.95M399.7 467.9h.95M403.5 463.4h.95M401.5 462.5h.95M397.1 466.3h.95M403.2 465.7h.95M400.9 461.3h.95M401.4 462.7h.95M401.4 459.0h.95M406.0 460.5h.95M402.5 465.0h.95M404.1 468.9h.95M401.3 465.9h.95M403.7 464.9h.95M399.3 454.6h.95M400.1 470.7h.95M404.2 462.7h.95M402.3 464.3h.95M401.9 466.4h.95M401.0 460.9h.95M402.4 457.3h.95M400.3 459.2h.95M399.5 466.6h.95M403.9 465.4h.95M400.1 464.3h.95M403.1 456.9h.95M404.1 465.3h.95M404.5 453.7h.95M399.5 472.3h.95M399.8 470.4h.95M403.3 460.6h.95M401.2 459.0h.95M402.4 452.5h.95M403.7 474.7h.95M402.6 463.4h.95M401.2 462.3h.95M400.7 468.0h.95M400.8 462.3h.95M404.3 469.8h.95M401.8 455.0h.95M406.1 459.6h.95M401.6 463.2h.95M403.9 461.0h.95M401.7 461.1h.95M399.6 467.3h.95M401.3 463.8h.95M400.5 466.7h.95M406.1 460.4h.95M402.3 462.9h.95M405.2 461.0h.95M404.2 464.6h.95M404.1 461.0h.95M400.9 461.6h.95M404.0 462.7h.95M403.0 470.3h.95M399.8 458.0h.95M401.4 459.9h.95M403.7 458.1h.95M400.6 462.3h.95M402.1 463.5h.95M402.9 455.9h.95M401.0 465.1h.95M402.6 465.0h.95M400.4 459.8h.95M399.0 461.5h.95M400.1 465.8h.95M401.1 468.2h.95M406.1 464.7h.95M403.5 457.6h.95M402.3 452.1h.95M399.9 473.4h.95M402.8 469.0h.95M401.9 461.7h.95M402.7 461.0h.95M402.8 466.0h.95M400.6 453.4h.95M401.9 462.1h.95M399.1 465.9h.95M404.5 465.7h.95M399.5 463.6h.95M399.9 467.3h.95M402.6 464.7h.95M403.5 466.0h.95M407.7 457.3h.95M402.1 466.9h.95M404.8 451.3h.95M404.4 461.1h.95M399.5 470.7h.95M401.5 466.5h.95M403.0 465.9h.95M404.0 464.8h.95M404.6 463.3h.95M399.9 469.4h.95M402.0 466.5h.95M400.6 451.3h.95M402.3 464.3h.95M405.6 457.7h.95M400.5 464.1h.95M404.3 464.6h.95M402.8 466.9h.95M405.6 470.1h.95M402.4 455.8h.95M399.1 461.4h.95M400.4 463.4h.95M402.9 452.7h.95M403.7 466.1h.95M401.2 457.0h.95M404.8 464.5h.95M402.2 458.6h.95M400.2 470.0h.95M400.8 462.9h.95" stroke="#000" stroke-width="0.95" stroke-opacity="0.9"/>
<rect x="377.7" y="432.7" width="65.2" height="54" fill="none" stroke="#444" stroke-width="0.9"/>
<line x1="377.7" y1="432.3" x2="377.7" y2="487.5" stroke="#000" stroke-width="1.3"/>
<line x1="377.2" y1="486.5" x2="443.4" y2="486.5" stroke="#111" stroke-width="1.2"/>
<path d="M376.4 482.7h1.3M376.4 478.7h1.3M376.4 474.7h1.3M375.3 470.7h2.4M376.4 466.7h1.3M376.4 462.7h1.3M376.4 458.7h1.3M375.3 454.7h2.4M376.4 450.7h1.3M376.4 446.7h1.3M376.4 442.7h1.3M375.3 438.7h2.4M376.4 434.7h1.3M381.7 486.7v1.3M385.7 486.7v1.3M389.7 486.7v1.3M393.7 486.7v2.4M397.7 486.7v1.3M401.7 486.7v1.3M405.7 486.7v1.3M409.7 486.7v2.4M413.7 486.7v1.3M417.7 486.7v1.3M421.7 486.7v1.3M425.7 486.7v2.4M429.7 486.7v1.3M433.7 486.7v1.3M437.7 486.7v1.3M441.7 486.7v2.4" stroke="#222" stroke-width="0.6"/>
<path d="M399.6 442.1 L432.9 442.1 L432.9 456.2 L406.7 459 L403.7 458.3 L399.6 458.3 Z" fill="none" stroke="#333" stroke-width="0.9"/>
<text x="398" y="450" font-size="10.6" text-anchor="end" fill="#111">49</text>
<path d="M506.2 483.6h.75M472.5 436.1h.75M461.4 477.3h.75M471.7 472.2h.75M493.6 448.3h.75M453.3 442.7h.75M464.8 445.8h.75M479.9 469.9h.75M481.3 447.0h.75M506.7 433.9h.75M500.0 455.6h.75M449.7 484.2h.75M478.8 459.5h.75M450.9 480.1h.75M470.7 483.1h.75M454.6 452.4h.75M503.5 481.9h.75M505.2 436.0h.75M498.3 478.2h.75M504.7 471.6h.75M459.5 459.8h.75M457.2 434.1h.75M485.3 466.8h.75M504.8 436.7h.75M502.6 459.5h.75M496.1 448.1h.75M479.3 471.9h.75M469.5 434.7h.75M467.5 469.6h.75M481.4 462.0h.75M453.6 473.9h.75M484.7 454.5h.75M497.7 439.9h.75M463.0 480.2h.75M459.2 483.9h.75M500.6 465.8h.75M461.4 476.0h.75M459.2 454.4h.75M454.2 483.0h.75M468.3 471.9h.75M455.8 462.0h.75M472.9 476.5h.75M466.0 457.6h.75M467.2 483.0h.75M457.6 453.1h.75M453.5 467.2h.75M451.3 471.2h.75M460.1 473.1h.75M458.7 469.4h.75M466.9 482.9h.75M476.2 470.7h.75M455.7 452.1h.75M458.4 458.3h.75M464.0 472.9h.75M470.9 456.0h.75M455.4 455.8h.75M462.8 460.9h.75M457.5 472.4h.75M467.5 477.8h.75M452.6 479.9h.75M460.8 472.2h.75M470.7 471.0h.75M477.6 466.1h.75M455.1 456.4h.75M475.0 470.9h.75M457.8 465.2h.75M473.4 471.2h.75M470.3 472.7h.75M472.7 470.6h.75M480.4 473.4h.75M462.5 465.7h.75M480.9 469.8h.75M468.3 455.4h.75M461.2 452.7h.75M461.6 472.0h.75M452.3 470.5h.75M470.0 462.8h.75M462.5 470.5h.75M473.1 468.8h.75M470.2 464.6h.75M469.2 459.7h.75M456.1 473.1h.75M467.0 470.6h.75M472.7 473.7h.75M462.1 468.3h.75M460.3 469.6h.75M457.0 464.0h.75M458.6 465.6h.75M471.8 462.2h.75M461.9 452.4h.75M460.0 469.6h.75M453.2 463.3h.75M462.4 457.6h.75M457.3 467.6h.75M463.7 472.1h.75M455.4 479.9h.75M469.7 472.1h.75M459.6 466.3h.75M479.1 483.8h.75M462.7 464.0h.75M470.3 467.6h.75M466.9 485.0h.75M458.0 472.5h.75M462.4 480.0h.75M460.6 468.1h.75M467.4 472.9h.75M462.7 455.3h.75M470.8 475.3h.75M463.8 463.6h.75M452.5 467.9h.75M457.9 465.2h.75M458.7 458.3h.75M467.3 467.3h.75M463.1 472.9h.75M458.3 460.9h.75M451.3 465.1h.75M467.9 478.8h.75M471.1 476.9h.75M465.1 464.5h.75M458.7 466.1h.75M461.0 459.8h.75M464.9 475.6h.75M458.5 453.5h.75M459.5 480.9h.75M454.3 476.7h.75M457.1 468.0h.75M462.9 469.6h.75M467.6 465.9h.75M455.1 453.3h.75M452.3 477.9h.75M463.4 481.0h.75M454.8 462.3h.75M463.5 465.0h.75M453.0 477.0h.75M460.8 464.7h.75M460.9 470.0h.75M460.2 468.6h.75M471.3 462.3h.75M464.1 465.6h.75M458.5 471.1h.75M454.4 475.3h.75M471.9 448.4h.75M454.7 481.1h.75M470.4 452.1h.75M462.3 483.2h.75M471.4 472.9h.75M467.1 465.1h.75M456.3 477.8h.75M456.0 478.8h.75M464.7 470.9h.75M466.8 470.6h.75M456.9 466.9h.75M452.9 483.0h.75M459.4 449.6h.75M467.8 465.0h.75M466.9 478.2h.75M463.6 463.5h.75M460.1 471.0h.75M465.1 462.1h.75M451.1 472.9h.75M469.8 471.3h.75M454.3 483.7h.75M472.2 473.9h.75M457.0 466.5h.75M472.0 451.9h.75M451.8 462.9h.75M457.8 471.7h.75M472.9 471.5h.75M454.2 471.1h.75M467.9 483.6h.75M455.1 468.4h.75M452.0 477.9h.75M454.9 466.2h.75M462.6 478.0h.75M455.8 464.1h.75M455.0 474.6h.75M450.5 469.8h.75M460.7 476.3h.75M462.1 471.8h.75M463.7 460.6h.75M474.8 479.7h.75M462.2 473.1h.75M451.1 454.5h.75M458.7 469.5h.75M461.7 460.6h.75M463.4 453.3h.75M469.3 468.6h.75M467.3 454.2h.75M461.4 485.2h.75M457.8 478.1h.75M456.6 468.2h.75M456.9 468.0h.75M453.0 477.4h.75M458.9 477.7h.75M459.4 467.1h.75M457.6 460.2h.75M461.7 464.9h.75M462.0 473.6h.75M456.9 484.7h.75M463.9 462.5h.75M460.0 474.6h.75M463.5 467.1h.75M453.2 449.5h.75M456.0 481.7h.75M458.6 474.9h.75M460.0 473.2h.75M461.1 469.0h.75M470.6 456.5h.75M467.5 464.0h.75M460.1 468.0h.75M461.7 482.4h.75M465.7 463.0h.75M467.4 456.4h.75M465.2 464.1h.75M467.5 464.4h.75M463.9 468.8h.75M463.0 477.1h.75M460.1 450.1h.75M459.1 479.6h.75M462.9 480.4h.75M454.1 456.2h.75M464.8 453.7h.75M469.1 475.9h.75M463.3 477.9h.75M474.0 477.4h.75M458.9 479.4h.75M457.7 455.0h.75M458.7 466.6h.75M458.0 485.6h.75M452.7 473.5h.75M474.6 475.6h.75M472.3 461.2h.75M466.3 470.5h.75M464.4 475.5h.75M463.5 458.4h.75M468.3 467.5h.75M458.1 452.1h.75M449.3 474.5h.75M461.7 472.6h.75M450.4 472.8h.75M467.9 451.7h.75M467.9 454.8h.75M468.9 463.4h.75M464.7 455.1h.75M467.7 473.9h.75M470.4 481.6h.75M467.3 467.7h.75M461.4 467.8h.75M455.5 468.2h.75M457.3 461.6h.75M465.3 474.5h.75M466.7 463.2h.75M467.0 464.7h.75M464.6 467.1h.75M449.8 481.4h.75M464.4 484.5h.75M472.4 469.1h.75M461.7 465.8h.75M473.8 455.5h.75M457.8 460.3h.75M460.0 459.9h.75M461.1 469.9h.75M454.4 476.2h.75M460.0 467.3h.75M455.8 477.1h.75M474.9 468.1h.75M463.5 453.7h.75M476.6 467.6h.75M466.1 468.0h.75M455.8 464.9h.75M478.7 474.1h.75M461.3 459.8h.75M468.0 462.3h.75M450.8 470.2h.75M465.4 468.6h.75M455.5 469.1h.75M464.8 450.6h.75M473.3 471.3h.75M466.4 463.5h.75M452.1 470.4h.75M472.7 466.9h.75M451.0 472.0h.75M466.7 469.9h.75M461.5 476.2h.75M478.2 457.7h.75M498.2 459.0h.75M500.4 457.2h.75M470.9 460.5h.75M482.8 459.9h.75M492.1 457.7h.75M473.9 461.5h.75M484.4 460.3h.75M485.3 459.1h.75M489.4 461.6h.75M468.8 460.0h.75M483.7 461.4h.75M488.7 461.2h.75M486.0 458.9h.75M496.6 456.9h.75M474.9 465.4h.75M473.1 459.8h.75M481.8 460.2h.75M488.4 461.1h.75M473.8 464.1h.75M487.3 462.1h.75M496.9 460.5h.75M495.4 460.1h.75M474.2 464.2h.75M471.2 465.4h.75M472.3 460.5h.75M495.8 459.5h.75M487.0 461.2h.75M488.4 463.1h.75M500.2 460.7h.75M495.0 460.1h.75M490.9 460.1h.75M473.1 460.7h.75M492.1 460.6h.75M489.5 459.9h.75M481.2 458.4h.75M490.7 463.1h.75M492.2 461.3h.75M497.2 464.9h.75M473.2 463.9h.75M488.7 459.1h.75M493.2 458.4h.75M476.1 462.2h.75M490.2 459.5h.75M468.8 461.0h.75" stroke="#333" stroke-width="0.75" stroke-opacity="0.85"/>
<path d="M472.5 457.2h.95M467.7 462.4h.95M472.3 461.1h.95M466.3 462.6h.95M466.8 464.7h.95M470.4 466.0h.95M471.8 467.1h.95M473.3 470.3h.95M469.3 460.7h.95M466.7 461.5h.95M471.9 465.0h.95M466.2 464.7h.95M465.7 465.6h.95M466.3 460.2h.95M464.6 466.0h.95M467.1 455.5h.95M468.2 462.0h.95M468.7 463.5h.95M471.7 467.3h.95M465.9 461.9h.95M473.5 464.6h.95M465.5 469.1h.95M468.0 467.7h.95M463.3 462.2h.95M470.7 468.3h.95M459.1 463.8h.95M469.6 465.6h.95M471.1 462.0h.95M469.9 470.4h.95M468.2 467.8h.95M463.3 460.8h.95M465.9 465.7h.95M462.7 461.6h.95M472.6 463.1h.95M471.7 468.1h.95M466.8 460.0h.95M473.2 465.0h.95M464.8 461.8h.95M468.7 469.2h.95M469.2 457.0h.95M471.8 466.4h.95M465.9 463.2h.95M459.1 465.2h.95M465.3 470.5h.95M463.9 458.3h.95M459.9 464.6h.95M464.7 462.9h.95M466.4 458.6h.95M464.3 463.1h.95M466.2 461.3h.95M468.3 462.0h.95M468.8 460.0h.95M464.2 456.8h.95M462.3 463.7h.95M464.0 456.8h.95M476.3 466.8h.95M472.3 462.7h.95M466.2 462.0h.95M464.7 464.1h.95M465.6 467.0h.95M465.7 463.8h.95M462.3 465.3h.95M465.1 457.0h.95M465.7 460.2h.95M464.4 455.2h.95M463.5 462.0h.95M473.5 464.2h.95M463.8 462.0h.95M467.6 468.9h.95M470.6 462.8h.95M473.4 458.2h.95M465.3 468.9h.95M466.2 471.9h.95M465.3 463.0h.95M465.3 465.7h.95M471.0 465.4h.95M468.6 465.8h.95M469.9 459.8h.95M466.4 466.5h.95M467.8 457.7h.95M467.7 470.1h.95M464.6 466.2h.95M460.5 464.8h.95M464.2 466.5h.95M462.7 462.3h.95M467.9 456.6h.95M460.8 462.2h.95M463.9 464.7h.95M467.1 466.5h.95M466.9 460.9h.95M465.6 464.3h.95M463.5 463.6h.95M467.1 463.6h.95M470.1 468.8h.95M462.9 456.8h.95M471.7 472.0h.95M469.3 461.2h.95M463.7 462.8h.95M472.0 464.2h.95M468.4 466.2h.95M463.3 465.0h.95M461.0 459.4h.95M462.5 467.5h.95M467.6 458.8h.95M467.9 456.7h.95M470.7 460.4h.95M468.2 464.8h.95M467.7 464.3h.95M467.1 467.0h.95M462.5 463.0h.95M462.7 459.9h.95M461.1 465.1h.95M469.1 462.8h.95M467.8 459.9h.95M470.7 462.1h.95M466.9 468.3h.95M457.5 465.1h.95M467.9 469.0h.95M466.8 456.9h.95M466.5 461.8h.95M469.4 460.1h.95M474.0 469.8h.95M468.1 464.9h.95M459.4 462.2h.95M467.8 457.4h.95M464.2 460.8h.95M469.2 470.7h.95M462.4 464.4h.95M465.9 465.8h.95M468.0 461.8h.95M461.8 462.5h.95M465.5 459.5h.95M465.9 471.2h.95M473.5 464.8h.95M476.0 461.5h.95M469.0 465.5h.95M465.8 464.0h.95M464.5 458.6h.95M463.5 457.1h.95M464.0 459.3h.95M470.1 458.5h.95M468.2 463.7h.95M465.9 461.4h.95M472.3 459.8h.95M467.7 462.7h.95M467.6 465.6h.95M474.0 466.5h.95M472.1 460.9h.95M463.9 458.3h.95M458.9 461.6h.95M467.5 460.1h.95M465.1 467.6h.95M464.3 462.3h.95M468.9 470.9h.95M470.4 464.1h.95M468.5 464.3h.95M466.1 458.7h.95M470.4 459.0h.95M465.1 458.5h.95M471.4 462.3h.95M466.9 459.7h.95M466.0 466.0h.95M473.0 471.2h.95M469.7 460.6h.95M475.2 458.4h.95M472.4 466.4h.95M463.0 463.9h.95M468.1 466.0h.95M468.8 457.6h.95M470.0 466.5h.95M464.6 462.6h.95M472.1 466.6h.95M461.7 458.3h.95M468.9 468.4h.95M464.7 463.0h.95M464.2 463.7h.95M466.5 466.0h.95M467.6 463.2h.95M466.4 464.9h.95M473.1 458.9h.95M464.3 465.6h.95M463.6 463.3h.95M467.6 466.0h.95M469.5 463.1h.95M473.3 462.1h.95M471.8 463.0h.95M464.8 465.9h.95M465.9 462.9h.95M469.2 461.1h.95M470.7 457.1h.95M465.3 461.3h.95M469.8 463.8h.95M463.0 460.3h.95M472.5 466.6h.95M468.5 464.1h.95M468.1 460.7h.95M466.9 463.7h.95M462.3 464.4h.95M465.2 468.1h.95M465.9 466.1h.95M462.0 462.6h.95M467.0 462.2h.95M461.6 464.6h.95M466.2 466.8h.95M472.2 462.7h.95M460.9 460.2h.95M468.0 459.3h.95M467.1 461.7h.95M464.3 461.9h.95M465.2 462.4h.95M469.9 467.9h.95M466.2 468.1h.95M467.2 464.0h.95M469.8 458.6h.95M469.3 459.8h.95M471.8 467.2h.95M463.0 464.8h.95M468.7 460.9h.95M469.6 467.5h.95M467.2 468.4h.95M464.1 457.8h.95M465.9 463.2h.95M464.8 460.1h.95M465.1 471.5h.95M471.6 460.5h.95M469.9 466.6h.95M469.2 462.3h.95M465.3 458.8h.95M471.9 469.7h.95M463.7 461.5h.95M464.1 459.3h.95M464.8 469.4h.95M459.5 465.3h.95M472.3 461.2h.95M462.1 465.6h.95M472.5 469.6h.95M467.1 465.7h.95M465.8 460.4h.95M464.3 461.1h.95M465.4 463.0h.95M463.6 466.1h.95M461.6 463.9h.95M465.9 467.4h.95M464.0 468.5h.95M462.9 468.0h.95M462.9 463.6h.95M468.5 463.4h.95M468.2 463.7h.95M467.7 465.2h.95M462.6 461.0h.95M471.0 461.8h.95M467.8 466.0h.95M470.3 465.4h.95M465.0 460.1h.95M463.6 465.5h.95M470.2 467.0h.95M463.5 465.8h.95M461.0 464.9h.95M465.7 463.2h.95M462.1 464.4h.95M466.9 468.4h.95M462.1 469.3h.95M458.7 459.4h.95M467.3 466.5h.95M464.5 462.9h.95M464.2 464.3h.95M469.0 461.4h.95M472.8 460.3h.95M464.9 464.6h.95M462.2 456.4h.95M471.2 469.7h.95M463.5 461.4h.95M463.4 472.5h.95M466.4 465.8h.95M468.8 462.5h.95M467.1 463.0h.95M466.2 463.0h.95M466.2 459.5h.95M466.6 465.8h.95M468.9 473.0h.95M466.2 463.0h.95M467.3 465.8h.95M466.3 461.2h.95M476.7 468.8h.95M462.6 458.7h.95M468.7 464.5h.95M464.9 459.6h.95M476.9 463.9h.95M470.6 466.0h.95M471.1 466.7h.95M470.5 464.6h.95M464.2 466.2h.95M466.4 456.7h.95M468.6 465.3h.95M464.7 463.8h.95M468.7 460.6h.95M464.8 465.5h.95M459.9 468.9h.95M468.2 459.8h.95M471.1 466.3h.95M465.4 469.4h.95M467.3 463.4h.95M473.4 467.4h.95M465.3 462.0h.95M467.1 468.6h.95M466.1 460.5h.95M467.3 465.7h.95M467.1 461.8h.95M460.9 463.2h.95M469.1 458.6h.95M470.1 465.4h.95M462.0 463.8h.95M469.9 467.6h.95M476.4 467.0h.95M463.2 462.9h.95M466.5 467.3h.95M468.4 460.4h.95M462.1 465.7h.95M467.2 463.4h.95M471.7 463.0h.95M471.8 460.2h.95M468.1 462.1h.95M468.5 467.6h.95M467.0 463.8h.95M462.4 458.9h.95M465.0 471.7h.95M470.0 471.8h.95M468.3 460.8h.95M463.6 460.5h.95M461.1 464.9h.95" stroke="#000" stroke-width="0.95" stroke-opacity="0.9"/>
<rect x="448.1" y="432.7" width="65.2" height="54" fill="none" stroke="#444" stroke-width="0.9"/>
<line x1="448.1" y1="432.3" x2="448.1" y2="487.5" stroke="#000" stroke-width="1.3"/>
<line x1="447.6" y1="486.5" x2="513.8" y2="486.5" stroke="#111" stroke-width="1.2"/>
<path d="M446.8 482.7h1.3M446.8 478.7h1.3M446.8 474.7h1.3M445.7 470.7h2.4M446.8 466.7h1.3M446.8 462.7h1.3M446.8 458.7h1.3M445.7 454.7h2.4M446.8 450.7h1.3M446.8 446.7h1.3M446.8 442.7h1.3M445.7 438.7h2.4M446.8 434.7h1.3M452.1 486.7v1.3M456.1 486.7v1.3M460.1 486.7v1.3M464.1 486.7v2.4M468.1 486.7v1.3M472.1 486.7v1.3M476.1 486.7v1.3M480.1 486.7v2.4M484.1 486.7v1.3M488.1 486.7v1.3M492.1 486.7v1.3M496.1 486.7v2.4M500.1 486.7v1.3M504.1 486.7v1.3M508.1 486.7v1.3M512.1 486.7v2.4" stroke="#222" stroke-width="0.6"/>
<path d="M470 442.1 L503.3 442.1 L503.3 456.2 L477.1 459 L474.1 458.3 L470 458.3 Z" fill="none" stroke="#333" stroke-width="0.9"/>
<text x="468.4" y="450" font-size="10.6" text-anchor="end" fill="#111">7</text>
<text x="326" y="502" font-size="10.4" text-anchor="middle" fill="#111">2N</text>
<text x="351" y="502" font-size="10.4" text-anchor="middle" fill="#111">4N</text>
<text x="401" y="502" font-size="10.4" text-anchor="middle" fill="#111">2N</text>
<text x="426" y="502" font-size="10.4" text-anchor="middle" fill="#111">4N</text>
<text x="471.4" y="502" font-size="10.4" text-anchor="middle" fill="#111">2N</text>
<text x="496.4" y="502" font-size="10.4" text-anchor="middle" fill="#111">4N</text>
<text transform="translate(297 472.8) rotate(-90)" font-size="11.6" text-anchor="middle" fill="#111">BrdU</text>
<path d="M292.6 508.2 L292.6 491.5" fill="none" stroke="#111" stroke-width="0.9"/>
<path d="M292.6 488.6 L291 493 L294.2 493 Z" fill="#111" stroke="#111" stroke-width="0.3"/>
<path d="M292.6 508.2 L304.5 508.2" fill="none" stroke="#111" stroke-width="0.9"/>
<path d="M307.6 508.2 L303.2 506.6 L303.2 509.8 Z" fill="#111" stroke="#111" stroke-width="0.3"/>
<text x="308.2" y="511.5" font-size="10.6" fill="#111">DNA content</text>
<rect x="250.4" y="243.4" width="3.1" height="97.6" fill="#8c8c8c" stroke="none" stroke-width="0"/>
<line x1="254.4" y1="237.2" x2="254.4" y2="471.2" stroke="#000" stroke-width="1.3"/>
<path d="M248 298.5 L259 291 L259 296.5 L248 304 Z" fill="#fff"/>
<line x1="249.8" y1="297.8" x2="258.8" y2="290.2" stroke="#000" stroke-width="1.2"/>
<line x1="249.8" y1="303.6" x2="258.8" y2="296" stroke="#000" stroke-width="1.2"/>
<text x="248" y="244.9" font-size="10.2" text-anchor="end" fill="#111">-24 h</text>
<text x="249.3" y="243.4" font-size="14" text-anchor="middle" font-weight="bold" fill="#000">*</text>
<line x1="249.4" y1="241.5" x2="254.4" y2="241.5" stroke="#111" stroke-width="1.1"/>
<line x1="268.2" y1="241.5" x2="260" y2="241.5" stroke="#111" stroke-width="1.1"/>
<path d="M255.4 241.1 L261.5 238.8 L261.5 243.4 Z" fill="#000" stroke="#111" stroke-width="0.2"/>
<text x="269.6" y="244.9" font-size="10.2" fill="#111">PD</text>
<line x1="281.9" y1="240.5" x2="302.7" y2="240.5" stroke="#777" stroke-width="0.8"/>
<text x="246.8" y="344.8" font-size="8.6" text-anchor="end" fill="#111">0</text>
<text x="248" y="341.3" font-size="14" text-anchor="middle" font-weight="bold" fill="#000">*</text>
<line x1="249.2" y1="341.5" x2="254.4" y2="341.5" stroke="#111" stroke-width="1.1"/>
<line x1="255.5" y1="339.1" x2="268" y2="339.1" stroke="#999" stroke-width="0.9" stroke-dasharray="2.2 1.2"/>
<line x1="255" y1="341.5" x2="263" y2="341.5" stroke="#111" stroke-width="1.1"/>
<path d="M268 341.8 L262.2 339.6 L262.2 344.0 Z" fill="#000" stroke="#111" stroke-width="0.2"/>
<text x="269.3" y="343.6" font-size="9" fill="#111">PD</text>
<line x1="282.7" y1="338.5" x2="302.7" y2="338.5" stroke="#777" stroke-width="0.8"/>
<line x1="287.9" y1="341.6" x2="302.2" y2="384.5" stroke="#777" stroke-width="0.7"/>
<path d="M267.1 345.6 L259 345.6 Q255.6 345.6 255.6 348.6 Q255.6 351.6 259 351.6 L261 351.6" fill="none" stroke="#111" stroke-width="1"/>
<path d="M266 351.6 L260.2 349.5 L260.2 353.7 Z" fill="#000" stroke="#111" stroke-width="0.2"/>
<text x="266.8" y="352.6" font-size="10.2" fill="#111">BTZ</text>
<text x="246.8" y="395.9" font-size="8.6" text-anchor="end" fill="#111">4</text>
<text x="248.5" y="392.8" font-size="14" text-anchor="middle" font-weight="bold" fill="#000">*</text>
<line x1="249.2" y1="392.5" x2="254.4" y2="392.5" stroke="#111" stroke-width="1.1"/>
<path d="M267.5 391.2 L259 391.2 Q255.6 391.2 255.6 394.2 Q255.6 397.2 259 397.2 L261 397.2" fill="none" stroke="#111" stroke-width="1"/>
<path d="M266.4 397.2 L260.6 395.1 L260.6 399.3 Z" fill="#000" stroke="#111" stroke-width="0.2"/>
<text x="267.6" y="398.4" font-size="10.2" fill="#111">BTZ</text>
<line x1="282.7" y1="400.4" x2="302.2" y2="456.5" stroke="#777" stroke-width="0.7"/>
<text x="246.8" y="475.6" font-size="8.6" text-anchor="end" fill="#111">11</text>
<text x="248.8" y="471.2" font-size="14" text-anchor="middle" font-weight="bold" fill="#000">*</text>
<line x1="249.4" y1="470.5" x2="254.4" y2="470.5" stroke="#111" stroke-width="1.1"/>
<text x="254" y="488.6" font-size="11.2" text-anchor="middle" fill="#111">Analysis</text>
<rect x="223.8" y="342.5" width="2.5" height="84.7" fill="#8c8c8c" stroke="none" stroke-width="0"/>
<path d="M240 342.1 L227 342.1 L227 427.3 L232.3 427.3" fill="none" stroke="#000" stroke-width="1.2"/>
<text x="233.3" y="431.7" font-size="9.8" fill="#111">7</text>
<text x="226.4" y="444.9" font-size="11.2" text-anchor="middle" fill="#111">Analysis</text>
<text x="199.4" y="349.2" font-size="11.2" text-anchor="middle" fill="#111">BTZ</text>
<path d="M211 344.1 L217.6 344.1 Q220.5 344.1 220.5 346.2 Q220.5 348.3 217.6 348.3 L216 348.3" fill="none" stroke="#111" stroke-width="1"/>
<path d="M211.6 348.3 L216.8 346.4 L216.8 350.2 Z" fill="#000" stroke="#111" stroke-width="0.2"/>
<text x="207.2" y="552.6" font-size="17.5" font-weight="bold" fill="#000">F</text>
<text x="256.6" y="562.8" font-size="10.2" text-anchor="middle" fill="#111">BTZ</text>
<line x1="256.5" y1="568" x2="256.5" y2="636" stroke="#888" stroke-width="0.8"/>
<path d="M254.1 566.5 L258.8 566.5 L256.45 576.3 Z" fill="#333" stroke="#111" stroke-width="0.3"/>
<path d="M254.1 596.3 L258.8 596.3 L256.45 606.1 Z" fill="#333" stroke="#111" stroke-width="0.3"/>
<path d="M254.1 628.3 L258.8 628.3 L256.45 638.1 Z" fill="#333" stroke="#111" stroke-width="0.3"/>
<text x="232.2" y="581.2" font-size="8.5" fill="#111">–</text>
<text x="253.6" y="581.2" font-size="9.8" text-anchor="end" fill="#111">PD</text>
<line x1="256.4" y1="577.2" x2="278" y2="577.2" stroke="#111" stroke-width="1.3"/>
<rect x="282" y="575.4" width="6" height="6" fill="#fff" stroke="#999" stroke-width="0.7"/>
<text x="232.4" y="612.9" font-size="8" fill="#111">+</text>
<text x="253" y="613.2" font-size="9.8" text-anchor="end" fill="#111">PD</text>
<rect x="256.4" y="607.8" width="21.6" height="1.9" fill="#222" stroke="none" stroke-width="0"/>
<rect x="256.4" y="609.7" width="21.6" height="2.1" fill="#a5a5a5" stroke="none" stroke-width="0"/>
<rect x="282" y="606.6" width="6" height="5.2" fill="#c2c2c2" stroke="#999" stroke-width="0.6"/>
<text x="211.6" y="643.6" font-size="8" fill="#111">+</text>
<text x="232.2" y="643.8" font-size="9.8" text-anchor="end" fill="#111">PD</text>
<rect x="235.6" y="638.2" width="42.4" height="2" fill="#222" stroke="none" stroke-width="0"/>
<rect x="235.6" y="640.2" width="42.4" height="2.1" fill="#8a8a8a" stroke="none" stroke-width="0"/>
<rect x="283" y="638.6" width="5.8" height="5.6" fill="#6a6a6a" stroke="#777" stroke-width="0.5"/>
<text x="218.4" y="655" font-size="10.6" fill="#111">h</text>
<text x="235.5" y="655" font-size="10.6" text-anchor="middle" fill="#111">-24</text>
<text x="256.2" y="655" font-size="10.6" text-anchor="middle" fill="#111">0</text>
<text x="276.2" y="655" font-size="10.6" text-anchor="middle" fill="#111">24</text>
<line x1="339.5" y1="544.4" x2="339.5" y2="654.4" stroke="#111" stroke-width="1"/>
<line x1="336.2" y1="654.5" x2="339.4" y2="654.5" stroke="#111" stroke-width="1"/>
<text x="331.6" y="658.6" font-size="9.8" text-anchor="end" fill="#111">0</text>
<line x1="336.2" y1="632.5" x2="339.4" y2="632.5" stroke="#111" stroke-width="1"/>
<text x="331.6" y="636.72" font-size="9.8" text-anchor="end" fill="#111">20</text>
<line x1="336.2" y1="610.5" x2="339.4" y2="610.5" stroke="#111" stroke-width="1"/>
<text x="331.6" y="614.84" font-size="9.8" text-anchor="end" fill="#111">40</text>
<line x1="336.2" y1="588.5" x2="339.4" y2="588.5" stroke="#111" stroke-width="1"/>
<text x="331.6" y="592.96" font-size="9.8" text-anchor="end" fill="#111">60</text>
<line x1="336.2" y1="566.5" x2="339.4" y2="566.5" stroke="#111" stroke-width="1"/>
<text x="331.6" y="571.08" font-size="9.8" text-anchor="end" fill="#111">80</text>
<line x1="336.2" y1="545.5" x2="339.4" y2="545.5" stroke="#111" stroke-width="1"/>
<text x="331.6" y="549.2" font-size="9.8" text-anchor="end" fill="#111">100</text>
<line x1="339.4" y1="654.5" x2="395.6" y2="654.5" stroke="#111" stroke-width="1"/>
<line x1="367.5" y1="654.4" x2="367.5" y2="657.4" stroke="#111" stroke-width="1"/>
<line x1="395.5" y1="654.4" x2="395.5" y2="657.4" stroke="#111" stroke-width="1"/>
<rect x="343.5" y="545.5" width="8" height="109" fill="#fff" stroke="#111" stroke-width="0.9"/>
<rect x="351.5" y="552.5" width="5" height="102" fill="#c4c4c4" stroke="#111" stroke-width="0.9"/>
<line x1="353.5" y1="552.66" x2="353.5" y2="549.59" stroke="#111" stroke-width="0.8"/>
<line x1="351.65" y1="549.5" x2="356.05" y2="549.5" stroke="#111" stroke-width="0.9"/>
<rect x="356.5" y="561.5" width="7" height="93" fill="#6a6a6a" stroke="#111" stroke-width="0.9"/>
<line x1="359.5" y1="561.41" x2="359.5" y2="548.72" stroke="#111" stroke-width="0.8"/>
<line x1="357.65" y1="548.5" x2="362.05" y2="548.5" stroke="#111" stroke-width="0.9"/>
<rect x="371.5" y="586.5" width="6" height="68" fill="#fff" stroke="#111" stroke-width="0.9"/>
<line x1="374.5" y1="586.57" x2="374.5" y2="574.54" stroke="#111" stroke-width="0.8"/>
<line x1="372.6" y1="574.5" x2="377" y2="574.5" stroke="#111" stroke-width="0.9"/>
<rect x="377.5" y="609.5" width="7" height="45" fill="#c4c4c4" stroke="#111" stroke-width="0.9"/>
<line x1="380.5" y1="609.55" x2="380.5" y2="606.26" stroke="#111" stroke-width="0.8"/>
<line x1="378.75" y1="606.5" x2="383.15" y2="606.5" stroke="#111" stroke-width="0.9"/>
<rect x="384.5" y="631.5" width="6" height="23" fill="#6a6a6a" stroke="#111" stroke-width="0.9"/>
<line x1="387.5" y1="631.43" x2="387.5" y2="626.61" stroke="#111" stroke-width="0.8"/>
<line x1="385" y1="626.5" x2="389.4" y2="626.5" stroke="#111" stroke-width="0.9"/>
<text transform="translate(310.4 600) rotate(-90)" font-size="11.4" text-anchor="middle" fill="#111">% Live cells</text>
<text x="343.4" y="672.2" font-size="10.8" text-anchor="end" fill="#111">BTZ (nM)</text>
<text x="352.2" y="672.2" font-size="10.6" text-anchor="middle" fill="#111">0</text>
<text x="379.4" y="672.2" font-size="10.6" text-anchor="middle" fill="#111">6</text>
<text x="279.4" y="695.2" font-size="11.2" text-anchor="middle" fill="#111">No BTZ</text>
<text x="350.2" y="695.2" font-size="11.2" text-anchor="middle" fill="#111">+ BTZ</text>
<text x="227.6" y="731.6" font-size="10.6" text-anchor="end" fill="#111">− PD</text>
<text x="227.6" y="787.6" font-size="10.6" text-anchor="end" fill="#111">+ PD</text>
<path d="M268.4 734.7h.7M263.9 738.1h.7M268.8 735.0h.7M257.8 741.2h.7M271.3 734.6h.7M255.3 741.4h.7M257.2 742.1h.7M261.6 735.3h.7M260.3 740.1h.7M268.7 734.1h.7M263.8 736.6h.7M257.9 739.1h.7M255.8 739.1h.7M269.8 735.2h.7M269.6 736.5h.7M270.6 738.1h.7M255.5 739.2h.7M266.0 736.4h.7M260.8 741.8h.7M269.7 736.7h.7M254.4 742.2h.7M250.1 743.5h.7M247.9 741.6h.7M268.3 735.3h.7M270.4 738.3h.7M255.0 742.5h.7M268.9 736.3h.7M259.7 739.2h.7M269.9 734.9h.7M258.2 742.1h.7M247.6 742.4h.7M272.1 733.6h.7M254.6 743.1h.7M255.5 740.2h.7M254.9 742.3h.7M261.9 740.4h.7M258.4 744.7h.7M256.5 736.1h.7M271.1 735.6h.7M274.7 732.8h.7M292.2 731.4h.7M284.7 734.7h.7M282.0 734.4h.7M291.3 732.0h.7M293.3 731.8h.7M276.2 732.3h.7M285.1 731.7h.7M292.0 732.4h.7M284.7 733.0h.7M276.1 731.9h.7M294.0 734.3h.7M280.9 732.4h.7M277.2 732.1h.7M286.6 733.2h.7M278.6 732.4h.7M286.0 732.8h.7M291.1 730.3h.7M295.2 732.0h.7M289.0 733.4h.7M282.1 733.8h.7M289.3 733.1h.7M292.4 733.6h.7M286.6 734.8h.7M286.5 732.4h.7M306.7 728.3h.7M301.6 722.0h.7M301.4 724.9h.7M307.4 718.5h.7M308.1 722.9h.7M304.2 729.3h.7M301.3 719.1h.7M306.4 731.6h.7M306.7 721.9h.7M304.6 734.4h.7M307.9 717.8h.7M308.1 733.5h.7M302.3 723.1h.7M301.6 717.5h.7M306.5 729.8h.7M305.8 727.3h.7M309.3 720.0h.7M309.7 732.9h.7M303.8 730.1h.7M306.1 720.3h.7M297.9 725.3h.7M256.5 732.1h.7M297.4 722.4h.7M275.0 713.6h.7M251.2 738.4h.7M256.7 730.6h.7M258.3 745.4h.7M257.3 715.6h.7M249.4 718.6h.7M274.4 741.3h.7" stroke="#555" stroke-width="0.7" stroke-opacity="0.8"/>
<path d="M286.0 727.4h.8M295.2 725.1h.8M287.2 727.1h.8M292.2 728.4h.8M273.6 727.1h.8M274.0 726.4h.8M272.7 726.7h.8M293.4 725.7h.8M298.3 725.8h.8M269.3 731.1h.8M289.8 724.5h.8M274.5 725.4h.8M284.5 726.0h.8M273.9 726.7h.8M284.0 725.8h.8M292.5 725.6h.8M284.4 726.2h.8M284.8 726.6h.8M287.1 724.8h.8M283.1 728.6h.8M275.8 725.9h.8M295.2 727.8h.8M289.4 725.3h.8M286.2 725.6h.8M285.6 725.1h.8M292.2 728.1h.8M281.7 725.9h.8M278.5 728.5h.8M271.6 726.8h.8M284.4 725.9h.8M279.2 728.7h.8M290.2 728.0h.8M272.8 728.2h.8M283.0 727.0h.8M287.2 725.7h.8M271.6 726.9h.8M275.8 726.8h.8M292.4 728.8h.8M276.6 728.1h.8M292.2 727.3h.8M273.2 726.2h.8M297.1 726.1h.8M294.3 726.7h.8M300.3 728.0h.8M276.2 727.7h.8M289.6 724.2h.8M297.0 728.5h.8M288.5 726.6h.8M297.4 726.8h.8M276.4 726.0h.8M273.7 728.0h.8M270.7 729.4h.8M278.0 726.9h.8M293.0 726.6h.8M297.7 727.1h.8M280.5 724.9h.8M280.0 726.5h.8M288.1 726.6h.8M272.7 727.6h.8M270.5 727.9h.8M298.5 728.2h.8M294.0 724.6h.8M294.7 726.7h.8M282.5 726.2h.8M289.6 726.4h.8M272.7 726.0h.8M293.8 726.0h.8M286.8 728.1h.8M286.9 727.2h.8M271.1 727.8h.8M298.3 729.0h.8M273.1 727.3h.8M297.4 729.3h.8M277.7 725.5h.8M297.2 726.8h.8M277.5 727.2h.8M291.0 725.4h.8M296.8 728.8h.8M286.9 727.1h.8M279.6 726.7h.8M297.9 729.7h.8M287.2 725.7h.8M285.3 727.6h.8M284.1 726.0h.8M283.4 723.7h.8M296.2 725.5h.8M275.6 727.5h.8M273.7 727.9h.8M278.2 728.2h.8M290.3 727.8h.8M283.8 727.2h.8M275.5 724.3h.8M271.2 726.9h.8M284.2 726.2h.8M276.7 725.9h.8M271.8 726.1h.8M272.1 724.7h.8M295.5 726.8h.8M282.1 725.9h.8M290.6 726.0h.8M288.5 724.9h.8M274.7 726.0h.8M296.3 728.1h.8M283.4 725.0h.8M298.7 728.7h.8M280.0 726.0h.8M279.8 726.6h.8M274.8 725.3h.8M278.4 727.1h.8M292.7 726.8h.8M295.5 727.3h.8M275.1 726.0h.8M276.7 725.5h.8M273.0 728.9h.8M274.5 728.0h.8M281.6 727.0h.8M276.8 727.1h.8M273.6 725.9h.8M280.7 726.7h.8M289.0 725.8h.8M282.1 725.6h.8M296.8 727.1h.8M296.3 728.3h.8M281.6 727.3h.8M281.3 725.6h.8M271.0 727.4h.8M295.1 726.4h.8M272.2 727.1h.8M269.3 726.4h.8M291.5 726.8h.8M291.1 728.3h.8M277.1 727.0h.8M283.9 726.5h.8M276.1 727.5h.8M285.0 726.1h.8M295.5 726.6h.8M280.9 727.6h.8M297.3 726.7h.8M274.5 727.5h.8M271.5 726.8h.8M283.0 727.8h.8M280.4 727.8h.8M275.1 727.8h.8M276.4 726.6h.8M276.0 725.8h.8M270.5 726.1h.8M286.5 726.9h.8M279.7 725.6h.8M289.9 725.0h.8M271.9 728.1h.8M280.7 727.5h.8M292.6 725.5h.8M274.2 728.5h.8M276.0 728.7h.8M299.6 725.9h.8M285.3 727.4h.8M276.3 726.2h.8M294.7 727.8h.8M296.6 725.5h.8M271.4 727.2h.8M266.3 729.2h.8M279.4 725.8h.8M298.3 726.0h.8M276.0 727.6h.8M295.4 728.9h.8M294.8 725.5h.8M295.0 725.4h.8M290.3 725.9h.8M279.7 725.0h.8M283.8 728.5h.8M292.8 726.6h.8M279.3 727.1h.8M293.0 725.6h.8M273.8 728.6h.8M272.1 727.1h.8M273.1 729.3h.8M277.5 727.3h.8M289.5 726.3h.8M296.3 726.1h.8M291.2 725.9h.8M296.3 727.3h.8M289.8 725.0h.8M280.8 726.9h.8M290.1 722.0h.8M274.7 727.4h.8M286.1 725.0h.8M270.9 724.1h.8M293.3 725.4h.8M284.7 727.3h.8M295.1 725.3h.8M279.5 726.0h.8M284.8 725.9h.8M289.6 725.4h.8M273.0 726.7h.8M293.0 726.9h.8M273.9 726.9h.8M280.9 725.8h.8M271.4 730.1h.8M269.5 728.5h.8M286.6 724.1h.8M274.9 729.2h.8M290.6 726.0h.8M279.5 726.5h.8M280.3 727.5h.8M290.5 727.3h.8M269.8 728.5h.8M286.2 725.5h.8M284.2 723.5h.8M295.9 725.1h.8M287.8 724.6h.8M272.2 725.7h.8M293.1 727.1h.8M294.5 727.6h.8M276.1 726.2h.8M273.5 727.6h.8M287.2 727.7h.8M288.1 725.1h.8M297.2 728.4h.8M281.5 725.1h.8M292.0 727.4h.8M287.9 727.1h.8M294.2 726.8h.8M294.2 727.4h.8M274.4 729.1h.8M295.7 727.2h.8M277.6 728.8h.8M278.3 728.4h.8M287.8 724.7h.8M281.2 726.2h.8M280.1 726.3h.8M287.8 726.7h.8M297.8 727.6h.8M294.7 726.3h.8M273.4 727.4h.8M292.0 727.8h.8M280.7 724.7h.8M294.5 724.3h.8M290.5 725.9h.8M286.9 727.5h.8M273.6 727.6h.8M270.7 726.5h.8M295.4 726.1h.8M267.7 726.3h.8M292.3 728.0h.8M271.9 726.7h.8M276.6 728.0h.8M294.5 726.8h.8M270.3 729.1h.8M297.0 727.3h.8M280.6 724.3h.8M284.7 727.5h.8M293.5 725.8h.8M282.9 727.3h.8M270.3 726.4h.8M299.6 728.2h.8M274.9 725.8h.8M269.8 728.1h.8M284.7 726.8h.8M287.7 726.7h.8M292.9 726.8h.8M280.2 725.1h.8M290.1 725.8h.8M286.5 723.3h.8M278.1 726.8h.8M283.5 726.8h.8M292.3 726.6h.8M273.6 727.1h.8M286.8 726.7h.8M292.7 726.8h.8M293.4 725.8h.8M275.4 729.1h.8M276.4 728.0h.8M293.7 727.1h.8M272.5 727.7h.8M293.8 725.6h.8M284.9 726.5h.8M278.1 727.3h.8M291.5 724.9h.8M284.9 725.8h.8M298.1 726.9h.8M281.3 725.2h.8M299.0 727.5h.8M295.3 726.7h.8M288.0 728.6h.8M281.8 725.0h.8M285.6 723.6h.8M289.5 727.7h.8M275.3 726.2h.8M270.5 727.8h.8M295.6 724.9h.8M293.9 726.0h.8M279.9 725.7h.8M294.3 725.4h.8M292.6 726.1h.8M268.8 729.0h.8M284.7 726.5h.8M276.2 727.8h.8M287.1 725.6h.8M275.2 728.2h.8M277.5 726.4h.8M284.6 726.3h.8M278.7 727.9h.8M273.1 727.4h.8M284.8 724.7h.8M293.6 727.2h.8M295.7 725.6h.8M277.3 725.7h.8M277.3 725.9h.8M296.8 727.5h.8M287.7 726.1h.8M282.1 726.7h.8M274.8 726.3h.8M285.4 726.2h.8M279.9 727.4h.8M291.7 724.4h.8M287.7 728.0h.8M276.5 727.1h.8M291.9 726.7h.8M291.6 726.0h.8M275.3 726.6h.8M277.4 725.5h.8M295.8 726.1h.8M288.8 726.3h.8M294.6 725.8h.8M270.8 725.6h.8M294.4 726.7h.8M295.7 727.6h.8M291.6 725.9h.8M297.0 729.5h.8M270.3 726.8h.8M290.8 725.9h.8M280.8 726.6h.8M271.4 730.4h.8M268.8 727.2h.8M287.7 727.5h.8M284.1 726.1h.8M298.4 728.0h.8M282.7 724.9h.8M280.7 726.2h.8M292.9 726.8h.8M287.1 726.1h.8M272.6 726.8h.8M270.1 727.5h.8M287.8 728.5h.8M275.8 725.9h.8M282.8 727.3h.8M280.0 726.8h.8M268.8 730.1h.8M290.7 727.4h.8M281.7 728.0h.8M295.0 729.6h.8M291.8 728.0h.8M271.8 726.9h.8M276.2 726.7h.8M278.2 726.7h.8M292.3 726.7h.8M288.8 726.8h.8M272.1 726.9h.8M298.2 725.5h.8M270.6 729.0h.8M271.2 734.1h.8M271.4 735.4h.8M273.0 739.6h.8M271.6 731.0h.8M271.2 733.0h.8M271.5 736.5h.8M271.0 736.6h.8M271.9 735.8h.8M271.3 732.0h.8M270.5 736.8h.8M271.2 732.1h.8M272.0 735.8h.8M271.8 733.7h.8M271.0 734.9h.8M272.6 735.3h.8M271.3 736.6h.8M270.2 740.1h.8M272.6 734.8h.8M270.6 738.8h.8M270.5 733.6h.8M270.1 734.3h.8M271.3 735.9h.8M269.8 740.3h.8M272.7 737.1h.8M273.4 739.7h.8M270.3 732.9h.8M271.7 739.8h.8M271.3 735.9h.8M271.2 734.5h.8M271.4 738.5h.8M270.9 735.4h.8M271.8 738.8h.8M270.6 733.2h.8M270.5 736.9h.8M272.3 734.8h.8M273.6 733.8h.8M270.5 731.6h.8M271.6 732.9h.8M271.8 737.5h.8M271.1 738.8h.8M271.1 737.4h.8M271.0 734.0h.8M271.8 731.9h.8M270.9 732.1h.8M270.8 736.2h.8M271.4 732.6h.8M271.3 731.6h.8M271.9 739.6h.8M271.5 733.8h.8M272.9 732.6h.8M270.9 733.9h.8M271.5 737.4h.8M271.5 733.4h.8M269.8 736.1h.8M271.8 736.7h.8M271.2 736.9h.8M270.3 732.7h.8M273.3 732.4h.8M271.1 736.2h.8M270.7 733.3h.8M272.5 736.4h.8M270.0 738.7h.8M272.2 738.1h.8M272.3 735.6h.8M269.8 733.0h.8M269.7 738.8h.8M270.2 739.6h.8M271.7 735.2h.8M272.4 732.0h.8M270.7 736.6h.8M271.7 733.4h.8M272.3 738.4h.8M271.8 735.9h.8M270.2 730.4h.8M272.3 733.3h.8M273.0 738.0h.8M270.0 734.4h.8M271.0 737.0h.8M272.0 739.4h.8M270.4 735.3h.8M272.7 735.0h.8M270.2 739.9h.8M271.2 733.0h.8M270.6 735.1h.8M271.4 733.5h.8M271.1 738.3h.8M271.2 736.0h.8M271.2 730.9h.8M270.8 736.4h.8M271.7 734.3h.8M271.1 730.2h.8M270.0 739.6h.8M270.8 736.6h.8M270.9 734.4h.8M272.3 735.9h.8M270.0 732.7h.8M270.9 734.1h.8M269.6 735.3h.8M271.3 738.7h.8M269.9 732.1h.8M272.1 736.6h.8M270.6 731.8h.8M270.9 732.1h.8M272.8 736.2h.8M271.2 733.2h.8M272.0 739.7h.8M270.5 737.5h.8M271.0 737.2h.8M272.0 737.6h.8M271.4 733.3h.8M299.0 732.0h.8M298.3 729.3h.8M297.8 733.7h.8M296.5 732.1h.8M297.4 732.0h.8M298.0 731.5h.8M298.0 730.0h.8M297.0 730.1h.8M296.9 732.9h.8M297.4 733.4h.8M294.4 736.2h.8M296.8 731.2h.8M297.3 729.2h.8M296.9 733.2h.8M296.2 734.5h.8M297.4 727.9h.8M298.1 730.2h.8M296.4 731.6h.8M297.6 728.6h.8M296.9 728.1h.8M297.2 728.7h.8M296.6 733.1h.8M295.8 730.1h.8M298.8 732.8h.8M295.9 732.9h.8M297.6 729.4h.8M296.4 730.1h.8M296.9 731.2h.8M297.2 728.7h.8M298.2 734.4h.8M297.6 729.7h.8M297.2 730.4h.8M296.3 733.4h.8M297.5 733.8h.8M296.9 733.1h.8M297.5 732.8h.8M298.5 730.6h.8M297.1 727.8h.8M298.7 731.3h.8M298.6 733.7h.8M295.3 732.7h.8M297.2 732.1h.8M297.0 730.1h.8M298.7 730.2h.8M298.6 732.9h.8M295.4 729.8h.8M298.8 733.2h.8M299.2 730.7h.8M297.3 732.5h.8M298.2 730.2h.8M296.7 729.4h.8M296.1 731.8h.8M297.9 727.9h.8M296.9 731.9h.8M296.5 730.7h.8M296.9 730.0h.8M299.5 731.7h.8M298.2 732.0h.8M297.8 728.4h.8M294.6 730.7h.8M297.9 731.1h.8M295.9 725.1h.8M297.5 730.8h.8M297.8 732.9h.8M297.0 732.9h.8M295.5 728.4h.8M298.3 728.5h.8M298.0 735.5h.8M297.3 729.6h.8M299.0 734.1h.8M295.9 729.4h.8M296.4 730.8h.8M298.2 728.1h.8M297.4 727.9h.8M295.4 725.1h.8M297.6 729.9h.8M295.9 731.3h.8M297.7 731.7h.8M296.6 731.3h.8M296.4 729.3h.8" stroke="#000" stroke-width="0.8" stroke-opacity="0.95"/>
<rect x="244.3" y="698.7" width="69.6" height="51.6" fill="none" stroke="#444" stroke-width="0.9"/>
<line x1="244.3" y1="698.3" x2="244.3" y2="751.1" stroke="#000" stroke-width="1.3"/>
<line x1="243.8" y1="750.5" x2="314.4" y2="750.5" stroke="#111" stroke-width="1.2"/>
<path d="M243.0 746.3h1.3M243.0 742.3h1.3M243.0 738.3h1.3M241.9 734.3h2.4M243.0 730.3h1.3M243.0 726.3h1.3M243.0 722.3h1.3M241.9 718.3h2.4M243.0 714.3h1.3M243.0 710.3h1.3M243.0 706.3h1.3M241.9 702.3h2.4M248.3 750.3v1.3M252.3 750.3v1.3M256.3 750.3v1.3M260.3 750.3v2.4M264.3 750.3v1.3M268.3 750.3v1.3M272.3 750.3v1.3M276.3 750.3v2.4M280.3 750.3v1.3M284.3 750.3v1.3M288.3 750.3v1.3M292.3 750.3v2.4M296.3 750.3v1.3M300.3 750.3v1.3M304.3 750.3v1.3M308.3 750.3v2.4" stroke="#222" stroke-width="0.6"/>
<rect x="245.2" y="714.7" width="22.5" height="34.4" fill="none" stroke="#333" stroke-width="0.8"/>
<path d="M267.7 730.7 L267.7 714.7 L301.5 714.7 L301.5 727.3 L293.8 730.7 Z" fill="none" stroke="#333" stroke-width="0.8"/>
<rect x="268" y="730.7" width="7.4" height="10.8" fill="none" stroke="#333" stroke-width="0.8"/>
<rect x="293.8" y="727.3" width="7.7" height="8.5" fill="none" stroke="#333" stroke-width="0.8"/>
<text x="285.2" y="713.1" font-size="10" text-anchor="middle" fill="#111">40</text>
<text x="255.6" y="725.9" font-size="10" text-anchor="middle" fill="#111">4</text>
<text x="277" y="750.8" font-size="10" text-anchor="middle" fill="#111">40</text>
<text x="303.3" y="746.2" font-size="10" text-anchor="middle" fill="#111">11</text>
<path d="M345.0 728.3h.7M353.4 726.9h.7M355.8 727.3h.7M355.3 728.6h.7M346.3 723.2h.7M370.8 723.8h.7M354.0 727.7h.7M353.3 720.1h.7M352.9 728.3h.7M351.7 727.6h.7M370.5 724.3h.7M361.4 720.2h.7M361.0 727.2h.7M354.1 721.5h.7M344.4 717.5h.7M373.0 721.5h.7M344.4 716.8h.7M356.0 726.0h.7M347.8 728.0h.7M352.0 728.5h.7M350.1 722.3h.7M353.5 717.1h.7M349.2 722.7h.7M353.8 718.7h.7M348.4 724.0h.7M368.4 726.0h.7M371.7 727.8h.7M370.2 722.9h.7M363.9 718.4h.7M360.0 727.7h.7M351.8 727.1h.7M365.1 718.1h.7M347.7 721.7h.7M350.8 718.9h.7M360.9 726.4h.7M371.3 728.9h.7M362.6 728.4h.7M352.8 727.8h.7M347.0 729.1h.7M346.2 729.6h.7M368.4 728.3h.7M372.3 725.4h.7M367.3 723.7h.7M366.6 726.3h.7M347.0 729.0h.7M366.3 725.4h.7M368.3 718.4h.7M352.8 720.9h.7M344.3 720.7h.7M346.3 725.9h.7M346.2 719.1h.7M366.5 728.5h.7M356.9 725.4h.7M348.1 720.9h.7M365.9 724.3h.7M378.6 727.1h.7M339.4 736.2h.7M348.9 734.2h.7M328.0 741.9h.7M365.3 729.4h.7M349.2 735.1h.7M334.6 738.4h.7M354.7 728.5h.7M348.0 729.8h.7M384.1 731.1h.7M376.9 729.9h.7M383.4 730.6h.7M349.3 729.8h.7M354.9 729.3h.7M374.7 725.9h.7M326.7 746.4h.7M331.9 740.2h.7M332.6 738.9h.7M343.3 734.7h.7M341.2 737.1h.7M359.9 729.9h.7M327.0 741.0h.7M372.7 726.3h.7M362.5 730.5h.7M342.9 733.5h.7M323.7 744.4h.7M330.5 740.7h.7M329.1 741.9h.7M379.1 730.5h.7M371.5 727.5h.7M329.2 741.7h.7M328.8 740.1h.7M375.5 725.2h.7M382.1 727.7h.7M348.6 731.1h.7M373.1 727.8h.7M344.6 735.0h.7M361.2 728.8h.7M380.7 729.7h.7M375.9 725.0h.7M330.4 740.2h.7M339.2 734.8h.7M351.6 733.6h.7M340.3 735.9h.7M343.7 735.1h.7M339.7 737.0h.7M357.4 729.3h.7M366.9 729.1h.7M351.8 731.6h.7M338.4 736.1h.7M356.2 735.6h.7M334.7 739.6h.7M348.4 735.1h.7M382.4 730.9h.7M352.2 730.0h.7M381.9 724.9h.7M360.8 728.7h.7M347.9 730.8h.7M347.4 732.1h.7M344.7 733.7h.7M367.2 728.4h.7M368.7 728.8h.7M337.4 739.5h.7M363.4 727.3h.7M322.3 743.3h.7M350.5 730.4h.7M360.4 729.0h.7M378.2 728.5h.7M371.1 727.8h.7M346.7 730.3h.7M363.5 727.5h.7M358.0 726.6h.7M369.2 727.5h.7M347.4 733.8h.7M381.8 728.7h.7M356.5 730.1h.7M361.1 726.9h.7M340.6 736.6h.7M357.0 729.2h.7M370.2 729.4h.7M325.3 742.9h.7M353.7 727.7h.7M369.7 728.9h.7M359.5 731.2h.7M353.5 730.3h.7M375.0 729.1h.7M340.4 737.7h.7M337.2 737.3h.7M326.0 743.7h.7M362.5 727.7h.7M367.4 730.9h.7M342.8 734.4h.7M353.5 731.9h.7M357.2 730.6h.7M355.1 727.6h.7M356.9 727.3h.7M359.5 723.2h.7M350.8 729.2h.7M363.7 728.3h.7M327.4 743.2h.7M351.0 735.8h.7M329.3 740.5h.7M331.2 742.1h.7M366.8 729.3h.7M368.7 724.8h.7M348.6 735.0h.7M339.9 739.5h.7M349.0 732.4h.7M328.8 742.6h.7M380.3 719.8h.7M377.9 718.6h.7M377.3 707.8h.7M350.8 747.9h.7M347.7 733.0h.7M338.3 738.2h.7M356.6 748.4h.7M350.7 735.1h.7M363.7 730.7h.7M361.0 721.8h.7M330.9 713.1h.7M376.9 747.9h.7" stroke="#555" stroke-width="0.7" stroke-opacity="0.8"/>
<path d="M345.3 735.0h.8M344.8 733.2h.8M345.3 733.3h.8M346.4 736.4h.8M345.7 736.6h.8M345.8 733.9h.8M345.1 733.5h.8M348.0 734.9h.8M346.7 735.4h.8M344.8 733.1h.8M346.4 731.9h.8M346.9 733.8h.8M345.5 733.0h.8M347.1 734.9h.8M347.0 730.9h.8M347.1 734.1h.8M346.5 736.7h.8M345.2 733.6h.8M346.7 735.2h.8M346.7 731.6h.8M346.4 734.3h.8M346.7 731.7h.8M345.8 734.1h.8M347.5 734.4h.8M345.0 732.2h.8M346.0 729.3h.8M345.9 736.4h.8M346.5 730.7h.8M345.6 736.3h.8M345.0 733.3h.8M345.2 732.5h.8M345.3 728.7h.8M346.9 734.9h.8M345.8 734.8h.8M345.9 733.6h.8M346.3 735.5h.8M346.6 734.1h.8M347.4 734.2h.8M345.0 736.8h.8M345.7 732.3h.8M346.2 734.4h.8M346.0 731.7h.8M345.9 735.1h.8M347.4 735.0h.8M347.1 736.9h.8M346.9 735.7h.8M346.8 735.3h.8M345.3 731.4h.8M345.5 735.2h.8M347.2 733.7h.8M370.8 732.5h.8M373.8 730.6h.8M371.4 727.2h.8M374.1 730.8h.8M371.4 730.3h.8M371.0 731.0h.8M371.6 729.8h.8M373.1 728.0h.8M371.7 729.2h.8M366.5 725.2h.8M373.8 733.6h.8M372.6 732.1h.8M373.9 730.2h.8M371.6 732.9h.8M372.4 731.4h.8M367.9 730.4h.8M374.0 729.1h.8M370.7 730.7h.8M372.8 728.5h.8M371.8 731.2h.8M368.9 731.5h.8M367.9 731.8h.8M373.0 732.3h.8M367.2 730.3h.8M371.0 730.4h.8M369.8 732.2h.8M371.3 730.1h.8M369.3 729.4h.8M367.7 729.7h.8M370.1 730.2h.8M367.9 729.7h.8M372.8 729.6h.8M371.3 728.7h.8M370.6 730.4h.8M370.6 731.5h.8M369.1 729.6h.8M372.7 731.9h.8M368.0 730.8h.8M370.7 730.1h.8M371.7 729.9h.8M372.5 729.8h.8M373.3 731.1h.8M367.9 731.0h.8M371.5 727.0h.8M368.6 728.7h.8M373.1 730.8h.8M371.5 727.9h.8M371.9 730.2h.8M372.3 731.1h.8M372.1 729.5h.8M371.7 725.6h.8M373.1 731.1h.8M372.0 728.8h.8M371.9 729.4h.8M371.7 731.8h.8M372.7 730.1h.8M371.8 730.3h.8M371.3 729.5h.8M372.7 729.4h.8M371.7 730.8h.8M371.3 730.4h.8M374.4 730.9h.8M371.9 729.4h.8M370.0 730.3h.8M372.0 732.1h.8M369.7 732.1h.8M371.3 730.4h.8M373.4 731.5h.8M372.5 729.0h.8M371.6 729.9h.8M373.9 728.8h.8M374.1 730.4h.8M370.4 730.4h.8M372.5 728.4h.8M374.0 729.9h.8M373.7 729.5h.8M370.4 731.3h.8M372.9 730.2h.8M368.6 731.8h.8M373.2 727.8h.8M368.6 729.8h.8M372.6 730.4h.8M368.8 730.6h.8M372.5 731.0h.8M371.2 729.1h.8M370.0 731.6h.8M372.1 730.3h.8M372.4 731.3h.8M372.4 731.8h.8M368.9 732.0h.8" stroke="#000" stroke-width="0.8" stroke-opacity="0.95"/>
<rect x="319" y="698.7" width="69.6" height="51.6" fill="none" stroke="#444" stroke-width="0.9"/>
<line x1="319" y1="698.3" x2="319" y2="751.1" stroke="#000" stroke-width="1.3"/>
<line x1="318.5" y1="750.5" x2="389.1" y2="750.5" stroke="#111" stroke-width="1.2"/>
<path d="M317.7 746.3h1.3M317.7 742.3h1.3M317.7 738.3h1.3M316.6 734.3h2.4M317.7 730.3h1.3M317.7 726.3h1.3M317.7 722.3h1.3M316.6 718.3h2.4M317.7 714.3h1.3M317.7 710.3h1.3M317.7 706.3h1.3M316.6 702.3h2.4M323.0 750.3v1.3M327.0 750.3v1.3M331.0 750.3v1.3M335.0 750.3v2.4M339.0 750.3v1.3M343.0 750.3v1.3M347.0 750.3v1.3M351.0 750.3v2.4M355.0 750.3v1.3M359.0 750.3v1.3M363.0 750.3v1.3M367.0 750.3v2.4M371.0 750.3v1.3M375.0 750.3v1.3M379.0 750.3v1.3M383.0 750.3v2.4" stroke="#222" stroke-width="0.6"/>
<rect x="319.9" y="715.5" width="22.6" height="33.6" fill="none" stroke="#333" stroke-width="0.8"/>
<path d="M342.5 730.2 L342.5 715.5 L376.3 715.5 L376.3 727 L368.5 730.2 Z" fill="none" stroke="#333" stroke-width="0.8"/>
<rect x="342.9" y="730.2" width="7.8" height="10.7" fill="none" stroke="#333" stroke-width="0.8"/>
<rect x="368.5" y="727" width="7.8" height="9.2" fill="none" stroke="#333" stroke-width="0.8"/>
<text x="358" y="713" font-size="10" text-anchor="middle" fill="#111">10</text>
<text x="331.3" y="725.5" font-size="10" text-anchor="middle" fill="#111">8</text>
<text x="351.5" y="750.2" font-size="10" text-anchor="middle" fill="#111">34</text>
<text x="375.3" y="745.9" font-size="10" text-anchor="middle" fill="#111">39</text>
<path d="M278.0 781.0h.7M295.7 786.7h.7M286.9 777.6h.7M289.5 776.7h.7M295.4 776.1h.7M271.9 775.4h.7M292.5 786.7h.7M298.6 784.8h.7M275.7 785.4h.7M283.5 780.1h.7M276.5 777.0h.7M286.4 783.9h.7M297.4 784.0h.7M291.0 781.2h.7M276.3 776.0h.7M276.8 786.1h.7M278.8 778.7h.7M285.2 782.2h.7M282.7 776.9h.7M298.8 782.3h.7M274.7 779.9h.7M274.3 778.0h.7M280.3 781.5h.7M292.5 777.8h.7M281.0 787.0h.7M276.8 778.3h.7M298.5 780.0h.7M281.6 780.7h.7M277.0 785.0h.7M289.0 775.6h.7M273.2 782.8h.7M277.6 778.6h.7M275.5 776.9h.7M270.5 790.3h.7M276.0 782.2h.7M270.3 790.2h.7M274.7 781.8h.7M275.0 782.9h.7M276.7 784.4h.7M271.6 789.9h.7M272.2 791.5h.7M272.7 786.3h.7M272.2 789.6h.7M273.8 787.5h.7M276.6 779.3h.7M271.8 788.6h.7M275.6 781.7h.7M273.7 786.7h.7M275.7 781.3h.7M273.2 786.4h.7M256.4 801.3h.7M250.1 800.4h.7M251.2 796.3h.7M254.6 802.5h.7M265.7 802.2h.7M256.1 797.1h.7M265.8 796.6h.7M255.5 803.6h.7M246.9 798.6h.7M264.6 798.1h.7M260.2 801.1h.7M264.0 798.3h.7M247.3 796.4h.7M259.5 794.1h.7M261.3 803.1h.7M264.8 793.5h.7M263.3 799.7h.7M260.4 797.5h.7M256.8 794.0h.7M262.4 799.6h.7M252.5 801.6h.7M248.0 799.1h.7M262.3 793.7h.7M260.5 794.5h.7M259.3 802.3h.7M253.0 799.8h.7M260.4 802.2h.7M266.1 793.6h.7M259.5 792.7h.7M254.2 800.7h.7M298.2 788.0h.7M296.7 788.7h.7M296.5 788.9h.7M293.6 787.7h.7M296.8 789.0h.7M293.7 789.6h.7M297.0 787.2h.7M296.2 789.4h.7M294.6 789.4h.7M297.8 791.3h.7M298.3 788.0h.7M298.0 786.9h.7M297.1 789.5h.7M295.0 788.6h.7M295.7 788.0h.7M298.2 789.0h.7M296.3 789.4h.7M296.2 790.2h.7M295.0 787.9h.7M295.5 787.5h.7M285.0 790.0h.7M291.7 789.7h.7M286.9 791.8h.7M274.3 794.6h.7M289.1 794.2h.7M284.2 793.7h.7M277.0 790.8h.7M279.0 789.7h.7M287.6 790.5h.7M286.2 790.2h.7M258.1 790.1h.7M268.3 759.7h.7M300.8 801.4h.7M268.5 805.8h.7M309.6 758.5h.7M296.2 764.1h.7M277.2 768.8h.7M279.5 777.2h.7" stroke="#555" stroke-width="0.7" stroke-opacity="0.8"/>
<path d="M268.5 792.7h.8M270.5 795.6h.8M271.2 797.9h.8M269.8 795.0h.8M271.9 794.1h.8M269.3 794.1h.8M270.7 797.5h.8M271.0 792.6h.8M270.5 794.1h.8M270.4 792.3h.8M269.5 795.7h.8M270.3 790.4h.8M270.6 794.7h.8M270.4 798.5h.8M271.6 799.9h.8M271.3 799.5h.8M269.0 795.0h.8M270.2 796.6h.8M271.4 798.3h.8M271.0 797.8h.8M268.9 800.3h.8M270.6 796.5h.8M269.1 792.1h.8M270.9 799.1h.8M269.0 791.9h.8M270.5 794.7h.8M271.4 798.1h.8M270.4 789.4h.8M271.8 795.9h.8M269.3 797.7h.8M269.9 798.4h.8M271.9 793.5h.8M271.3 794.2h.8M270.6 798.3h.8M272.0 797.0h.8M270.7 795.8h.8M269.9 795.1h.8M268.8 791.7h.8M269.8 798.5h.8M270.4 800.8h.8M269.0 795.3h.8M270.1 800.1h.8M269.5 798.1h.8M271.4 799.9h.8M270.0 796.3h.8M271.2 796.2h.8M270.9 796.9h.8M271.3 798.0h.8M270.8 795.8h.8M270.9 796.4h.8M273.1 797.9h.8M270.5 795.9h.8M268.5 796.7h.8M270.7 798.0h.8M270.2 800.1h.8M270.7 795.0h.8M269.4 800.1h.8M270.0 795.2h.8M269.3 794.9h.8M270.9 798.3h.8M270.3 799.0h.8M271.3 799.1h.8M268.6 796.7h.8M269.9 801.7h.8M271.8 797.9h.8M269.5 799.7h.8M270.2 795.2h.8M271.4 797.4h.8M270.4 794.7h.8M269.7 801.8h.8M269.7 792.6h.8M271.6 795.6h.8M270.2 796.9h.8M272.3 793.1h.8M270.6 797.5h.8M270.7 797.8h.8M270.6 803.7h.8M270.7 800.4h.8M270.3 794.7h.8M270.1 792.1h.8M272.4 792.8h.8M271.6 795.4h.8M270.1 795.0h.8M269.8 794.1h.8M270.2 797.3h.8M268.3 792.0h.8M270.5 800.3h.8M270.6 793.3h.8M271.9 794.5h.8M270.1 796.5h.8M269.6 802.2h.8M269.9 797.5h.8M269.6 794.9h.8M270.2 796.5h.8M270.7 794.1h.8M271.3 799.1h.8M270.7 795.5h.8M271.5 796.8h.8M270.9 798.1h.8M269.3 797.5h.8M271.0 793.3h.8M271.6 793.8h.8M268.7 798.9h.8M271.1 798.8h.8M270.1 800.5h.8M271.4 799.7h.8M270.6 796.1h.8M270.2 795.1h.8M270.2 801.6h.8M269.8 800.2h.8" stroke="#000" stroke-width="0.8" stroke-opacity="0.95"/>
<rect x="244.2" y="756.2" width="69.6" height="51.6" fill="none" stroke="#444" stroke-width="0.9"/>
<line x1="244.2" y1="755.8" x2="244.2" y2="808.6" stroke="#000" stroke-width="1.3"/>
<line x1="243.7" y1="807.5" x2="314.3" y2="807.5" stroke="#111" stroke-width="1.2"/>
<path d="M242.9 803.8h1.3M242.9 799.8h1.3M242.9 795.8h1.3M241.8 791.8h2.4M242.9 787.8h1.3M242.9 783.8h1.3M242.9 779.8h1.3M241.8 775.8h2.4M242.9 771.8h1.3M242.9 767.8h1.3M242.9 763.8h1.3M241.8 759.8h2.4M248.2 807.8v1.3M252.2 807.8v1.3M256.2 807.8v1.3M260.2 807.8v2.4M264.2 807.8v1.3M268.2 807.8v1.3M272.2 807.8v1.3M276.2 807.8v2.4M280.2 807.8v1.3M284.2 807.8v1.3M288.2 807.8v1.3M292.2 807.8v2.4M296.2 807.8v1.3M300.2 807.8v1.3M304.2 807.8v1.3M308.2 807.8v2.4" stroke="#222" stroke-width="0.6"/>
<rect x="245.1" y="772.3" width="22.8" height="34.3" fill="none" stroke="#333" stroke-width="0.8"/>
<path d="M267.9 786.9 L267.9 772.3 L301.9 772.3 L301.9 784.4 L293.7 786.9 Z" fill="none" stroke="#333" stroke-width="0.8"/>
<rect x="267.9" y="786.9" width="8.1" height="12.3" fill="none" stroke="#333" stroke-width="0.8"/>
<rect x="293.7" y="784.4" width="8.2" height="9.6" fill="none" stroke="#333" stroke-width="0.8"/>
<text x="284.4" y="770" font-size="10" text-anchor="middle" fill="#111">6</text>
<text x="257.2" y="782.7" font-size="10" text-anchor="middle" fill="#111">5</text>
<text x="276.9" y="807.7" font-size="10" text-anchor="middle" fill="#111">81</text>
<text x="302.7" y="802.9" font-size="10" text-anchor="middle" fill="#111">5</text>
<path d="M348.0 792.0h.7M347.9 795.6h.7M354.0 791.4h.7M330.3 800.5h.7M333.1 797.6h.7M329.4 798.8h.7M339.6 793.7h.7M381.8 787.2h.7M330.3 797.5h.7M363.0 789.9h.7M326.7 802.7h.7M350.6 789.8h.7M353.0 792.5h.7M322.1 798.7h.7M332.9 796.0h.7M338.6 795.4h.7M372.0 785.9h.7M369.0 789.3h.7M345.7 795.4h.7M346.4 791.5h.7M366.6 790.7h.7M377.5 786.9h.7M340.2 795.0h.7M326.2 797.8h.7M336.9 796.9h.7M333.3 799.9h.7M356.1 790.8h.7M353.7 789.7h.7M340.8 794.4h.7M354.2 792.1h.7M348.5 793.7h.7M356.8 789.7h.7M374.3 787.8h.7M367.3 786.0h.7M349.7 792.5h.7M351.8 795.4h.7M326.0 799.7h.7M343.9 794.8h.7M324.9 803.2h.7M362.7 788.5h.7M368.0 790.3h.7M362.0 790.3h.7M344.7 793.9h.7M332.4 798.8h.7M323.9 799.6h.7M329.1 802.2h.7M339.4 795.5h.7M363.0 787.0h.7M376.4 789.8h.7M342.7 793.3h.7M338.9 796.8h.7M331.5 794.4h.7M383.5 789.0h.7M376.2 787.0h.7M371.5 786.0h.7M369.1 789.5h.7M348.5 793.8h.7M363.1 793.4h.7M372.7 791.6h.7M334.5 799.1h.7M369.0 786.4h.7M377.6 787.2h.7M368.4 790.7h.7M363.4 789.7h.7M383.2 787.5h.7M352.3 791.5h.7M324.7 799.7h.7M328.0 800.7h.7M328.4 802.0h.7M343.5 791.0h.7M345.2 792.6h.7M381.1 786.3h.7M378.6 785.6h.7M372.1 789.5h.7M376.0 788.8h.7M368.6 787.3h.7M377.8 786.1h.7M371.2 786.3h.7M353.4 790.9h.7M370.6 790.8h.7M323.4 802.6h.7M373.1 786.5h.7M375.5 787.0h.7M356.8 791.4h.7M336.8 795.2h.7M374.1 785.2h.7M364.4 789.5h.7M366.5 789.4h.7M327.6 799.9h.7M346.3 793.1h.7M369.3 786.0h.7M373.2 789.5h.7M363.8 791.8h.7M381.5 784.9h.7M362.0 789.6h.7M374.9 782.1h.7M356.2 792.8h.7M350.2 792.9h.7M328.8 800.4h.7M324.2 801.5h.7M367.5 788.9h.7M324.8 801.7h.7M333.1 799.6h.7M354.3 794.8h.7M343.0 795.9h.7M338.8 798.1h.7M338.8 796.5h.7M381.6 785.1h.7M356.9 788.9h.7M320.6 800.4h.7M370.9 789.5h.7M370.7 790.0h.7M371.3 789.9h.7M372.8 788.3h.7M372.8 788.5h.7M370.3 788.8h.7M373.9 789.6h.7M373.3 788.8h.7M371.6 787.6h.7M371.1 789.9h.7M370.3 789.1h.7M369.4 787.7h.7M370.9 790.7h.7M371.8 789.5h.7M370.7 786.6h.7M370.3 789.7h.7M372.6 787.3h.7M368.6 788.9h.7M371.1 788.0h.7M367.5 789.5h.7M374.1 789.4h.7M371.8 788.4h.7M371.6 789.7h.7M371.0 788.0h.7M370.9 787.8h.7M372.1 767.7h.7M330.5 796.5h.7M320.7 780.3h.7M348.4 779.1h.7M324.2 769.1h.7M359.7 773.4h.7M385.6 786.0h.7M326.3 777.7h.7M345.9 769.2h.7M341.9 776.6h.7" stroke="#555" stroke-width="0.7" stroke-opacity="0.8"/>
<path d="M344.6 794.1h.8M343.5 794.6h.8M345.3 794.0h.8M343.0 796.4h.8M346.0 793.2h.8M346.2 792.9h.8M346.1 797.4h.8M344.8 797.1h.8M345.0 797.8h.8M344.6 796.8h.8M345.9 794.7h.8M340.7 794.3h.8M342.9 797.1h.8M346.4 793.2h.8M345.2 792.9h.8M345.1 796.5h.8M343.7 795.5h.8M345.0 797.8h.8M345.0 793.3h.8M341.9 793.9h.8M342.3 792.3h.8M346.8 796.7h.8M342.3 795.0h.8M344.8 793.6h.8M342.2 794.9h.8M344.8 797.5h.8M342.4 793.4h.8M345.2 795.5h.8M341.9 795.2h.8M343.5 796.6h.8M345.7 795.9h.8M344.2 795.1h.8M344.5 794.9h.8M342.5 794.1h.8M344.3 796.5h.8M345.0 798.0h.8M342.5 791.9h.8M343.7 796.5h.8M340.4 794.7h.8M346.1 791.4h.8M342.0 791.3h.8M342.7 801.4h.8M341.1 793.8h.8M343.6 795.5h.8M345.8 798.0h.8M342.5 795.9h.8M343.5 793.1h.8M345.0 792.0h.8M342.4 795.9h.8M342.2 794.4h.8M343.6 795.6h.8M341.0 791.5h.8M345.2 793.4h.8M343.5 798.1h.8M344.3 796.7h.8M343.1 793.1h.8M344.8 795.0h.8M342.4 791.8h.8M342.4 794.4h.8M343.1 795.4h.8M341.4 792.8h.8M345.7 796.9h.8M345.4 797.1h.8M346.0 795.4h.8M344.8 798.2h.8M346.4 791.4h.8M344.4 796.6h.8M342.0 795.7h.8M345.6 796.3h.8M345.9 790.2h.8M343.1 795.0h.8M343.5 800.6h.8M343.4 794.4h.8M346.6 795.2h.8M345.3 796.5h.8M345.5 796.0h.8M346.3 794.9h.8M341.0 794.1h.8M345.4 796.9h.8M342.9 795.6h.8M345.6 793.9h.8M345.6 794.7h.8M345.8 798.3h.8M345.3 798.7h.8M342.7 795.8h.8M341.7 791.7h.8M345.9 792.4h.8M340.0 793.2h.8M342.6 794.6h.8M345.1 795.9h.8M340.2 798.0h.8M338.0 796.3h.8M340.5 797.4h.8M338.3 795.6h.8M340.2 793.3h.8M333.4 796.4h.8M336.8 797.9h.8M342.7 794.2h.8M338.9 796.6h.8M343.0 798.6h.8M342.8 796.5h.8M327.4 798.5h.8M335.8 798.9h.8M340.4 796.9h.8M330.9 795.7h.8M341.7 797.5h.8M335.4 795.6h.8M338.5 794.8h.8M333.8 800.0h.8M335.2 796.5h.8M336.1 795.7h.8M336.7 796.5h.8M340.3 797.1h.8M338.8 796.7h.8M340.2 795.9h.8M341.9 797.2h.8M339.9 795.9h.8M335.8 797.3h.8M339.6 797.3h.8M330.7 796.5h.8M341.4 796.1h.8M338.1 797.2h.8M338.6 793.2h.8M337.2 797.0h.8M330.2 795.5h.8M340.6 794.3h.8M332.6 797.5h.8M337.0 795.4h.8M336.9 791.7h.8M344.5 799.2h.8M336.4 796.5h.8M338.7 797.5h.8M337.2 795.1h.8M339.2 794.9h.8M338.3 796.1h.8M335.8 798.1h.8M335.9 797.8h.8M340.6 798.1h.8M332.7 796.8h.8M338.7 796.8h.8M339.7 796.9h.8M338.7 799.6h.8M338.8 795.3h.8M342.7 798.7h.8M330.8 798.5h.8M334.8 796.6h.8M336.7 796.9h.8M339.4 798.8h.8M335.5 796.9h.8M339.8 796.3h.8" stroke="#000" stroke-width="0.8" stroke-opacity="0.95"/>
<rect x="319" y="756.2" width="69.6" height="51.6" fill="none" stroke="#444" stroke-width="0.9"/>
<line x1="319" y1="755.8" x2="319" y2="808.6" stroke="#000" stroke-width="1.3"/>
<line x1="318.5" y1="807.5" x2="389.1" y2="807.5" stroke="#111" stroke-width="1.2"/>
<path d="M317.7 803.8h1.3M317.7 799.8h1.3M317.7 795.8h1.3M316.6 791.8h2.4M317.7 787.8h1.3M317.7 783.8h1.3M317.7 779.8h1.3M316.6 775.8h2.4M317.7 771.8h1.3M317.7 767.8h1.3M317.7 763.8h1.3M316.6 759.8h2.4M323.0 807.8v1.3M327.0 807.8v1.3M331.0 807.8v1.3M335.0 807.8v2.4M339.0 807.8v1.3M343.0 807.8v1.3M347.0 807.8v1.3M351.0 807.8v2.4M355.0 807.8v1.3M359.0 807.8v1.3M363.0 807.8v1.3M367.0 807.8v2.4M371.0 807.8v1.3M375.0 807.8v1.3M379.0 807.8v1.3M383.0 807.8v2.4" stroke="#222" stroke-width="0.6"/>
<rect x="319.9" y="772.3" width="22.6" height="34.3" fill="none" stroke="#333" stroke-width="0.8"/>
<path d="M342.5 787.4 L342.5 772.3 L375.7 772.3 L375.7 785.1 L367.6 787.4 Z" fill="none" stroke="#333" stroke-width="0.8"/>
<rect x="342.5" y="787.4" width="6.9" height="11.2" fill="none" stroke="#333" stroke-width="0.8"/>
<rect x="367.6" y="785.1" width="8.1" height="9.2" fill="none" stroke="#333" stroke-width="0.8"/>
<text x="357.7" y="770.6" font-size="9.2" text-anchor="middle" fill="#111">0.4</text>
<text x="331" y="782.2" font-size="10" text-anchor="middle" fill="#111">18</text>
<text x="351.2" y="808.2" font-size="10" text-anchor="middle" fill="#111">70</text>
<text x="376.8" y="803" font-size="10" text-anchor="middle" fill="#111">5</text>
<text x="271" y="818.7" font-size="8.7" text-anchor="middle" fill="#111">2N</text>
<text x="296" y="818.7" font-size="8.7" text-anchor="middle" fill="#111">4N</text>
<text x="345.7" y="818.7" font-size="8.7" text-anchor="middle" fill="#111">2N</text>
<text x="370.7" y="818.7" font-size="8.7" text-anchor="middle" fill="#111">4N</text>
<text transform="translate(238.3 768.3) rotate(-90)" font-size="10.8" text-anchor="middle" fill="#111">BrdU</text>
<path d="M234 827.3 L234 785.5" fill="none" stroke="#111" stroke-width="0.9"/>
<path d="M234 782.5 L232.4 787 L235.6 787 Z" fill="#111" stroke="#111" stroke-width="0.3"/>
<path d="M234 827.3 L274 827.3" fill="none" stroke="#111" stroke-width="0.9"/>
<path d="M277.2 827.3 L272.8 825.7 L272.8 828.9 Z" fill="#111" stroke="#111" stroke-width="0.3"/>
<text x="279.4" y="830.1" font-size="10" fill="#111">DNA content</text>
<text x="419.4" y="567.6" font-size="17.5" font-weight="bold" fill="#000">G</text>
<text x="445.6" y="569.2" font-size="11.4" fill="#111">RPMI8226</text>
<rect x="457.3" y="588.7" width="6.8" height="6.9" fill="#fff" stroke="#999" stroke-width="0.8"/>
<rect x="457.3" y="600.5" width="6.8" height="6.8" fill="#6f6f6f" stroke="#777" stroke-width="0.6"/>
<text x="467.9" y="595.7" font-size="9.4" fill="#111">–</text>
<text x="475.8" y="595.7" font-size="9.4" fill="#111">BTZ</text>
<text x="467.4" y="607.4" font-size="9.4" fill="#111">+</text>
<text x="475.8" y="607.4" font-size="9.4" fill="#111">BTZ</text>
<line x1="452.5" y1="617.7" x2="452.5" y2="742.4" stroke="#111" stroke-width="1"/>
<line x1="449.5" y1="742.5" x2="452.7" y2="742.5" stroke="#111" stroke-width="1"/>
<text x="446.1" y="746.4" font-size="10.3" text-anchor="end" fill="#111">0</text>
<line x1="449.5" y1="706.5" x2="452.7" y2="706.5" stroke="#111" stroke-width="1"/>
<text x="446.1" y="710.9" font-size="10.3" text-anchor="end" fill="#111">20</text>
<line x1="449.5" y1="671.5" x2="452.7" y2="671.5" stroke="#111" stroke-width="1"/>
<text x="446.1" y="675.4" font-size="10.3" text-anchor="end" fill="#111">40</text>
<line x1="449.5" y1="635.5" x2="452.7" y2="635.5" stroke="#111" stroke-width="1"/>
<text x="446.1" y="639.9" font-size="10.3" text-anchor="end" fill="#111">60</text>
<line x1="450.1" y1="724.5" x2="452.7" y2="724.5" stroke="#111" stroke-width="1"/>
<line x1="450.1" y1="689.5" x2="452.7" y2="689.5" stroke="#111" stroke-width="1"/>
<line x1="450.1" y1="653.5" x2="452.7" y2="653.5" stroke="#111" stroke-width="1"/>
<line x1="450.1" y1="618.5" x2="452.7" y2="618.5" stroke="#111" stroke-width="1"/>
<line x1="450.8" y1="742.5" x2="494.6" y2="742.5" stroke="#111" stroke-width="1"/>
<line x1="472.5" y1="742.4" x2="472.5" y2="745.4" stroke="#111" stroke-width="1"/>
<line x1="494.5" y1="742.4" x2="494.5" y2="745.4" stroke="#111" stroke-width="1"/>
<rect x="456.5" y="708.5" width="6" height="34" fill="#fff" stroke="#111" stroke-width="0.9"/>
<line x1="459.5" y1="708.67" x2="459.5" y2="704.95" stroke="#111" stroke-width="0.8"/>
<line x1="457.05" y1="704.5" x2="461.45" y2="704.5" stroke="#111" stroke-width="0.9"/>
<rect x="463.5" y="669.5" width="6" height="73" fill="#6f6f6f" stroke="#111" stroke-width="0.9"/>
<line x1="466.5" y1="669.62" x2="466.5" y2="658.44" stroke="#111" stroke-width="0.8"/>
<line x1="464.35" y1="658.5" x2="468.75" y2="658.5" stroke="#111" stroke-width="0.9"/>
<rect x="477.5" y="714.5" width="6" height="28" fill="#fff" stroke="#111" stroke-width="0.9"/>
<line x1="480.5" y1="714.89" x2="480.5" y2="712.93" stroke="#111" stroke-width="0.8"/>
<line x1="478.2" y1="712.5" x2="482.6" y2="712.5" stroke="#111" stroke-width="0.9"/>
<rect x="485.5" y="635.5" width="6" height="107" fill="#6f6f6f" stroke="#111" stroke-width="0.9"/>
<line x1="488.5" y1="635.9" x2="488.5" y2="633.41" stroke="#111" stroke-width="0.8"/>
<line x1="485.9" y1="633.5" x2="490.3" y2="633.5" stroke="#111" stroke-width="0.9"/>
<text transform="translate(429.4 682.5) rotate(-90)" font-size="12" text-anchor="middle" fill="#111">% MT<tspan font-size="9" dy="-4.5" dx="2">−</tspan></text>
<text transform="translate(469.4 752.6) rotate(-52)" font-size="11.8" text-anchor="end" fill="#111">Cntl</text>
<text transform="translate(492.6 752.6) rotate(-52)" font-size="11.8" text-anchor="end" fill="#111">pG<tspan font-size="7.5" dy="2.8">1</tspan><tspan dy="-2.8">S</tspan></text>
</svg>
</body></html>
